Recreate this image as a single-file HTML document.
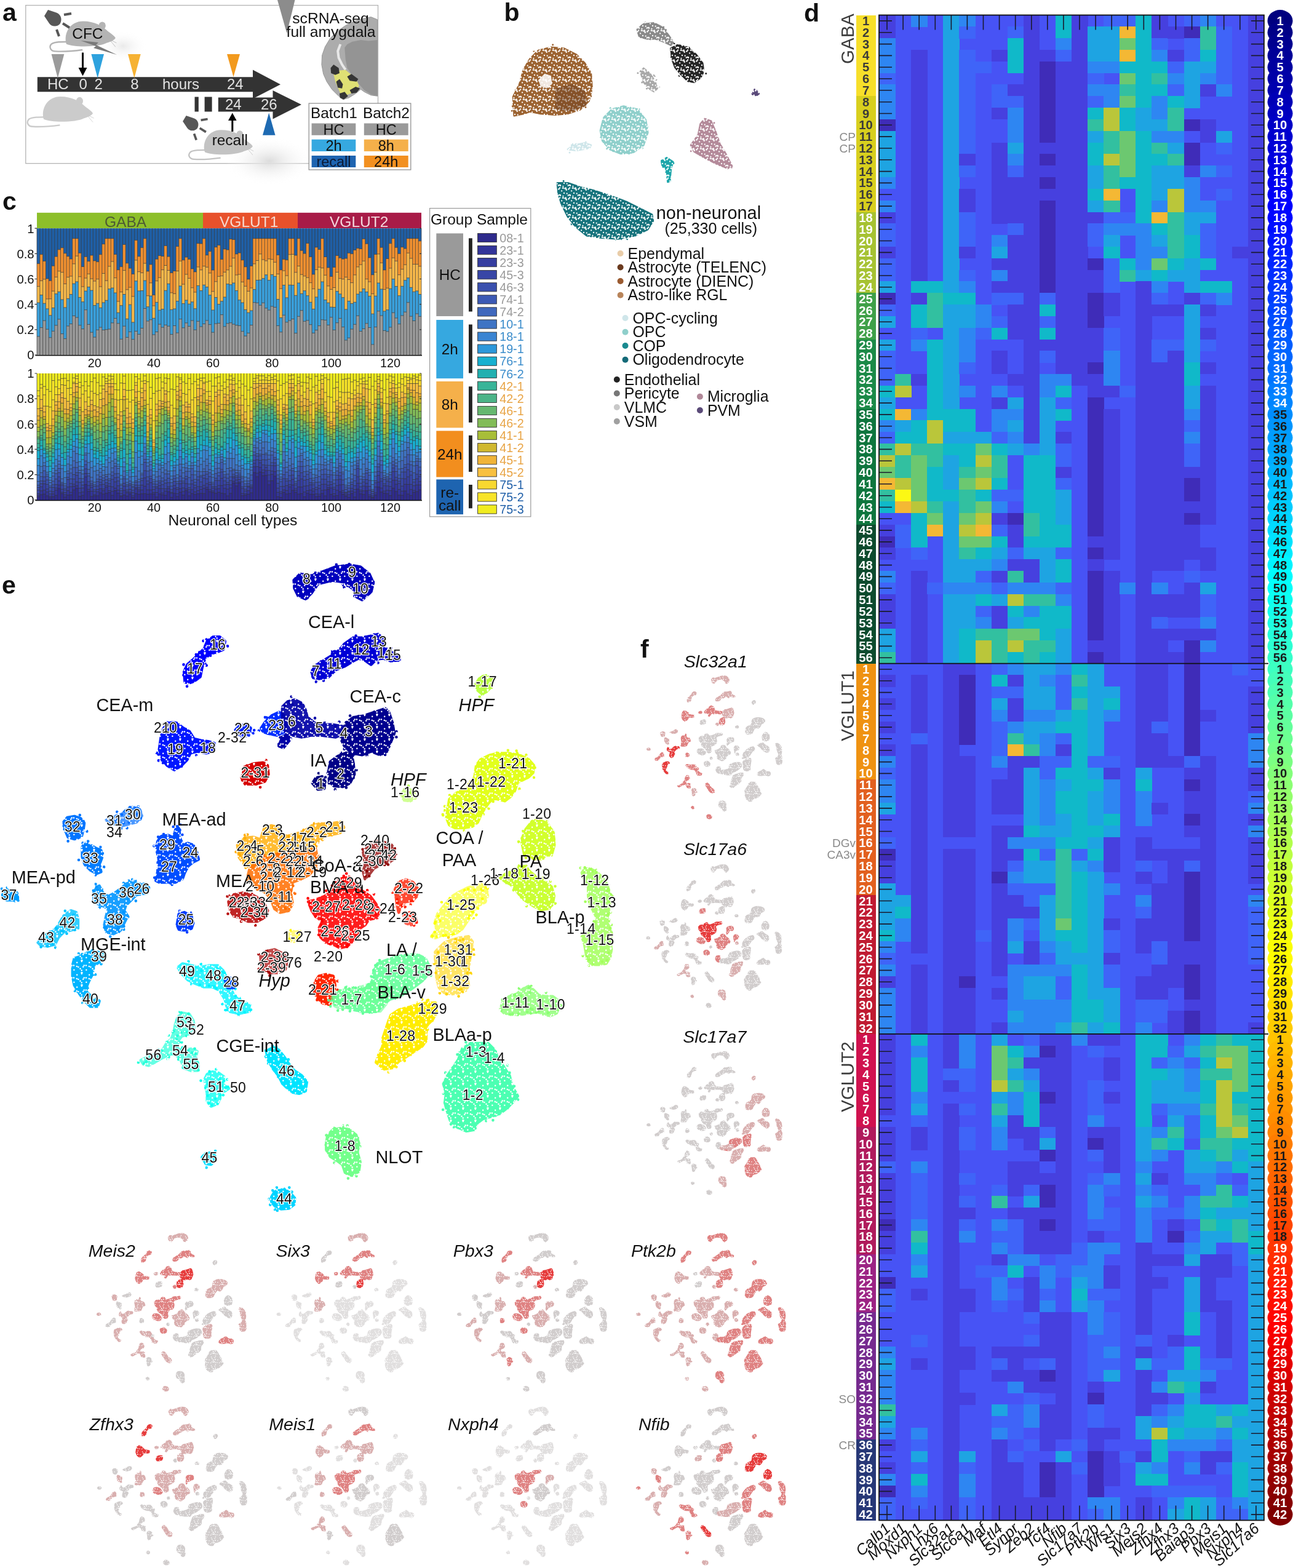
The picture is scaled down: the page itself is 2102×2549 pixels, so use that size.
<!DOCTYPE html>
<html><head><meta charset="utf-8"><title>Figure</title>
<style>html,body{margin:0;padding:0;background:#fff;width:2102px;height:2549px;overflow:hidden;}svg{display:block;}</style></head>
<body><svg width="2102" height="2549" viewBox="0 0 2102 2549">
<rect width="2102" height="2549" fill="#fff"/>
<g shape-rendering="crispEdges"><rect x="1429.0" y="24.5" width="625.9" height="2447.0" fill="#4753f5"/><rect x="1429.0" y="24.5" width="26.5" height="38.0" fill="#4640df"/><rect x="1429.0" y="62.1" width="26.5" height="56.9" fill="#2e86f2"/><rect x="1429.0" y="118.6" width="26.5" height="19.2" fill="#3f64f8"/><rect x="1429.0" y="137.4" width="26.5" height="56.9" fill="#2e86f2"/><rect x="1429.0" y="193.9" width="26.5" height="19.2" fill="#3f2cb8"/><rect x="1429.0" y="212.7" width="26.5" height="75.7" fill="#1ea4e2"/><rect x="1429.0" y="288.0" width="26.5" height="19.2" fill="#2e86f2"/><rect x="1429.0" y="325.7" width="26.5" height="19.2" fill="#2e86f2"/><rect x="1429.0" y="344.5" width="26.5" height="19.2" fill="#4640df"/><rect x="1429.0" y="363.3" width="26.5" height="38.0" fill="#3f64f8"/><rect x="1429.0" y="401.0" width="26.5" height="19.2" fill="#4640df"/><rect x="1429.0" y="419.8" width="26.5" height="38.0" fill="#3f64f8"/><rect x="1429.0" y="457.4" width="26.5" height="19.2" fill="#1ea4e2"/><rect x="1429.0" y="476.3" width="26.5" height="19.2" fill="#3f2cb8"/><rect x="1429.0" y="495.1" width="26.5" height="19.2" fill="#3f64f8"/><rect x="1429.0" y="513.9" width="26.5" height="19.2" fill="#1ea4e2"/><rect x="1429.0" y="551.5" width="26.5" height="19.2" fill="#1ea4e2"/><rect x="1429.0" y="570.4" width="26.5" height="56.9" fill="#3f64f8"/><rect x="1429.0" y="626.8" width="26.5" height="19.2" fill="#10b9c9"/><rect x="1429.0" y="645.7" width="26.5" height="19.2" fill="#1ea4e2"/><rect x="1429.0" y="664.5" width="26.5" height="19.2" fill="#10b9c9"/><rect x="1429.0" y="683.3" width="26.5" height="19.2" fill="#2e86f2"/><rect x="1429.0" y="702.1" width="26.5" height="19.2" fill="#3f64f8"/><rect x="1429.0" y="721.0" width="26.5" height="19.2" fill="#32c0a0"/><rect x="1429.0" y="739.8" width="26.5" height="19.2" fill="#bac63a"/><rect x="1429.0" y="758.6" width="26.5" height="19.2" fill="#6cc870"/><rect x="1429.0" y="777.4" width="26.5" height="19.2" fill="#f4b834"/><rect x="1429.0" y="796.2" width="26.5" height="19.2" fill="#32c0a0"/><rect x="1429.0" y="815.1" width="26.5" height="19.2" fill="#10b9c9"/><rect x="1429.0" y="852.7" width="26.5" height="19.2" fill="#4640df"/><rect x="1429.0" y="871.5" width="26.5" height="19.2" fill="#3f2cb8"/><rect x="1429.0" y="890.4" width="26.5" height="19.2" fill="#4640df"/><rect x="1429.0" y="928.0" width="26.5" height="19.2" fill="#2e86f2"/><rect x="1429.0" y="946.8" width="26.5" height="19.2" fill="#3f64f8"/><rect x="1429.0" y="965.6" width="26.5" height="56.9" fill="#4640df"/><rect x="1429.0" y="1022.1" width="26.5" height="38.0" fill="#1ea4e2"/><rect x="1429.0" y="1059.8" width="26.5" height="19.2" fill="#32c0a0"/><rect x="1429.0" y="1097.4" width="26.5" height="19.2" fill="#4640df"/><rect x="1429.0" y="1135.1" width="26.5" height="19.2" fill="#4640df"/><rect x="1429.0" y="1172.7" width="26.5" height="19.2" fill="#4640df"/><rect x="1429.0" y="1210.3" width="26.5" height="19.2" fill="#4640df"/><rect x="1429.0" y="1229.2" width="26.5" height="19.2" fill="#2e86f2"/><rect x="1429.0" y="1248.0" width="26.5" height="19.2" fill="#3f64f8"/><rect x="1429.0" y="1266.8" width="26.5" height="38.0" fill="#2e86f2"/><rect x="1429.0" y="1304.5" width="26.5" height="19.2" fill="#1ea4e2"/><rect x="1429.0" y="1360.9" width="26.5" height="19.2" fill="#3f64f8"/><rect x="1429.0" y="1379.8" width="26.5" height="19.2" fill="#3f2cb8"/><rect x="1429.0" y="1398.6" width="26.5" height="38.0" fill="#4640df"/><rect x="1429.0" y="1436.2" width="26.5" height="75.7" fill="#1ea4e2"/><rect x="1429.0" y="1511.5" width="26.5" height="19.2" fill="#10b9c9"/><rect x="1429.0" y="1530.3" width="26.5" height="19.2" fill="#2e86f2"/><rect x="1429.0" y="1549.2" width="26.5" height="19.2" fill="#3f64f8"/><rect x="1429.0" y="1568.0" width="26.5" height="19.2" fill="#2e86f2"/><rect x="1429.0" y="1586.8" width="26.5" height="19.2" fill="#4640df"/><rect x="1429.0" y="1605.6" width="26.5" height="75.7" fill="#2e86f2"/><rect x="1429.0" y="1680.9" width="26.5" height="132.2" fill="#4640df"/><rect x="1429.0" y="1831.5" width="26.5" height="56.9" fill="#4640df"/><rect x="1429.0" y="1888.0" width="26.5" height="19.2" fill="#3f64f8"/><rect x="1429.0" y="1906.8" width="26.5" height="75.7" fill="#4640df"/><rect x="1429.0" y="1982.1" width="26.5" height="19.2" fill="#3f2cb8"/><rect x="1429.0" y="2000.9" width="26.5" height="38.0" fill="#4640df"/><rect x="1429.0" y="2076.2" width="26.5" height="19.2" fill="#3f2cb8"/><rect x="1429.0" y="2095.0" width="26.5" height="38.0" fill="#3f64f8"/><rect x="1429.0" y="2189.1" width="26.5" height="19.2" fill="#2e86f2"/><rect x="1429.0" y="2208.0" width="26.5" height="19.2" fill="#1ea4e2"/><rect x="1429.0" y="2226.8" width="26.5" height="56.9" fill="#2e86f2"/><rect x="1429.0" y="2283.3" width="26.5" height="19.2" fill="#32c0a0"/><rect x="1429.0" y="2302.1" width="26.5" height="19.2" fill="#1ea4e2"/><rect x="1429.0" y="2320.9" width="26.5" height="19.2" fill="#2e86f2"/><rect x="1429.0" y="2339.7" width="26.5" height="19.2" fill="#4640df"/><rect x="1429.0" y="2377.4" width="26.5" height="19.2" fill="#4640df"/><rect x="1429.0" y="2396.2" width="26.5" height="19.2" fill="#2e86f2"/><rect x="1429.0" y="2415.0" width="26.5" height="19.2" fill="#3f2cb8"/><rect x="1429.0" y="2433.8" width="26.5" height="38.0" fill="#3f64f8"/><rect x="1455.1" y="608.0" width="26.5" height="19.2" fill="#32c0a0"/><rect x="1455.1" y="626.8" width="26.5" height="19.2" fill="#bac63a"/><rect x="1455.1" y="664.5" width="26.5" height="19.2" fill="#f4b834"/><rect x="1455.1" y="683.3" width="26.5" height="19.2" fill="#1ea4e2"/><rect x="1455.1" y="702.1" width="26.5" height="19.2" fill="#10b9c9"/><rect x="1455.1" y="721.0" width="26.5" height="19.2" fill="#bac63a"/><rect x="1455.1" y="739.8" width="26.5" height="38.0" fill="#32c0a0"/><rect x="1455.1" y="777.4" width="26.5" height="19.2" fill="#bac63a"/><rect x="1455.1" y="796.2" width="26.5" height="19.2" fill="#fcf814"/><rect x="1455.1" y="815.1" width="26.5" height="19.2" fill="#f4b834"/><rect x="1455.1" y="852.7" width="26.5" height="38.0" fill="#3f64f8"/><rect x="1455.1" y="1455.0" width="26.5" height="19.2" fill="#1ea4e2"/><rect x="1455.1" y="1473.9" width="26.5" height="19.2" fill="#10b9c9"/><rect x="1455.1" y="1492.7" width="26.5" height="38.0" fill="#2e86f2"/><rect x="1481.2" y="24.5" width="26.5" height="19.2" fill="#2e86f2"/><rect x="1481.2" y="81.0" width="26.5" height="376.9" fill="#4640df"/><rect x="1481.2" y="457.4" width="26.5" height="19.2" fill="#10b9c9"/><rect x="1481.2" y="476.3" width="26.5" height="19.2" fill="#4640df"/><rect x="1481.2" y="495.1" width="26.5" height="38.0" fill="#10b9c9"/><rect x="1481.2" y="532.7" width="26.5" height="19.2" fill="#3f64f8"/><rect x="1481.2" y="551.5" width="26.5" height="19.2" fill="#2e86f2"/><rect x="1481.2" y="608.0" width="26.5" height="19.2" fill="#4640df"/><rect x="1481.2" y="664.5" width="26.5" height="19.2" fill="#2e86f2"/><rect x="1481.2" y="683.3" width="26.5" height="38.0" fill="#10b9c9"/><rect x="1481.2" y="721.0" width="26.5" height="19.2" fill="#32c0a0"/><rect x="1481.2" y="739.8" width="26.5" height="75.7" fill="#6cc870"/><rect x="1481.2" y="815.1" width="26.5" height="19.2" fill="#bac63a"/><rect x="1481.2" y="833.9" width="26.5" height="56.9" fill="#10b9c9"/><rect x="1481.2" y="890.4" width="26.5" height="19.2" fill="#3f64f8"/><rect x="1481.2" y="928.0" width="26.5" height="151.0" fill="#4640df"/><rect x="1481.2" y="1097.4" width="26.5" height="94.5" fill="#4640df"/><rect x="1481.2" y="1191.5" width="26.5" height="19.2" fill="#3f64f8"/><rect x="1481.2" y="1210.3" width="26.5" height="339.2" fill="#4640df"/><rect x="1481.2" y="1568.0" width="26.5" height="113.3" fill="#4640df"/><rect x="1481.2" y="1680.9" width="26.5" height="19.2" fill="#10b9c9"/><rect x="1481.2" y="1699.7" width="26.5" height="19.2" fill="#2e86f2"/><rect x="1481.2" y="1718.6" width="26.5" height="56.9" fill="#10b9c9"/><rect x="1481.2" y="1775.0" width="26.5" height="19.2" fill="#2e86f2"/><rect x="1481.2" y="1793.9" width="26.5" height="19.2" fill="#1ea4e2"/><rect x="1481.2" y="1812.7" width="26.5" height="19.2" fill="#3f64f8"/><rect x="1481.2" y="1831.5" width="26.5" height="38.0" fill="#4640df"/><rect x="1481.2" y="1888.0" width="26.5" height="19.2" fill="#2e86f2"/><rect x="1481.2" y="1906.8" width="26.5" height="75.7" fill="#3f64f8"/><rect x="1481.2" y="1982.1" width="26.5" height="19.2" fill="#2e86f2"/><rect x="1481.2" y="2000.9" width="26.5" height="19.2" fill="#32c0a0"/><rect x="1481.2" y="2019.7" width="26.5" height="19.2" fill="#10b9c9"/><rect x="1481.2" y="2038.6" width="26.5" height="19.2" fill="#2e86f2"/><rect x="1481.2" y="2057.4" width="26.5" height="19.2" fill="#1ea4e2"/><rect x="1481.2" y="2095.0" width="26.5" height="19.2" fill="#4640df"/><rect x="1481.2" y="2170.3" width="26.5" height="19.2" fill="#3f64f8"/><rect x="1481.2" y="2208.0" width="26.5" height="19.2" fill="#4640df"/><rect x="1481.2" y="2320.9" width="26.5" height="19.2" fill="#2e86f2"/><rect x="1481.2" y="2339.7" width="26.5" height="19.2" fill="#3f64f8"/><rect x="1481.2" y="2358.6" width="26.5" height="19.2" fill="#1ea4e2"/><rect x="1481.2" y="2377.4" width="26.5" height="19.2" fill="#3f64f8"/><rect x="1481.2" y="2396.2" width="26.5" height="19.2" fill="#10b9c9"/><rect x="1481.2" y="2415.0" width="26.5" height="19.2" fill="#2e86f2"/><rect x="1481.2" y="2433.8" width="26.5" height="19.2" fill="#3f64f8"/><rect x="1507.2" y="457.4" width="26.5" height="19.2" fill="#10b9c9"/><rect x="1507.2" y="476.3" width="26.5" height="56.9" fill="#32c0a0"/><rect x="1507.2" y="551.5" width="26.5" height="132.2" fill="#10b9c9"/><rect x="1507.2" y="683.3" width="26.5" height="38.0" fill="#bac63a"/><rect x="1507.2" y="721.0" width="26.5" height="38.0" fill="#32c0a0"/><rect x="1507.2" y="758.6" width="26.5" height="56.9" fill="#10b9c9"/><rect x="1507.2" y="815.1" width="26.5" height="19.2" fill="#32c0a0"/><rect x="1507.2" y="833.9" width="26.5" height="19.2" fill="#6cc870"/><rect x="1507.2" y="852.7" width="26.5" height="19.2" fill="#f4b834"/><rect x="1507.2" y="946.8" width="26.5" height="19.2" fill="#3f64f8"/><rect x="1533.3" y="24.5" width="26.5" height="452.2" fill="#1ea4e2"/><rect x="1533.3" y="476.3" width="26.5" height="19.2" fill="#10b9c9"/><rect x="1533.3" y="495.1" width="26.5" height="169.8" fill="#1ea4e2"/><rect x="1533.3" y="664.5" width="26.5" height="38.0" fill="#10b9c9"/><rect x="1533.3" y="702.1" width="26.5" height="19.2" fill="#1ea4e2"/><rect x="1533.3" y="721.0" width="26.5" height="19.2" fill="#10b9c9"/><rect x="1533.3" y="739.8" width="26.5" height="56.9" fill="#1ea4e2"/><rect x="1533.3" y="796.2" width="26.5" height="19.2" fill="#10b9c9"/><rect x="1533.3" y="815.1" width="26.5" height="132.2" fill="#1ea4e2"/><rect x="1533.3" y="946.8" width="26.5" height="19.2" fill="#2e86f2"/><rect x="1533.3" y="965.6" width="26.5" height="113.3" fill="#1ea4e2"/><rect x="1533.3" y="1078.6" width="26.5" height="282.7" fill="#4640df"/><rect x="1533.3" y="1379.8" width="26.5" height="358.0" fill="#4640df"/><rect x="1533.3" y="1737.4" width="26.5" height="19.2" fill="#3f64f8"/><rect x="1533.3" y="1756.2" width="26.5" height="19.2" fill="#4640df"/><rect x="1533.3" y="1793.9" width="26.5" height="678.0" fill="#4640df"/><rect x="1559.4" y="24.5" width="26.5" height="19.2" fill="#2e86f2"/><rect x="1559.4" y="43.3" width="26.5" height="19.2" fill="#3f64f8"/><rect x="1559.4" y="81.0" width="26.5" height="169.8" fill="#3f64f8"/><rect x="1559.4" y="250.4" width="26.5" height="19.2" fill="#4640df"/><rect x="1559.4" y="269.2" width="26.5" height="19.2" fill="#3f64f8"/><rect x="1559.4" y="306.8" width="26.5" height="38.0" fill="#4640df"/><rect x="1559.4" y="344.5" width="26.5" height="56.9" fill="#3f64f8"/><rect x="1559.4" y="401.0" width="26.5" height="19.2" fill="#4640df"/><rect x="1559.4" y="438.6" width="26.5" height="19.2" fill="#3f64f8"/><rect x="1559.4" y="457.4" width="26.5" height="19.2" fill="#2e86f2"/><rect x="1559.4" y="476.3" width="26.5" height="19.2" fill="#10b9c9"/><rect x="1559.4" y="495.1" width="26.5" height="38.0" fill="#1ea4e2"/><rect x="1559.4" y="532.7" width="26.5" height="56.9" fill="#2e86f2"/><rect x="1559.4" y="589.2" width="26.5" height="19.2" fill="#3f64f8"/><rect x="1559.4" y="626.8" width="26.5" height="19.2" fill="#2e86f2"/><rect x="1559.4" y="664.5" width="26.5" height="38.0" fill="#10b9c9"/><rect x="1559.4" y="702.1" width="26.5" height="19.2" fill="#1ea4e2"/><rect x="1559.4" y="721.0" width="26.5" height="38.0" fill="#10b9c9"/><rect x="1559.4" y="758.6" width="26.5" height="19.2" fill="#32c0a0"/><rect x="1559.4" y="777.4" width="26.5" height="19.2" fill="#6cc870"/><rect x="1559.4" y="796.2" width="26.5" height="38.0" fill="#32c0a0"/><rect x="1559.4" y="833.9" width="26.5" height="19.2" fill="#6cc870"/><rect x="1559.4" y="852.7" width="26.5" height="19.2" fill="#bac63a"/><rect x="1559.4" y="871.5" width="26.5" height="19.2" fill="#6cc870"/><rect x="1559.4" y="890.4" width="26.5" height="19.2" fill="#32c0a0"/><rect x="1559.4" y="909.2" width="26.5" height="38.0" fill="#1ea4e2"/><rect x="1559.4" y="946.8" width="26.5" height="19.2" fill="#2e86f2"/><rect x="1559.4" y="965.6" width="26.5" height="56.9" fill="#1ea4e2"/><rect x="1559.4" y="1022.1" width="26.5" height="56.9" fill="#10b9c9"/><rect x="1559.4" y="1078.6" width="26.5" height="19.2" fill="#4640df"/><rect x="1559.4" y="1097.4" width="26.5" height="113.3" fill="#3f2cb8"/><rect x="1559.4" y="1229.2" width="26.5" height="132.2" fill="#4640df"/><rect x="1559.4" y="1379.8" width="26.5" height="207.5" fill="#4640df"/><rect x="1559.4" y="1586.8" width="26.5" height="19.2" fill="#3f2cb8"/><rect x="1559.4" y="1605.6" width="26.5" height="75.7" fill="#4640df"/><rect x="1559.4" y="1680.9" width="26.5" height="56.9" fill="#2e86f2"/><rect x="1559.4" y="1737.4" width="26.5" height="38.0" fill="#3f64f8"/><rect x="1559.4" y="1793.9" width="26.5" height="19.2" fill="#3f64f8"/><rect x="1559.4" y="1831.5" width="26.5" height="38.0" fill="#3f64f8"/><rect x="1559.4" y="1906.8" width="26.5" height="19.2" fill="#3f64f8"/><rect x="1559.4" y="1944.4" width="26.5" height="19.2" fill="#3f64f8"/><rect x="1559.4" y="1963.3" width="26.5" height="19.2" fill="#4640df"/><rect x="1559.4" y="1982.1" width="26.5" height="19.2" fill="#3f64f8"/><rect x="1559.4" y="2000.9" width="26.5" height="19.2" fill="#2e86f2"/><rect x="1559.4" y="2095.0" width="26.5" height="38.0" fill="#4640df"/><rect x="1559.4" y="2189.1" width="26.5" height="38.0" fill="#4640df"/><rect x="1559.4" y="2264.4" width="26.5" height="19.2" fill="#4640df"/><rect x="1559.4" y="2358.6" width="26.5" height="19.2" fill="#1ea4e2"/><rect x="1559.4" y="2377.4" width="26.5" height="19.2" fill="#3f64f8"/><rect x="1559.4" y="2396.2" width="26.5" height="38.0" fill="#2e86f2"/><rect x="1559.4" y="2433.8" width="26.5" height="38.0" fill="#3f64f8"/><rect x="1585.5" y="99.8" width="26.5" height="19.2" fill="#3f64f8"/><rect x="1585.5" y="495.1" width="26.5" height="38.0" fill="#2e86f2"/><rect x="1585.5" y="532.7" width="26.5" height="19.2" fill="#3f64f8"/><rect x="1585.5" y="702.1" width="26.5" height="19.2" fill="#1ea4e2"/><rect x="1585.5" y="721.0" width="26.5" height="19.2" fill="#6cc870"/><rect x="1585.5" y="739.8" width="26.5" height="19.2" fill="#bac63a"/><rect x="1585.5" y="758.6" width="26.5" height="19.2" fill="#6cc870"/><rect x="1585.5" y="777.4" width="26.5" height="19.2" fill="#bac63a"/><rect x="1585.5" y="796.2" width="26.5" height="19.2" fill="#10b9c9"/><rect x="1585.5" y="815.1" width="26.5" height="19.2" fill="#6cc870"/><rect x="1585.5" y="833.9" width="26.5" height="19.2" fill="#bac63a"/><rect x="1585.5" y="852.7" width="26.5" height="19.2" fill="#f4b834"/><rect x="1585.5" y="871.5" width="26.5" height="19.2" fill="#6cc870"/><rect x="1585.5" y="890.4" width="26.5" height="19.2" fill="#10b9c9"/><rect x="1585.5" y="909.2" width="26.5" height="19.2" fill="#1ea4e2"/><rect x="1585.5" y="928.0" width="26.5" height="19.2" fill="#3f64f8"/><rect x="1585.5" y="946.8" width="26.5" height="19.2" fill="#2e86f2"/><rect x="1585.5" y="965.6" width="26.5" height="19.2" fill="#10b9c9"/><rect x="1585.5" y="984.5" width="26.5" height="19.2" fill="#3f64f8"/><rect x="1585.5" y="1003.3" width="26.5" height="19.2" fill="#2e86f2"/><rect x="1585.5" y="1022.1" width="26.5" height="19.2" fill="#32c0a0"/><rect x="1585.5" y="1040.9" width="26.5" height="38.0" fill="#bac63a"/><rect x="1585.5" y="1511.5" width="26.5" height="19.2" fill="#3f64f8"/><rect x="1585.5" y="2057.4" width="26.5" height="19.2" fill="#3f64f8"/><rect x="1611.6" y="81.0" width="26.5" height="19.2" fill="#4640df"/><rect x="1611.6" y="137.4" width="26.5" height="38.0" fill="#3f64f8"/><rect x="1611.6" y="175.1" width="26.5" height="19.2" fill="#4640df"/><rect x="1611.6" y="231.6" width="26.5" height="132.2" fill="#4640df"/><rect x="1611.6" y="382.1" width="26.5" height="19.2" fill="#2e86f2"/><rect x="1611.6" y="401.0" width="26.5" height="19.2" fill="#1ea4e2"/><rect x="1611.6" y="419.8" width="26.5" height="19.2" fill="#4640df"/><rect x="1611.6" y="438.6" width="26.5" height="19.2" fill="#2e86f2"/><rect x="1611.6" y="457.4" width="26.5" height="19.2" fill="#4640df"/><rect x="1611.6" y="476.3" width="26.5" height="19.2" fill="#3f64f8"/><rect x="1611.6" y="513.9" width="26.5" height="19.2" fill="#3f64f8"/><rect x="1611.6" y="532.7" width="26.5" height="19.2" fill="#10b9c9"/><rect x="1611.6" y="570.4" width="26.5" height="38.0" fill="#4640df"/><rect x="1611.6" y="626.8" width="26.5" height="19.2" fill="#2e86f2"/><rect x="1611.6" y="645.7" width="26.5" height="19.2" fill="#4640df"/><rect x="1611.6" y="664.5" width="26.5" height="38.0" fill="#2e86f2"/><rect x="1611.6" y="702.1" width="26.5" height="19.2" fill="#3f64f8"/><rect x="1611.6" y="721.0" width="26.5" height="19.2" fill="#10b9c9"/><rect x="1611.6" y="739.8" width="26.5" height="38.0" fill="#32c0a0"/><rect x="1611.6" y="777.4" width="26.5" height="19.2" fill="#10b9c9"/><rect x="1611.6" y="796.2" width="26.5" height="19.2" fill="#3f64f8"/><rect x="1611.6" y="815.1" width="26.5" height="19.2" fill="#2e86f2"/><rect x="1611.6" y="833.9" width="26.5" height="19.2" fill="#4640df"/><rect x="1611.6" y="852.7" width="26.5" height="19.2" fill="#3f64f8"/><rect x="1611.6" y="871.5" width="26.5" height="19.2" fill="#10b9c9"/><rect x="1611.6" y="890.4" width="26.5" height="19.2" fill="#1ea4e2"/><rect x="1611.6" y="909.2" width="26.5" height="19.2" fill="#2e86f2"/><rect x="1611.6" y="928.0" width="26.5" height="19.2" fill="#4640df"/><rect x="1611.6" y="946.8" width="26.5" height="19.2" fill="#3f64f8"/><rect x="1611.6" y="965.6" width="26.5" height="19.2" fill="#1ea4e2"/><rect x="1611.6" y="984.5" width="26.5" height="38.0" fill="#4640df"/><rect x="1611.6" y="1022.1" width="26.5" height="56.9" fill="#32c0a0"/><rect x="1611.6" y="1078.6" width="26.5" height="19.2" fill="#3f64f8"/><rect x="1611.6" y="1097.4" width="26.5" height="19.2" fill="#10b9c9"/><rect x="1611.6" y="1116.2" width="26.5" height="19.2" fill="#3f64f8"/><rect x="1611.6" y="1135.1" width="26.5" height="19.2" fill="#1ea4e2"/><rect x="1611.6" y="1153.9" width="26.5" height="19.2" fill="#2e86f2"/><rect x="1611.6" y="1172.7" width="26.5" height="56.9" fill="#3f64f8"/><rect x="1611.6" y="1229.2" width="26.5" height="19.2" fill="#2e86f2"/><rect x="1611.6" y="1266.8" width="26.5" height="56.9" fill="#4640df"/><rect x="1611.6" y="1342.1" width="26.5" height="75.7" fill="#4640df"/><rect x="1611.6" y="1417.4" width="26.5" height="19.2" fill="#3f2cb8"/><rect x="1611.6" y="1436.2" width="26.5" height="151.0" fill="#4640df"/><rect x="1611.6" y="1605.6" width="26.5" height="19.2" fill="#4640df"/><rect x="1611.6" y="1662.1" width="26.5" height="19.2" fill="#4640df"/><rect x="1611.6" y="1680.9" width="26.5" height="19.2" fill="#1ea4e2"/><rect x="1611.6" y="1699.7" width="26.5" height="56.9" fill="#6cc870"/><rect x="1611.6" y="1756.2" width="26.5" height="19.2" fill="#bac63a"/><rect x="1611.6" y="1775.0" width="26.5" height="19.2" fill="#1ea4e2"/><rect x="1611.6" y="1793.9" width="26.5" height="19.2" fill="#32c0a0"/><rect x="1611.6" y="1812.7" width="26.5" height="19.2" fill="#1ea4e2"/><rect x="1611.6" y="1831.5" width="26.5" height="38.0" fill="#2e86f2"/><rect x="1611.6" y="1925.6" width="26.5" height="19.2" fill="#3f64f8"/><rect x="1611.6" y="1944.4" width="26.5" height="19.2" fill="#32c0a0"/><rect x="1611.6" y="1982.1" width="26.5" height="19.2" fill="#2e86f2"/><rect x="1611.6" y="2000.9" width="26.5" height="19.2" fill="#3f64f8"/><rect x="1611.6" y="2019.7" width="26.5" height="19.2" fill="#2e86f2"/><rect x="1611.6" y="2038.6" width="26.5" height="19.2" fill="#4640df"/><rect x="1611.6" y="2057.4" width="26.5" height="19.2" fill="#3f64f8"/><rect x="1611.6" y="2076.2" width="26.5" height="38.0" fill="#2e86f2"/><rect x="1611.6" y="2113.9" width="26.5" height="19.2" fill="#3f64f8"/><rect x="1611.6" y="2189.1" width="26.5" height="19.2" fill="#4640df"/><rect x="1611.6" y="2208.0" width="26.5" height="19.2" fill="#3f64f8"/><rect x="1611.6" y="2226.8" width="26.5" height="19.2" fill="#4640df"/><rect x="1611.6" y="2283.3" width="26.5" height="19.2" fill="#1ea4e2"/><rect x="1611.6" y="2302.1" width="26.5" height="19.2" fill="#3f64f8"/><rect x="1611.6" y="2320.9" width="26.5" height="19.2" fill="#2e86f2"/><rect x="1611.6" y="2339.7" width="26.5" height="132.2" fill="#4640df"/><rect x="1637.6" y="43.3" width="26.5" height="19.2" fill="#3f64f8"/><rect x="1637.6" y="62.1" width="26.5" height="56.9" fill="#10b9c9"/><rect x="1637.6" y="137.4" width="26.5" height="19.2" fill="#4640df"/><rect x="1637.6" y="156.3" width="26.5" height="19.2" fill="#3f64f8"/><rect x="1637.6" y="175.1" width="26.5" height="56.9" fill="#2e86f2"/><rect x="1637.6" y="231.6" width="26.5" height="19.2" fill="#1ea4e2"/><rect x="1637.6" y="250.4" width="26.5" height="19.2" fill="#2e86f2"/><rect x="1637.6" y="269.2" width="26.5" height="19.2" fill="#3f64f8"/><rect x="1637.6" y="288.0" width="26.5" height="75.7" fill="#4640df"/><rect x="1637.6" y="363.3" width="26.5" height="19.2" fill="#3f64f8"/><rect x="1637.6" y="382.1" width="26.5" height="94.5" fill="#4640df"/><rect x="1637.6" y="476.3" width="26.5" height="19.2" fill="#3f64f8"/><rect x="1637.6" y="495.1" width="26.5" height="56.9" fill="#4640df"/><rect x="1637.6" y="608.0" width="26.5" height="19.2" fill="#4640df"/><rect x="1637.6" y="645.7" width="26.5" height="19.2" fill="#1ea4e2"/><rect x="1637.6" y="664.5" width="26.5" height="19.2" fill="#2e86f2"/><rect x="1637.6" y="683.3" width="26.5" height="19.2" fill="#1ea4e2"/><rect x="1637.6" y="702.1" width="26.5" height="19.2" fill="#2e86f2"/><rect x="1637.6" y="721.0" width="26.5" height="19.2" fill="#1ea4e2"/><rect x="1637.6" y="796.2" width="26.5" height="19.2" fill="#3f64f8"/><rect x="1637.6" y="833.9" width="26.5" height="19.2" fill="#3f2cb8"/><rect x="1637.6" y="852.7" width="26.5" height="38.0" fill="#4640df"/><rect x="1637.6" y="890.4" width="26.5" height="19.2" fill="#3f64f8"/><rect x="1637.6" y="909.2" width="26.5" height="19.2" fill="#4640df"/><rect x="1637.6" y="928.0" width="26.5" height="19.2" fill="#32c0a0"/><rect x="1637.6" y="946.8" width="26.5" height="19.2" fill="#2e86f2"/><rect x="1637.6" y="965.6" width="26.5" height="19.2" fill="#bac63a"/><rect x="1637.6" y="984.5" width="26.5" height="19.2" fill="#10b9c9"/><rect x="1637.6" y="1003.3" width="26.5" height="19.2" fill="#1ea4e2"/><rect x="1637.6" y="1022.1" width="26.5" height="19.2" fill="#6cc870"/><rect x="1637.6" y="1040.9" width="26.5" height="19.2" fill="#bac63a"/><rect x="1637.6" y="1059.8" width="26.5" height="19.2" fill="#10b9c9"/><rect x="1637.6" y="1078.6" width="26.5" height="19.2" fill="#2e86f2"/><rect x="1637.6" y="1097.4" width="26.5" height="19.2" fill="#4640df"/><rect x="1637.6" y="1116.2" width="26.5" height="19.2" fill="#3f64f8"/><rect x="1637.6" y="1135.1" width="26.5" height="38.0" fill="#4640df"/><rect x="1637.6" y="1172.7" width="26.5" height="19.2" fill="#2e86f2"/><rect x="1637.6" y="1191.5" width="26.5" height="19.2" fill="#32c0a0"/><rect x="1637.6" y="1210.3" width="26.5" height="19.2" fill="#f4b834"/><rect x="1637.6" y="1229.2" width="26.5" height="94.5" fill="#4640df"/><rect x="1637.6" y="1342.1" width="26.5" height="19.2" fill="#4640df"/><rect x="1637.6" y="1360.9" width="26.5" height="19.2" fill="#2e86f2"/><rect x="1637.6" y="1379.8" width="26.5" height="19.2" fill="#4640df"/><rect x="1637.6" y="1398.6" width="26.5" height="19.2" fill="#3f64f8"/><rect x="1637.6" y="1417.4" width="26.5" height="19.2" fill="#2e86f2"/><rect x="1637.6" y="1436.2" width="26.5" height="19.2" fill="#3f64f8"/><rect x="1637.6" y="1455.0" width="26.5" height="38.0" fill="#4640df"/><rect x="1637.6" y="1492.7" width="26.5" height="38.0" fill="#2e86f2"/><rect x="1637.6" y="1530.3" width="26.5" height="19.2" fill="#1ea4e2"/><rect x="1637.6" y="1568.0" width="26.5" height="75.7" fill="#2e86f2"/><rect x="1637.6" y="1643.3" width="26.5" height="19.2" fill="#1ea4e2"/><rect x="1637.6" y="1662.1" width="26.5" height="19.2" fill="#2e86f2"/><rect x="1637.6" y="1699.7" width="26.5" height="19.2" fill="#10b9c9"/><rect x="1637.6" y="1718.6" width="26.5" height="19.2" fill="#32c0a0"/><rect x="1637.6" y="1737.4" width="26.5" height="19.2" fill="#1ea4e2"/><rect x="1637.6" y="1756.2" width="26.5" height="19.2" fill="#32c0a0"/><rect x="1637.6" y="1775.0" width="26.5" height="38.0" fill="#2e86f2"/><rect x="1637.6" y="1812.7" width="26.5" height="38.0" fill="#4640df"/><rect x="1637.6" y="1888.0" width="26.5" height="56.9" fill="#4640df"/><rect x="1637.6" y="1963.3" width="26.5" height="19.2" fill="#4640df"/><rect x="1637.6" y="1982.1" width="26.5" height="56.9" fill="#3f64f8"/><rect x="1637.6" y="2038.6" width="26.5" height="19.2" fill="#2e86f2"/><rect x="1637.6" y="2057.4" width="26.5" height="19.2" fill="#10b9c9"/><rect x="1637.6" y="2095.0" width="26.5" height="19.2" fill="#3f64f8"/><rect x="1637.6" y="2189.1" width="26.5" height="56.9" fill="#4640df"/><rect x="1637.6" y="2245.6" width="26.5" height="19.2" fill="#2e86f2"/><rect x="1637.6" y="2283.3" width="26.5" height="56.9" fill="#3f64f8"/><rect x="1637.6" y="2358.6" width="26.5" height="19.2" fill="#3f64f8"/><rect x="1637.6" y="2377.4" width="26.5" height="94.5" fill="#4640df"/><rect x="1663.7" y="24.5" width="26.5" height="696.9" fill="#4640df"/><rect x="1663.7" y="721.0" width="26.5" height="19.2" fill="#2e86f2"/><rect x="1663.7" y="739.8" width="26.5" height="94.5" fill="#10b9c9"/><rect x="1663.7" y="833.9" width="26.5" height="38.0" fill="#32c0a0"/><rect x="1663.7" y="871.5" width="26.5" height="19.2" fill="#10b9c9"/><rect x="1663.7" y="890.4" width="26.5" height="19.2" fill="#1ea4e2"/><rect x="1663.7" y="909.2" width="26.5" height="38.0" fill="#4640df"/><rect x="1663.7" y="946.8" width="26.5" height="19.2" fill="#2e86f2"/><rect x="1663.7" y="965.6" width="26.5" height="19.2" fill="#32c0a0"/><rect x="1663.7" y="984.5" width="26.5" height="19.2" fill="#2e86f2"/><rect x="1663.7" y="1003.3" width="26.5" height="19.2" fill="#10b9c9"/><rect x="1663.7" y="1022.1" width="26.5" height="19.2" fill="#6cc870"/><rect x="1663.7" y="1040.9" width="26.5" height="38.0" fill="#32c0a0"/><rect x="1663.7" y="1078.6" width="26.5" height="75.7" fill="#1ea4e2"/><rect x="1663.7" y="1153.9" width="26.5" height="19.2" fill="#2e86f2"/><rect x="1663.7" y="1172.7" width="26.5" height="38.0" fill="#1ea4e2"/><rect x="1663.7" y="1210.3" width="26.5" height="19.2" fill="#32c0a0"/><rect x="1663.7" y="1229.2" width="26.5" height="19.2" fill="#4640df"/><rect x="1663.7" y="1248.0" width="26.5" height="94.5" fill="#1ea4e2"/><rect x="1663.7" y="1342.1" width="26.5" height="19.2" fill="#10b9c9"/><rect x="1663.7" y="1360.9" width="26.5" height="19.2" fill="#2e86f2"/><rect x="1663.7" y="1379.8" width="26.5" height="19.2" fill="#10b9c9"/><rect x="1663.7" y="1398.6" width="26.5" height="38.0" fill="#1ea4e2"/><rect x="1663.7" y="1436.2" width="26.5" height="38.0" fill="#3f64f8"/><rect x="1663.7" y="1473.9" width="26.5" height="19.2" fill="#4640df"/><rect x="1663.7" y="1492.7" width="26.5" height="19.2" fill="#3f64f8"/><rect x="1663.7" y="1530.3" width="26.5" height="38.0" fill="#4640df"/><rect x="1663.7" y="1568.0" width="26.5" height="19.2" fill="#2e86f2"/><rect x="1663.7" y="1586.8" width="26.5" height="38.0" fill="#1ea4e2"/><rect x="1663.7" y="1624.5" width="26.5" height="56.9" fill="#2e86f2"/><rect x="1663.7" y="1680.9" width="26.5" height="19.2" fill="#3f64f8"/><rect x="1663.7" y="1699.7" width="26.5" height="19.2" fill="#2e86f2"/><rect x="1663.7" y="1718.6" width="26.5" height="19.2" fill="#4640df"/><rect x="1663.7" y="1737.4" width="26.5" height="19.2" fill="#2e86f2"/><rect x="1663.7" y="1756.2" width="26.5" height="19.2" fill="#1ea4e2"/><rect x="1663.7" y="1775.0" width="26.5" height="56.9" fill="#10b9c9"/><rect x="1663.7" y="1831.5" width="26.5" height="38.0" fill="#4640df"/><rect x="1663.7" y="1888.0" width="26.5" height="38.0" fill="#4640df"/><rect x="1663.7" y="1925.6" width="26.5" height="19.2" fill="#3f64f8"/><rect x="1663.7" y="1944.4" width="26.5" height="19.2" fill="#1ea4e2"/><rect x="1663.7" y="1963.3" width="26.5" height="75.7" fill="#4640df"/><rect x="1663.7" y="2038.6" width="26.5" height="19.2" fill="#2e86f2"/><rect x="1663.7" y="2076.2" width="26.5" height="56.9" fill="#4640df"/><rect x="1663.7" y="2132.7" width="26.5" height="19.2" fill="#3f64f8"/><rect x="1663.7" y="2170.3" width="26.5" height="19.2" fill="#3f64f8"/><rect x="1663.7" y="2189.1" width="26.5" height="19.2" fill="#4640df"/><rect x="1663.7" y="2226.8" width="26.5" height="38.0" fill="#4640df"/><rect x="1663.7" y="2264.4" width="26.5" height="19.2" fill="#3f64f8"/><rect x="1663.7" y="2283.3" width="26.5" height="38.0" fill="#2e86f2"/><rect x="1663.7" y="2339.7" width="26.5" height="19.2" fill="#3f64f8"/><rect x="1663.7" y="2433.8" width="26.5" height="38.0" fill="#4640df"/><rect x="1689.8" y="81.0" width="26.5" height="19.2" fill="#4640df"/><rect x="1689.8" y="99.8" width="26.5" height="132.2" fill="#3f2cb8"/><rect x="1689.8" y="231.6" width="26.5" height="19.2" fill="#4640df"/><rect x="1689.8" y="250.4" width="26.5" height="19.2" fill="#3f2cb8"/><rect x="1689.8" y="269.2" width="26.5" height="19.2" fill="#4640df"/><rect x="1689.8" y="288.0" width="26.5" height="19.2" fill="#3f2cb8"/><rect x="1689.8" y="306.8" width="26.5" height="19.2" fill="#4640df"/><rect x="1689.8" y="325.7" width="26.5" height="151.0" fill="#3f2cb8"/><rect x="1689.8" y="476.3" width="26.5" height="19.2" fill="#3f64f8"/><rect x="1689.8" y="495.1" width="26.5" height="19.2" fill="#10b9c9"/><rect x="1689.8" y="513.9" width="26.5" height="19.2" fill="#3f64f8"/><rect x="1689.8" y="532.7" width="26.5" height="19.2" fill="#10b9c9"/><rect x="1689.8" y="551.5" width="26.5" height="19.2" fill="#4640df"/><rect x="1689.8" y="570.4" width="26.5" height="19.2" fill="#3f64f8"/><rect x="1689.8" y="608.0" width="26.5" height="38.0" fill="#2e86f2"/><rect x="1689.8" y="645.7" width="26.5" height="94.5" fill="#1ea4e2"/><rect x="1689.8" y="739.8" width="26.5" height="151.0" fill="#10b9c9"/><rect x="1689.8" y="890.4" width="26.5" height="56.9" fill="#1ea4e2"/><rect x="1689.8" y="946.8" width="26.5" height="19.2" fill="#2e86f2"/><rect x="1689.8" y="965.6" width="26.5" height="19.2" fill="#32c0a0"/><rect x="1689.8" y="984.5" width="26.5" height="56.9" fill="#10b9c9"/><rect x="1689.8" y="1040.9" width="26.5" height="19.2" fill="#32c0a0"/><rect x="1689.8" y="1059.8" width="26.5" height="19.2" fill="#10b9c9"/><rect x="1689.8" y="1078.6" width="26.5" height="19.2" fill="#1ea4e2"/><rect x="1689.8" y="1097.4" width="26.5" height="19.2" fill="#2e86f2"/><rect x="1689.8" y="1116.2" width="26.5" height="38.0" fill="#1ea4e2"/><rect x="1689.8" y="1153.9" width="26.5" height="19.2" fill="#2e86f2"/><rect x="1689.8" y="1172.7" width="26.5" height="19.2" fill="#1ea4e2"/><rect x="1689.8" y="1191.5" width="26.5" height="38.0" fill="#2e86f2"/><rect x="1689.8" y="1229.2" width="26.5" height="38.0" fill="#3f64f8"/><rect x="1689.8" y="1266.8" width="26.5" height="75.7" fill="#2e86f2"/><rect x="1689.8" y="1342.1" width="26.5" height="19.2" fill="#1ea4e2"/><rect x="1689.8" y="1360.9" width="26.5" height="19.2" fill="#2e86f2"/><rect x="1689.8" y="1379.8" width="26.5" height="19.2" fill="#3f64f8"/><rect x="1689.8" y="1398.6" width="26.5" height="38.0" fill="#1ea4e2"/><rect x="1689.8" y="1436.2" width="26.5" height="19.2" fill="#3f64f8"/><rect x="1689.8" y="1455.0" width="26.5" height="75.7" fill="#1ea4e2"/><rect x="1689.8" y="1530.3" width="26.5" height="19.2" fill="#2e86f2"/><rect x="1689.8" y="1549.2" width="26.5" height="19.2" fill="#3f64f8"/><rect x="1689.8" y="1568.0" width="26.5" height="19.2" fill="#2e86f2"/><rect x="1689.8" y="1586.8" width="26.5" height="38.0" fill="#1ea4e2"/><rect x="1689.8" y="1624.5" width="26.5" height="56.9" fill="#2e86f2"/><rect x="1689.8" y="1680.9" width="26.5" height="19.2" fill="#4640df"/><rect x="1689.8" y="1699.7" width="26.5" height="19.2" fill="#3f2cb8"/><rect x="1689.8" y="1718.6" width="26.5" height="56.9" fill="#4640df"/><rect x="1689.8" y="1775.0" width="26.5" height="19.2" fill="#3f2cb8"/><rect x="1689.8" y="1793.9" width="26.5" height="38.0" fill="#4640df"/><rect x="1689.8" y="1831.5" width="26.5" height="19.2" fill="#3f64f8"/><rect x="1689.8" y="1850.3" width="26.5" height="19.2" fill="#1ea4e2"/><rect x="1689.8" y="1869.2" width="26.5" height="19.2" fill="#3f2cb8"/><rect x="1689.8" y="1906.8" width="26.5" height="19.2" fill="#4640df"/><rect x="1689.8" y="1925.6" width="26.5" height="38.0" fill="#3f2cb8"/><rect x="1689.8" y="1963.3" width="26.5" height="19.2" fill="#4640df"/><rect x="1689.8" y="1982.1" width="26.5" height="19.2" fill="#3f2cb8"/><rect x="1689.8" y="2000.9" width="26.5" height="38.0" fill="#4640df"/><rect x="1689.8" y="2057.4" width="26.5" height="38.0" fill="#2e86f2"/><rect x="1689.8" y="2095.0" width="26.5" height="19.2" fill="#3f64f8"/><rect x="1689.8" y="2113.9" width="26.5" height="19.2" fill="#2e86f2"/><rect x="1689.8" y="2132.7" width="26.5" height="75.7" fill="#4640df"/><rect x="1689.8" y="2208.0" width="26.5" height="19.2" fill="#3f64f8"/><rect x="1689.8" y="2226.8" width="26.5" height="19.2" fill="#3f2cb8"/><rect x="1689.8" y="2245.6" width="26.5" height="19.2" fill="#4640df"/><rect x="1689.8" y="2283.3" width="26.5" height="75.7" fill="#4640df"/><rect x="1689.8" y="2377.4" width="26.5" height="56.9" fill="#3f2cb8"/><rect x="1689.8" y="2433.8" width="26.5" height="38.0" fill="#4640df"/><rect x="1715.9" y="24.5" width="26.5" height="38.0" fill="#10b9c9"/><rect x="1715.9" y="62.1" width="26.5" height="19.2" fill="#2e86f2"/><rect x="1715.9" y="81.0" width="26.5" height="19.2" fill="#3f64f8"/><rect x="1715.9" y="99.8" width="26.5" height="508.6" fill="#4640df"/><rect x="1715.9" y="608.0" width="26.5" height="19.2" fill="#2e86f2"/><rect x="1715.9" y="626.8" width="26.5" height="19.2" fill="#10b9c9"/><rect x="1715.9" y="645.7" width="26.5" height="19.2" fill="#3f64f8"/><rect x="1715.9" y="664.5" width="26.5" height="19.2" fill="#10b9c9"/><rect x="1715.9" y="702.1" width="26.5" height="19.2" fill="#4640df"/><rect x="1715.9" y="721.0" width="26.5" height="38.0" fill="#3f64f8"/><rect x="1715.9" y="758.6" width="26.5" height="19.2" fill="#4640df"/><rect x="1715.9" y="777.4" width="26.5" height="19.2" fill="#3f64f8"/><rect x="1715.9" y="796.2" width="26.5" height="56.9" fill="#1ea4e2"/><rect x="1715.9" y="852.7" width="26.5" height="38.0" fill="#10b9c9"/><rect x="1715.9" y="890.4" width="26.5" height="19.2" fill="#3f64f8"/><rect x="1715.9" y="909.2" width="26.5" height="38.0" fill="#10b9c9"/><rect x="1715.9" y="946.8" width="26.5" height="19.2" fill="#3f64f8"/><rect x="1715.9" y="965.6" width="26.5" height="19.2" fill="#2e86f2"/><rect x="1715.9" y="984.5" width="26.5" height="38.0" fill="#10b9c9"/><rect x="1715.9" y="1022.1" width="26.5" height="56.9" fill="#1ea4e2"/><rect x="1715.9" y="1078.6" width="26.5" height="19.2" fill="#2e86f2"/><rect x="1715.9" y="1097.4" width="26.5" height="56.9" fill="#3f64f8"/><rect x="1715.9" y="1153.9" width="26.5" height="19.2" fill="#1ea4e2"/><rect x="1715.9" y="1172.7" width="26.5" height="19.2" fill="#10b9c9"/><rect x="1715.9" y="1191.5" width="26.5" height="19.2" fill="#3f64f8"/><rect x="1715.9" y="1210.3" width="26.5" height="19.2" fill="#4640df"/><rect x="1715.9" y="1229.2" width="26.5" height="19.2" fill="#3f64f8"/><rect x="1715.9" y="1248.0" width="26.5" height="19.2" fill="#10b9c9"/><rect x="1715.9" y="1266.8" width="26.5" height="19.2" fill="#1ea4e2"/><rect x="1715.9" y="1285.6" width="26.5" height="38.0" fill="#10b9c9"/><rect x="1715.9" y="1323.3" width="26.5" height="38.0" fill="#1ea4e2"/><rect x="1715.9" y="1360.9" width="26.5" height="19.2" fill="#10b9c9"/><rect x="1715.9" y="1379.8" width="26.5" height="113.3" fill="#32c0a0"/><rect x="1715.9" y="1492.7" width="26.5" height="19.2" fill="#6cc870"/><rect x="1715.9" y="1511.5" width="26.5" height="19.2" fill="#10b9c9"/><rect x="1715.9" y="1530.3" width="26.5" height="38.0" fill="#1ea4e2"/><rect x="1715.9" y="1568.0" width="26.5" height="19.2" fill="#2e86f2"/><rect x="1715.9" y="1586.8" width="26.5" height="38.0" fill="#3f64f8"/><rect x="1715.9" y="1624.5" width="26.5" height="38.0" fill="#2e86f2"/><rect x="1715.9" y="1662.1" width="26.5" height="19.2" fill="#1ea4e2"/><rect x="1715.9" y="1680.9" width="26.5" height="358.0" fill="#4640df"/><rect x="1715.9" y="2038.6" width="26.5" height="38.0" fill="#3f64f8"/><rect x="1715.9" y="2132.7" width="26.5" height="207.5" fill="#4640df"/><rect x="1715.9" y="2358.6" width="26.5" height="19.2" fill="#1ea4e2"/><rect x="1715.9" y="2377.4" width="26.5" height="94.5" fill="#4640df"/><rect x="1742.0" y="24.5" width="26.5" height="602.7" fill="#4640df"/><rect x="1742.0" y="1078.6" width="26.5" height="19.2" fill="#10b9c9"/><rect x="1742.0" y="1097.4" width="26.5" height="19.2" fill="#32c0a0"/><rect x="1742.0" y="1116.2" width="26.5" height="19.2" fill="#10b9c9"/><rect x="1742.0" y="1135.1" width="26.5" height="19.2" fill="#32c0a0"/><rect x="1742.0" y="1153.9" width="26.5" height="226.3" fill="#10b9c9"/><rect x="1742.0" y="1379.8" width="26.5" height="19.2" fill="#3f64f8"/><rect x="1742.0" y="1398.6" width="26.5" height="19.2" fill="#1ea4e2"/><rect x="1742.0" y="1417.4" width="26.5" height="132.2" fill="#10b9c9"/><rect x="1742.0" y="1549.2" width="26.5" height="19.2" fill="#1ea4e2"/><rect x="1742.0" y="1568.0" width="26.5" height="94.5" fill="#10b9c9"/><rect x="1742.0" y="1662.1" width="26.5" height="19.2" fill="#32c0a0"/><rect x="1742.0" y="1680.9" width="26.5" height="19.2" fill="#2e86f2"/><rect x="1742.0" y="2019.7" width="26.5" height="38.0" fill="#3f64f8"/><rect x="1742.0" y="2057.4" width="26.5" height="19.2" fill="#2e86f2"/><rect x="1742.0" y="2076.2" width="26.5" height="19.2" fill="#1ea4e2"/><rect x="1742.0" y="2095.0" width="26.5" height="19.2" fill="#10b9c9"/><rect x="1742.0" y="2113.9" width="26.5" height="19.2" fill="#1ea4e2"/><rect x="1742.0" y="2339.7" width="26.5" height="19.2" fill="#3f64f8"/><rect x="1742.0" y="2377.4" width="26.5" height="19.2" fill="#3f64f8"/><rect x="1768.0" y="43.3" width="26.5" height="56.9" fill="#1ea4e2"/><rect x="1768.0" y="99.8" width="26.5" height="19.2" fill="#2e86f2"/><rect x="1768.0" y="118.6" width="26.5" height="19.2" fill="#3f64f8"/><rect x="1768.0" y="137.4" width="26.5" height="19.2" fill="#2e86f2"/><rect x="1768.0" y="156.3" width="26.5" height="19.2" fill="#3f64f8"/><rect x="1768.0" y="175.1" width="26.5" height="19.2" fill="#10b9c9"/><rect x="1768.0" y="193.9" width="26.5" height="19.2" fill="#32c0a0"/><rect x="1768.0" y="212.7" width="26.5" height="19.2" fill="#1ea4e2"/><rect x="1768.0" y="231.6" width="26.5" height="38.0" fill="#10b9c9"/><rect x="1768.0" y="269.2" width="26.5" height="38.0" fill="#1ea4e2"/><rect x="1768.0" y="306.8" width="26.5" height="19.2" fill="#10b9c9"/><rect x="1768.0" y="325.7" width="26.5" height="19.2" fill="#1ea4e2"/><rect x="1768.0" y="344.5" width="26.5" height="19.2" fill="#4640df"/><rect x="1768.0" y="363.3" width="26.5" height="38.0" fill="#3f64f8"/><rect x="1768.0" y="419.8" width="26.5" height="19.2" fill="#3f2cb8"/><rect x="1768.0" y="438.6" width="26.5" height="38.0" fill="#4640df"/><rect x="1768.0" y="476.3" width="26.5" height="56.9" fill="#3f2cb8"/><rect x="1768.0" y="532.7" width="26.5" height="56.9" fill="#4640df"/><rect x="1768.0" y="589.2" width="26.5" height="19.2" fill="#3f2cb8"/><rect x="1768.0" y="608.0" width="26.5" height="38.0" fill="#4640df"/><rect x="1768.0" y="645.7" width="26.5" height="226.3" fill="#3f2cb8"/><rect x="1768.0" y="871.5" width="26.5" height="19.2" fill="#4640df"/><rect x="1768.0" y="890.4" width="26.5" height="19.2" fill="#3f2cb8"/><rect x="1768.0" y="909.2" width="26.5" height="19.2" fill="#4640df"/><rect x="1768.0" y="928.0" width="26.5" height="113.3" fill="#3f2cb8"/><rect x="1768.0" y="1040.9" width="26.5" height="19.2" fill="#4640df"/><rect x="1768.0" y="1059.8" width="26.5" height="19.2" fill="#3f2cb8"/><rect x="1768.0" y="1078.6" width="26.5" height="151.0" fill="#1ea4e2"/><rect x="1768.0" y="1229.2" width="26.5" height="19.2" fill="#3f64f8"/><rect x="1768.0" y="1248.0" width="26.5" height="19.2" fill="#1ea4e2"/><rect x="1768.0" y="1266.8" width="26.5" height="19.2" fill="#10b9c9"/><rect x="1768.0" y="1285.6" width="26.5" height="56.9" fill="#1ea4e2"/><rect x="1768.0" y="1342.1" width="26.5" height="19.2" fill="#10b9c9"/><rect x="1768.0" y="1360.9" width="26.5" height="19.2" fill="#1ea4e2"/><rect x="1768.0" y="1379.8" width="26.5" height="19.2" fill="#10b9c9"/><rect x="1768.0" y="1398.6" width="26.5" height="19.2" fill="#2e86f2"/><rect x="1768.0" y="1417.4" width="26.5" height="207.5" fill="#1ea4e2"/><rect x="1768.0" y="1624.5" width="26.5" height="38.0" fill="#10b9c9"/><rect x="1768.0" y="1662.1" width="26.5" height="19.2" fill="#1ea4e2"/><rect x="1768.0" y="1680.9" width="26.5" height="19.2" fill="#4640df"/><rect x="1768.0" y="1699.7" width="26.5" height="19.2" fill="#3f64f8"/><rect x="1768.0" y="1756.2" width="26.5" height="56.9" fill="#3f64f8"/><rect x="1768.0" y="1812.7" width="26.5" height="19.2" fill="#2e86f2"/><rect x="1768.0" y="1831.5" width="26.5" height="19.2" fill="#4640df"/><rect x="1768.0" y="1850.3" width="26.5" height="19.2" fill="#3f2cb8"/><rect x="1768.0" y="1869.2" width="26.5" height="19.2" fill="#3f64f8"/><rect x="1768.0" y="1906.8" width="26.5" height="19.2" fill="#3f64f8"/><rect x="1768.0" y="1925.6" width="26.5" height="56.9" fill="#2e86f2"/><rect x="1768.0" y="1982.1" width="26.5" height="19.2" fill="#3f64f8"/><rect x="1768.0" y="2000.9" width="26.5" height="19.2" fill="#4640df"/><rect x="1768.0" y="2019.7" width="26.5" height="75.7" fill="#2e86f2"/><rect x="1768.0" y="2095.0" width="26.5" height="19.2" fill="#3f64f8"/><rect x="1768.0" y="2113.9" width="26.5" height="56.9" fill="#2e86f2"/><rect x="1768.0" y="2170.3" width="26.5" height="75.7" fill="#3f64f8"/><rect x="1768.0" y="2245.6" width="26.5" height="19.2" fill="#4640df"/><rect x="1768.0" y="2264.4" width="26.5" height="19.2" fill="#3f2cb8"/><rect x="1768.0" y="2283.3" width="26.5" height="38.0" fill="#3f64f8"/><rect x="1768.0" y="2320.9" width="26.5" height="38.0" fill="#4640df"/><rect x="1768.0" y="2358.6" width="26.5" height="75.7" fill="#3f2cb8"/><rect x="1768.0" y="2433.8" width="26.5" height="19.2" fill="#2e86f2"/><rect x="1768.0" y="2452.7" width="26.5" height="19.2" fill="#3f64f8"/><rect x="1794.1" y="24.5" width="26.5" height="19.2" fill="#3f64f8"/><rect x="1794.1" y="43.3" width="26.5" height="56.9" fill="#1ea4e2"/><rect x="1794.1" y="99.8" width="26.5" height="19.2" fill="#2e86f2"/><rect x="1794.1" y="137.4" width="26.5" height="38.0" fill="#2e86f2"/><rect x="1794.1" y="175.1" width="26.5" height="38.0" fill="#bac63a"/><rect x="1794.1" y="212.7" width="26.5" height="38.0" fill="#32c0a0"/><rect x="1794.1" y="250.4" width="26.5" height="19.2" fill="#bac63a"/><rect x="1794.1" y="269.2" width="26.5" height="38.0" fill="#32c0a0"/><rect x="1794.1" y="306.8" width="26.5" height="19.2" fill="#f4b834"/><rect x="1794.1" y="325.7" width="26.5" height="19.2" fill="#32c0a0"/><rect x="1794.1" y="344.5" width="26.5" height="19.2" fill="#3f64f8"/><rect x="1794.1" y="363.3" width="26.5" height="19.2" fill="#2e86f2"/><rect x="1794.1" y="382.1" width="26.5" height="19.2" fill="#1ea4e2"/><rect x="1794.1" y="401.0" width="26.5" height="19.2" fill="#10b9c9"/><rect x="1794.1" y="419.8" width="26.5" height="56.9" fill="#3f64f8"/><rect x="1794.1" y="476.3" width="26.5" height="38.0" fill="#4640df"/><rect x="1794.1" y="532.7" width="26.5" height="38.0" fill="#3f64f8"/><rect x="1794.1" y="570.4" width="26.5" height="56.9" fill="#2e86f2"/><rect x="1794.1" y="626.8" width="26.5" height="19.2" fill="#4640df"/><rect x="1794.1" y="664.5" width="26.5" height="245.1" fill="#4640df"/><rect x="1794.1" y="928.0" width="26.5" height="151.0" fill="#4640df"/><rect x="1794.1" y="1116.2" width="26.5" height="19.2" fill="#1ea4e2"/><rect x="1794.1" y="1135.1" width="26.5" height="19.2" fill="#10b9c9"/><rect x="1794.1" y="1153.9" width="26.5" height="19.2" fill="#2e86f2"/><rect x="1794.1" y="1229.2" width="26.5" height="19.2" fill="#3f64f8"/><rect x="1794.1" y="1248.0" width="26.5" height="19.2" fill="#4640df"/><rect x="1794.1" y="1266.8" width="26.5" height="56.9" fill="#2e86f2"/><rect x="1794.1" y="1323.3" width="26.5" height="19.2" fill="#10b9c9"/><rect x="1794.1" y="1342.1" width="26.5" height="19.2" fill="#1ea4e2"/><rect x="1794.1" y="1360.9" width="26.5" height="56.9" fill="#4640df"/><rect x="1794.1" y="1436.2" width="26.5" height="19.2" fill="#2e86f2"/><rect x="1794.1" y="1492.7" width="26.5" height="19.2" fill="#4640df"/><rect x="1794.1" y="1511.5" width="26.5" height="38.0" fill="#3f64f8"/><rect x="1794.1" y="1549.2" width="26.5" height="19.2" fill="#4640df"/><rect x="1794.1" y="1568.0" width="26.5" height="38.0" fill="#3f64f8"/><rect x="1794.1" y="1605.6" width="26.5" height="56.9" fill="#1ea4e2"/><rect x="1794.1" y="1662.1" width="26.5" height="19.2" fill="#10b9c9"/><rect x="1794.1" y="1680.9" width="26.5" height="19.2" fill="#4640df"/><rect x="1794.1" y="1718.6" width="26.5" height="38.0" fill="#4640df"/><rect x="1794.1" y="1775.0" width="26.5" height="19.2" fill="#4640df"/><rect x="1794.1" y="1831.5" width="26.5" height="75.7" fill="#4640df"/><rect x="1794.1" y="1906.8" width="26.5" height="19.2" fill="#2e86f2"/><rect x="1794.1" y="1925.6" width="26.5" height="19.2" fill="#3f64f8"/><rect x="1794.1" y="1963.3" width="26.5" height="38.0" fill="#3f64f8"/><rect x="1794.1" y="2019.7" width="26.5" height="19.2" fill="#2e86f2"/><rect x="1794.1" y="2057.4" width="26.5" height="38.0" fill="#4640df"/><rect x="1794.1" y="2095.0" width="26.5" height="19.2" fill="#3f64f8"/><rect x="1794.1" y="2132.7" width="26.5" height="56.9" fill="#3f64f8"/><rect x="1794.1" y="2189.1" width="26.5" height="19.2" fill="#2e86f2"/><rect x="1794.1" y="2208.0" width="26.5" height="19.2" fill="#3f64f8"/><rect x="1794.1" y="2226.8" width="26.5" height="19.2" fill="#1ea4e2"/><rect x="1794.1" y="2320.9" width="26.5" height="19.2" fill="#4640df"/><rect x="1794.1" y="2358.6" width="26.5" height="56.9" fill="#4640df"/><rect x="1794.1" y="2433.8" width="26.5" height="38.0" fill="#2e86f2"/><rect x="1820.2" y="24.5" width="26.5" height="19.2" fill="#3f64f8"/><rect x="1820.2" y="43.3" width="26.5" height="19.2" fill="#f4b834"/><rect x="1820.2" y="62.1" width="26.5" height="19.2" fill="#6cc870"/><rect x="1820.2" y="81.0" width="26.5" height="19.2" fill="#f4b834"/><rect x="1820.2" y="99.8" width="26.5" height="19.2" fill="#10b9c9"/><rect x="1820.2" y="118.6" width="26.5" height="19.2" fill="#6cc870"/><rect x="1820.2" y="137.4" width="26.5" height="19.2" fill="#32c0a0"/><rect x="1820.2" y="156.3" width="26.5" height="19.2" fill="#6cc870"/><rect x="1820.2" y="175.1" width="26.5" height="38.0" fill="#10b9c9"/><rect x="1820.2" y="212.7" width="26.5" height="75.7" fill="#6cc870"/><rect x="1820.2" y="288.0" width="26.5" height="19.2" fill="#10b9c9"/><rect x="1820.2" y="344.5" width="26.5" height="19.2" fill="#3f64f8"/><rect x="1820.2" y="363.3" width="26.5" height="19.2" fill="#2e86f2"/><rect x="1820.2" y="419.8" width="26.5" height="19.2" fill="#10b9c9"/><rect x="1820.2" y="438.6" width="26.5" height="19.2" fill="#32c0a0"/><rect x="1820.2" y="626.8" width="26.5" height="19.2" fill="#3f64f8"/><rect x="1820.2" y="946.8" width="26.5" height="19.2" fill="#2e86f2"/><rect x="1820.2" y="2358.6" width="26.5" height="19.2" fill="#3f64f8"/><rect x="1846.3" y="24.5" width="26.5" height="151.0" fill="#10b9c9"/><rect x="1846.3" y="175.1" width="26.5" height="38.0" fill="#1ea4e2"/><rect x="1846.3" y="212.7" width="26.5" height="151.0" fill="#10b9c9"/><rect x="1846.3" y="363.3" width="26.5" height="75.7" fill="#2e86f2"/><rect x="1846.3" y="438.6" width="26.5" height="19.2" fill="#1ea4e2"/><rect x="1846.3" y="457.4" width="26.5" height="791.0" fill="#4640df"/><rect x="1846.3" y="1248.0" width="26.5" height="19.2" fill="#1ea4e2"/><rect x="1846.3" y="1266.8" width="26.5" height="19.2" fill="#10b9c9"/><rect x="1846.3" y="1285.6" width="26.5" height="56.9" fill="#2e86f2"/><rect x="1846.3" y="1360.9" width="26.5" height="38.0" fill="#4640df"/><rect x="1846.3" y="1398.6" width="26.5" height="19.2" fill="#3f64f8"/><rect x="1846.3" y="1417.4" width="26.5" height="19.2" fill="#4640df"/><rect x="1846.3" y="1455.0" width="26.5" height="19.2" fill="#2e86f2"/><rect x="1846.3" y="1473.9" width="26.5" height="19.2" fill="#3f64f8"/><rect x="1846.3" y="1492.7" width="26.5" height="56.9" fill="#4640df"/><rect x="1846.3" y="1586.8" width="26.5" height="38.0" fill="#4640df"/><rect x="1846.3" y="1624.5" width="26.5" height="38.0" fill="#3f64f8"/><rect x="1846.3" y="1662.1" width="26.5" height="19.2" fill="#2e86f2"/><rect x="1846.3" y="1680.9" width="26.5" height="151.0" fill="#10b9c9"/><rect x="1846.3" y="1831.5" width="26.5" height="56.9" fill="#1ea4e2"/><rect x="1846.3" y="1888.0" width="26.5" height="19.2" fill="#2e86f2"/><rect x="1846.3" y="1906.8" width="26.5" height="19.2" fill="#1ea4e2"/><rect x="1846.3" y="1925.6" width="26.5" height="19.2" fill="#2e86f2"/><rect x="1846.3" y="1944.4" width="26.5" height="19.2" fill="#1ea4e2"/><rect x="1846.3" y="1963.3" width="26.5" height="56.9" fill="#2e86f2"/><rect x="1846.3" y="2019.7" width="26.5" height="151.0" fill="#4640df"/><rect x="1846.3" y="2170.3" width="26.5" height="19.2" fill="#3f64f8"/><rect x="1846.3" y="2189.1" width="26.5" height="19.2" fill="#4640df"/><rect x="1846.3" y="2208.0" width="26.5" height="19.2" fill="#1ea4e2"/><rect x="1846.3" y="2226.8" width="26.5" height="75.7" fill="#4640df"/><rect x="1846.3" y="2302.1" width="26.5" height="38.0" fill="#1ea4e2"/><rect x="1846.3" y="2358.6" width="26.5" height="19.2" fill="#4640df"/><rect x="1846.3" y="2377.4" width="26.5" height="19.2" fill="#1ea4e2"/><rect x="1846.3" y="2396.2" width="26.5" height="19.2" fill="#10b9c9"/><rect x="1846.3" y="2433.8" width="26.5" height="38.0" fill="#4640df"/><rect x="1872.4" y="24.5" width="26.5" height="38.0" fill="#4640df"/><rect x="1872.4" y="62.1" width="26.5" height="19.2" fill="#3f64f8"/><rect x="1872.4" y="81.0" width="26.5" height="19.2" fill="#2e86f2"/><rect x="1872.4" y="99.8" width="26.5" height="19.2" fill="#10b9c9"/><rect x="1872.4" y="118.6" width="26.5" height="19.2" fill="#32c0a0"/><rect x="1872.4" y="137.4" width="26.5" height="19.2" fill="#10b9c9"/><rect x="1872.4" y="156.3" width="26.5" height="38.0" fill="#2e86f2"/><rect x="1872.4" y="193.9" width="26.5" height="19.2" fill="#1ea4e2"/><rect x="1872.4" y="212.7" width="26.5" height="19.2" fill="#2e86f2"/><rect x="1872.4" y="231.6" width="26.5" height="19.2" fill="#32c0a0"/><rect x="1872.4" y="250.4" width="26.5" height="19.2" fill="#10b9c9"/><rect x="1872.4" y="269.2" width="26.5" height="56.9" fill="#1ea4e2"/><rect x="1872.4" y="325.7" width="26.5" height="19.2" fill="#2e86f2"/><rect x="1872.4" y="344.5" width="26.5" height="19.2" fill="#f4b834"/><rect x="1872.4" y="363.3" width="26.5" height="19.2" fill="#10b9c9"/><rect x="1872.4" y="382.1" width="26.5" height="19.2" fill="#1ea4e2"/><rect x="1872.4" y="401.0" width="26.5" height="19.2" fill="#2e86f2"/><rect x="1872.4" y="419.8" width="26.5" height="19.2" fill="#6cc870"/><rect x="1872.4" y="438.6" width="26.5" height="19.2" fill="#10b9c9"/><rect x="1872.4" y="457.4" width="26.5" height="19.2" fill="#2e86f2"/><rect x="1872.4" y="476.3" width="26.5" height="19.2" fill="#3f64f8"/><rect x="1872.4" y="495.1" width="26.5" height="19.2" fill="#4640df"/><rect x="1872.4" y="551.5" width="26.5" height="38.0" fill="#3f64f8"/><rect x="1872.4" y="589.2" width="26.5" height="339.2" fill="#4640df"/><rect x="1872.4" y="946.8" width="26.5" height="19.2" fill="#2e86f2"/><rect x="1872.4" y="965.6" width="26.5" height="38.0" fill="#4640df"/><rect x="1872.4" y="1003.3" width="26.5" height="19.2" fill="#3f64f8"/><rect x="1872.4" y="1022.1" width="26.5" height="151.0" fill="#4640df"/><rect x="1872.4" y="1172.7" width="26.5" height="19.2" fill="#3f64f8"/><rect x="1872.4" y="1191.5" width="26.5" height="56.9" fill="#4640df"/><rect x="1872.4" y="1304.5" width="26.5" height="19.2" fill="#4640df"/><rect x="1872.4" y="1379.8" width="26.5" height="19.2" fill="#4640df"/><rect x="1872.4" y="1436.2" width="26.5" height="94.5" fill="#4640df"/><rect x="1872.4" y="1530.3" width="26.5" height="38.0" fill="#3f64f8"/><rect x="1872.4" y="1568.0" width="26.5" height="56.9" fill="#4640df"/><rect x="1872.4" y="1624.5" width="26.5" height="38.0" fill="#3f64f8"/><rect x="1872.4" y="1680.9" width="26.5" height="38.0" fill="#10b9c9"/><rect x="1872.4" y="1718.6" width="26.5" height="19.2" fill="#3f64f8"/><rect x="1872.4" y="1737.4" width="26.5" height="19.2" fill="#10b9c9"/><rect x="1872.4" y="1756.2" width="26.5" height="38.0" fill="#1ea4e2"/><rect x="1872.4" y="1793.9" width="26.5" height="19.2" fill="#3f64f8"/><rect x="1872.4" y="1831.5" width="26.5" height="19.2" fill="#2e86f2"/><rect x="1872.4" y="1850.3" width="26.5" height="19.2" fill="#32c0a0"/><rect x="1872.4" y="1869.2" width="26.5" height="19.2" fill="#2e86f2"/><rect x="1872.4" y="1906.8" width="26.5" height="19.2" fill="#4640df"/><rect x="1872.4" y="1925.6" width="26.5" height="19.2" fill="#3f64f8"/><rect x="1872.4" y="1944.4" width="26.5" height="19.2" fill="#2e86f2"/><rect x="1872.4" y="1963.3" width="26.5" height="19.2" fill="#3f64f8"/><rect x="1872.4" y="2038.6" width="26.5" height="19.2" fill="#4640df"/><rect x="1872.4" y="2076.2" width="26.5" height="19.2" fill="#4640df"/><rect x="1872.4" y="2208.0" width="26.5" height="19.2" fill="#3f64f8"/><rect x="1872.4" y="2245.6" width="26.5" height="19.2" fill="#2e86f2"/><rect x="1872.4" y="2264.4" width="26.5" height="19.2" fill="#4640df"/><rect x="1872.4" y="2283.3" width="26.5" height="19.2" fill="#3f64f8"/><rect x="1872.4" y="2302.1" width="26.5" height="19.2" fill="#2e86f2"/><rect x="1872.4" y="2320.9" width="26.5" height="19.2" fill="#bac63a"/><rect x="1872.4" y="2339.7" width="26.5" height="38.0" fill="#10b9c9"/><rect x="1872.4" y="2377.4" width="26.5" height="19.2" fill="#2e86f2"/><rect x="1872.4" y="2396.2" width="26.5" height="19.2" fill="#10b9c9"/><rect x="1872.4" y="2415.0" width="26.5" height="19.2" fill="#3f64f8"/><rect x="1898.4" y="43.3" width="26.5" height="19.2" fill="#4640df"/><rect x="1898.4" y="81.0" width="26.5" height="19.2" fill="#4640df"/><rect x="1898.4" y="99.8" width="26.5" height="19.2" fill="#3f64f8"/><rect x="1898.4" y="118.6" width="26.5" height="19.2" fill="#2e86f2"/><rect x="1898.4" y="137.4" width="26.5" height="19.2" fill="#3f64f8"/><rect x="1898.4" y="156.3" width="26.5" height="19.2" fill="#10b9c9"/><rect x="1898.4" y="175.1" width="26.5" height="38.0" fill="#32c0a0"/><rect x="1898.4" y="212.7" width="26.5" height="19.2" fill="#2e86f2"/><rect x="1898.4" y="231.6" width="26.5" height="19.2" fill="#1ea4e2"/><rect x="1898.4" y="250.4" width="26.5" height="19.2" fill="#32c0a0"/><rect x="1898.4" y="269.2" width="26.5" height="38.0" fill="#1ea4e2"/><rect x="1898.4" y="306.8" width="26.5" height="38.0" fill="#bac63a"/><rect x="1898.4" y="344.5" width="26.5" height="75.7" fill="#32c0a0"/><rect x="1898.4" y="419.8" width="26.5" height="19.2" fill="#10b9c9"/><rect x="1898.4" y="438.6" width="26.5" height="19.2" fill="#1ea4e2"/><rect x="1898.4" y="495.1" width="26.5" height="19.2" fill="#4640df"/><rect x="1898.4" y="551.5" width="26.5" height="19.2" fill="#3f64f8"/><rect x="1898.4" y="570.4" width="26.5" height="358.0" fill="#4640df"/><rect x="1898.4" y="965.6" width="26.5" height="38.0" fill="#4640df"/><rect x="1898.4" y="1022.1" width="26.5" height="19.2" fill="#4640df"/><rect x="1898.4" y="1059.8" width="26.5" height="19.2" fill="#4640df"/><rect x="1898.4" y="1229.2" width="26.5" height="19.2" fill="#4640df"/><rect x="1898.4" y="1379.8" width="26.5" height="226.3" fill="#4640df"/><rect x="1898.4" y="1643.3" width="26.5" height="38.0" fill="#4640df"/><rect x="1898.4" y="1699.7" width="26.5" height="19.2" fill="#3f64f8"/><rect x="1898.4" y="1718.6" width="26.5" height="19.2" fill="#2e86f2"/><rect x="1898.4" y="1737.4" width="26.5" height="56.9" fill="#1ea4e2"/><rect x="1898.4" y="1793.9" width="26.5" height="19.2" fill="#2e86f2"/><rect x="1898.4" y="1812.7" width="26.5" height="19.2" fill="#1ea4e2"/><rect x="1898.4" y="1831.5" width="26.5" height="19.2" fill="#32c0a0"/><rect x="1898.4" y="1850.3" width="26.5" height="19.2" fill="#10b9c9"/><rect x="1898.4" y="1963.3" width="26.5" height="19.2" fill="#3f64f8"/><rect x="1898.4" y="1982.1" width="26.5" height="19.2" fill="#4640df"/><rect x="1898.4" y="2000.9" width="26.5" height="19.2" fill="#3f2cb8"/><rect x="1898.4" y="2038.6" width="26.5" height="19.2" fill="#4640df"/><rect x="1898.4" y="2170.3" width="26.5" height="19.2" fill="#4640df"/><rect x="1898.4" y="2189.1" width="26.5" height="38.0" fill="#3f64f8"/><rect x="1898.4" y="2226.8" width="26.5" height="19.2" fill="#1ea4e2"/><rect x="1898.4" y="2245.6" width="26.5" height="19.2" fill="#32c0a0"/><rect x="1898.4" y="2283.3" width="26.5" height="19.2" fill="#2e86f2"/><rect x="1898.4" y="2302.1" width="26.5" height="19.2" fill="#1ea4e2"/><rect x="1898.4" y="2320.9" width="26.5" height="19.2" fill="#10b9c9"/><rect x="1898.4" y="2339.7" width="26.5" height="19.2" fill="#2e86f2"/><rect x="1898.4" y="2415.0" width="26.5" height="19.2" fill="#3f64f8"/><rect x="1898.4" y="2433.8" width="26.5" height="19.2" fill="#2e86f2"/><rect x="1898.4" y="2452.7" width="26.5" height="19.2" fill="#1ea4e2"/><rect x="1924.5" y="24.5" width="26.5" height="19.2" fill="#3f64f8"/><rect x="1924.5" y="43.3" width="26.5" height="19.2" fill="#3f2cb8"/><rect x="1924.5" y="62.1" width="26.5" height="38.0" fill="#3f64f8"/><rect x="1924.5" y="99.8" width="26.5" height="75.7" fill="#1ea4e2"/><rect x="1924.5" y="193.9" width="26.5" height="19.2" fill="#3f2cb8"/><rect x="1924.5" y="231.6" width="26.5" height="38.0" fill="#3f2cb8"/><rect x="1924.5" y="269.2" width="26.5" height="19.2" fill="#4640df"/><rect x="1924.5" y="288.0" width="26.5" height="56.9" fill="#2e86f2"/><rect x="1924.5" y="344.5" width="26.5" height="38.0" fill="#1ea4e2"/><rect x="1924.5" y="382.1" width="26.5" height="38.0" fill="#10b9c9"/><rect x="1924.5" y="419.8" width="26.5" height="56.9" fill="#1ea4e2"/><rect x="1924.5" y="476.3" width="26.5" height="19.2" fill="#4640df"/><rect x="1924.5" y="495.1" width="26.5" height="94.5" fill="#1ea4e2"/><rect x="1924.5" y="589.2" width="26.5" height="38.0" fill="#10b9c9"/><rect x="1924.5" y="626.8" width="26.5" height="38.0" fill="#1ea4e2"/><rect x="1924.5" y="664.5" width="26.5" height="19.2" fill="#2e86f2"/><rect x="1924.5" y="683.3" width="26.5" height="19.2" fill="#3f64f8"/><rect x="1924.5" y="702.1" width="26.5" height="19.2" fill="#2e86f2"/><rect x="1924.5" y="721.0" width="26.5" height="38.0" fill="#3f64f8"/><rect x="1924.5" y="758.6" width="26.5" height="19.2" fill="#4640df"/><rect x="1924.5" y="777.4" width="26.5" height="38.0" fill="#3f2cb8"/><rect x="1924.5" y="815.1" width="26.5" height="19.2" fill="#4640df"/><rect x="1924.5" y="833.9" width="26.5" height="19.2" fill="#3f2cb8"/><rect x="1924.5" y="852.7" width="26.5" height="56.9" fill="#4640df"/><rect x="1924.5" y="928.0" width="26.5" height="19.2" fill="#3f64f8"/><rect x="1924.5" y="946.8" width="26.5" height="56.9" fill="#4640df"/><rect x="1924.5" y="1022.1" width="26.5" height="19.2" fill="#4640df"/><rect x="1924.5" y="1040.9" width="26.5" height="188.6" fill="#3f2cb8"/><rect x="1924.5" y="1229.2" width="26.5" height="19.2" fill="#3f64f8"/><rect x="1924.5" y="1248.0" width="26.5" height="19.2" fill="#4640df"/><rect x="1924.5" y="1266.8" width="26.5" height="19.2" fill="#3f2cb8"/><rect x="1924.5" y="1285.6" width="26.5" height="38.0" fill="#4640df"/><rect x="1924.5" y="1323.3" width="26.5" height="19.2" fill="#3f2cb8"/><rect x="1924.5" y="1342.1" width="26.5" height="19.2" fill="#4640df"/><rect x="1924.5" y="1379.8" width="26.5" height="19.2" fill="#4640df"/><rect x="1924.5" y="1398.6" width="26.5" height="19.2" fill="#3f64f8"/><rect x="1924.5" y="1417.4" width="26.5" height="113.3" fill="#3f2cb8"/><rect x="1924.5" y="1530.3" width="26.5" height="38.0" fill="#4640df"/><rect x="1924.5" y="1568.0" width="26.5" height="56.9" fill="#3f2cb8"/><rect x="1924.5" y="1624.5" width="26.5" height="19.2" fill="#4640df"/><rect x="1924.5" y="1643.3" width="26.5" height="38.0" fill="#3f2cb8"/><rect x="1924.5" y="1680.9" width="26.5" height="19.2" fill="#2e86f2"/><rect x="1924.5" y="1699.7" width="26.5" height="19.2" fill="#1ea4e2"/><rect x="1924.5" y="1718.6" width="26.5" height="19.2" fill="#3f64f8"/><rect x="1924.5" y="1737.4" width="26.5" height="38.0" fill="#2e86f2"/><rect x="1924.5" y="1775.0" width="26.5" height="19.2" fill="#1ea4e2"/><rect x="1924.5" y="1793.9" width="26.5" height="19.2" fill="#2e86f2"/><rect x="1924.5" y="1812.7" width="26.5" height="38.0" fill="#3f64f8"/><rect x="1924.5" y="1869.2" width="26.5" height="38.0" fill="#1ea4e2"/><rect x="1924.5" y="1906.8" width="26.5" height="19.2" fill="#2e86f2"/><rect x="1924.5" y="1944.4" width="26.5" height="38.0" fill="#2e86f2"/><rect x="1924.5" y="2000.9" width="26.5" height="19.2" fill="#3f64f8"/><rect x="1924.5" y="2019.7" width="26.5" height="19.2" fill="#2e86f2"/><rect x="1924.5" y="2038.6" width="26.5" height="19.2" fill="#1ea4e2"/><rect x="1924.5" y="2076.2" width="26.5" height="56.9" fill="#1ea4e2"/><rect x="1924.5" y="2132.7" width="26.5" height="38.0" fill="#10b9c9"/><rect x="1924.5" y="2189.1" width="26.5" height="38.0" fill="#10b9c9"/><rect x="1924.5" y="2226.8" width="26.5" height="19.2" fill="#1ea4e2"/><rect x="1924.5" y="2245.6" width="26.5" height="19.2" fill="#10b9c9"/><rect x="1924.5" y="2264.4" width="26.5" height="19.2" fill="#1ea4e2"/><rect x="1924.5" y="2283.3" width="26.5" height="38.0" fill="#10b9c9"/><rect x="1924.5" y="2320.9" width="26.5" height="19.2" fill="#1ea4e2"/><rect x="1924.5" y="2339.7" width="26.5" height="19.2" fill="#2e86f2"/><rect x="1924.5" y="2358.6" width="26.5" height="19.2" fill="#3f64f8"/><rect x="1924.5" y="2377.4" width="26.5" height="19.2" fill="#2e86f2"/><rect x="1924.5" y="2415.0" width="26.5" height="19.2" fill="#3f64f8"/><rect x="1924.5" y="2433.8" width="26.5" height="38.0" fill="#10b9c9"/><rect x="1950.6" y="24.5" width="26.5" height="19.2" fill="#2e86f2"/><rect x="1950.6" y="43.3" width="26.5" height="38.0" fill="#32c0a0"/><rect x="1950.6" y="81.0" width="26.5" height="19.2" fill="#10b9c9"/><rect x="1950.6" y="99.8" width="26.5" height="19.2" fill="#1ea4e2"/><rect x="1950.6" y="118.6" width="26.5" height="19.2" fill="#2e86f2"/><rect x="1950.6" y="137.4" width="26.5" height="19.2" fill="#4640df"/><rect x="1950.6" y="193.9" width="26.5" height="38.0" fill="#4640df"/><rect x="1950.6" y="269.2" width="26.5" height="19.2" fill="#2e86f2"/><rect x="1950.6" y="325.7" width="26.5" height="19.2" fill="#2e86f2"/><rect x="1950.6" y="344.5" width="26.5" height="19.2" fill="#1ea4e2"/><rect x="1950.6" y="363.3" width="26.5" height="56.9" fill="#3f64f8"/><rect x="1950.6" y="419.8" width="26.5" height="19.2" fill="#10b9c9"/><rect x="1950.6" y="457.4" width="26.5" height="19.2" fill="#10b9c9"/><rect x="1950.6" y="476.3" width="26.5" height="19.2" fill="#3f64f8"/><rect x="1950.6" y="495.1" width="26.5" height="19.2" fill="#4640df"/><rect x="1950.6" y="532.7" width="26.5" height="19.2" fill="#4640df"/><rect x="1950.6" y="551.5" width="26.5" height="19.2" fill="#3f64f8"/><rect x="1950.6" y="589.2" width="26.5" height="19.2" fill="#4640df"/><rect x="1950.6" y="626.8" width="26.5" height="226.3" fill="#4640df"/><rect x="1950.6" y="890.4" width="26.5" height="38.0" fill="#4640df"/><rect x="1950.6" y="946.8" width="26.5" height="19.2" fill="#1ea4e2"/><rect x="1950.6" y="965.6" width="26.5" height="38.0" fill="#3f64f8"/><rect x="1950.6" y="1003.3" width="26.5" height="19.2" fill="#2e86f2"/><rect x="1950.6" y="1022.1" width="26.5" height="19.2" fill="#4640df"/><rect x="1950.6" y="1040.9" width="26.5" height="19.2" fill="#2e86f2"/><rect x="1950.6" y="1153.9" width="26.5" height="19.2" fill="#4640df"/><rect x="1950.6" y="1229.2" width="26.5" height="452.2" fill="#4640df"/><rect x="1950.6" y="1680.9" width="26.5" height="19.2" fill="#10b9c9"/><rect x="1950.6" y="1699.7" width="26.5" height="19.2" fill="#32c0a0"/><rect x="1950.6" y="1718.6" width="26.5" height="19.2" fill="#10b9c9"/><rect x="1950.6" y="1737.4" width="26.5" height="19.2" fill="#32c0a0"/><rect x="1950.6" y="1756.2" width="26.5" height="38.0" fill="#10b9c9"/><rect x="1950.6" y="1793.9" width="26.5" height="19.2" fill="#32c0a0"/><rect x="1950.6" y="1812.7" width="26.5" height="38.0" fill="#10b9c9"/><rect x="1950.6" y="1850.3" width="26.5" height="19.2" fill="#32c0a0"/><rect x="1950.6" y="1869.2" width="26.5" height="19.2" fill="#10b9c9"/><rect x="1950.6" y="1888.0" width="26.5" height="19.2" fill="#1ea4e2"/><rect x="1950.6" y="1906.8" width="26.5" height="38.0" fill="#2e86f2"/><rect x="1950.6" y="1944.4" width="26.5" height="19.2" fill="#32c0a0"/><rect x="1950.6" y="1963.3" width="26.5" height="19.2" fill="#10b9c9"/><rect x="1950.6" y="1982.1" width="26.5" height="19.2" fill="#32c0a0"/><rect x="1950.6" y="2000.9" width="26.5" height="38.0" fill="#1ea4e2"/><rect x="1950.6" y="2038.6" width="26.5" height="94.5" fill="#4640df"/><rect x="1950.6" y="2208.0" width="26.5" height="19.2" fill="#3f64f8"/><rect x="1950.6" y="2226.8" width="26.5" height="19.2" fill="#2e86f2"/><rect x="1950.6" y="2245.6" width="26.5" height="19.2" fill="#4640df"/><rect x="1950.6" y="2283.3" width="26.5" height="38.0" fill="#10b9c9"/><rect x="1950.6" y="2320.9" width="26.5" height="19.2" fill="#1ea4e2"/><rect x="1950.6" y="2339.7" width="26.5" height="19.2" fill="#2e86f2"/><rect x="1950.6" y="2358.6" width="26.5" height="38.0" fill="#4640df"/><rect x="1950.6" y="2415.0" width="26.5" height="19.2" fill="#3f64f8"/><rect x="1950.6" y="2433.8" width="26.5" height="38.0" fill="#1ea4e2"/><rect x="1976.7" y="43.3" width="26.5" height="94.5" fill="#3f64f8"/><rect x="1976.7" y="137.4" width="26.5" height="19.2" fill="#2e86f2"/><rect x="1976.7" y="212.7" width="26.5" height="19.2" fill="#1ea4e2"/><rect x="1976.7" y="231.6" width="26.5" height="19.2" fill="#3f64f8"/><rect x="1976.7" y="269.2" width="26.5" height="19.2" fill="#3f64f8"/><rect x="1976.7" y="306.8" width="26.5" height="19.2" fill="#3f64f8"/><rect x="1976.7" y="457.4" width="26.5" height="19.2" fill="#10b9c9"/><rect x="1976.7" y="476.3" width="26.5" height="19.2" fill="#2e86f2"/><rect x="1976.7" y="1680.9" width="26.5" height="19.2" fill="#32c0a0"/><rect x="1976.7" y="1699.7" width="26.5" height="19.2" fill="#6cc870"/><rect x="1976.7" y="1718.6" width="26.5" height="19.2" fill="#bac63a"/><rect x="1976.7" y="1737.4" width="26.5" height="19.2" fill="#32c0a0"/><rect x="1976.7" y="1756.2" width="26.5" height="75.7" fill="#bac63a"/><rect x="1976.7" y="1831.5" width="26.5" height="19.2" fill="#6cc870"/><rect x="1976.7" y="1850.3" width="26.5" height="38.0" fill="#32c0a0"/><rect x="1976.7" y="1888.0" width="26.5" height="19.2" fill="#2e86f2"/><rect x="1976.7" y="1906.8" width="26.5" height="19.2" fill="#3f64f8"/><rect x="1976.7" y="1925.6" width="26.5" height="38.0" fill="#32c0a0"/><rect x="1976.7" y="1963.3" width="26.5" height="19.2" fill="#1ea4e2"/><rect x="1976.7" y="1982.1" width="26.5" height="19.2" fill="#10b9c9"/><rect x="1976.7" y="2000.9" width="26.5" height="19.2" fill="#1ea4e2"/><rect x="1976.7" y="2038.6" width="26.5" height="38.0" fill="#4640df"/><rect x="1976.7" y="2113.9" width="26.5" height="94.5" fill="#4640df"/><rect x="1976.7" y="2208.0" width="26.5" height="19.2" fill="#3f64f8"/><rect x="1976.7" y="2283.3" width="26.5" height="19.2" fill="#1ea4e2"/><rect x="1976.7" y="2302.1" width="26.5" height="19.2" fill="#32c0a0"/><rect x="1976.7" y="2320.9" width="26.5" height="19.2" fill="#2e86f2"/><rect x="1976.7" y="2339.7" width="26.5" height="19.2" fill="#3f64f8"/><rect x="1976.7" y="2358.6" width="26.5" height="19.2" fill="#4640df"/><rect x="1976.7" y="2377.4" width="26.5" height="19.2" fill="#3f64f8"/><rect x="1976.7" y="2433.8" width="26.5" height="38.0" fill="#3f64f8"/><rect x="2002.8" y="401.0" width="26.5" height="19.2" fill="#4640df"/><rect x="2002.8" y="1078.6" width="26.5" height="19.2" fill="#3f64f8"/><rect x="2002.8" y="1680.9" width="26.5" height="19.2" fill="#10b9c9"/><rect x="2002.8" y="1699.7" width="26.5" height="75.7" fill="#6cc870"/><rect x="2002.8" y="1775.0" width="26.5" height="19.2" fill="#10b9c9"/><rect x="2002.8" y="1793.9" width="26.5" height="19.2" fill="#32c0a0"/><rect x="2002.8" y="1812.7" width="26.5" height="19.2" fill="#6cc870"/><rect x="2002.8" y="1831.5" width="26.5" height="19.2" fill="#bac63a"/><rect x="2002.8" y="1850.3" width="26.5" height="19.2" fill="#10b9c9"/><rect x="2002.8" y="1869.2" width="26.5" height="19.2" fill="#1ea4e2"/><rect x="2002.8" y="1888.0" width="26.5" height="19.2" fill="#10b9c9"/><rect x="2002.8" y="1925.6" width="26.5" height="19.2" fill="#3f64f8"/><rect x="2002.8" y="1944.4" width="26.5" height="19.2" fill="#10b9c9"/><rect x="2002.8" y="1963.3" width="26.5" height="19.2" fill="#1ea4e2"/><rect x="2002.8" y="1982.1" width="26.5" height="38.0" fill="#32c0a0"/><rect x="2002.8" y="2019.7" width="26.5" height="38.0" fill="#3f64f8"/><rect x="2002.8" y="2283.3" width="26.5" height="19.2" fill="#10b9c9"/><rect x="2002.8" y="2302.1" width="26.5" height="19.2" fill="#1ea4e2"/><rect x="2002.8" y="2320.9" width="26.5" height="19.2" fill="#10b9c9"/><rect x="2002.8" y="2339.7" width="26.5" height="38.0" fill="#1ea4e2"/><rect x="2002.8" y="2377.4" width="26.5" height="56.9" fill="#10b9c9"/><rect x="2002.8" y="2433.8" width="26.5" height="19.2" fill="#2e86f2"/><rect x="2002.8" y="2452.7" width="26.5" height="19.2" fill="#3f64f8"/><rect x="2028.8" y="24.5" width="26.5" height="1054.5" fill="#4640df"/><rect x="2028.8" y="1116.2" width="26.5" height="75.7" fill="#4640df"/><rect x="2028.8" y="1191.5" width="26.5" height="56.9" fill="#2e86f2"/><rect x="2028.8" y="1248.0" width="26.5" height="38.0" fill="#4640df"/><rect x="2028.8" y="1285.6" width="26.5" height="19.2" fill="#3f64f8"/><rect x="2028.8" y="1304.5" width="26.5" height="19.2" fill="#2e86f2"/><rect x="2028.8" y="1323.3" width="26.5" height="19.2" fill="#4640df"/><rect x="2028.8" y="1342.1" width="26.5" height="19.2" fill="#2e86f2"/><rect x="2028.8" y="1360.9" width="26.5" height="75.7" fill="#4640df"/><rect x="2028.8" y="1455.0" width="26.5" height="19.2" fill="#2e86f2"/><rect x="2028.8" y="1473.9" width="26.5" height="94.5" fill="#3f64f8"/><rect x="2028.8" y="1662.1" width="26.5" height="19.2" fill="#4640df"/><rect x="2028.8" y="1680.9" width="26.5" height="207.5" fill="#10b9c9"/><rect x="2028.8" y="1888.0" width="26.5" height="113.3" fill="#1ea4e2"/><rect x="2028.8" y="2000.9" width="26.5" height="38.0" fill="#10b9c9"/><rect x="2028.8" y="2038.6" width="26.5" height="433.3" fill="#1ea4e2"/></g><path d="M1429.0 33.9h21M2054.9 33.9h-21M1429.0 52.7h21M2054.9 52.7h-21M1429.0 71.6h21M2054.9 71.6h-21M1429.0 90.4h21M2054.9 90.4h-21M1429.0 109.2h21M2054.9 109.2h-21M1429.0 128.0h21M2054.9 128.0h-21M1429.0 146.8h21M2054.9 146.8h-21M1429.0 165.7h21M2054.9 165.7h-21M1429.0 184.5h21M2054.9 184.5h-21M1429.0 203.3h21M2054.9 203.3h-21M1429.0 222.1h21M2054.9 222.1h-21M1429.0 241.0h21M2054.9 241.0h-21M1429.0 259.8h21M2054.9 259.8h-21M1429.0 278.6h21M2054.9 278.6h-21M1429.0 297.4h21M2054.9 297.4h-21M1429.0 316.3h21M2054.9 316.3h-21M1429.0 335.1h21M2054.9 335.1h-21M1429.0 353.9h21M2054.9 353.9h-21M1429.0 372.7h21M2054.9 372.7h-21M1429.0 391.5h21M2054.9 391.5h-21M1429.0 410.4h21M2054.9 410.4h-21M1429.0 429.2h21M2054.9 429.2h-21M1429.0 448.0h21M2054.9 448.0h-21M1429.0 466.8h21M2054.9 466.8h-21M1429.0 485.7h21M2054.9 485.7h-21M1429.0 504.5h21M2054.9 504.5h-21M1429.0 523.3h21M2054.9 523.3h-21M1429.0 542.1h21M2054.9 542.1h-21M1429.0 561.0h21M2054.9 561.0h-21M1429.0 579.8h21M2054.9 579.8h-21M1429.0 598.6h21M2054.9 598.6h-21M1429.0 617.4h21M2054.9 617.4h-21M1429.0 636.2h21M2054.9 636.2h-21M1429.0 655.1h21M2054.9 655.1h-21M1429.0 673.9h21M2054.9 673.9h-21M1429.0 692.7h21M2054.9 692.7h-21M1429.0 711.5h21M2054.9 711.5h-21M1429.0 730.4h21M2054.9 730.4h-21M1429.0 749.2h21M2054.9 749.2h-21M1429.0 768.0h21M2054.9 768.0h-21M1429.0 786.8h21M2054.9 786.8h-21M1429.0 805.7h21M2054.9 805.7h-21M1429.0 824.5h21M2054.9 824.5h-21M1429.0 843.3h21M2054.9 843.3h-21M1429.0 862.1h21M2054.9 862.1h-21M1429.0 880.9h21M2054.9 880.9h-21M1429.0 899.8h21M2054.9 899.8h-21M1429.0 918.6h21M2054.9 918.6h-21M1429.0 937.4h21M2054.9 937.4h-21M1429.0 956.2h21M2054.9 956.2h-21M1429.0 975.1h21M2054.9 975.1h-21M1429.0 993.9h21M2054.9 993.9h-21M1429.0 1012.7h21M2054.9 1012.7h-21M1429.0 1031.5h21M2054.9 1031.5h-21M1429.0 1050.4h21M2054.9 1050.4h-21M1429.0 1069.2h21M2054.9 1069.2h-21M1429.0 1088.0h21M2054.9 1088.0h-21M1429.0 1106.8h21M2054.9 1106.8h-21M1429.0 1125.6h21M2054.9 1125.6h-21M1429.0 1144.5h21M2054.9 1144.5h-21M1429.0 1163.3h21M2054.9 1163.3h-21M1429.0 1182.1h21M2054.9 1182.1h-21M1429.0 1200.9h21M2054.9 1200.9h-21M1429.0 1219.8h21M2054.9 1219.8h-21M1429.0 1238.6h21M2054.9 1238.6h-21M1429.0 1257.4h21M2054.9 1257.4h-21M1429.0 1276.2h21M2054.9 1276.2h-21M1429.0 1295.1h21M2054.9 1295.1h-21M1429.0 1313.9h21M2054.9 1313.9h-21M1429.0 1332.7h21M2054.9 1332.7h-21M1429.0 1351.5h21M2054.9 1351.5h-21M1429.0 1370.3h21M2054.9 1370.3h-21M1429.0 1389.2h21M2054.9 1389.2h-21M1429.0 1408.0h21M2054.9 1408.0h-21M1429.0 1426.8h21M2054.9 1426.8h-21M1429.0 1445.6h21M2054.9 1445.6h-21M1429.0 1464.5h21M2054.9 1464.5h-21M1429.0 1483.3h21M2054.9 1483.3h-21M1429.0 1502.1h21M2054.9 1502.1h-21M1429.0 1520.9h21M2054.9 1520.9h-21M1429.0 1539.8h21M2054.9 1539.8h-21M1429.0 1558.6h21M2054.9 1558.6h-21M1429.0 1577.4h21M2054.9 1577.4h-21M1429.0 1596.2h21M2054.9 1596.2h-21M1429.0 1615.0h21M2054.9 1615.0h-21M1429.0 1633.9h21M2054.9 1633.9h-21M1429.0 1652.7h21M2054.9 1652.7h-21M1429.0 1671.5h21M2054.9 1671.5h-21M1429.0 1690.3h21M2054.9 1690.3h-21M1429.0 1709.2h21M2054.9 1709.2h-21M1429.0 1728.0h21M2054.9 1728.0h-21M1429.0 1746.8h21M2054.9 1746.8h-21M1429.0 1765.6h21M2054.9 1765.6h-21M1429.0 1784.5h21M2054.9 1784.5h-21M1429.0 1803.3h21M2054.9 1803.3h-21M1429.0 1822.1h21M2054.9 1822.1h-21M1429.0 1840.9h21M2054.9 1840.9h-21M1429.0 1859.7h21M2054.9 1859.7h-21M1429.0 1878.6h21M2054.9 1878.6h-21M1429.0 1897.4h21M2054.9 1897.4h-21M1429.0 1916.2h21M2054.9 1916.2h-21M1429.0 1935.0h21M2054.9 1935.0h-21M1429.0 1953.9h21M2054.9 1953.9h-21M1429.0 1972.7h21M2054.9 1972.7h-21M1429.0 1991.5h21M2054.9 1991.5h-21M1429.0 2010.3h21M2054.9 2010.3h-21M1429.0 2029.1h21M2054.9 2029.1h-21M1429.0 2048.0h21M2054.9 2048.0h-21M1429.0 2066.8h21M2054.9 2066.8h-21M1429.0 2085.6h21M2054.9 2085.6h-21M1429.0 2104.4h21M2054.9 2104.4h-21M1429.0 2123.3h21M2054.9 2123.3h-21M1429.0 2142.1h21M2054.9 2142.1h-21M1429.0 2160.9h21M2054.9 2160.9h-21M1429.0 2179.7h21M2054.9 2179.7h-21M1429.0 2198.6h21M2054.9 2198.6h-21M1429.0 2217.4h21M2054.9 2217.4h-21M1429.0 2236.2h21M2054.9 2236.2h-21M1429.0 2255.0h21M2054.9 2255.0h-21M1429.0 2273.8h21M2054.9 2273.8h-21M1429.0 2292.7h21M2054.9 2292.7h-21M1429.0 2311.5h21M2054.9 2311.5h-21M1429.0 2330.3h21M2054.9 2330.3h-21M1429.0 2349.1h21M2054.9 2349.1h-21M1429.0 2368.0h21M2054.9 2368.0h-21M1429.0 2386.8h21M2054.9 2386.8h-21M1429.0 2405.6h21M2054.9 2405.6h-21M1429.0 2424.4h21M2054.9 2424.4h-21M1429.0 2443.3h21M2054.9 2443.3h-21M1429.0 2462.1h21M2054.9 2462.1h-21M1442.0 24.5v24M1442.0 2471.5v-24M1468.1 24.5v24M1468.1 2471.5v-24M1494.2 24.5v24M1494.2 2471.5v-24M1520.3 24.5v24M1520.3 2471.5v-24M1546.4 24.5v24M1546.4 2471.5v-24M1572.4 24.5v24M1572.4 2471.5v-24M1598.5 24.5v24M1598.5 2471.5v-24M1624.6 24.5v24M1624.6 2471.5v-24M1650.7 24.5v24M1650.7 2471.5v-24M1676.8 24.5v24M1676.8 2471.5v-24M1702.8 24.5v24M1702.8 2471.5v-24M1728.9 24.5v24M1728.9 2471.5v-24M1755.0 24.5v24M1755.0 2471.5v-24M1781.1 24.5v24M1781.1 2471.5v-24M1807.2 24.5v24M1807.2 2471.5v-24M1833.2 24.5v24M1833.2 2471.5v-24M1859.3 24.5v24M1859.3 2471.5v-24M1885.4 24.5v24M1885.4 2471.5v-24M1911.5 24.5v24M1911.5 2471.5v-24M1937.6 24.5v24M1937.6 2471.5v-24M1963.6 24.5v24M1963.6 2471.5v-24M1989.7 24.5v24M1989.7 2471.5v-24M2015.8 24.5v24M2015.8 2471.5v-24M2041.9 24.5v24M2041.9 2471.5v-24" stroke="#1a1a2e" stroke-width="1.6" fill="none"/><path d="M1429.0 1078.6H2062.0" stroke="#111" stroke-width="1.6"/><path d="M1429.0 1680.9H2062.0" stroke="#111" stroke-width="1.6"/><rect x="1429.0" y="24.5" width="625.9" height="2447.0" fill="none" stroke="#111" stroke-width="1.8"/><rect x="1391.5" y="24.5" width="32" height="19.2" fill="#f7df2a" shape-rendering="crispEdges"/><rect x="1391.5" y="43.3" width="32" height="19.2" fill="#f7df2a" shape-rendering="crispEdges"/><rect x="1391.5" y="62.1" width="32" height="19.2" fill="#f7df2a" shape-rendering="crispEdges"/><rect x="1391.5" y="81.0" width="32" height="19.2" fill="#f7df2a" shape-rendering="crispEdges"/><rect x="1391.5" y="99.8" width="32" height="19.2" fill="#f7df2a" shape-rendering="crispEdges"/><rect x="1391.5" y="118.6" width="32" height="19.2" fill="#f7df2a" shape-rendering="crispEdges"/><rect x="1391.5" y="137.4" width="32" height="19.2" fill="#f7df2a" shape-rendering="crispEdges"/><rect x="1391.5" y="156.3" width="32" height="19.2" fill="#d8cf1e" shape-rendering="crispEdges"/><rect x="1391.5" y="175.1" width="32" height="19.2" fill="#d8cf1e" shape-rendering="crispEdges"/><rect x="1391.5" y="193.9" width="32" height="19.2" fill="#d8cf1e" shape-rendering="crispEdges"/><rect x="1391.5" y="212.7" width="32" height="19.2" fill="#d8cf1e" shape-rendering="crispEdges"/><rect x="1391.5" y="231.6" width="32" height="19.2" fill="#d8cf1e" shape-rendering="crispEdges"/><rect x="1391.5" y="250.4" width="32" height="19.2" fill="#d8cf1e" shape-rendering="crispEdges"/><rect x="1391.5" y="269.2" width="32" height="19.2" fill="#d8cf1e" shape-rendering="crispEdges"/><rect x="1391.5" y="288.0" width="32" height="19.2" fill="#d8cf1e" shape-rendering="crispEdges"/><rect x="1391.5" y="306.8" width="32" height="19.2" fill="#d8cf1e" shape-rendering="crispEdges"/><rect x="1391.5" y="325.7" width="32" height="19.2" fill="#d8cf1e" shape-rendering="crispEdges"/><rect x="1391.5" y="344.5" width="32" height="19.2" fill="#a6c232" shape-rendering="crispEdges"/><rect x="1391.5" y="363.3" width="32" height="19.2" fill="#a6c232" shape-rendering="crispEdges"/><rect x="1391.5" y="382.1" width="32" height="19.2" fill="#a6c232" shape-rendering="crispEdges"/><rect x="1391.5" y="401.0" width="32" height="19.2" fill="#a6c232" shape-rendering="crispEdges"/><rect x="1391.5" y="419.8" width="32" height="19.2" fill="#a6c232" shape-rendering="crispEdges"/><rect x="1391.5" y="438.6" width="32" height="19.2" fill="#a6c232" shape-rendering="crispEdges"/><rect x="1391.5" y="457.4" width="32" height="19.2" fill="#a6c232" shape-rendering="crispEdges"/><rect x="1391.5" y="476.3" width="32" height="19.2" fill="#3fa048" shape-rendering="crispEdges"/><rect x="1391.5" y="495.1" width="32" height="19.2" fill="#3fa048" shape-rendering="crispEdges"/><rect x="1391.5" y="513.9" width="32" height="19.2" fill="#3fa048" shape-rendering="crispEdges"/><rect x="1391.5" y="532.7" width="32" height="19.2" fill="#3fa048" shape-rendering="crispEdges"/><rect x="1391.5" y="551.5" width="32" height="19.2" fill="#1c8a48" shape-rendering="crispEdges"/><rect x="1391.5" y="570.4" width="32" height="19.2" fill="#1c8a48" shape-rendering="crispEdges"/><rect x="1391.5" y="589.2" width="32" height="19.2" fill="#1c8a48" shape-rendering="crispEdges"/><rect x="1391.5" y="608.0" width="32" height="19.2" fill="#1c8a48" shape-rendering="crispEdges"/><rect x="1391.5" y="626.8" width="32" height="19.2" fill="#1c8a48" shape-rendering="crispEdges"/><rect x="1391.5" y="645.7" width="32" height="19.2" fill="#1c8a48" shape-rendering="crispEdges"/><rect x="1391.5" y="664.5" width="32" height="19.2" fill="#0f763e" shape-rendering="crispEdges"/><rect x="1391.5" y="683.3" width="32" height="19.2" fill="#0f763e" shape-rendering="crispEdges"/><rect x="1391.5" y="702.1" width="32" height="19.2" fill="#0f763e" shape-rendering="crispEdges"/><rect x="1391.5" y="721.0" width="32" height="19.2" fill="#0f763e" shape-rendering="crispEdges"/><rect x="1391.5" y="739.8" width="32" height="19.2" fill="#0f763e" shape-rendering="crispEdges"/><rect x="1391.5" y="758.6" width="32" height="19.2" fill="#0f763e" shape-rendering="crispEdges"/><rect x="1391.5" y="777.4" width="32" height="19.2" fill="#0f763e" shape-rendering="crispEdges"/><rect x="1391.5" y="796.2" width="32" height="19.2" fill="#0f763e" shape-rendering="crispEdges"/><rect x="1391.5" y="815.1" width="32" height="19.2" fill="#0f763e" shape-rendering="crispEdges"/><rect x="1391.5" y="833.9" width="32" height="19.2" fill="#0f763e" shape-rendering="crispEdges"/><rect x="1391.5" y="852.7" width="32" height="19.2" fill="#0d4b2e" shape-rendering="crispEdges"/><rect x="1391.5" y="871.5" width="32" height="19.2" fill="#0d4b2e" shape-rendering="crispEdges"/><rect x="1391.5" y="890.4" width="32" height="19.2" fill="#0d4b2e" shape-rendering="crispEdges"/><rect x="1391.5" y="909.2" width="32" height="19.2" fill="#0d4b2e" shape-rendering="crispEdges"/><rect x="1391.5" y="928.0" width="32" height="19.2" fill="#0d4b2e" shape-rendering="crispEdges"/><rect x="1391.5" y="946.8" width="32" height="19.2" fill="#0d4b2e" shape-rendering="crispEdges"/><rect x="1391.5" y="965.6" width="32" height="19.2" fill="#0d4b2e" shape-rendering="crispEdges"/><rect x="1391.5" y="984.5" width="32" height="19.2" fill="#0d4b2e" shape-rendering="crispEdges"/><rect x="1391.5" y="1003.3" width="32" height="19.2" fill="#0d4b2e" shape-rendering="crispEdges"/><rect x="1391.5" y="1022.1" width="32" height="19.2" fill="#0d4b2e" shape-rendering="crispEdges"/><rect x="1391.5" y="1040.9" width="32" height="19.2" fill="#0d4b2e" shape-rendering="crispEdges"/><rect x="1391.5" y="1059.8" width="32" height="19.2" fill="#0d4b2e" shape-rendering="crispEdges"/><rect x="1391.5" y="1078.6" width="32" height="19.2" fill="#ef9212" shape-rendering="crispEdges"/><rect x="1391.5" y="1097.4" width="32" height="19.2" fill="#ef9212" shape-rendering="crispEdges"/><rect x="1391.5" y="1116.2" width="32" height="19.2" fill="#ef9212" shape-rendering="crispEdges"/><rect x="1391.5" y="1135.1" width="32" height="19.2" fill="#ef9212" shape-rendering="crispEdges"/><rect x="1391.5" y="1153.9" width="32" height="19.2" fill="#ef9212" shape-rendering="crispEdges"/><rect x="1391.5" y="1172.7" width="32" height="19.2" fill="#ef9212" shape-rendering="crispEdges"/><rect x="1391.5" y="1191.5" width="32" height="19.2" fill="#ef9212" shape-rendering="crispEdges"/><rect x="1391.5" y="1210.3" width="32" height="19.2" fill="#ef9212" shape-rendering="crispEdges"/><rect x="1391.5" y="1229.2" width="32" height="19.2" fill="#ef9212" shape-rendering="crispEdges"/><rect x="1391.5" y="1248.0" width="32" height="19.2" fill="#ef9212" shape-rendering="crispEdges"/><rect x="1391.5" y="1266.8" width="32" height="19.2" fill="#e2601f" shape-rendering="crispEdges"/><rect x="1391.5" y="1285.6" width="32" height="19.2" fill="#e2601f" shape-rendering="crispEdges"/><rect x="1391.5" y="1304.5" width="32" height="19.2" fill="#e2601f" shape-rendering="crispEdges"/><rect x="1391.5" y="1323.3" width="32" height="19.2" fill="#e2601f" shape-rendering="crispEdges"/><rect x="1391.5" y="1342.1" width="32" height="19.2" fill="#e2601f" shape-rendering="crispEdges"/><rect x="1391.5" y="1360.9" width="32" height="19.2" fill="#e2601f" shape-rendering="crispEdges"/><rect x="1391.5" y="1379.8" width="32" height="19.2" fill="#e2601f" shape-rendering="crispEdges"/><rect x="1391.5" y="1398.6" width="32" height="19.2" fill="#e2601f" shape-rendering="crispEdges"/><rect x="1391.5" y="1417.4" width="32" height="19.2" fill="#e2601f" shape-rendering="crispEdges"/><rect x="1391.5" y="1436.2" width="32" height="19.2" fill="#e2601f" shape-rendering="crispEdges"/><rect x="1391.5" y="1455.0" width="32" height="19.2" fill="#c01b32" shape-rendering="crispEdges"/><rect x="1391.5" y="1473.9" width="32" height="19.2" fill="#c01b32" shape-rendering="crispEdges"/><rect x="1391.5" y="1492.7" width="32" height="19.2" fill="#c01b32" shape-rendering="crispEdges"/><rect x="1391.5" y="1511.5" width="32" height="19.2" fill="#c01b32" shape-rendering="crispEdges"/><rect x="1391.5" y="1530.3" width="32" height="19.2" fill="#c01b32" shape-rendering="crispEdges"/><rect x="1391.5" y="1549.2" width="32" height="19.2" fill="#c01b32" shape-rendering="crispEdges"/><rect x="1391.5" y="1568.0" width="32" height="19.2" fill="#c01b32" shape-rendering="crispEdges"/><rect x="1391.5" y="1586.8" width="32" height="19.2" fill="#c01b32" shape-rendering="crispEdges"/><rect x="1391.5" y="1605.6" width="32" height="19.2" fill="#c01b32" shape-rendering="crispEdges"/><rect x="1391.5" y="1624.5" width="32" height="19.2" fill="#c01b32" shape-rendering="crispEdges"/><rect x="1391.5" y="1643.3" width="32" height="19.2" fill="#c01b32" shape-rendering="crispEdges"/><rect x="1391.5" y="1662.1" width="32" height="19.2" fill="#c01b32" shape-rendering="crispEdges"/><rect x="1391.5" y="1680.9" width="32" height="19.2" fill="#d0124f" shape-rendering="crispEdges"/><rect x="1391.5" y="1699.7" width="32" height="19.2" fill="#d0124f" shape-rendering="crispEdges"/><rect x="1391.5" y="1718.6" width="32" height="19.2" fill="#d0124f" shape-rendering="crispEdges"/><rect x="1391.5" y="1737.4" width="32" height="19.2" fill="#d0124f" shape-rendering="crispEdges"/><rect x="1391.5" y="1756.2" width="32" height="19.2" fill="#d0124f" shape-rendering="crispEdges"/><rect x="1391.5" y="1775.0" width="32" height="19.2" fill="#d0124f" shape-rendering="crispEdges"/><rect x="1391.5" y="1793.9" width="32" height="19.2" fill="#d0124f" shape-rendering="crispEdges"/><rect x="1391.5" y="1812.7" width="32" height="19.2" fill="#d0124f" shape-rendering="crispEdges"/><rect x="1391.5" y="1831.5" width="32" height="19.2" fill="#b01b5c" shape-rendering="crispEdges"/><rect x="1391.5" y="1850.3" width="32" height="19.2" fill="#b01b5c" shape-rendering="crispEdges"/><rect x="1391.5" y="1869.2" width="32" height="19.2" fill="#b01b5c" shape-rendering="crispEdges"/><rect x="1391.5" y="1888.0" width="32" height="19.2" fill="#b01b5c" shape-rendering="crispEdges"/><rect x="1391.5" y="1906.8" width="32" height="19.2" fill="#b01b5c" shape-rendering="crispEdges"/><rect x="1391.5" y="1925.6" width="32" height="19.2" fill="#b01b5c" shape-rendering="crispEdges"/><rect x="1391.5" y="1944.4" width="32" height="19.2" fill="#b01b5c" shape-rendering="crispEdges"/><rect x="1391.5" y="1963.3" width="32" height="19.2" fill="#b01b5c" shape-rendering="crispEdges"/><rect x="1391.5" y="1982.1" width="32" height="19.2" fill="#b01b5c" shape-rendering="crispEdges"/><rect x="1391.5" y="2000.9" width="32" height="19.2" fill="#b01b5c" shape-rendering="crispEdges"/><rect x="1391.5" y="2019.7" width="32" height="19.2" fill="#b01b5c" shape-rendering="crispEdges"/><rect x="1391.5" y="2038.6" width="32" height="19.2" fill="#9c2384" shape-rendering="crispEdges"/><rect x="1391.5" y="2057.4" width="32" height="19.2" fill="#9c2384" shape-rendering="crispEdges"/><rect x="1391.5" y="2076.2" width="32" height="19.2" fill="#9c2384" shape-rendering="crispEdges"/><rect x="1391.5" y="2095.0" width="32" height="19.2" fill="#9c2384" shape-rendering="crispEdges"/><rect x="1391.5" y="2113.9" width="32" height="19.2" fill="#9c2384" shape-rendering="crispEdges"/><rect x="1391.5" y="2132.7" width="32" height="19.2" fill="#762a8f" shape-rendering="crispEdges"/><rect x="1391.5" y="2151.5" width="32" height="19.2" fill="#762a8f" shape-rendering="crispEdges"/><rect x="1391.5" y="2170.3" width="32" height="19.2" fill="#762a8f" shape-rendering="crispEdges"/><rect x="1391.5" y="2189.1" width="32" height="19.2" fill="#762a8f" shape-rendering="crispEdges"/><rect x="1391.5" y="2208.0" width="32" height="19.2" fill="#762a8f" shape-rendering="crispEdges"/><rect x="1391.5" y="2226.8" width="32" height="19.2" fill="#762a8f" shape-rendering="crispEdges"/><rect x="1391.5" y="2245.6" width="32" height="19.2" fill="#762a8f" shape-rendering="crispEdges"/><rect x="1391.5" y="2264.4" width="32" height="19.2" fill="#762a8f" shape-rendering="crispEdges"/><rect x="1391.5" y="2283.3" width="32" height="19.2" fill="#762a8f" shape-rendering="crispEdges"/><rect x="1391.5" y="2302.1" width="32" height="19.2" fill="#762a8f" shape-rendering="crispEdges"/><rect x="1391.5" y="2320.9" width="32" height="19.2" fill="#762a8f" shape-rendering="crispEdges"/><rect x="1391.5" y="2339.7" width="32" height="19.2" fill="#273877" shape-rendering="crispEdges"/><rect x="1391.5" y="2358.6" width="32" height="19.2" fill="#273877" shape-rendering="crispEdges"/><rect x="1391.5" y="2377.4" width="32" height="19.2" fill="#273877" shape-rendering="crispEdges"/><rect x="1391.5" y="2396.2" width="32" height="19.2" fill="#273877" shape-rendering="crispEdges"/><rect x="1391.5" y="2415.0" width="32" height="19.2" fill="#273877" shape-rendering="crispEdges"/><rect x="1391.5" y="2433.8" width="32" height="19.2" fill="#273877" shape-rendering="crispEdges"/><rect x="1391.5" y="2452.7" width="32" height="19.2" fill="#273877" shape-rendering="crispEdges"/><ellipse cx="2081" cy="33.9" rx="20.5" ry="17.8" fill="#00007f"/><ellipse cx="2081" cy="52.7" rx="20.5" ry="17.8" fill="#000087"/><ellipse cx="2081" cy="71.6" rx="20.5" ry="17.8" fill="#00008f"/><ellipse cx="2081" cy="90.4" rx="20.5" ry="17.8" fill="#000097"/><ellipse cx="2081" cy="109.2" rx="20.5" ry="17.8" fill="#00009f"/><ellipse cx="2081" cy="128.0" rx="20.5" ry="17.8" fill="#0000a7"/><ellipse cx="2081" cy="146.8" rx="20.5" ry="17.8" fill="#0000ae"/><ellipse cx="2081" cy="165.7" rx="20.5" ry="17.8" fill="#0000b6"/><ellipse cx="2081" cy="184.5" rx="20.5" ry="17.8" fill="#0000be"/><ellipse cx="2081" cy="203.3" rx="20.5" ry="17.8" fill="#0000c6"/><ellipse cx="2081" cy="222.1" rx="20.5" ry="17.8" fill="#0000ce"/><ellipse cx="2081" cy="241.0" rx="20.5" ry="17.8" fill="#0000d6"/><ellipse cx="2081" cy="259.8" rx="20.5" ry="17.8" fill="#0000de"/><ellipse cx="2081" cy="278.6" rx="20.5" ry="17.8" fill="#0000e6"/><ellipse cx="2081" cy="297.4" rx="20.5" ry="17.8" fill="#0000ee"/><ellipse cx="2081" cy="316.3" rx="20.5" ry="17.8" fill="#0000f6"/><ellipse cx="2081" cy="335.1" rx="20.5" ry="17.8" fill="#0000fe"/><ellipse cx="2081" cy="353.9" rx="20.5" ry="17.8" fill="#0006ff"/><ellipse cx="2081" cy="372.7" rx="20.5" ry="17.8" fill="#000eff"/><ellipse cx="2081" cy="391.5" rx="20.5" ry="17.8" fill="#0016ff"/><ellipse cx="2081" cy="410.4" rx="20.5" ry="17.8" fill="#001eff"/><ellipse cx="2081" cy="429.2" rx="20.5" ry="17.8" fill="#0026ff"/><ellipse cx="2081" cy="448.0" rx="20.5" ry="17.8" fill="#002eff"/><ellipse cx="2081" cy="466.8" rx="20.5" ry="17.8" fill="#0036ff"/><ellipse cx="2081" cy="485.7" rx="20.5" ry="17.8" fill="#003eff"/><ellipse cx="2081" cy="504.5" rx="20.5" ry="17.8" fill="#0046ff"/><ellipse cx="2081" cy="523.3" rx="20.5" ry="17.8" fill="#004eff"/><ellipse cx="2081" cy="542.1" rx="20.5" ry="17.8" fill="#0055ff"/><ellipse cx="2081" cy="561.0" rx="20.5" ry="17.8" fill="#005dff"/><ellipse cx="2081" cy="579.8" rx="20.5" ry="17.8" fill="#0065ff"/><ellipse cx="2081" cy="598.6" rx="20.5" ry="17.8" fill="#006dff"/><ellipse cx="2081" cy="617.4" rx="20.5" ry="17.8" fill="#0075ff"/><ellipse cx="2081" cy="636.2" rx="20.5" ry="17.8" fill="#007dff"/><ellipse cx="2081" cy="655.1" rx="20.5" ry="17.8" fill="#0085ff"/><ellipse cx="2081" cy="673.9" rx="20.5" ry="17.8" fill="#008dff"/><ellipse cx="2081" cy="692.7" rx="20.5" ry="17.8" fill="#0095ff"/><ellipse cx="2081" cy="711.5" rx="20.5" ry="17.8" fill="#009dff"/><ellipse cx="2081" cy="730.4" rx="20.5" ry="17.8" fill="#00a5ff"/><ellipse cx="2081" cy="749.2" rx="20.5" ry="17.8" fill="#00acff"/><ellipse cx="2081" cy="768.0" rx="20.5" ry="17.8" fill="#00b4ff"/><ellipse cx="2081" cy="786.8" rx="20.5" ry="17.8" fill="#00bcff"/><ellipse cx="2081" cy="805.7" rx="20.5" ry="17.8" fill="#00c4ff"/><ellipse cx="2081" cy="824.5" rx="20.5" ry="17.8" fill="#00ccff"/><ellipse cx="2081" cy="843.3" rx="20.5" ry="17.8" fill="#00d4ff"/><ellipse cx="2081" cy="862.1" rx="20.5" ry="17.8" fill="#00dcff"/><ellipse cx="2081" cy="880.9" rx="20.5" ry="17.8" fill="#00e4ff"/><ellipse cx="2081" cy="899.8" rx="20.5" ry="17.8" fill="#00ecff"/><ellipse cx="2081" cy="918.6" rx="20.5" ry="17.8" fill="#00f4ff"/><ellipse cx="2081" cy="937.4" rx="20.5" ry="17.8" fill="#00fcff"/><ellipse cx="2081" cy="956.2" rx="20.5" ry="17.8" fill="#04fffa"/><ellipse cx="2081" cy="975.1" rx="20.5" ry="17.8" fill="#0cfff2"/><ellipse cx="2081" cy="993.9" rx="20.5" ry="17.8" fill="#14ffea"/><ellipse cx="2081" cy="1012.7" rx="20.5" ry="17.8" fill="#1cffe2"/><ellipse cx="2081" cy="1031.5" rx="20.5" ry="17.8" fill="#24ffda"/><ellipse cx="2081" cy="1050.4" rx="20.5" ry="17.8" fill="#2cffd2"/><ellipse cx="2081" cy="1069.2" rx="20.5" ry="17.8" fill="#34ffca"/><ellipse cx="2081" cy="1088.0" rx="20.5" ry="17.8" fill="#3cffc2"/><ellipse cx="2081" cy="1106.8" rx="20.5" ry="17.8" fill="#44ffba"/><ellipse cx="2081" cy="1125.6" rx="20.5" ry="17.8" fill="#4cffb2"/><ellipse cx="2081" cy="1144.5" rx="20.5" ry="17.8" fill="#54ffaa"/><ellipse cx="2081" cy="1163.3" rx="20.5" ry="17.8" fill="#5bffa3"/><ellipse cx="2081" cy="1182.1" rx="20.5" ry="17.8" fill="#63ff9b"/><ellipse cx="2081" cy="1200.9" rx="20.5" ry="17.8" fill="#6bff93"/><ellipse cx="2081" cy="1219.8" rx="20.5" ry="17.8" fill="#73ff8b"/><ellipse cx="2081" cy="1238.6" rx="20.5" ry="17.8" fill="#7bff83"/><ellipse cx="2081" cy="1257.4" rx="20.5" ry="17.8" fill="#83ff7b"/><ellipse cx="2081" cy="1276.2" rx="20.5" ry="17.8" fill="#8bff73"/><ellipse cx="2081" cy="1295.1" rx="20.5" ry="17.8" fill="#93ff6b"/><ellipse cx="2081" cy="1313.9" rx="20.5" ry="17.8" fill="#9bff63"/><ellipse cx="2081" cy="1332.7" rx="20.5" ry="17.8" fill="#a3ff5b"/><ellipse cx="2081" cy="1351.5" rx="20.5" ry="17.8" fill="#aaff54"/><ellipse cx="2081" cy="1370.3" rx="20.5" ry="17.8" fill="#b2ff4c"/><ellipse cx="2081" cy="1389.2" rx="20.5" ry="17.8" fill="#baff44"/><ellipse cx="2081" cy="1408.0" rx="20.5" ry="17.8" fill="#c2ff3c"/><ellipse cx="2081" cy="1426.8" rx="20.5" ry="17.8" fill="#caff34"/><ellipse cx="2081" cy="1445.6" rx="20.5" ry="17.8" fill="#d2ff2c"/><ellipse cx="2081" cy="1464.5" rx="20.5" ry="17.8" fill="#daff24"/><ellipse cx="2081" cy="1483.3" rx="20.5" ry="17.8" fill="#e2ff1c"/><ellipse cx="2081" cy="1502.1" rx="20.5" ry="17.8" fill="#eaff14"/><ellipse cx="2081" cy="1520.9" rx="20.5" ry="17.8" fill="#f2ff0c"/><ellipse cx="2081" cy="1539.8" rx="20.5" ry="17.8" fill="#faff04"/><ellipse cx="2081" cy="1558.6" rx="20.5" ry="17.8" fill="#fffc00"/><ellipse cx="2081" cy="1577.4" rx="20.5" ry="17.8" fill="#fff400"/><ellipse cx="2081" cy="1596.2" rx="20.5" ry="17.8" fill="#ffec00"/><ellipse cx="2081" cy="1615.0" rx="20.5" ry="17.8" fill="#ffe400"/><ellipse cx="2081" cy="1633.9" rx="20.5" ry="17.8" fill="#ffdc00"/><ellipse cx="2081" cy="1652.7" rx="20.5" ry="17.8" fill="#ffd400"/><ellipse cx="2081" cy="1671.5" rx="20.5" ry="17.8" fill="#ffcc00"/><ellipse cx="2081" cy="1690.3" rx="20.5" ry="17.8" fill="#ffc400"/><ellipse cx="2081" cy="1709.2" rx="20.5" ry="17.8" fill="#ffbc00"/><ellipse cx="2081" cy="1728.0" rx="20.5" ry="17.8" fill="#ffb400"/><ellipse cx="2081" cy="1746.8" rx="20.5" ry="17.8" fill="#ffac00"/><ellipse cx="2081" cy="1765.6" rx="20.5" ry="17.8" fill="#ffa500"/><ellipse cx="2081" cy="1784.5" rx="20.5" ry="17.8" fill="#ff9d00"/><ellipse cx="2081" cy="1803.3" rx="20.5" ry="17.8" fill="#ff9500"/><ellipse cx="2081" cy="1822.1" rx="20.5" ry="17.8" fill="#ff8d00"/><ellipse cx="2081" cy="1840.9" rx="20.5" ry="17.8" fill="#ff8500"/><ellipse cx="2081" cy="1859.7" rx="20.5" ry="17.8" fill="#ff7d00"/><ellipse cx="2081" cy="1878.6" rx="20.5" ry="17.8" fill="#ff7500"/><ellipse cx="2081" cy="1897.4" rx="20.5" ry="17.8" fill="#ff6d00"/><ellipse cx="2081" cy="1916.2" rx="20.5" ry="17.8" fill="#ff6500"/><ellipse cx="2081" cy="1935.0" rx="20.5" ry="17.8" fill="#ff5d00"/><ellipse cx="2081" cy="1953.9" rx="20.5" ry="17.8" fill="#ff5500"/><ellipse cx="2081" cy="1972.7" rx="20.5" ry="17.8" fill="#ff4e00"/><ellipse cx="2081" cy="1991.5" rx="20.5" ry="17.8" fill="#ff4600"/><ellipse cx="2081" cy="2010.3" rx="20.5" ry="17.8" fill="#ff3e00"/><ellipse cx="2081" cy="2029.1" rx="20.5" ry="17.8" fill="#ff3600"/><ellipse cx="2081" cy="2048.0" rx="20.5" ry="17.8" fill="#ff2e00"/><ellipse cx="2081" cy="2066.8" rx="20.5" ry="17.8" fill="#ff2600"/><ellipse cx="2081" cy="2085.6" rx="20.5" ry="17.8" fill="#ff1e00"/><ellipse cx="2081" cy="2104.4" rx="20.5" ry="17.8" fill="#ff1600"/><ellipse cx="2081" cy="2123.3" rx="20.5" ry="17.8" fill="#ff0e00"/><ellipse cx="2081" cy="2142.1" rx="20.5" ry="17.8" fill="#ff0600"/><ellipse cx="2081" cy="2160.9" rx="20.5" ry="17.8" fill="#fe0000"/><ellipse cx="2081" cy="2179.7" rx="20.5" ry="17.8" fill="#f60000"/><ellipse cx="2081" cy="2198.6" rx="20.5" ry="17.8" fill="#ee0000"/><ellipse cx="2081" cy="2217.4" rx="20.5" ry="17.8" fill="#e60000"/><ellipse cx="2081" cy="2236.2" rx="20.5" ry="17.8" fill="#de0000"/><ellipse cx="2081" cy="2255.0" rx="20.5" ry="17.8" fill="#d60000"/><ellipse cx="2081" cy="2273.8" rx="20.5" ry="17.8" fill="#ce0000"/><ellipse cx="2081" cy="2292.7" rx="20.5" ry="17.8" fill="#c60000"/><ellipse cx="2081" cy="2311.5" rx="20.5" ry="17.8" fill="#be0000"/><ellipse cx="2081" cy="2330.3" rx="20.5" ry="17.8" fill="#b60000"/><ellipse cx="2081" cy="2349.1" rx="20.5" ry="17.8" fill="#ae0000"/><ellipse cx="2081" cy="2368.0" rx="20.5" ry="17.8" fill="#a70000"/><ellipse cx="2081" cy="2386.8" rx="20.5" ry="17.8" fill="#9f0000"/><ellipse cx="2081" cy="2405.6" rx="20.5" ry="17.8" fill="#970000"/><ellipse cx="2081" cy="2424.4" rx="20.5" ry="17.8" fill="#8f0000"/><ellipse cx="2081" cy="2443.3" rx="20.5" ry="17.8" fill="#870000"/><ellipse cx="2081" cy="2462.1" rx="20.5" ry="17.8" fill="#7f0000"/><g font-family="Liberation Sans, Arial, sans-serif" font-weight="bold" font-size="20.2" text-anchor="middle"><text x="1407.5" y="40.9" fill="#3a3a3a">1</text><text x="1407.5" y="59.7" fill="#3a3a3a">2</text><text x="1407.5" y="78.6" fill="#3a3a3a">3</text><text x="1407.5" y="97.4" fill="#3a3a3a">4</text><text x="1407.5" y="116.2" fill="#3a3a3a">5</text><text x="1407.5" y="135.0" fill="#3a3a3a">6</text><text x="1407.5" y="153.8" fill="#3a3a3a">7</text><text x="1407.5" y="172.7" fill="#3a3a3a">8</text><text x="1407.5" y="191.5" fill="#3a3a3a">9</text><text x="1407.5" y="210.3" fill="#3a3a3a">10</text><text x="1407.5" y="229.1" fill="#3a3a3a">11</text><text x="1407.5" y="248.0" fill="#3a3a3a">12</text><text x="1407.5" y="266.8" fill="#3a3a3a">13</text><text x="1407.5" y="285.6" fill="#3a3a3a">14</text><text x="1407.5" y="304.4" fill="#3a3a3a">15</text><text x="1407.5" y="323.3" fill="#3a3a3a">16</text><text x="1407.5" y="342.1" fill="#3a3a3a">17</text><text x="1407.5" y="360.9" fill="#ffffff">18</text><text x="1407.5" y="379.7" fill="#ffffff">19</text><text x="1407.5" y="398.5" fill="#ffffff">20</text><text x="1407.5" y="417.4" fill="#ffffff">21</text><text x="1407.5" y="436.2" fill="#ffffff">22</text><text x="1407.5" y="455.0" fill="#ffffff">23</text><text x="1407.5" y="473.8" fill="#ffffff">24</text><text x="1407.5" y="492.7" fill="#ffffff">25</text><text x="1407.5" y="511.5" fill="#ffffff">26</text><text x="1407.5" y="530.3" fill="#ffffff">27</text><text x="1407.5" y="549.1" fill="#ffffff">28</text><text x="1407.5" y="568.0" fill="#ffffff">29</text><text x="1407.5" y="586.8" fill="#ffffff">30</text><text x="1407.5" y="605.6" fill="#ffffff">31</text><text x="1407.5" y="624.4" fill="#ffffff">32</text><text x="1407.5" y="643.2" fill="#ffffff">33</text><text x="1407.5" y="662.1" fill="#ffffff">34</text><text x="1407.5" y="680.9" fill="#ffffff">35</text><text x="1407.5" y="699.7" fill="#ffffff">36</text><text x="1407.5" y="718.5" fill="#ffffff">37</text><text x="1407.5" y="737.4" fill="#ffffff">38</text><text x="1407.5" y="756.2" fill="#ffffff">39</text><text x="1407.5" y="775.0" fill="#ffffff">40</text><text x="1407.5" y="793.8" fill="#ffffff">41</text><text x="1407.5" y="812.7" fill="#ffffff">42</text><text x="1407.5" y="831.5" fill="#ffffff">43</text><text x="1407.5" y="850.3" fill="#ffffff">44</text><text x="1407.5" y="869.1" fill="#ffffff">45</text><text x="1407.5" y="887.9" fill="#ffffff">46</text><text x="1407.5" y="906.8" fill="#ffffff">47</text><text x="1407.5" y="925.6" fill="#ffffff">48</text><text x="1407.5" y="944.4" fill="#ffffff">49</text><text x="1407.5" y="963.2" fill="#ffffff">50</text><text x="1407.5" y="982.1" fill="#ffffff">51</text><text x="1407.5" y="1000.9" fill="#ffffff">52</text><text x="1407.5" y="1019.7" fill="#ffffff">53</text><text x="1407.5" y="1038.5" fill="#ffffff">54</text><text x="1407.5" y="1057.4" fill="#ffffff">55</text><text x="1407.5" y="1076.2" fill="#ffffff">56</text><text x="1407.5" y="1095.0" fill="#ffffff">1</text><text x="1407.5" y="1113.8" fill="#ffffff">2</text><text x="1407.5" y="1132.6" fill="#ffffff">3</text><text x="1407.5" y="1151.5" fill="#ffffff">4</text><text x="1407.5" y="1170.3" fill="#ffffff">5</text><text x="1407.5" y="1189.1" fill="#ffffff">6</text><text x="1407.5" y="1207.9" fill="#ffffff">7</text><text x="1407.5" y="1226.8" fill="#ffffff">8</text><text x="1407.5" y="1245.6" fill="#ffffff">9</text><text x="1407.5" y="1264.4" fill="#ffffff">10</text><text x="1407.5" y="1283.2" fill="#ffffff">11</text><text x="1407.5" y="1302.1" fill="#ffffff">12</text><text x="1407.5" y="1320.9" fill="#ffffff">13</text><text x="1407.5" y="1339.7" fill="#ffffff">14</text><text x="1407.5" y="1358.5" fill="#ffffff">15</text><text x="1407.5" y="1377.3" fill="#ffffff">16</text><text x="1407.5" y="1396.2" fill="#ffffff">17</text><text x="1407.5" y="1415.0" fill="#ffffff">18</text><text x="1407.5" y="1433.8" fill="#ffffff">19</text><text x="1407.5" y="1452.6" fill="#ffffff">20</text><text x="1407.5" y="1471.5" fill="#ffffff">21</text><text x="1407.5" y="1490.3" fill="#ffffff">22</text><text x="1407.5" y="1509.1" fill="#ffffff">23</text><text x="1407.5" y="1527.9" fill="#ffffff">24</text><text x="1407.5" y="1546.8" fill="#ffffff">25</text><text x="1407.5" y="1565.6" fill="#ffffff">26</text><text x="1407.5" y="1584.4" fill="#ffffff">27</text><text x="1407.5" y="1603.2" fill="#ffffff">28</text><text x="1407.5" y="1622.0" fill="#ffffff">29</text><text x="1407.5" y="1640.9" fill="#ffffff">30</text><text x="1407.5" y="1659.7" fill="#ffffff">31</text><text x="1407.5" y="1678.5" fill="#ffffff">32</text><text x="1407.5" y="1697.3" fill="#ffffff">1</text><text x="1407.5" y="1716.2" fill="#ffffff">2</text><text x="1407.5" y="1735.0" fill="#ffffff">3</text><text x="1407.5" y="1753.8" fill="#ffffff">4</text><text x="1407.5" y="1772.6" fill="#ffffff">5</text><text x="1407.5" y="1791.5" fill="#ffffff">6</text><text x="1407.5" y="1810.3" fill="#ffffff">7</text><text x="1407.5" y="1829.1" fill="#ffffff">8</text><text x="1407.5" y="1847.9" fill="#ffffff">9</text><text x="1407.5" y="1866.7" fill="#ffffff">10</text><text x="1407.5" y="1885.6" fill="#ffffff">11</text><text x="1407.5" y="1904.4" fill="#ffffff">12</text><text x="1407.5" y="1923.2" fill="#ffffff">13</text><text x="1407.5" y="1942.0" fill="#ffffff">14</text><text x="1407.5" y="1960.9" fill="#ffffff">15</text><text x="1407.5" y="1979.7" fill="#ffffff">16</text><text x="1407.5" y="1998.5" fill="#ffffff">17</text><text x="1407.5" y="2017.3" fill="#ffffff">18</text><text x="1407.5" y="2036.1" fill="#ffffff">19</text><text x="1407.5" y="2055.0" fill="#ffffff">20</text><text x="1407.5" y="2073.8" fill="#ffffff">21</text><text x="1407.5" y="2092.6" fill="#ffffff">22</text><text x="1407.5" y="2111.4" fill="#ffffff">23</text><text x="1407.5" y="2130.3" fill="#ffffff">24</text><text x="1407.5" y="2149.1" fill="#ffffff">25</text><text x="1407.5" y="2167.9" fill="#ffffff">26</text><text x="1407.5" y="2186.7" fill="#ffffff">27</text><text x="1407.5" y="2205.6" fill="#ffffff">28</text><text x="1407.5" y="2224.4" fill="#ffffff">29</text><text x="1407.5" y="2243.2" fill="#ffffff">30</text><text x="1407.5" y="2262.0" fill="#ffffff">31</text><text x="1407.5" y="2280.8" fill="#ffffff">32</text><text x="1407.5" y="2299.7" fill="#ffffff">33</text><text x="1407.5" y="2318.5" fill="#ffffff">34</text><text x="1407.5" y="2337.3" fill="#ffffff">35</text><text x="1407.5" y="2356.1" fill="#ffffff">36</text><text x="1407.5" y="2375.0" fill="#ffffff">37</text><text x="1407.5" y="2393.8" fill="#ffffff">38</text><text x="1407.5" y="2412.6" fill="#ffffff">39</text><text x="1407.5" y="2431.4" fill="#ffffff">40</text><text x="1407.5" y="2450.3" fill="#ffffff">41</text><text x="1407.5" y="2469.1" fill="#ffffff">42</text><text x="2081" y="40.9" fill="#ffffff">1</text><text x="2081" y="59.7" fill="#ffffff">2</text><text x="2081" y="78.6" fill="#ffffff">3</text><text x="2081" y="97.4" fill="#ffffff">4</text><text x="2081" y="116.2" fill="#ffffff">5</text><text x="2081" y="135.0" fill="#ffffff">6</text><text x="2081" y="153.8" fill="#ffffff">7</text><text x="2081" y="172.7" fill="#ffffff">8</text><text x="2081" y="191.5" fill="#ffffff">9</text><text x="2081" y="210.3" fill="#ffffff">10</text><text x="2081" y="229.1" fill="#ffffff">11</text><text x="2081" y="248.0" fill="#ffffff">12</text><text x="2081" y="266.8" fill="#ffffff">13</text><text x="2081" y="285.6" fill="#ffffff">14</text><text x="2081" y="304.4" fill="#ffffff">15</text><text x="2081" y="323.3" fill="#ffffff">16</text><text x="2081" y="342.1" fill="#ffffff">17</text><text x="2081" y="360.9" fill="#ffffff">18</text><text x="2081" y="379.7" fill="#ffffff">19</text><text x="2081" y="398.5" fill="#ffffff">20</text><text x="2081" y="417.4" fill="#ffffff">21</text><text x="2081" y="436.2" fill="#ffffff">22</text><text x="2081" y="455.0" fill="#ffffff">23</text><text x="2081" y="473.8" fill="#ffffff">24</text><text x="2081" y="492.7" fill="#ffffff">25</text><text x="2081" y="511.5" fill="#ffffff">26</text><text x="2081" y="530.3" fill="#ffffff">27</text><text x="2081" y="549.1" fill="#ffffff">28</text><text x="2081" y="568.0" fill="#ffffff">29</text><text x="2081" y="586.8" fill="#ffffff">30</text><text x="2081" y="605.6" fill="#ffffff">31</text><text x="2081" y="624.4" fill="#ffffff">32</text><text x="2081" y="643.2" fill="#ffffff">33</text><text x="2081" y="662.1" fill="#ffffff">34</text><text x="2081" y="680.9" fill="#1a1a1a">35</text><text x="2081" y="699.7" fill="#1a1a1a">36</text><text x="2081" y="718.5" fill="#1a1a1a">37</text><text x="2081" y="737.4" fill="#1a1a1a">38</text><text x="2081" y="756.2" fill="#1a1a1a">39</text><text x="2081" y="775.0" fill="#1a1a1a">40</text><text x="2081" y="793.8" fill="#1a1a1a">41</text><text x="2081" y="812.7" fill="#1a1a1a">42</text><text x="2081" y="831.5" fill="#1a1a1a">43</text><text x="2081" y="850.3" fill="#1a1a1a">44</text><text x="2081" y="869.1" fill="#1a1a1a">45</text><text x="2081" y="887.9" fill="#1a1a1a">46</text><text x="2081" y="906.8" fill="#1a1a1a">47</text><text x="2081" y="925.6" fill="#1a1a1a">48</text><text x="2081" y="944.4" fill="#1a1a1a">49</text><text x="2081" y="963.2" fill="#1a1a1a">50</text><text x="2081" y="982.1" fill="#1a1a1a">51</text><text x="2081" y="1000.9" fill="#1a1a1a">52</text><text x="2081" y="1019.7" fill="#1a1a1a">53</text><text x="2081" y="1038.5" fill="#1a1a1a">54</text><text x="2081" y="1057.4" fill="#1a1a1a">55</text><text x="2081" y="1076.2" fill="#1a1a1a">56</text><text x="2081" y="1095.0" fill="#1a1a1a">1</text><text x="2081" y="1113.8" fill="#1a1a1a">2</text><text x="2081" y="1132.6" fill="#1a1a1a">3</text><text x="2081" y="1151.5" fill="#1a1a1a">4</text><text x="2081" y="1170.3" fill="#1a1a1a">5</text><text x="2081" y="1189.1" fill="#1a1a1a">6</text><text x="2081" y="1207.9" fill="#1a1a1a">7</text><text x="2081" y="1226.8" fill="#1a1a1a">8</text><text x="2081" y="1245.6" fill="#1a1a1a">9</text><text x="2081" y="1264.4" fill="#1a1a1a">10</text><text x="2081" y="1283.2" fill="#1a1a1a">11</text><text x="2081" y="1302.1" fill="#1a1a1a">12</text><text x="2081" y="1320.9" fill="#1a1a1a">13</text><text x="2081" y="1339.7" fill="#1a1a1a">14</text><text x="2081" y="1358.5" fill="#1a1a1a">15</text><text x="2081" y="1377.3" fill="#1a1a1a">16</text><text x="2081" y="1396.2" fill="#1a1a1a">17</text><text x="2081" y="1415.0" fill="#1a1a1a">18</text><text x="2081" y="1433.8" fill="#1a1a1a">19</text><text x="2081" y="1452.6" fill="#1a1a1a">20</text><text x="2081" y="1471.5" fill="#1a1a1a">21</text><text x="2081" y="1490.3" fill="#1a1a1a">22</text><text x="2081" y="1509.1" fill="#1a1a1a">23</text><text x="2081" y="1527.9" fill="#1a1a1a">24</text><text x="2081" y="1546.8" fill="#1a1a1a">25</text><text x="2081" y="1565.6" fill="#1a1a1a">26</text><text x="2081" y="1584.4" fill="#1a1a1a">27</text><text x="2081" y="1603.2" fill="#1a1a1a">28</text><text x="2081" y="1622.0" fill="#1a1a1a">29</text><text x="2081" y="1640.9" fill="#1a1a1a">30</text><text x="2081" y="1659.7" fill="#1a1a1a">31</text><text x="2081" y="1678.5" fill="#1a1a1a">32</text><text x="2081" y="1697.3" fill="#1a1a1a">1</text><text x="2081" y="1716.2" fill="#1a1a1a">2</text><text x="2081" y="1735.0" fill="#1a1a1a">3</text><text x="2081" y="1753.8" fill="#1a1a1a">4</text><text x="2081" y="1772.6" fill="#1a1a1a">5</text><text x="2081" y="1791.5" fill="#1a1a1a">6</text><text x="2081" y="1810.3" fill="#1a1a1a">7</text><text x="2081" y="1829.1" fill="#1a1a1a">8</text><text x="2081" y="1847.9" fill="#1a1a1a">9</text><text x="2081" y="1866.7" fill="#1a1a1a">10</text><text x="2081" y="1885.6" fill="#1a1a1a">11</text><text x="2081" y="1904.4" fill="#1a1a1a">12</text><text x="2081" y="1923.2" fill="#1a1a1a">13</text><text x="2081" y="1942.0" fill="#1a1a1a">14</text><text x="2081" y="1960.9" fill="#1a1a1a">15</text><text x="2081" y="1979.7" fill="#1a1a1a">16</text><text x="2081" y="1998.5" fill="#1a1a1a">17</text><text x="2081" y="2017.3" fill="#1a1a1a">18</text><text x="2081" y="2036.1" fill="#ffffff">19</text><text x="2081" y="2055.0" fill="#ffffff">20</text><text x="2081" y="2073.8" fill="#ffffff">21</text><text x="2081" y="2092.6" fill="#ffffff">22</text><text x="2081" y="2111.4" fill="#ffffff">23</text><text x="2081" y="2130.3" fill="#ffffff">24</text><text x="2081" y="2149.1" fill="#ffffff">25</text><text x="2081" y="2167.9" fill="#ffffff">26</text><text x="2081" y="2186.7" fill="#ffffff">27</text><text x="2081" y="2205.6" fill="#ffffff">28</text><text x="2081" y="2224.4" fill="#ffffff">29</text><text x="2081" y="2243.2" fill="#ffffff">30</text><text x="2081" y="2262.0" fill="#ffffff">31</text><text x="2081" y="2280.8" fill="#ffffff">32</text><text x="2081" y="2299.7" fill="#ffffff">33</text><text x="2081" y="2318.5" fill="#ffffff">34</text><text x="2081" y="2337.3" fill="#ffffff">35</text><text x="2081" y="2356.1" fill="#ffffff">36</text><text x="2081" y="2375.0" fill="#ffffff">37</text><text x="2081" y="2393.8" fill="#ffffff">38</text><text x="2081" y="2412.6" fill="#ffffff">39</text><text x="2081" y="2431.4" fill="#ffffff">40</text><text x="2081" y="2450.3" fill="#ffffff">41</text><text x="2081" y="2469.1" fill="#ffffff">42</text></g><g font-family="Liberation Sans, Arial, sans-serif" font-size="29.5" fill="#3c3c3c"><text transform="translate(1388 22) rotate(-90)" text-anchor="end">GABA</text><text transform="translate(1388 1090) rotate(-90)" text-anchor="end">VGLUT1</text><text transform="translate(1388 1693) rotate(-90)" text-anchor="end">VGLUT2</text></g><g font-family="Liberation Sans, Arial, sans-serif" font-size="19" fill="#8a8a8a" text-anchor="end"><text x="1391" y="229.1">CP</text><text x="1391" y="248.0">CP</text><text x="1391" y="1377.3">DGv</text><text x="1391" y="1396.2">CA3v</text><text x="1391" y="2280.8">SO</text><text x="1391" y="2356.1">CR</text></g><g font-family="Liberation Sans, Arial, sans-serif" font-size="25" font-style="italic" fill="#111" text-anchor="end"><text transform="translate(1449.0 2487) rotate(-42)">Calb1</text><text transform="translate(1475.1 2487) rotate(-42)">Moxd1</text><text transform="translate(1501.2 2487) rotate(-42)">Nxph1</text><text transform="translate(1527.3 2487) rotate(-42)">Lhx6</text><text transform="translate(1553.4 2487) rotate(-42)">Slc32a1</text><text transform="translate(1579.4 2487) rotate(-42)">Slc6a1</text><text transform="translate(1605.5 2487) rotate(-42)">Maf</text><text transform="translate(1631.6 2487) rotate(-42)">Etl4</text><text transform="translate(1657.7 2487) rotate(-42)">Synpr</text><text transform="translate(1683.8 2487) rotate(-42)">Zeb2</text><text transform="translate(1709.8 2487) rotate(-42)">Tcf4</text><text transform="translate(1735.9 2487) rotate(-42)">Nfib</text><text transform="translate(1762.0 2487) rotate(-42)">Slc17a7</text><text transform="translate(1788.1 2487) rotate(-42)">Ptk2b</text><text transform="translate(1814.2 2487) rotate(-42)">Wfs1</text><text transform="translate(1840.2 2487) rotate(-42)">Six3</text><text transform="translate(1866.3 2487) rotate(-42)">Meis2</text><text transform="translate(1892.4 2487) rotate(-42)">Zfhx4</text><text transform="translate(1918.5 2487) rotate(-42)">Zfhx3</text><text transform="translate(1944.6 2487) rotate(-42)">Baiap3</text><text transform="translate(1970.6 2487) rotate(-42)">Pbx3</text><text transform="translate(1996.7 2487) rotate(-42)">Meis1</text><text transform="translate(2022.8 2487) rotate(-42)">Nxph4</text><text transform="translate(2048.9 2487) rotate(-42)">Slc17a6</text></g><text x="1307" y="35" font-family="Liberation Sans, Arial, sans-serif" font-weight="bold" font-size="41" fill="#111">d</text>
<defs><path id="kc8_10" d="M477.9 943.3L488.0 933.2L505.3 936.1L522.6 930.3L545.6 921.7L568.7 918.8L585.9 921.7L600.3 933.2L606.7 947.6L603.2 962.0L588.8 975.0L580.2 970.6L574.4 957.7L560.0 946.2L539.9 943.3L516.8 949.0L506.7 963.4L496.7 973.5L485.1 969.2L478.8 956.2Z"/><path id="kc16_17" d="M300.8 1108.9L299.4 1091.6L305.1 1080.1L315.2 1071.5L323.8 1062.8L332.5 1054.2L336.8 1042.6L346.9 1035.4L357.0 1035.4L365.6 1042.6L362.7 1055.6L352.6 1059.9L341.1 1062.8L332.5 1071.5L328.2 1085.9L325.3 1100.3L315.2 1107.5L306.6 1110.3Z"/><path id="kc18_21" d="M259.0 1218.3L261.9 1198.2L266.2 1183.8L274.9 1175.1L286.4 1175.1L297.9 1183.8L308.0 1189.5L315.2 1201.1L326.7 1203.9L338.2 1205.4L348.3 1208.3L346.9 1221.2L335.4 1224.1L321.0 1221.2L309.4 1224.1L303.7 1235.6L295.0 1244.3L283.5 1251.5L272.0 1244.3L264.8 1235.6Z"/><path id="kc22" d="M382.9 1186.7L390.1 1179.5L401.6 1178.0L407.4 1183.8L404.5 1192.4L395.9 1195.3L387.2 1193.9Z"/><path id="kc23" d="M424.7 1183.8L430.4 1175.1L441.9 1163.6L453.5 1157.9L462.1 1163.6L465.0 1178.0L462.1 1189.5L450.6 1195.3L436.2 1192.4L427.5 1189.5Z"/><path id="kc6" d="M459.2 1149.2L467.9 1140.6L479.4 1137.7L490.9 1143.5L496.7 1155.0L499.5 1166.5L511.1 1175.1L525.5 1178.0L539.9 1178.0L557.1 1180.9L560.0 1192.4L545.6 1198.2L522.6 1195.3L505.3 1195.3L490.9 1198.2L476.5 1195.3L465.0 1189.5L459.2 1178.0Z"/><path id="kc6t" d="M453.5 1212.6L459.2 1198.2L467.9 1195.3L472.2 1201.1L460.7 1215.5Z"/><path id="kc3_5" d="M557.1 1189.5L562.9 1175.1L574.4 1166.5L591.7 1163.6L609.0 1157.9L626.3 1152.1L632.0 1157.9L637.8 1175.1L640.7 1192.4L634.9 1206.8L629.1 1221.2L617.6 1227.0L603.2 1221.2L588.8 1227.0L571.5 1224.1L560.0 1212.6L554.3 1201.1Z"/><path id="kc7_15" d="M506.7 1091.6L513.9 1081.5L525.5 1074.3L539.9 1065.7L551.4 1057.1L560.0 1047.0L574.4 1036.9L588.8 1036.9L603.2 1034.0L614.7 1031.1L623.4 1039.8L623.4 1051.3L634.9 1059.9L647.9 1065.7L649.3 1072.9L634.9 1074.3L623.4 1070.0L611.9 1071.5L603.2 1080.1L594.6 1074.3L585.9 1068.6L574.4 1074.3L560.0 1083.0L545.6 1088.7L534.1 1100.3L519.7 1103.1L509.6 1101.7Z"/><path id="kc2" d="M534.1 1255.8L537.0 1238.5L548.5 1229.9L562.9 1224.1L571.5 1227.0L574.4 1241.4L575.9 1258.7L568.7 1273.1L557.1 1278.8L542.7 1277.4L535.5 1270.2Z"/><path id="kc1" d="M508.2 1273.1L513.9 1264.4L522.6 1263.0L528.3 1270.2L526.9 1281.7L516.8 1283.1Z"/><path id="kv2_31" d="M393.0 1264.4L398.7 1247.1L413.1 1241.4L427.5 1239.9L434.7 1244.3L436.2 1258.7L430.4 1270.2L416.0 1274.5L398.7 1274.5Z"/><path id="kc32" d="M103.7 1336.4L109.4 1329.2L121.0 1327.2L131.0 1330.6L136.8 1337.8L135.4 1347.9L132.5 1359.4L121.0 1363.8L110.9 1360.9L106.6 1350.8Z"/><path id="kc30_34" d="M172.8 1333.5L184.3 1327.8L198.7 1323.4L204.5 1317.7L216.0 1311.9L227.5 1316.2L230.4 1326.3L221.8 1336.4L210.3 1339.3L198.7 1342.2L190.1 1340.7L178.6 1337.8Z"/><path id="kc24_29" d="M253.5 1431.5L256.3 1417.1L259.2 1405.5L257.8 1394.0L254.9 1382.5L256.3 1368.1L262.1 1359.4L273.6 1358.0L282.3 1362.3L285.1 1350.8L288.0 1343.6L292.3 1349.4L290.9 1358.0L296.7 1373.8L305.3 1371.0L313.9 1373.8L319.7 1385.4L322.6 1396.9L313.9 1401.2L305.3 1408.4L299.5 1419.9L296.7 1428.6L285.1 1434.3L270.7 1434.3L259.2 1434.3Z"/><path id="kc33" d="M133.9 1376.7L138.2 1371.0L146.9 1373.8L157.0 1379.6L164.2 1382.5L165.6 1394.0L161.3 1405.5L164.2 1417.1L157.0 1419.9L146.9 1414.2L138.2 1405.5L133.9 1394.0Z"/><path id="kc37" d="M4.3 1454.5L8.6 1448.7L20.2 1447.3L27.4 1451.6L28.8 1460.3L23.0 1463.1L11.5 1463.1L5.8 1460.3Z"/><path id="kc35_38" d="M157.0 1443.0L161.3 1440.1L167.1 1451.6L175.7 1457.4L187.2 1451.6L198.7 1443.0L204.5 1437.2L213.1 1434.3L224.7 1437.2L236.2 1437.2L241.9 1443.0L239.1 1451.6L221.8 1454.5L213.1 1463.1L204.5 1471.8L201.6 1480.4L207.4 1489.1L201.6 1500.6L195.9 1512.1L184.3 1517.9L172.8 1515.0L169.9 1503.5L172.8 1489.1L175.7 1477.5L167.1 1471.8L158.4 1468.9L152.6 1463.1L152.6 1451.6Z"/><path id="kc42_43" d="M61.9 1532.3L66.2 1523.6L77.8 1517.9L89.3 1512.1L95.0 1503.5L103.7 1489.1L115.2 1480.4L123.8 1483.3L126.7 1494.8L126.7 1509.2L115.2 1512.1L103.7 1515.0L95.0 1523.6L89.3 1535.1L77.8 1538.0L66.2 1536.6Z"/><path id="kc39_40" d="M118.1 1569.7L121.0 1558.2L129.6 1555.3L141.1 1549.5L152.6 1546.7L164.2 1549.5L169.9 1558.2L161.3 1563.9L152.6 1569.7L149.8 1584.1L144.0 1595.6L138.2 1610.0L149.8 1621.5L161.3 1627.3L158.4 1635.9L146.9 1635.9L138.2 1627.3L129.6 1615.8L121.0 1601.4L118.1 1587.0Z"/><path id="kc25" d="M288.0 1503.5L290.9 1486.2L299.5 1483.3L311.1 1489.1L313.9 1500.6L311.1 1509.2L299.5 1512.1L290.9 1510.7Z"/><path id="kc47_49" d="M289.5 1572.6L296.7 1566.8L311.1 1569.7L325.5 1572.6L339.9 1569.7L354.3 1569.7L362.9 1578.3L368.7 1589.9L374.4 1604.3L380.2 1618.7L394.6 1630.2L406.1 1633.1L403.2 1644.6L388.8 1647.5L374.4 1644.6L368.7 1635.9L365.8 1624.4L357.1 1610.0L345.6 1604.3L331.2 1604.3L316.8 1598.5L305.3 1592.7L296.7 1584.1Z"/><path id="kc28" d="M365.8 1592.7L374.4 1589.9L383.1 1595.6L380.2 1605.7L370.1 1605.7Z"/><path id="kv2_1_6" d="M386.1 1373.8L397.6 1362.3L412.0 1360.9L423.5 1365.2L429.3 1347.9L440.8 1342.2L452.3 1345.0L458.1 1356.6L466.7 1359.4L478.2 1356.6L495.5 1350.8L507.1 1342.2L518.6 1339.3L535.9 1339.3L553.1 1336.4L558.9 1345.0L553.1 1353.7L538.7 1356.6L527.2 1359.4L515.7 1365.2L509.9 1373.8L501.3 1382.5L484.0 1385.4L463.8 1385.4L452.3 1388.2L437.9 1391.1L423.5 1399.8L409.1 1411.3L397.6 1405.5L389.0 1394.0Z"/><path id="kv2_7_19" d="M406.2 1411.3L420.6 1399.8L440.8 1391.1L461.0 1385.4L484.0 1382.5L501.3 1382.5L512.8 1379.6L515.7 1394.0L512.8 1411.3L501.3 1422.8L489.8 1428.6L475.4 1434.3L472.5 1451.6L475.4 1468.9L469.6 1480.4L455.2 1483.3L446.6 1477.5L440.8 1463.1L432.2 1451.6L420.6 1445.9L409.1 1434.3L403.4 1422.8Z"/><path id="kv2_33_35" d="M371.7 1466.0L380.3 1454.5L394.7 1451.6L409.1 1454.5L420.6 1460.3L429.3 1468.9L435.0 1480.4L429.3 1491.9L417.8 1497.7L403.4 1497.7L391.8 1491.9L380.3 1489.1L374.6 1480.4Z"/><path id="kv2_20_29" d="M501.3 1466.0L512.8 1463.1L527.2 1457.4L541.6 1448.7L547.4 1434.3L556.0 1428.6L567.5 1425.7L579.1 1434.3L584.8 1445.9L593.5 1451.6L602.1 1457.4L610.7 1468.9L616.5 1480.4L613.6 1491.9L599.2 1494.8L593.5 1503.5L584.8 1509.2L581.9 1523.6L570.4 1532.3L564.7 1538.0L553.1 1540.9L541.6 1535.1L530.1 1532.3L521.5 1523.6L518.6 1509.2L524.3 1497.7L512.8 1489.1L507.1 1480.4Z"/><path id="kv2_40_42" d="M590.6 1385.4L599.2 1373.8L610.7 1371.0L625.1 1369.5L636.7 1373.8L642.4 1385.4L639.5 1396.9L630.9 1402.6L619.4 1405.5L607.9 1411.3L599.2 1422.8L593.5 1428.6L590.6 1417.1L593.5 1405.5Z"/><path id="kv2_22" d="M642.4 1445.9L648.2 1434.3L659.7 1430.0L671.2 1434.3L679.9 1445.9L677.0 1457.4L671.2 1463.1L659.7 1466.0L651.1 1474.7L648.2 1483.3L645.3 1468.9Z"/><path id="kv2_23" d="M656.8 1489.1L665.5 1483.3L674.1 1486.2L677.0 1497.7L668.3 1503.5L659.7 1500.6Z"/><path id="kv2_36_39" d="M423.5 1555.3L432.2 1546.7L446.6 1543.8L458.1 1549.5L466.7 1561.1L463.8 1575.5L452.3 1581.2L437.9 1581.2L426.4 1575.5Z"/><path id="kv2_21" d="M512.8 1595.6L518.6 1587.0L530.1 1584.1L541.6 1587.0L544.5 1601.4L541.6 1621.5L535.9 1633.1L524.3 1630.2L515.7 1621.5L509.9 1610.0Z"/><path id="kv1_1_27" d="M466.7 1520.7L472.5 1513.5L481.1 1515.0L484.0 1523.6L478.2 1530.8L469.6 1529.4Z"/><path id="kv1_5_7" d="M541.6 1615.8L558.9 1610.0L576.2 1612.9L593.5 1607.1L605.0 1595.6L607.9 1578.3L613.6 1566.8L628.0 1561.1L645.3 1555.3L662.6 1552.4L679.9 1552.4L691.4 1558.2L697.1 1569.7L697.1 1581.2L688.5 1592.7L677.0 1601.4L665.5 1610.0L651.1 1618.7L633.8 1624.4L622.3 1633.1L610.7 1644.6L593.5 1644.6L576.2 1641.7L558.9 1635.9L544.5 1630.2Z"/><path id="kv1_16" d="M652.3 1292.7L656.9 1284.7L666.1 1283.5L674.1 1288.1L675.3 1297.3L667.2 1301.9L656.9 1300.8Z"/><path id="kv1_17" d="M773.2 1113.0L779.0 1103.8L785.9 1099.2L795.1 1100.3L799.7 1108.4L797.4 1117.6L790.5 1124.5L783.6 1128.0L776.7 1122.2Z"/><path id="kv1_21_24" d="M726.0 1329.6L728.3 1313.5L730.6 1299.6L739.8 1290.4L749.0 1285.8L760.6 1281.2L769.8 1274.3L772.1 1260.5L774.4 1244.3L781.3 1235.1L795.1 1228.2L808.9 1224.7L827.4 1224.7L845.8 1228.2L859.6 1235.1L867.7 1244.3L866.5 1255.9L859.6 1262.8L850.4 1267.4L841.2 1272.0L836.6 1285.8L829.7 1295.0L820.5 1301.9L811.2 1299.6L802.0 1297.3L795.1 1304.2L788.2 1313.5L781.3 1325.0L776.7 1336.5L767.5 1343.4L753.6 1345.7L739.8 1345.7L730.6 1341.1Z"/><path id="kv1_20a" d="M850.4 1359.5L855.0 1348.0L864.2 1336.5L873.5 1331.9L885.0 1336.5L894.2 1345.7L898.8 1359.5L901.1 1373.4L896.5 1390.0L852.7 1390.0L849.3 1373.4Z"/><path id="kv1_20b" d="M848.7 1362.8L854.9 1352.4L859.1 1344.1L869.4 1340.0L888.1 1342.1L898.5 1350.4L900.6 1364.9L896.4 1379.4L888.1 1389.8L879.8 1396.0L867.4 1396.0L857.0 1385.6L850.8 1373.2Z"/><path id="kv1_18_19" d="M813.5 1427.1L821.8 1420.9L832.1 1416.7L842.5 1410.5L852.9 1408.4L863.2 1418.8L873.6 1427.1L886.0 1433.3L896.4 1441.6L900.6 1456.1L898.5 1468.6L892.3 1476.9L879.8 1478.9L867.4 1472.7L854.9 1464.4L844.6 1454.1L836.3 1443.7L830.0 1437.5L821.8 1433.3Z"/><path id="kv1_12_15" d="M946.2 1418.8L950.3 1412.6L960.7 1412.6L971.1 1418.8L979.4 1427.1L987.6 1439.5L989.7 1452.0L991.8 1464.4L989.7 1481.0L985.6 1497.6L989.7 1505.9L993.9 1516.3L991.8 1530.8L993.9 1543.2L991.8 1555.7L985.6 1566.0L975.2 1568.1L962.8 1568.1L954.5 1559.8L952.4 1547.4L950.3 1534.9L946.2 1522.5L958.6 1514.2L966.9 1505.9L971.1 1493.5L964.8 1481.0L958.6 1468.6L956.5 1456.1L956.5 1441.6L950.3 1431.2Z"/><path id="kv1_10_11" d="M813.5 1640.7L817.6 1628.2L828.0 1620.0L840.4 1615.8L850.8 1607.5L859.1 1603.4L867.4 1609.6L875.7 1617.9L886.0 1620.0L898.5 1620.0L906.8 1626.2L908.8 1636.5L904.7 1646.9L894.3 1651.1L884.0 1649.0L873.6 1644.8L861.2 1646.9L846.6 1649.0L830.0 1649.0L819.7 1646.9Z"/><path id="kv1_25_26" d="M701.5 1522.5L709.8 1512.1L707.7 1497.6L711.8 1485.2L720.1 1474.8L728.4 1464.4L736.7 1456.1L747.1 1449.9L759.5 1443.7L772.0 1439.5L782.4 1437.5L790.6 1443.7L792.7 1456.1L788.6 1466.5L776.1 1472.7L767.8 1485.2L759.5 1497.6L751.2 1510.0L742.9 1516.3L730.5 1520.4L718.1 1520.4L707.7 1524.6Z"/><path id="kv1_30_32" d="M707.7 1547.4L716.0 1539.1L722.2 1532.9L732.6 1528.7L747.1 1524.6L761.6 1522.5L767.8 1530.8L765.8 1547.4L763.7 1559.8L761.6 1572.3L759.5 1588.8L761.6 1601.3L757.5 1609.6L747.1 1613.7L734.7 1615.8L722.2 1613.7L713.9 1605.4L709.8 1588.8L709.8 1572.3L707.7 1559.8Z"/><path id="kc52_56" d="M229.0 1723.7L241.5 1717.5L253.9 1713.3L264.3 1707.1L270.5 1696.7L278.8 1688.4L282.9 1678.1L285.0 1665.6L289.2 1653.2L297.5 1647.0L307.8 1649.0L314.1 1659.4L316.1 1669.8L312.0 1678.1L303.7 1682.2L295.4 1684.3L289.2 1692.6L289.2 1700.9L299.5 1707.1L312.0 1705.0L320.3 1709.2L318.2 1719.5L322.4 1732.0L320.3 1740.3L309.9 1740.3L299.5 1736.1L293.3 1721.6L287.1 1715.4L278.8 1713.3L268.4 1717.5L260.1 1721.6L249.8 1727.8L241.5 1732.0L233.2 1729.9Z"/><path id="kc50_51" d="M332.7 1754.8L336.9 1746.5L345.2 1742.4L355.5 1744.4L363.8 1750.6L361.8 1763.1L372.1 1769.3L365.9 1773.5L357.6 1775.5L357.6 1785.9L353.5 1794.2L343.1 1798.3L336.9 1790.0L336.9 1777.6L334.8 1765.2Z"/><path id="kc46" d="M432.3 1717.5L436.4 1707.1L444.7 1702.9L453.0 1707.1L461.3 1717.5L469.6 1729.9L477.9 1740.3L490.3 1748.6L498.6 1758.9L496.5 1773.5L486.2 1777.6L475.8 1775.5L467.5 1769.3L459.2 1761.0L453.0 1748.6L444.7 1738.2L438.5 1727.8Z"/><path id="kc45" d="M328.6 1881.3L334.8 1875.1L343.1 1874.0L349.3 1879.2L349.3 1887.5L343.1 1892.7L334.8 1891.7Z"/><path id="kc44" d="M441.6 1945.6L446.8 1937.3L457.1 1934.2L469.6 1937.3L478.9 1947.6L477.9 1958.0L469.6 1964.2L457.1 1965.3L446.8 1960.1L441.6 1953.9Z"/><path id="kv1_28_29" d="M611.6 1727.0L616.0 1713.8L622.6 1700.7L622.6 1687.6L627.0 1674.4L631.3 1661.3L635.7 1650.3L648.8 1641.6L666.4 1637.2L679.5 1632.8L692.6 1630.6L707.9 1630.6L710.1 1643.8L703.6 1656.9L694.8 1665.7L692.6 1678.8L692.6 1691.9L686.1 1700.7L672.9 1709.4L659.8 1718.2L648.8 1724.8L637.9 1735.7L624.8 1737.9Z"/><path id="kv1_2_4" d="M721.1 1762.0L727.6 1748.8L736.4 1735.7L745.2 1722.6L751.7 1705.1L764.9 1696.3L780.2 1696.3L793.3 1696.3L802.1 1705.1L810.8 1720.4L819.6 1735.7L828.3 1748.8L832.7 1766.4L841.5 1781.7L832.7 1792.6L824.0 1801.4L813.0 1810.1L799.9 1814.5L784.6 1818.9L775.8 1825.5L771.4 1836.4L758.3 1838.6L743.0 1832.0L732.0 1821.1L727.6 1807.9L723.3 1792.6L725.5 1777.3Z"/><path id="kv1_8" d="M530.6 1858.3L532.8 1845.2L541.6 1836.4L554.7 1834.2L567.9 1836.4L578.8 1845.2L583.2 1858.3L581.0 1873.6L585.4 1888.9L583.2 1904.3L572.2 1910.8L561.3 1906.5L556.9 1893.3L548.2 1886.8L537.2 1880.2L530.6 1869.2Z"/><path id="kv1_7" d="M539.4 1621.9L548.2 1613.1L561.3 1608.8L574.4 1608.8L587.6 1604.4L600.7 1600.0L635.7 1600.0L635.7 1613.1L627.0 1632.8L618.2 1643.8L609.4 1643.8L596.3 1635.0L583.2 1632.8L565.7 1637.2L552.5 1639.4L543.8 1635.0Z"/><pattern id="spkE" width="20.0" height="20.0" patternUnits="userSpaceOnUse"><g fill="#fff" fill-opacity="1.00"><circle cx="4.8" cy="10.9" r="1.25"/><circle cx="7.4" cy="12.1" r="1.25"/><circle cx="12.5" cy="1.3" r="1.25"/><circle cx="0.3" cy="16.7" r="1.25"/><circle cx="20.3" cy="16.7" r="1.25"/><circle cx="5.2" cy="4.7" r="1.25"/><circle cx="-0.1" cy="9.4" r="1.25"/><circle cx="19.9" cy="9.4" r="1.25"/><circle cx="16.7" cy="9.5" r="1.25"/><circle cx="12.8" cy="3.0" r="1.25"/><circle cx="12.7" cy="17.4" r="1.25"/><circle cx="10.5" cy="14.8" r="1.25"/><circle cx="13.4" cy="1.3" r="1.25"/><circle cx="15.2" cy="11.8" r="1.25"/></g></pattern><pattern id="spkB" width="16.0" height="16.0" patternUnits="userSpaceOnUse"><g fill="#fff" fill-opacity="1.00"><circle cx="3.8" cy="1.7" r="1.15"/><circle cx="6.3" cy="2.5" r="1.15"/><circle cx="1.1" cy="6.4" r="1.15"/><circle cx="17.1" cy="6.4" r="1.15"/><circle cx="14.7" cy="12.8" r="1.15"/><circle cx="12.2" cy="3.6" r="1.15"/><circle cx="8.6" cy="4.4" r="1.15"/><circle cx="2.8" cy="1.7" r="1.15"/><circle cx="3.4" cy="14.8" r="1.15"/><circle cx="13.3" cy="12.9" r="1.15"/><circle cx="12.8" cy="3.1" r="1.15"/><circle cx="5.0" cy="10.0" r="1.15"/><circle cx="11.7" cy="13.7" r="1.15"/><circle cx="14.1" cy="1.4" r="1.15"/><circle cx="9.7" cy="10.7" r="1.15"/><circle cx="8.1" cy="2.8" r="1.15"/><circle cx="7.6" cy="1.4" r="1.15"/><circle cx="-1.0" cy="13.8" r="1.15"/><circle cx="15.0" cy="13.8" r="1.15"/><circle cx="8.8" cy="4.8" r="1.15"/></g></pattern><pattern id="spkS" width="14.0" height="14.0" patternUnits="userSpaceOnUse"><g fill="#fff" fill-opacity="1.00"><circle cx="8.7" cy="10.4" r="0.80"/><circle cx="11.1" cy="13.2" r="0.80"/><circle cx="10.4" cy="12.9" r="0.80"/><circle cx="0.4" cy="6.5" r="0.80"/><circle cx="14.4" cy="6.5" r="0.80"/><circle cx="-0.8" cy="9.1" r="0.80"/><circle cx="13.2" cy="9.1" r="0.80"/><circle cx="12.6" cy="1.6" r="0.80"/><circle cx="6.6" cy="3.5" r="0.80"/><circle cx="7.6" cy="8.0" r="0.80"/><circle cx="0.2" cy="3.0" r="0.80"/><circle cx="14.2" cy="3.0" r="0.80"/><circle cx="3.9" cy="12.8" r="0.80"/><circle cx="10.7" cy="2.2" r="0.80"/><circle cx="11.2" cy="1.9" r="0.80"/><circle cx="8.6" cy="1.8" r="0.80"/><circle cx="0.0" cy="12.2" r="0.80"/><circle cx="14.0" cy="12.2" r="0.80"/><circle cx="2.9" cy="3.0" r="0.80"/><circle cx="-0.2" cy="12.2" r="0.80"/><circle cx="13.8" cy="12.2" r="0.80"/></g></pattern></defs><g id="tsne"><use href="#kc8_10" fill="#0000be" stroke="#0000be" stroke-width="5" stroke-linejoin="round"/><path d="M581.2 921.1h0M497.8 937.9h0M493.0 936.9h0M607.0 946.0h0M599.8 945.7h0M546.8 917.7h0M577.0 968.0h0M488.7 939.2h0M521.7 930.1h0M511.8 956.2h0M565.0 952.3h0M495.2 933.4h0M553.9 943.2h0M579.6 963.6h0M512.4 947.5h0M576.3 969.2h0M537.3 944.9h0M512.7 931.4h0M525.3 932.1h0M557.0 950.8h0M499.5 972.3h0M579.4 960.4h0M501.8 959.1h0M559.2 945.1h0M559.5 954.7h0M567.8 917.1h0M485.1 939.6h0M513.4 934.4h0M517.2 932.7h0M500.2 971.1h0" stroke="#0000be" stroke-width="4.6" stroke-linecap="round" fill="none"/><use href="#kc16_17" fill="#0000fe" stroke="#0000fe" stroke-width="5" stroke-linejoin="round"/><path d="M370.0 1050.4h0M324.9 1097.7h0M330.6 1041.9h0M307.3 1078.2h0M318.8 1064.1h0M324.2 1060.4h0M335.5 1039.5h0M342.2 1065.8h0M342.5 1061.4h0M335.7 1081.7h0M342.7 1040.7h0M351.9 1061.1h0M316.8 1069.7h0M298.4 1097.5h0M303.0 1087.9h0M321.7 1099.4h0M324.6 1064.0h0M298.5 1080.4h0M356.5 1038.0h0M302.9 1087.7h0M327.4 1090.4h0M310.2 1106.0h0M363.2 1047.4h0M304.0 1115.7h0M326.1 1062.8h0M333.4 1079.1h0M333.7 1049.9h0" stroke="#0000fe" stroke-width="4.6" stroke-linecap="round" fill="none"/><use href="#kc18_21" fill="#0016ff" stroke="#0016ff" stroke-width="5" stroke-linejoin="round"/><path d="M254.8 1223.9h0M285.4 1244.7h0M346.3 1213.1h0M260.9 1211.1h0M303.5 1221.2h0M257.8 1236.4h0M313.9 1199.8h0M279.6 1174.9h0M274.4 1238.4h0M318.3 1216.4h0M319.1 1228.1h0M300.1 1235.6h0M295.2 1245.7h0M263.2 1224.9h0M267.9 1230.2h0M266.0 1185.3h0M290.5 1246.8h0M264.5 1222.0h0M346.8 1221.6h0M257.6 1226.9h0M262.5 1235.7h0M286.0 1249.6h0M302.0 1185.5h0M293.0 1182.7h0M269.6 1239.0h0M336.2 1217.5h0M265.0 1240.2h0M348.9 1214.9h0M276.0 1176.6h0M271.9 1174.6h0" stroke="#0016ff" stroke-width="4.6" stroke-linecap="round" fill="none"/><use href="#kc22" fill="#0026ff" stroke="#0026ff" stroke-width="5" stroke-linejoin="round"/><path d="M406.6 1190.2h0M400.5 1188.1h0M404.7 1189.9h0M393.2 1197.7h0M395.4 1188.9h0M404.5 1195.4h0M399.4 1196.6h0M413.2 1187.1h0M392.6 1190.3h0M411.5 1192.1h0" stroke="#0026ff" stroke-width="4.6" stroke-linecap="round" fill="none"/><use href="#kc23" fill="#002eff" stroke="#002eff" stroke-width="5" stroke-linejoin="round"/><path d="M434.3 1170.5h0M429.9 1176.8h0M461.2 1195.7h0M432.9 1166.2h0M430.9 1166.1h0M446.3 1168.6h0M470.5 1170.4h0M435.2 1167.3h0M454.2 1158.6h0M452.7 1192.8h0M464.0 1166.0h0M459.8 1187.0h0M420.8 1187.7h0M432.4 1174.1h0M447.0 1193.8h0" stroke="#002eff" stroke-width="4.6" stroke-linecap="round" fill="none"/><use href="#kc6" fill="#0000a7" stroke="#0000a7" stroke-width="5" stroke-linejoin="round" opacity="0.92"/><path d="M551.5 1173.6h0M506.8 1172.2h0M539.6 1193.0h0M472.4 1143.9h0M473.7 1132.5h0M476.8 1194.5h0M475.2 1144.8h0M527.8 1174.8h0M508.8 1173.9h0M502.9 1168.3h0M469.5 1140.4h0M517.6 1181.5h0M557.5 1193.4h0M463.2 1146.1h0M494.2 1194.3h0M552.7 1189.9h0M473.1 1191.2h0M467.5 1192.8h0M507.1 1188.4h0M466.9 1195.5h0M545.4 1180.4h0M489.3 1143.7h0M506.4 1171.4h0M464.0 1195.6h0M512.2 1175.9h0M558.1 1184.2h0M512.0 1167.4h0" stroke="#0000a7" stroke-width="4.6" stroke-linecap="round" fill="none"/><use href="#kc6t" fill="#0000a7" stroke="#0000a7" stroke-width="5" stroke-linejoin="round"/><path d="M472.6 1200.7h0M462.0 1198.9h0M464.7 1193.7h0M460.4 1202.8h0M458.5 1198.1h0M453.2 1209.9h0M455.2 1198.8h0" stroke="#0000a7" stroke-width="4.6" stroke-linecap="round" fill="none"/><use href="#kc3_5" fill="#00008f" stroke="#00008f" stroke-width="5" stroke-linejoin="round"/><path d="M596.5 1228.3h0M566.1 1216.1h0M556.4 1193.4h0M620.3 1224.4h0M559.7 1217.8h0M579.5 1225.1h0M644.4 1198.3h0M575.2 1228.2h0M613.0 1220.4h0M559.8 1181.8h0M569.1 1163.5h0M626.1 1227.0h0M639.3 1192.0h0M596.5 1226.9h0M617.4 1225.9h0M609.0 1157.0h0M600.2 1222.7h0M558.2 1196.3h0M644.5 1189.2h0M625.1 1218.8h0M582.8 1164.4h0M623.2 1156.6h0M562.7 1174.3h0M610.7 1219.6h0M635.7 1198.2h0" stroke="#00008f" stroke-width="4.6" stroke-linecap="round" fill="none"/><use href="#kc7_15" fill="#0000d6" stroke="#0000d6" stroke-width="5" stroke-linejoin="round"/><path d="M542.6 1071.2h0M515.1 1097.3h0M635.5 1053.5h0M629.0 1056.5h0M518.4 1103.2h0M544.3 1058.7h0M540.2 1058.6h0M534.4 1093.6h0M533.0 1097.6h0M509.6 1092.1h0M594.0 1035.5h0M600.1 1040.4h0M576.3 1067.1h0M526.0 1106.5h0M590.1 1038.3h0M510.2 1091.0h0M622.6 1051.3h0M537.2 1073.8h0M521.8 1102.1h0M648.0 1066.7h0M513.9 1108.4h0M614.6 1077.5h0M641.6 1069.0h0M585.8 1071.3h0M609.1 1072.9h0M525.1 1102.5h0M608.3 1031.6h0M508.4 1099.9h0M594.3 1039.1h0M552.9 1055.1h0M531.8 1098.0h0M530.9 1093.8h0M545.6 1061.6h0M607.8 1032.1h0M578.6 1033.6h0M578.3 1070.1h0M647.3 1071.6h0M521.7 1075.6h0M539.9 1062.2h0M543.4 1090.4h0" stroke="#0000d6" stroke-width="4.6" stroke-linecap="round" fill="none"/><use href="#kc2" fill="#000087" stroke="#000087" stroke-width="5" stroke-linejoin="round"/><path d="M555.7 1229.0h0M529.1 1263.5h0M535.9 1252.6h0M535.0 1273.3h0M532.3 1255.5h0M544.8 1283.4h0M554.8 1226.7h0M579.6 1251.7h0M562.9 1280.4h0M571.3 1242.1h0M552.1 1278.8h0M569.3 1269.5h0M554.0 1223.5h0M537.6 1239.2h0M573.0 1260.4h0M574.6 1264.4h0" stroke="#000087" stroke-width="4.6" stroke-linecap="round" fill="none"/><use href="#kc1" fill="#00007f" stroke="#00007f" stroke-width="5" stroke-linejoin="round"/><path d="M534.8 1271.8h0M514.9 1277.0h0M518.0 1257.0h0M523.8 1262.4h0M523.9 1280.0h0M523.7 1275.7h0M510.5 1272.0h0M523.7 1282.3h0M519.7 1279.9h0" stroke="#00007f" stroke-width="4.6" stroke-linecap="round" fill="none"/><use href="#kv2_31" fill="#d60000" stroke="#d60000" stroke-width="5" stroke-linejoin="round"/><path d="M393.9 1268.3h0M409.1 1242.6h0M417.8 1247.5h0M404.2 1245.4h0M427.5 1264.2h0M429.5 1240.8h0M397.7 1246.8h0M432.5 1235.8h0M423.1 1279.7h0M421.5 1240.5h0M419.1 1272.3h0M426.8 1241.5h0M401.3 1244.5h0" stroke="#d60000" stroke-width="4.6" stroke-linecap="round" fill="none"/><use href="#kc32" fill="#0075ff" stroke="#0075ff" stroke-width="5" stroke-linejoin="round"/><path d="M130.6 1340.7h0M104.7 1340.2h0M113.7 1353.4h0M109.1 1333.7h0M105.6 1345.2h0M104.7 1347.9h0M113.7 1354.6h0M106.9 1334.0h0M129.8 1325.1h0M135.5 1334.9h0M127.3 1362.2h0M132.7 1334.0h0M110.6 1367.4h0M103.7 1342.8h0M141.4 1351.4h0" stroke="#0075ff" stroke-width="4.6" stroke-linecap="round" fill="none"/><use href="#kc30_34" fill="#006dff" stroke="#006dff" stroke-width="5" stroke-linejoin="round" opacity="0.70"/><path d="M219.4 1313.9h0M223.1 1323.9h0M197.0 1346.8h0M200.9 1337.9h0M210.6 1312.9h0M182.4 1328.5h0M202.2 1318.6h0M228.9 1330.0h0M188.7 1333.2h0M182.8 1327.8h0M209.6 1337.1h0M224.8 1311.2h0M206.5 1346.1h0M189.5 1332.1h0M228.0 1331.8h0M198.2 1324.2h0M190.3 1319.7h0M211.3 1312.2h0" stroke="#006dff" stroke-width="4.6" stroke-linecap="round" fill="none"/><use href="#kc24_29" fill="#004eff" stroke="#004eff" stroke-width="5" stroke-linejoin="round"/><path d="M294.8 1367.3h0M313.7 1390.0h0M296.4 1357.0h0M276.8 1435.5h0M258.3 1398.8h0M308.5 1378.8h0M288.7 1429.9h0M297.2 1410.0h0M312.7 1377.4h0M283.6 1355.6h0M257.1 1360.5h0M254.2 1375.6h0M322.1 1395.1h0M250.3 1375.2h0M256.4 1414.0h0M302.9 1375.9h0M260.2 1385.6h0M266.2 1357.8h0M272.8 1361.3h0M293.0 1340.6h0M283.4 1357.0h0M257.0 1375.8h0M285.2 1349.0h0M284.5 1431.9h0M251.2 1426.8h0M278.1 1433.6h0M286.8 1355.7h0M266.0 1356.0h0M256.1 1402.0h0M262.1 1434.1h0M268.8 1427.5h0M262.5 1418.4h0M279.6 1438.1h0M261.2 1386.3h0M281.7 1344.0h0M255.4 1381.4h0M293.7 1370.8h0" stroke="#004eff" stroke-width="4.6" stroke-linecap="round" fill="none"/><use href="#kc33" fill="#007dff" stroke="#007dff" stroke-width="5" stroke-linejoin="round"/><path d="M163.3 1377.1h0M134.6 1370.4h0M141.4 1376.0h0M155.2 1422.5h0M166.9 1387.2h0M158.5 1401.2h0M160.6 1403.8h0M163.1 1410.6h0M140.3 1404.3h0M162.7 1408.5h0M162.8 1403.5h0M162.2 1413.7h0M143.2 1367.6h0M162.3 1413.8h0M158.4 1394.4h0M128.0 1398.0h0M136.3 1400.8h0M169.1 1409.4h0" stroke="#007dff" stroke-width="4.6" stroke-linecap="round" fill="none"/><use href="#kc37" fill="#009dff" stroke="#009dff" stroke-width="5" stroke-linejoin="round"/><path d="M11.7 1443.1h0M5.7 1450.1h0M12.6 1454.4h0M11.5 1462.8h0M5.9 1459.6h0M27.2 1458.0h0M13.4 1448.2h0M20.4 1457.0h0M13.4 1462.6h0M23.9 1464.4h0M29.6 1463.7h0M2.9 1444.8h0" stroke="#009dff" stroke-width="4.6" stroke-linecap="round" fill="none"/><use href="#kc35_38" fill="#0095ff" stroke="#0095ff" stroke-width="5" stroke-linejoin="round" opacity="0.90"/><path d="M228.5 1448.0h0M158.7 1447.2h0M172.5 1502.2h0M172.1 1507.9h0M220.3 1432.0h0M200.0 1494.6h0M156.8 1441.7h0M201.4 1505.9h0M161.4 1470.3h0M193.3 1514.9h0M240.4 1449.4h0M209.4 1431.9h0M205.7 1440.8h0M191.8 1456.3h0M192.0 1448.9h0M171.4 1468.5h0M222.2 1438.0h0M208.3 1490.6h0M220.8 1464.6h0M216.3 1441.5h0M200.9 1482.9h0M164.4 1456.0h0M200.5 1490.5h0M200.9 1435.6h0M191.1 1509.7h0M235.8 1438.2h0M161.8 1475.5h0M155.5 1437.2h0M208.1 1461.3h0M210.8 1434.4h0M165.6 1445.7h0M179.2 1522.5h0M222.3 1439.9h0M174.6 1495.0h0M192.8 1506.2h0M165.7 1472.8h0M215.2 1429.9h0M169.6 1507.7h0M241.1 1441.4h0M201.4 1511.0h0M151.8 1447.7h0M181.3 1511.2h0" stroke="#0095ff" stroke-width="4.6" stroke-linecap="round" fill="none"/><use href="#kc42_43" fill="#00c4ff" stroke="#00c4ff" stroke-width="5" stroke-linejoin="round" opacity="0.80"/><path d="M99.8 1514.1h0M95.2 1510.1h0M77.0 1538.2h0M78.6 1524.6h0M81.2 1514.8h0M108.5 1517.8h0M99.9 1517.5h0M105.8 1480.7h0M80.5 1536.4h0M77.2 1531.3h0M90.9 1508.7h0M90.1 1540.5h0M87.5 1530.0h0M74.9 1520.1h0M92.3 1509.8h0M64.3 1529.0h0M102.2 1514.2h0M66.6 1539.5h0M121.6 1511.8h0M119.5 1487.2h0M104.6 1511.6h0M85.9 1535.2h0M86.0 1512.1h0M92.3 1516.7h0" stroke="#00c4ff" stroke-width="4.6" stroke-linecap="round" fill="none"/><use href="#kc39_40" fill="#00b4ff" stroke="#00b4ff" stroke-width="5" stroke-linejoin="round"/><path d="M142.8 1605.7h0M153.7 1549.7h0M126.1 1611.4h0M166.0 1561.2h0M139.1 1606.3h0M127.8 1550.4h0M136.3 1618.3h0M151.7 1584.1h0M133.4 1560.2h0M159.9 1547.7h0M140.9 1607.8h0M167.6 1550.2h0M134.3 1630.2h0M151.2 1570.2h0M121.7 1610.7h0M150.1 1545.0h0M150.6 1621.4h0M121.0 1598.9h0M164.5 1567.2h0M146.8 1547.9h0M155.0 1564.6h0M156.4 1567.3h0M143.3 1631.5h0M133.4 1551.4h0M135.8 1616.1h0M156.3 1551.6h0M159.4 1550.2h0M155.1 1584.2h0M135.8 1605.6h0M144.5 1552.4h0" stroke="#00b4ff" stroke-width="4.6" stroke-linecap="round" fill="none"/><use href="#kc25" fill="#003eff" stroke="#003eff" stroke-width="5" stroke-linejoin="round"/><path d="M304.4 1504.5h0M309.1 1501.4h0M292.0 1480.9h0M304.1 1515.5h0M307.4 1507.9h0M298.9 1487.3h0M311.4 1483.5h0M311.9 1504.7h0M307.6 1490.8h0M305.1 1506.8h0M306.9 1505.4h0M305.4 1494.6h0" stroke="#003eff" stroke-width="4.6" stroke-linecap="round" fill="none"/><use href="#kc47_49" fill="#00f4ff" stroke="#00f4ff" stroke-width="5" stroke-linejoin="round" opacity="0.80"/><path d="M397.7 1645.6h0M302.4 1585.7h0M387.4 1650.4h0M408.0 1641.5h0M405.4 1643.9h0M352.9 1574.0h0M351.6 1606.7h0M376.8 1607.6h0M382.9 1619.1h0M384.4 1627.8h0M365.0 1581.6h0M302.6 1585.8h0M339.8 1602.5h0M326.7 1567.2h0M369.6 1641.8h0M352.2 1577.0h0M366.3 1642.3h0M400.2 1630.6h0M327.5 1577.9h0M325.0 1601.0h0M361.1 1579.4h0M293.1 1575.7h0M360.4 1577.3h0M391.6 1622.8h0M382.6 1607.6h0M306.4 1563.1h0M345.3 1604.0h0M370.7 1641.5h0M300.8 1582.4h0M319.1 1571.0h0M348.1 1603.9h0M311.7 1590.1h0M311.4 1599.9h0M361.5 1632.2h0" stroke="#00f4ff" stroke-width="4.6" stroke-linecap="round" fill="none"/><use href="#kc28" fill="#0055ff" stroke="#0055ff" stroke-width="5" stroke-linejoin="round"/><path d="M368.4 1601.0h0M376.0 1603.0h0M370.8 1597.7h0M377.5 1591.6h0M369.6 1594.1h0M383.8 1603.0h0M369.5 1599.2h0" stroke="#0055ff" stroke-width="4.6" stroke-linecap="round" fill="none"/><use href="#kv2_1_6" fill="#ffac00" stroke="#ffac00" stroke-width="5" stroke-linejoin="round" opacity="0.80"/><path d="M556.8 1336.0h0M424.6 1397.1h0M389.4 1390.4h0M506.7 1375.2h0M489.4 1378.0h0M390.0 1381.2h0M406.3 1408.6h0M511.8 1373.4h0M511.0 1338.6h0M453.1 1387.7h0M535.5 1336.1h0M485.5 1360.0h0M555.9 1351.0h0M383.6 1385.0h0M499.4 1349.4h0M524.3 1365.2h0M398.1 1357.6h0M539.5 1357.5h0M387.9 1371.8h0M518.0 1369.0h0M399.4 1410.6h0M514.0 1375.7h0M491.2 1384.5h0M551.4 1341.7h0M444.1 1344.2h0M401.3 1402.8h0M434.8 1399.0h0M469.6 1359.8h0M493.5 1349.2h0M394.6 1399.8h0M398.3 1362.7h0M524.0 1354.0h0M389.1 1368.2h0M398.3 1395.0h0M531.2 1339.9h0M454.8 1349.5h0M390.6 1375.4h0M388.9 1388.0h0M428.7 1353.9h0M461.4 1362.7h0M402.3 1356.7h0M417.4 1398.7h0M506.6 1370.7h0M393.6 1401.3h0M475.7 1386.8h0" stroke="#ffac00" stroke-width="4.6" stroke-linecap="round" fill="none"/><use href="#kv2_7_19" fill="#ff6d00" stroke="#ff6d00" stroke-width="5" stroke-linejoin="round" opacity="0.85"/><path d="M470.4 1466.8h0M508.4 1385.5h0M428.3 1446.8h0M512.2 1394.0h0M470.9 1477.2h0M519.2 1391.0h0M514.7 1410.8h0M402.0 1431.6h0M501.0 1383.5h0M462.8 1476.1h0M479.6 1452.8h0M471.5 1452.5h0M417.9 1445.6h0M478.7 1451.5h0M497.8 1381.0h0M514.7 1414.3h0M420.1 1443.8h0M434.4 1464.3h0M494.6 1376.8h0M464.3 1477.0h0M429.6 1392.5h0M468.6 1379.5h0M480.3 1379.3h0M501.5 1422.2h0M451.7 1474.6h0M429.5 1390.1h0M479.9 1379.6h0M421.9 1443.1h0M473.0 1448.2h0M462.9 1389.7h0M476.4 1440.0h0M452.0 1389.1h0M514.9 1395.4h0" stroke="#ff6d00" stroke-width="4.6" stroke-linecap="round" fill="none"/><use href="#kv2_33_35" fill="#b60000" stroke="#b60000" stroke-width="5" stroke-linejoin="round" opacity="0.85"/><path d="M391.4 1491.6h0M420.4 1464.2h0M369.6 1457.2h0M431.2 1480.5h0M391.7 1494.2h0M392.1 1498.1h0M409.2 1453.3h0M396.8 1451.2h0M425.6 1487.2h0M379.6 1473.7h0M421.2 1493.9h0M372.4 1473.0h0M415.2 1504.3h0M426.7 1469.6h0M379.7 1470.4h0M376.2 1461.1h0M370.5 1485.5h0M372.4 1456.4h0M414.2 1490.8h0" stroke="#b60000" stroke-width="4.6" stroke-linecap="round" fill="none"/><use href="#kv2_20_29" fill="#fe0000" stroke="#fe0000" stroke-width="5" stroke-linejoin="round" opacity="0.88"/><path d="M539.9 1439.7h0M564.1 1539.2h0M536.5 1534.5h0M576.0 1431.5h0M548.3 1434.3h0M563.2 1536.9h0M556.6 1429.6h0M563.2 1420.1h0M523.8 1497.7h0M530.2 1448.1h0M575.7 1525.3h0M518.1 1519.8h0M544.6 1442.3h0M552.6 1537.1h0M522.3 1503.5h0M545.2 1437.6h0M593.8 1451.7h0M585.4 1453.7h0M505.1 1472.7h0M566.0 1536.2h0M581.3 1440.3h0M608.0 1453.7h0M513.1 1490.2h0M522.4 1495.0h0M576.9 1445.3h0M523.5 1523.6h0M500.6 1460.4h0M552.0 1428.6h0M564.8 1429.8h0M548.7 1427.4h0M556.3 1427.7h0M579.5 1522.0h0M558.8 1424.1h0M524.8 1522.7h0M525.4 1463.2h0M549.1 1537.7h0M597.1 1447.2h0M605.9 1492.1h0M610.7 1486.4h0M556.3 1435.1h0M545.5 1434.7h0M503.6 1468.4h0" stroke="#fe0000" stroke-width="4.6" stroke-linecap="round" fill="none"/><use href="#kv2_40_42" fill="#8f0000" stroke="#8f0000" stroke-width="5" stroke-linejoin="round" opacity="0.75"/><path d="M626.5 1403.2h0M596.4 1416.3h0M600.2 1424.3h0M592.4 1373.0h0M631.0 1405.5h0M622.5 1403.3h0M624.5 1369.6h0M627.2 1376.1h0M603.1 1377.4h0M589.6 1380.7h0M624.3 1399.7h0M597.2 1409.7h0M606.0 1369.4h0M634.1 1372.4h0M608.2 1368.0h0M610.5 1367.6h0M613.4 1365.2h0M643.5 1389.6h0M625.3 1405.9h0M593.8 1424.3h0M641.8 1379.2h0" stroke="#8f0000" stroke-width="4.6" stroke-linecap="round" fill="none"/><use href="#kv2_22" fill="#ff1e00" stroke="#ff1e00" stroke-width="5" stroke-linejoin="round" opacity="0.80"/><path d="M640.1 1474.8h0M646.2 1467.4h0M649.5 1451.1h0M674.1 1453.1h0M667.6 1464.9h0M671.3 1464.4h0M637.9 1450.8h0M658.8 1474.6h0M645.7 1462.1h0M668.1 1437.3h0M667.4 1470.6h0M668.6 1436.5h0M644.2 1452.8h0M653.2 1471.9h0M646.0 1451.8h0M672.8 1457.2h0" stroke="#ff1e00" stroke-width="4.6" stroke-linecap="round" fill="none"/><use href="#kv2_23" fill="#ff1600" stroke="#ff1600" stroke-width="5" stroke-linejoin="round" opacity="0.70"/><path d="M663.1 1484.5h0M674.6 1492.2h0M659.6 1483.4h0M673.1 1504.3h0M666.1 1488.3h0M672.4 1496.3h0M673.9 1486.7h0M677.3 1499.6h0M656.6 1487.4h0" stroke="#ff1600" stroke-width="4.6" stroke-linecap="round" fill="none"/><use href="#kv2_36_39" fill="#a70000" stroke="#a70000" stroke-width="5" stroke-linejoin="round" opacity="0.70"/><path d="M448.7 1548.4h0M452.4 1554.4h0M434.5 1579.7h0M428.1 1571.5h0M466.1 1556.5h0M434.0 1545.9h0M438.5 1581.4h0M465.0 1551.7h0M420.8 1575.3h0M438.5 1586.0h0M470.3 1569.3h0M425.5 1566.2h0M420.4 1551.3h0" stroke="#a70000" stroke-width="4.6" stroke-linecap="round" fill="none"/><use href="#kv2_21" fill="#ff2600" stroke="#ff2600" stroke-width="5" stroke-linejoin="round"/><path d="M548.6 1620.0h0M548.6 1609.2h0M534.7 1631.6h0M538.1 1613.1h0M540.8 1604.4h0M548.5 1594.8h0M539.7 1618.9h0M542.6 1593.5h0M537.1 1629.0h0M549.0 1594.9h0M511.9 1601.1h0M509.1 1607.0h0M541.2 1628.5h0M515.4 1625.6h0M544.1 1622.9h0" stroke="#ff2600" stroke-width="4.6" stroke-linecap="round" fill="none"/><use href="#kv1_1_27" fill="#fff400" stroke="#fff400" stroke-width="5" stroke-linejoin="round" opacity="0.50"/><path d="M483.6 1517.5h0M487.6 1513.9h0M483.6 1525.1h0M485.4 1517.5h0M475.1 1524.8h0M486.6 1519.3h0M484.1 1514.6h0M472.7 1512.3h0M470.3 1526.6h0" stroke="#fff400" stroke-width="4.6" stroke-linecap="round" fill="none"/><use href="#kv1_5_7" fill="#63ff9b" stroke="#63ff9b" stroke-width="5" stroke-linejoin="round" opacity="0.90"/><path d="M568.8 1643.8h0M548.3 1618.4h0M598.7 1600.5h0M697.0 1576.0h0M662.3 1607.7h0M545.9 1617.5h0M674.6 1557.6h0M643.1 1622.9h0M589.9 1647.5h0M603.6 1587.2h0M617.1 1561.1h0M545.1 1616.3h0M588.2 1609.0h0M582.4 1610.1h0M700.4 1585.9h0M604.6 1645.6h0M617.5 1639.7h0M651.8 1554.1h0M577.9 1605.8h0M650.3 1556.8h0M563.4 1604.6h0M545.0 1632.8h0M614.0 1568.5h0M585.4 1644.4h0M600.9 1645.7h0M544.7 1633.2h0M610.3 1569.4h0M607.1 1577.4h0M691.6 1570.3h0M605.3 1597.5h0M542.9 1627.1h0M586.6 1612.6h0M671.3 1551.5h0M597.0 1643.1h0M606.9 1589.9h0M556.1 1615.3h0M602.4 1604.6h0" stroke="#63ff9b" stroke-width="4.6" stroke-linecap="round" fill="none"/><use href="#kv1_16" fill="#b2ff4c" stroke="#b2ff4c" stroke-width="5" stroke-linejoin="round" opacity="0.60"/><path d="M666.1 1289.1h0M679.9 1288.9h0M658.0 1283.0h0M668.3 1292.4h0M656.3 1294.1h0M674.0 1290.3h0M664.0 1277.6h0M671.4 1285.9h0M662.4 1289.9h0M671.8 1294.6h0" stroke="#b2ff4c" stroke-width="4.6" stroke-linecap="round" fill="none"/><use href="#kv1_17" fill="#baff44" stroke="#baff44" stroke-width="5" stroke-linejoin="round"/><path d="M784.6 1129.5h0M796.4 1116.9h0M777.0 1106.9h0M793.0 1104.2h0M799.0 1117.7h0M791.6 1098.9h0M785.9 1099.7h0M790.5 1097.8h0M779.7 1132.6h0M779.6 1104.4h0M787.7 1121.4h0M801.7 1103.5h0M786.8 1105.0h0" stroke="#baff44" stroke-width="4.6" stroke-linecap="round" fill="none"/><use href="#kv1_21_24" fill="#e2ff1c" stroke="#e2ff1c" stroke-width="5" stroke-linejoin="round"/><path d="M838.2 1280.7h0M754.7 1350.3h0M727.3 1312.5h0M771.8 1268.6h0M727.2 1313.0h0M765.0 1270.9h0M812.2 1299.2h0M823.5 1297.8h0M774.9 1327.3h0M722.9 1310.7h0M729.5 1309.9h0M788.5 1313.6h0M799.0 1299.3h0M825.8 1219.8h0M781.4 1236.2h0M839.6 1220.5h0M801.7 1302.9h0M849.5 1231.2h0M840.8 1224.3h0M751.0 1290.4h0M819.0 1296.0h0M867.9 1264.0h0M863.4 1258.1h0M810.7 1226.7h0M791.8 1230.2h0M828.8 1295.0h0M869.6 1247.9h0M807.8 1223.9h0M756.0 1286.6h0M785.8 1323.7h0M762.3 1274.7h0M855.4 1227.4h0M744.6 1289.1h0M770.4 1264.8h0M775.1 1269.6h0M744.2 1289.6h0M812.9 1224.6h0M719.8 1324.1h0M730.9 1292.8h0M857.8 1264.3h0M842.7 1227.5h0M720.2 1325.2h0M844.5 1282.4h0M774.7 1246.3h0M722.6 1317.3h0M786.2 1232.6h0M771.9 1331.3h0M794.5 1314.4h0M797.9 1227.4h0" stroke="#e2ff1c" stroke-width="4.6" stroke-linecap="round" fill="none"/><use href="#kv1_20a" fill="#d2ff2c" stroke="#d2ff2c" stroke-width="5" stroke-linejoin="round"/><path d="M892.4 1341.6h0M890.5 1352.1h0M850.1 1351.2h0M854.9 1394.5h0M852.3 1369.8h0M865.3 1334.8h0M859.9 1348.9h0M892.8 1364.4h0M855.2 1353.5h0M872.6 1388.5h0M856.9 1384.7h0M889.4 1335.1h0M897.4 1359.8h0M883.1 1395.5h0M867.4 1336.1h0M896.5 1384.4h0" stroke="#d2ff2c" stroke-width="4.6" stroke-linecap="round" fill="none"/><use href="#kv1_20b" fill="#d2ff2c" stroke="#d2ff2c" stroke-width="5" stroke-linejoin="round"/><path d="M857.1 1350.9h0M843.6 1368.8h0M843.0 1368.4h0M863.0 1390.2h0M891.6 1387.0h0M847.7 1371.2h0M887.7 1340.6h0M851.0 1358.7h0M899.3 1361.7h0M895.2 1352.1h0M894.5 1374.2h0M858.2 1345.9h0M896.3 1377.9h0M879.8 1341.9h0M879.8 1338.5h0M874.9 1344.0h0M895.1 1371.4h0M900.0 1354.8h0M853.6 1385.8h0" stroke="#d2ff2c" stroke-width="4.6" stroke-linecap="round" fill="none"/><use href="#kv1_18_19" fill="#caff34" stroke="#caff34" stroke-width="5" stroke-linejoin="round"/><path d="M855.9 1464.5h0M862.9 1469.0h0M890.8 1437.2h0M891.2 1469.9h0M851.6 1462.6h0M886.4 1435.4h0M857.8 1411.9h0M902.5 1440.8h0M834.8 1447.1h0M837.6 1445.2h0M883.1 1426.3h0M843.8 1453.8h0M855.9 1472.9h0M823.9 1423.9h0M893.0 1467.0h0M830.1 1432.8h0M855.4 1407.7h0M893.1 1476.7h0M838.7 1419.0h0M897.3 1471.8h0M888.6 1435.7h0M902.9 1468.9h0M822.7 1435.3h0M843.8 1407.4h0M847.4 1458.6h0M848.4 1451.8h0M899.8 1453.8h0M894.8 1432.8h0" stroke="#caff34" stroke-width="4.6" stroke-linecap="round" fill="none"/><use href="#kv1_12_15" fill="#a3ff5b" stroke="#a3ff5b" stroke-width="5" stroke-linejoin="round" opacity="0.85"/><path d="M969.6 1419.4h0M960.1 1456.2h0M987.4 1447.8h0M957.8 1560.6h0M950.3 1418.8h0M950.7 1410.2h0M960.2 1412.9h0M989.2 1486.4h0M992.6 1483.1h0M958.0 1430.5h0M957.4 1569.8h0M965.6 1497.7h0M994.5 1518.6h0M951.6 1465.8h0M990.2 1495.6h0M979.1 1563.3h0M964.0 1566.1h0M992.2 1508.8h0M986.6 1561.3h0M989.4 1471.8h0M952.6 1419.8h0M989.5 1549.0h0M989.8 1447.1h0M990.6 1497.3h0M954.6 1441.2h0M954.3 1560.7h0M960.5 1556.0h0M967.2 1498.3h0M968.9 1414.4h0M987.5 1487.2h0M989.4 1445.4h0M989.7 1465.5h0M947.6 1553.9h0M995.3 1456.9h0M954.3 1553.5h0M959.2 1463.5h0M993.1 1453.9h0M957.3 1538.0h0M993.9 1503.4h0M988.2 1535.2h0M963.1 1416.4h0M953.2 1543.9h0M954.3 1554.7h0M943.7 1411.0h0M948.7 1423.0h0" stroke="#a3ff5b" stroke-width="4.6" stroke-linecap="round" fill="none"/><use href="#kv1_10_11" fill="#8bff73" stroke="#8bff73" stroke-width="5" stroke-linejoin="round" opacity="0.80"/><path d="M875.7 1644.2h0M837.9 1616.9h0M827.2 1627.5h0M912.0 1634.6h0M890.8 1646.7h0M871.5 1645.9h0M865.4 1641.0h0M862.9 1639.7h0M863.6 1603.1h0M831.9 1617.2h0M891.6 1645.4h0M814.9 1642.8h0M823.1 1622.3h0M816.7 1625.4h0M847.0 1618.8h0M836.3 1617.2h0M829.2 1649.0h0M862.9 1647.2h0M904.4 1629.3h0M857.2 1645.0h0M833.4 1648.4h0M821.8 1629.9h0M842.7 1648.0h0M887.8 1613.7h0M896.8 1649.7h0M859.8 1605.5h0M843.8 1606.7h0M861.5 1613.9h0M906.4 1642.0h0M841.5 1649.8h0" stroke="#8bff73" stroke-width="4.6" stroke-linecap="round" fill="none"/><use href="#kv1_25_26" fill="#faff04" stroke="#faff04" stroke-width="5" stroke-linejoin="round" opacity="0.60"/><path d="M746.8 1512.2h0M782.5 1445.2h0M767.0 1479.9h0M784.3 1461.0h0M732.8 1521.3h0M737.6 1518.1h0M703.2 1522.0h0M715.0 1497.1h0M724.7 1520.2h0M707.9 1498.7h0M706.8 1500.9h0M769.8 1493.0h0M706.8 1515.1h0M768.0 1482.8h0M727.7 1468.7h0M710.3 1522.5h0M733.8 1519.8h0M712.7 1489.3h0M769.4 1482.4h0M789.8 1442.4h0M784.7 1447.1h0M717.9 1466.7h0M761.9 1492.6h0M731.5 1460.0h0M792.7 1444.2h0M755.3 1447.4h0M777.1 1476.8h0M774.5 1487.4h0M763.1 1488.9h0M771.3 1446.9h0M761.0 1445.3h0M702.4 1521.3h0M720.7 1521.1h0" stroke="#faff04" stroke-width="4.6" stroke-linecap="round" fill="none"/><use href="#kv1_30_32" fill="#ffd400" stroke="#ffd400" stroke-width="5" stroke-linejoin="round" opacity="0.60"/><path d="M763.7 1556.4h0M729.0 1524.1h0M710.6 1570.8h0M770.3 1543.5h0M759.9 1539.9h0M714.9 1614.5h0M753.9 1603.6h0M745.7 1609.1h0M726.0 1616.2h0M749.9 1608.0h0M746.4 1610.6h0M751.8 1612.7h0M765.1 1581.7h0M760.0 1581.9h0M705.8 1566.6h0M755.2 1595.9h0M746.6 1530.5h0M745.6 1619.6h0M708.7 1581.5h0M715.6 1589.4h0M740.6 1527.1h0M770.4 1552.1h0M761.9 1576.0h0M712.1 1548.2h0M765.6 1583.1h0M740.6 1530.9h0M759.7 1593.4h0M764.1 1546.8h0M752.8 1527.2h0M747.8 1529.2h0" stroke="#ffd400" stroke-width="4.6" stroke-linecap="round" fill="none"/><use href="#kc52_56" fill="#24ffda" stroke="#24ffda" stroke-width="5" stroke-linejoin="round" opacity="0.70"/><path d="M306.5 1648.2h0M257.5 1706.6h0M280.9 1677.6h0M317.8 1713.0h0M303.2 1684.0h0M295.1 1646.4h0M290.4 1716.6h0M312.1 1711.4h0M237.3 1726.2h0M320.6 1730.6h0M297.5 1735.7h0M295.4 1694.5h0M239.0 1722.7h0M294.4 1678.7h0M288.3 1683.7h0M291.5 1694.2h0M317.8 1733.4h0M241.1 1713.1h0M301.8 1728.6h0M284.9 1671.2h0M263.2 1708.6h0M306.1 1707.0h0M314.1 1737.7h0M322.6 1739.7h0M224.9 1727.3h0M271.2 1694.1h0M234.1 1728.9h0M289.2 1656.7h0M274.5 1718.5h0M310.7 1679.9h0M272.6 1721.5h0M287.7 1658.2h0M295.5 1706.7h0M287.0 1689.8h0M291.7 1720.3h0M302.7 1705.5h0M296.2 1702.8h0M306.4 1647.9h0M292.4 1645.1h0M316.6 1704.7h0M300.5 1676.8h0M304.1 1677.6h0M271.7 1715.2h0M274.1 1683.0h0M290.1 1722.2h0M321.1 1733.2h0M280.5 1713.5h0M282.6 1676.0h0M301.0 1722.9h0M321.6 1727.6h0M321.2 1737.4h0" stroke="#24ffda" stroke-width="4.6" stroke-linecap="round" fill="none"/><use href="#kc50_51" fill="#0cfff2" stroke="#0cfff2" stroke-width="5" stroke-linejoin="round" opacity="0.80"/><path d="M344.4 1796.6h0M363.2 1757.3h0M358.9 1760.5h0M334.1 1768.6h0M351.4 1738.2h0M370.4 1766.9h0M352.9 1794.9h0M340.6 1741.9h0M366.9 1767.6h0M337.4 1781.3h0M326.5 1756.7h0M364.3 1757.0h0M358.2 1768.8h0M362.9 1780.2h0M358.3 1780.2h0M369.3 1754.7h0M357.0 1753.4h0M350.1 1786.0h0M338.4 1762.5h0M360.8 1765.2h0M339.8 1793.9h0M361.7 1757.7h0" stroke="#0cfff2" stroke-width="4.6" stroke-linecap="round" fill="none"/><use href="#kc46" fill="#00e4ff" stroke="#00e4ff" stroke-width="5" stroke-linejoin="round"/><path d="M442.9 1700.3h0M485.9 1775.1h0M496.8 1766.7h0M449.5 1709.2h0M481.5 1747.7h0M451.5 1715.6h0M454.9 1741.4h0M453.3 1708.6h0M449.5 1702.3h0M447.3 1707.0h0M494.0 1771.0h0M458.7 1717.4h0M450.4 1705.2h0M491.8 1763.5h0M436.1 1729.0h0M490.1 1771.4h0M459.8 1761.9h0M433.0 1710.8h0M466.8 1736.1h0M490.3 1776.5h0M460.5 1753.5h0M468.9 1722.4h0M432.0 1708.1h0M452.3 1750.4h0M491.9 1760.7h0" stroke="#00e4ff" stroke-width="4.6" stroke-linecap="round" fill="none"/><use href="#kc45" fill="#00dcff" stroke="#00dcff" stroke-width="5" stroke-linejoin="round"/><path d="M332.2 1883.5h0M332.1 1877.0h0M342.6 1892.9h0M334.9 1875.3h0M350.1 1871.0h0M335.9 1889.2h0M335.6 1898.1h0M344.8 1891.5h0M338.0 1886.9h0M340.4 1890.9h0" stroke="#00dcff" stroke-width="4.6" stroke-linecap="round" fill="none"/><use href="#kc44" fill="#00d4ff" stroke="#00d4ff" stroke-width="5" stroke-linejoin="round"/><path d="M437.4 1949.3h0M449.9 1930.6h0M439.2 1958.6h0M452.9 1959.3h0M446.8 1965.9h0M470.3 1930.6h0M442.1 1951.5h0M452.5 1963.7h0M461.6 1935.5h0M462.7 1932.8h0M462.9 1960.2h0M450.8 1968.0h0M447.1 1951.9h0M443.2 1935.4h0M474.6 1937.5h0" stroke="#00d4ff" stroke-width="4.6" stroke-linecap="round" fill="none"/><use href="#kv1_28_29" fill="#ffec00" stroke="#ffec00" stroke-width="5" stroke-linejoin="round"/><path d="M667.9 1714.5h0M613.8 1722.1h0M687.4 1635.2h0M660.7 1638.9h0M651.0 1719.1h0M621.8 1700.6h0M694.3 1626.5h0M626.9 1690.0h0M658.9 1718.7h0M623.2 1734.5h0M644.4 1734.5h0M678.1 1630.4h0M702.3 1639.1h0M656.7 1719.9h0M611.6 1726.9h0M698.4 1636.0h0M666.1 1637.9h0M646.1 1723.5h0M631.8 1742.9h0M624.3 1705.9h0M621.2 1737.0h0M695.2 1673.6h0M686.4 1687.8h0M671.7 1642.6h0M657.8 1724.4h0M696.1 1625.7h0M681.8 1697.7h0M657.5 1639.8h0M641.2 1732.0h0M702.8 1659.3h0M677.2 1701.8h0M675.9 1708.6h0M686.3 1624.8h0M661.5 1712.0h0" stroke="#ffec00" stroke-width="4.6" stroke-linecap="round" fill="none"/><use href="#kv1_2_4" fill="#4cffb2" stroke="#4cffb2" stroke-width="5" stroke-linejoin="round"/><path d="M720.9 1777.7h0M796.0 1699.2h0M742.7 1824.3h0M746.3 1711.5h0M755.4 1708.4h0M805.8 1709.5h0M825.1 1731.8h0M760.6 1697.8h0M765.3 1697.5h0M744.7 1724.7h0M814.2 1739.7h0M767.3 1702.5h0M733.0 1827.6h0M805.3 1711.1h0M836.0 1765.7h0M765.6 1836.5h0M726.8 1794.0h0M805.4 1813.4h0M724.2 1743.9h0M807.7 1728.0h0M783.4 1697.2h0M764.6 1833.2h0M744.4 1833.2h0M801.4 1821.1h0M778.6 1817.1h0M729.1 1786.3h0M816.9 1741.4h0M757.4 1694.2h0M842.1 1787.6h0M749.4 1715.4h0M828.4 1743.9h0M789.6 1813.9h0M825.1 1801.4h0M754.1 1830.6h0M790.4 1822.3h0M720.1 1804.0h0M737.6 1832.3h0M743.5 1714.2h0M811.8 1809.6h0M811.7 1804.1h0" stroke="#4cffb2" stroke-width="4.6" stroke-linecap="round" fill="none"/><use href="#kv1_8" fill="#73ff8b" stroke="#73ff8b" stroke-width="5" stroke-linejoin="round"/><path d="M560.9 1835.6h0M565.9 1915.6h0M577.8 1856.3h0M547.0 1884.6h0M577.5 1908.1h0M530.4 1845.5h0M552.5 1888.5h0M539.8 1837.7h0M582.0 1850.5h0M561.1 1840.6h0M543.4 1890.2h0M536.7 1852.7h0M582.2 1885.5h0M579.5 1911.9h0M585.3 1863.7h0M564.7 1829.9h0M556.3 1884.5h0M529.7 1861.2h0M543.9 1833.6h0M562.9 1904.6h0M555.8 1836.3h0M557.8 1829.9h0M581.5 1871.4h0M557.7 1833.9h0" stroke="#73ff8b" stroke-width="4.6" stroke-linecap="round" fill="none"/><use href="#kv1_7" fill="#6bff93" stroke="#6bff93" stroke-width="5" stroke-linejoin="round" opacity="0.60"/><path d="M596.3 1643.1h0M537.4 1635.9h0M595.8 1635.8h0M537.5 1615.5h0M615.4 1643.1h0M573.7 1605.0h0M608.1 1598.9h0M620.2 1593.9h0M636.3 1608.8h0M572.6 1613.9h0M534.2 1626.1h0M630.3 1611.7h0M561.6 1605.5h0M585.7 1605.7h0M549.2 1642.8h0M538.8 1627.1h0M627.2 1594.6h0M567.7 1607.4h0M622.0 1636.3h0M568.7 1631.1h0M542.6 1610.2h0M552.4 1610.4h0M557.2 1641.3h0M584.5 1604.8h0" stroke="#6bff93" stroke-width="4.6" stroke-linecap="round" fill="none"/></g><rect x="0" y="900" width="1010" height="1075" fill="url(#spkE)"/><g font-family="Liberation Sans, Arial, sans-serif" fill="#111"><text x="492.0" y="949.0" font-size="23" letter-spacing="0.3" stroke="#fff" stroke-width="2.6" paint-order="stroke" stroke-linejoin="round">8</text><text x="566.0" y="937.5" font-size="23" letter-spacing="0.3" stroke="#fff" stroke-width="2.6" paint-order="stroke" stroke-linejoin="round">9</text><text x="573.0" y="965.0" font-size="23" letter-spacing="0.3" stroke="#fff" stroke-width="2.6" paint-order="stroke" stroke-linejoin="round">10</text><text x="501.0" y="1021.0" font-size="28.8">CEA-l</text><text x="568.6" y="1142.0" font-size="28.8">CEA-c</text><text x="156.5" y="1156.0" font-size="28.8">CEA-m</text><text x="503.8" y="1245.7" font-size="28.8">IA</text><text x="635.0" y="1277.0" font-size="28.8" font-style="italic">HPF</text><text x="635.0" y="1296.0" font-size="23" letter-spacing="0.3" stroke="#fff" stroke-width="2.6" paint-order="stroke" stroke-linejoin="round">1-16</text><text x="341.0" y="1055.6" font-size="23" letter-spacing="0.3" stroke="#fff" stroke-width="2.6" paint-order="stroke" stroke-linejoin="round">16</text><text x="303.7" y="1094.5" font-size="23" letter-spacing="0.3" stroke="#fff" stroke-width="2.6" paint-order="stroke" stroke-linejoin="round">17</text><text x="262.0" y="1191.0" font-size="23" letter-spacing="0.3" stroke="#fff" stroke-width="2.6" paint-order="stroke" stroke-linejoin="round">20</text><text x="250.0" y="1191.0" font-size="23" letter-spacing="0.3" stroke="#fff" stroke-width="2.6" paint-order="stroke" stroke-linejoin="round">21</text><text x="272.0" y="1225.5" font-size="23" letter-spacing="0.3" stroke="#fff" stroke-width="2.6" paint-order="stroke" stroke-linejoin="round">19</text><text x="325.0" y="1224.0" font-size="23" letter-spacing="0.3" stroke="#fff" stroke-width="2.6" paint-order="stroke" stroke-linejoin="round">18</text><text x="381.0" y="1192.0" font-size="23" letter-spacing="0.3" stroke="#fff" stroke-width="2.6" paint-order="stroke" stroke-linejoin="round">22</text><text x="354.0" y="1206.8" font-size="23" letter-spacing="0.3" stroke="#fff" stroke-width="2.6" paint-order="stroke" stroke-linejoin="round">2-32</text><text x="436.0" y="1186.6" font-size="23" letter-spacing="0.3" stroke="#fff" stroke-width="2.6" paint-order="stroke" stroke-linejoin="round">23</text><text x="468.0" y="1181.0" font-size="23" letter-spacing="0.3" stroke="#fff" stroke-width="2.6" paint-order="stroke" stroke-linejoin="round">6</text><text x="512.5" y="1191.0" font-size="23" letter-spacing="0.3" stroke="#fff" stroke-width="2.6" paint-order="stroke" stroke-linejoin="round">5</text><text x="552.8" y="1199.6" font-size="23" letter-spacing="0.3" stroke="#fff" stroke-width="2.6" paint-order="stroke" stroke-linejoin="round">4</text><text x="593.0" y="1196.7" font-size="23" letter-spacing="0.3" stroke="#fff" stroke-width="2.6" paint-order="stroke" stroke-linejoin="round">3</text><text x="506.7" y="1098.8" font-size="23" letter-spacing="0.3" stroke="#fff" stroke-width="2.6" paint-order="stroke" stroke-linejoin="round">7</text><text x="531.0" y="1087.0" font-size="23" letter-spacing="0.3" stroke="#fff" stroke-width="2.6" paint-order="stroke" stroke-linejoin="round">11</text><text x="574.4" y="1064.0" font-size="23" letter-spacing="0.3" stroke="#fff" stroke-width="2.6" paint-order="stroke" stroke-linejoin="round">12</text><text x="603.0" y="1051.0" font-size="23" letter-spacing="0.3" stroke="#fff" stroke-width="2.6" paint-order="stroke" stroke-linejoin="round">13</text><text x="613.0" y="1068.6" font-size="23" letter-spacing="0.3" stroke="#fff" stroke-width="2.6" paint-order="stroke" stroke-linejoin="round">14</text><text x="626.0" y="1073.0" font-size="23" letter-spacing="0.3" stroke="#fff" stroke-width="2.6" paint-order="stroke" stroke-linejoin="round">15</text><text x="547.0" y="1265.8" font-size="23" letter-spacing="0.3" stroke="#fff" stroke-width="2.6" paint-order="stroke" stroke-linejoin="round">2</text><text x="515.0" y="1281.7" font-size="23" letter-spacing="0.3" stroke="#fff" stroke-width="2.6" paint-order="stroke" stroke-linejoin="round">1</text><text x="391.5" y="1264.4" font-size="23" letter-spacing="0.3" stroke="#fff" stroke-width="2.6" paint-order="stroke" stroke-linejoin="round">2-31</text><text x="263.5" y="1341.6" font-size="28.8">MEA-ad</text><text x="18.7" y="1435.8" font-size="28.8">MEA-pd</text><text x="131.0" y="1545.0" font-size="28.8">MGE-int</text><text x="351.0" y="1441.5" font-size="28.8">MEA</text><text x="420.5" y="1604.0" font-size="28.8" font-style="italic">Hyp</text><text x="105.0" y="1352.0" font-size="23" letter-spacing="0.3" stroke="#fff" stroke-width="2.6" paint-order="stroke" stroke-linejoin="round">32</text><text x="173.0" y="1342.0" font-size="23" letter-spacing="0.3" stroke="#fff" stroke-width="2.6" paint-order="stroke" stroke-linejoin="round">31</text><text x="203.0" y="1332.0" font-size="23" letter-spacing="0.3" stroke="#fff" stroke-width="2.6" paint-order="stroke" stroke-linejoin="round">30</text><text x="173.0" y="1361.0" font-size="23" letter-spacing="0.3" stroke="#fff" stroke-width="2.6" paint-order="stroke" stroke-linejoin="round">34</text><text x="259.0" y="1381.0" font-size="23" letter-spacing="0.3" stroke="#fff" stroke-width="2.6" paint-order="stroke" stroke-linejoin="round">29</text><text x="296.6" y="1394.0" font-size="23" letter-spacing="0.3" stroke="#fff" stroke-width="2.6" paint-order="stroke" stroke-linejoin="round">24</text><text x="262.0" y="1417.0" font-size="23" letter-spacing="0.3" stroke="#fff" stroke-width="2.6" paint-order="stroke" stroke-linejoin="round">27</text><text x="134.0" y="1402.6" font-size="23" letter-spacing="0.3" stroke="#fff" stroke-width="2.6" paint-order="stroke" stroke-linejoin="round">33</text><text x="1.4" y="1463.0" font-size="23" letter-spacing="0.3" stroke="#fff" stroke-width="2.6" paint-order="stroke" stroke-linejoin="round">37</text><text x="148.0" y="1469.0" font-size="23" letter-spacing="0.3" stroke="#fff" stroke-width="2.6" paint-order="stroke" stroke-linejoin="round">35</text><text x="193.0" y="1459.0" font-size="23" letter-spacing="0.3" stroke="#fff" stroke-width="2.6" paint-order="stroke" stroke-linejoin="round">36</text><text x="217.4" y="1453.0" font-size="23" letter-spacing="0.3" stroke="#fff" stroke-width="2.6" paint-order="stroke" stroke-linejoin="round">26</text><text x="174.0" y="1503.0" font-size="23" letter-spacing="0.3" stroke="#fff" stroke-width="2.6" paint-order="stroke" stroke-linejoin="round">38</text><text x="96.5" y="1507.8" font-size="23" letter-spacing="0.3" stroke="#fff" stroke-width="2.6" paint-order="stroke" stroke-linejoin="round">42</text><text x="62.0" y="1532.0" font-size="23" letter-spacing="0.3" stroke="#fff" stroke-width="2.6" paint-order="stroke" stroke-linejoin="round">43</text><text x="148.0" y="1562.5" font-size="23" letter-spacing="0.3" stroke="#fff" stroke-width="2.6" paint-order="stroke" stroke-linejoin="round">39</text><text x="134.0" y="1631.6" font-size="23" letter-spacing="0.3" stroke="#fff" stroke-width="2.6" paint-order="stroke" stroke-linejoin="round">40</text><text x="289.4" y="1503.4" font-size="23" letter-spacing="0.3" stroke="#fff" stroke-width="2.6" paint-order="stroke" stroke-linejoin="round">25</text><text x="291.0" y="1587.0" font-size="23" letter-spacing="0.3" stroke="#fff" stroke-width="2.6" paint-order="stroke" stroke-linejoin="round">49</text><text x="334.0" y="1594.0" font-size="23" letter-spacing="0.3" stroke="#fff" stroke-width="2.6" paint-order="stroke" stroke-linejoin="round">48</text><text x="363.0" y="1604.0" font-size="23" letter-spacing="0.3" stroke="#fff" stroke-width="2.6" paint-order="stroke" stroke-linejoin="round">28</text><text x="373.0" y="1643.0" font-size="23" letter-spacing="0.3" stroke="#fff" stroke-width="2.6" paint-order="stroke" stroke-linejoin="round">47</text><text x="726.0" y="1283.0" font-size="23" letter-spacing="0.3" stroke="#fff" stroke-width="2.6" paint-order="stroke" stroke-linejoin="round">1-24</text><text x="775.0" y="1278.8" font-size="23" letter-spacing="0.3" stroke="#fff" stroke-width="2.6" paint-order="stroke" stroke-linejoin="round">1-22</text><text x="730.0" y="1320.6" font-size="23" letter-spacing="0.3" stroke="#fff" stroke-width="2.6" paint-order="stroke" stroke-linejoin="round">1-23</text><text x="708.6" y="1372.4" font-size="28.8">COA /</text><text x="718.7" y="1408.4" font-size="28.8">PAA</text><text x="765.0" y="1438.6" font-size="23" letter-spacing="0.3" stroke="#fff" stroke-width="2.6" paint-order="stroke" stroke-linejoin="round">1-26</text><text x="796.0" y="1428.0" font-size="23" letter-spacing="0.3" stroke="#fff" stroke-width="2.6" paint-order="stroke" stroke-linejoin="round">1-18</text><text x="726.0" y="1479.0" font-size="23" letter-spacing="0.3" stroke="#fff" stroke-width="2.6" paint-order="stroke" stroke-linejoin="round">1-25</text><text x="426.0" y="1356.6" font-size="23" letter-spacing="0.3" stroke="#fff" stroke-width="2.6" paint-order="stroke" stroke-linejoin="round">2-3</text><text x="498.0" y="1361.0" font-size="23" letter-spacing="0.3" stroke="#fff" stroke-width="2.6" paint-order="stroke" stroke-linejoin="round">2-2</text><text x="528.6" y="1352.0" font-size="23" letter-spacing="0.3" stroke="#fff" stroke-width="2.6" paint-order="stroke" stroke-linejoin="round">2-1</text><text x="452.0" y="1371.0" font-size="23" letter-spacing="0.3" stroke="#fff" stroke-width="2.6" paint-order="stroke" stroke-linejoin="round">2-17</text><text x="452.0" y="1385.0" font-size="23" letter-spacing="0.3" stroke="#fff" stroke-width="2.6" paint-order="stroke" stroke-linejoin="round">2-16</text><text x="466.0" y="1385.0" font-size="23" letter-spacing="0.3" stroke="#fff" stroke-width="2.6" paint-order="stroke" stroke-linejoin="round">2-15</text><text x="384.6" y="1382.5" font-size="23" letter-spacing="0.3" stroke="#fff" stroke-width="2.6" paint-order="stroke" stroke-linejoin="round">2-4</text><text x="396.0" y="1391.0" font-size="23" letter-spacing="0.3" stroke="#fff" stroke-width="2.6" paint-order="stroke" stroke-linejoin="round">2-5</text><text x="394.7" y="1408.4" font-size="23" letter-spacing="0.3" stroke="#fff" stroke-width="2.6" paint-order="stroke" stroke-linejoin="round">2-6</text><text x="435.0" y="1402.6" font-size="23" letter-spacing="0.3" stroke="#fff" stroke-width="2.6" paint-order="stroke" stroke-linejoin="round">2-22</text><text x="464.0" y="1408.0" font-size="23" letter-spacing="0.3" stroke="#fff" stroke-width="2.6" paint-order="stroke" stroke-linejoin="round">2-13</text><text x="478.0" y="1408.0" font-size="23" letter-spacing="0.3" stroke="#fff" stroke-width="2.6" paint-order="stroke" stroke-linejoin="round">2-14</text><text x="422.0" y="1420.0" font-size="23" letter-spacing="0.3" stroke="#fff" stroke-width="2.6" paint-order="stroke" stroke-linejoin="round">2-8</text><text x="422.0" y="1434.0" font-size="23" letter-spacing="0.3" stroke="#fff" stroke-width="2.6" paint-order="stroke" stroke-linejoin="round">2-9</text><text x="445.0" y="1425.7" font-size="23" letter-spacing="0.3" stroke="#fff" stroke-width="2.6" paint-order="stroke" stroke-linejoin="round">2-12</text><text x="484.0" y="1425.7" font-size="23" letter-spacing="0.3" stroke="#fff" stroke-width="2.6" paint-order="stroke" stroke-linejoin="round">2-19</text><text x="399.0" y="1448.7" font-size="23" letter-spacing="0.3" stroke="#fff" stroke-width="2.6" paint-order="stroke" stroke-linejoin="round">2-10</text><text x="430.7" y="1466.0" font-size="23" letter-spacing="0.3" stroke="#fff" stroke-width="2.6" paint-order="stroke" stroke-linejoin="round">2-11</text><text x="371.7" y="1474.6" font-size="23" letter-spacing="0.3" stroke="#fff" stroke-width="2.6" paint-order="stroke" stroke-linejoin="round">2-35</text><text x="385.0" y="1474.6" font-size="23" letter-spacing="0.3" stroke="#fff" stroke-width="2.6" paint-order="stroke" stroke-linejoin="round">2-33</text><text x="390.4" y="1490.5" font-size="23" letter-spacing="0.3" stroke="#fff" stroke-width="2.6" paint-order="stroke" stroke-linejoin="round">2-34</text><text x="507.0" y="1417.0" font-size="28.8">CoA-a</text><text x="504.0" y="1451.6" font-size="28.8">BMA-a</text><text x="541.6" y="1443.0" font-size="23" letter-spacing="0.3" stroke="#fff" stroke-width="2.6" paint-order="stroke" stroke-linejoin="round">2-29</text><text x="507.0" y="1481.8" font-size="23" letter-spacing="0.3" stroke="#fff" stroke-width="2.6" paint-order="stroke" stroke-linejoin="round">2-27</text><text x="556.0" y="1479.0" font-size="23" letter-spacing="0.3" stroke="#fff" stroke-width="2.6" paint-order="stroke" stroke-linejoin="round">2-28</text><text x="596.0" y="1484.7" font-size="23" letter-spacing="0.3" stroke="#fff" stroke-width="2.6" paint-order="stroke" stroke-linejoin="round">2-24</text><text x="631.0" y="1499.0" font-size="23" letter-spacing="0.3" stroke="#fff" stroke-width="2.6" paint-order="stroke" stroke-linejoin="round">2-23</text><text x="586.0" y="1373.8" font-size="23" letter-spacing="0.3" stroke="#fff" stroke-width="2.6" paint-order="stroke" stroke-linejoin="round">2-40</text><text x="592.0" y="1388.0" font-size="23" letter-spacing="0.3" stroke="#fff" stroke-width="2.6" paint-order="stroke" stroke-linejoin="round">2-41</text><text x="598.0" y="1398.0" font-size="23" letter-spacing="0.3" stroke="#fff" stroke-width="2.6" paint-order="stroke" stroke-linejoin="round">2-42</text><text x="577.6" y="1408.4" font-size="23" letter-spacing="0.3" stroke="#fff" stroke-width="2.6" paint-order="stroke" stroke-linejoin="round">2-30</text><text x="641.0" y="1451.6" font-size="23" letter-spacing="0.3" stroke="#fff" stroke-width="2.6" paint-order="stroke" stroke-linejoin="round">2-22</text><text x="521.4" y="1522.0" font-size="23" letter-spacing="0.3" stroke="#fff" stroke-width="2.6" paint-order="stroke" stroke-linejoin="round">2-26</text><text x="554.6" y="1529.0" font-size="23" letter-spacing="0.3" stroke="#fff" stroke-width="2.6" paint-order="stroke" stroke-linejoin="round">2-25</text><text x="510.0" y="1562.5" font-size="23" letter-spacing="0.3" stroke="#fff" stroke-width="2.6" paint-order="stroke" stroke-linejoin="round">2-20</text><text x="459.5" y="1530.8" font-size="23" letter-spacing="0.3" stroke="#fff" stroke-width="2.6" paint-order="stroke" stroke-linejoin="round">1-27</text><text x="628.0" y="1553.8" font-size="28.8">LA /</text><text x="625.0" y="1584.0" font-size="23" letter-spacing="0.3" stroke="#fff" stroke-width="2.6" paint-order="stroke" stroke-linejoin="round">1-6</text><text x="669.8" y="1585.5" font-size="23" letter-spacing="0.3" stroke="#fff" stroke-width="2.6" paint-order="stroke" stroke-linejoin="round">1-5</text><text x="721.6" y="1552.4" font-size="23" letter-spacing="0.3" stroke="#fff" stroke-width="2.6" paint-order="stroke" stroke-linejoin="round">1-31</text><text x="707.0" y="1571.0" font-size="23" letter-spacing="0.3" stroke="#fff" stroke-width="2.6" paint-order="stroke" stroke-linejoin="round">1-30</text><text x="748.0" y="1571.0" font-size="23" letter-spacing="0.3" stroke="#fff" stroke-width="2.6" paint-order="stroke" stroke-linejoin="round">1</text><text x="716.0" y="1602.8" font-size="23" letter-spacing="0.3" stroke="#fff" stroke-width="2.6" paint-order="stroke" stroke-linejoin="round">1-32</text><text x="613.6" y="1623.0" font-size="28.8">BLA-v</text><text x="554.6" y="1633.0" font-size="23" letter-spacing="0.3" stroke="#fff" stroke-width="2.6" paint-order="stroke" stroke-linejoin="round">1-7</text><text x="501.0" y="1617.0" font-size="23" letter-spacing="0.3" stroke="#fff" stroke-width="2.6" paint-order="stroke" stroke-linejoin="round">2-21</text><text x="679.5" y="1648.0" font-size="23" letter-spacing="0.3" stroke="#fff" stroke-width="2.6" paint-order="stroke" stroke-linejoin="round">1-29</text><text x="423.5" y="1564.0" font-size="23" letter-spacing="0.3" stroke="#fff" stroke-width="2.6" paint-order="stroke" stroke-linejoin="round">2-38</text><text x="465.0" y="1572.6" font-size="23" letter-spacing="0.3" stroke="#fff" stroke-width="2.6" paint-order="stroke" stroke-linejoin="round">76</text><text x="417.8" y="1581.0" font-size="23" letter-spacing="0.3" stroke="#fff" stroke-width="2.6" paint-order="stroke" stroke-linejoin="round">2-39</text><text x="760.5" y="1116.4" font-size="23" letter-spacing="0.3" stroke="#fff" stroke-width="2.6" paint-order="stroke" stroke-linejoin="round">1-17</text><text x="745.6" y="1155.6" font-size="28.8" font-style="italic">HPF</text><text x="810.0" y="1249.0" font-size="23" letter-spacing="0.3" stroke="#fff" stroke-width="2.6" paint-order="stroke" stroke-linejoin="round">1-21</text><text x="849.0" y="1330.7" font-size="23" letter-spacing="0.3" stroke="#fff" stroke-width="2.6" paint-order="stroke" stroke-linejoin="round">1-20</text><text x="844.6" y="1409.5" font-size="28.8">PA</text><text x="847.7" y="1429.2" font-size="23" letter-spacing="0.3" stroke="#fff" stroke-width="2.6" paint-order="stroke" stroke-linejoin="round">1-19</text><text x="943.0" y="1438.5" font-size="23" letter-spacing="0.3" stroke="#fff" stroke-width="2.6" paint-order="stroke" stroke-linejoin="round">1-12</text><text x="954.5" y="1474.8" font-size="23" letter-spacing="0.3" stroke="#fff" stroke-width="2.6" paint-order="stroke" stroke-linejoin="round">1-13</text><text x="870.5" y="1500.7" font-size="28.8">BLA-p</text><text x="921.0" y="1518.4" font-size="23" letter-spacing="0.3" stroke="#fff" stroke-width="2.6" paint-order="stroke" stroke-linejoin="round">1-14</text><text x="951.4" y="1536.0" font-size="23" letter-spacing="0.3" stroke="#fff" stroke-width="2.6" paint-order="stroke" stroke-linejoin="round">1-15</text><text x="815.5" y="1637.6" font-size="23" letter-spacing="0.3" stroke="#fff" stroke-width="2.6" paint-order="stroke" stroke-linejoin="round">1-11</text><text x="871.5" y="1640.7" font-size="23" letter-spacing="0.3" stroke="#fff" stroke-width="2.6" paint-order="stroke" stroke-linejoin="round">1-10</text><text x="287.0" y="1669.8" font-size="23" letter-spacing="0.3" stroke="#fff" stroke-width="2.6" paint-order="stroke" stroke-linejoin="round">53</text><text x="305.8" y="1682.0" font-size="23" letter-spacing="0.3" stroke="#fff" stroke-width="2.6" paint-order="stroke" stroke-linejoin="round">52</text><text x="280.0" y="1716.4" font-size="23" letter-spacing="0.3" stroke="#fff" stroke-width="2.6" paint-order="stroke" stroke-linejoin="round">54</text><text x="236.3" y="1722.7" font-size="23" letter-spacing="0.3" stroke="#fff" stroke-width="2.6" paint-order="stroke" stroke-linejoin="round">56</text><text x="297.5" y="1738.2" font-size="23" letter-spacing="0.3" stroke="#fff" stroke-width="2.6" paint-order="stroke" stroke-linejoin="round">55</text><text x="351.4" y="1710.2" font-size="28.8">CGE-int</text><text x="338.0" y="1774.5" font-size="23" letter-spacing="0.3" stroke="#fff" stroke-width="2.6" paint-order="stroke" stroke-linejoin="round">51</text><text x="374.0" y="1775.5" font-size="23" letter-spacing="0.3" stroke="#fff" stroke-width="2.6" paint-order="stroke" stroke-linejoin="round">50</text><text x="453.0" y="1748.6" font-size="23" letter-spacing="0.3" stroke="#fff" stroke-width="2.6" paint-order="stroke" stroke-linejoin="round">46</text><text x="327.5" y="1889.6" font-size="23" letter-spacing="0.3" stroke="#fff" stroke-width="2.6" paint-order="stroke" stroke-linejoin="round">45</text><text x="449.0" y="1957.0" font-size="23" letter-spacing="0.3" stroke="#fff" stroke-width="2.6" paint-order="stroke" stroke-linejoin="round">44</text><text x="628.0" y="1692.0" font-size="23" letter-spacing="0.3" stroke="#fff" stroke-width="2.6" paint-order="stroke" stroke-linejoin="round">1-28</text><text x="703.6" y="1692.0" font-size="28.8">BLAa-p</text><text x="757.0" y="1718.0" font-size="23" letter-spacing="0.3" stroke="#fff" stroke-width="2.6" paint-order="stroke" stroke-linejoin="round">1-3</text><text x="786.8" y="1728.0" font-size="23" letter-spacing="0.3" stroke="#fff" stroke-width="2.6" paint-order="stroke" stroke-linejoin="round">1-4</text><text x="751.7" y="1788.0" font-size="23" letter-spacing="0.3" stroke="#fff" stroke-width="2.6" paint-order="stroke" stroke-linejoin="round">1-2</text><text x="543.8" y="1871.4" font-size="23" letter-spacing="0.3" stroke="#fff" stroke-width="2.6" paint-order="stroke" stroke-linejoin="round">1-8</text><text x="610.5" y="1891.0" font-size="28.8">NLOT</text></g><text x="3" y="964.5" font-family="Liberation Sans, Arial, sans-serif" font-weight="bold" font-size="41" fill="#111">e</text>
<rect x="60" y="345.8" width="270" height="25.4" fill="#8dbf2a"/><rect x="330" y="345.8" width="154" height="25.4" fill="#e8512b"/><rect x="484" y="345.8" width="201" height="25.4" fill="#a81b47"/><g font-family="Liberation Sans, Arial, sans-serif" font-size="24.5"><text x="170" y="369" fill="#4d5a33">GABA</text><text x="357" y="369" fill="#f6d9cf">VGLUT1</text><text x="536" y="369" fill="#f3d6dc">VGLUT2</text></g><path d="M60.0 577.0V371.2H64.8V371.2H69.6V371.2H74.4V371.2H79.2V371.2H84.0V371.2H88.8V371.2H93.7V371.2H98.5V371.2H103.3V371.2H108.1V371.2H112.9V371.2H117.7V371.2H122.5V371.2H127.3V371.2H132.1V371.2H136.9V371.2H141.7V371.2H146.5V371.2H151.3V371.2H156.2V371.2H161.0V371.2H165.8V371.2H170.6V371.2H175.4V371.2H180.2V371.2H185.0V371.2H189.8V371.2H194.6V371.2H199.4V371.2H204.2V371.2H209.0V371.2H213.8V371.2H218.7V371.2H223.5V371.2H228.3V371.2H233.1V371.2H237.9V371.2H242.7V371.2H247.5V371.2H252.3V371.2H257.1V371.2H261.9V371.2H266.7V371.2H271.5V371.2H276.3V371.2H281.2V371.2H286.0V371.2H290.8V371.2H295.6V371.2H300.4V371.2H305.2V371.2H310.0V371.2H314.8V371.2H319.6V371.2H324.4V371.2H329.2V371.2H334.0V371.2H338.8V371.2H343.7V371.2H348.5V371.2H353.3V371.2H358.1V371.2H362.9V371.2H367.7V371.2H372.5V371.2H377.3V371.2H382.1V371.2H386.9V371.2H391.7V371.2H396.5V371.2H401.3V371.2H406.2V371.2H411.0V371.2H415.8V371.2H420.6V371.2H425.4V371.2H430.2V371.2H435.0V371.2H439.8V371.2H444.6V371.2H449.4V371.2H454.2V371.2H459.0V371.2H463.8V371.2H468.7V371.2H473.5V371.2H478.3V371.2H483.1V371.2H487.9V371.2H492.7V371.2H497.5V371.2H502.3V371.2H507.1V371.2H511.9V371.2H516.7V371.2H521.5V371.2H526.3V371.2H531.2V371.2H536.0V371.2H540.8V371.2H545.6V371.2H550.4V371.2H555.2V371.2H560.0V371.2H564.8V371.2H569.6V371.2H574.4V371.2H579.2V371.2H584.0V371.2H588.8V371.2H593.7V371.2H598.5V371.2H603.3V371.2H608.1V371.2H612.9V371.2H617.7V371.2H622.5V371.2H627.3V371.2H632.1V371.2H636.9V371.2H641.7V371.2H646.5V371.2H651.3V371.2H656.2V371.2H661.0V371.2H665.8V371.2H670.6V371.2H675.4V371.2H680.2V371.2H685.0V577.0Z" fill="#1f5fa6"/><path d="M60.0 577.0V428.6H64.8V413.6H69.6V424.4H74.4V453.0H79.2V456.3H84.0V432.2H88.8V417.1H93.7V405.8H98.5V402.8H103.3V411.8H108.1V416.7H112.9V421.0H117.7V387.7H122.5V387.7H127.3V411.3H132.1V433.5H136.9V417.3H141.7V424.7H146.5V415.0H151.3V423.9H156.2V425.6H161.0V413.7H165.8V396.7H170.6V387.7H175.4V387.7H180.2V387.7H185.0V413.4H189.8V438.7H194.6V433.6H199.4V397.5H204.2V427.8H209.0V436.1H213.8V445.5H218.7V390.6H223.5V416.8H228.3V402.6H233.1V387.7H237.9V441.0H242.7V429.9H247.5V479.5H252.3V421.2H257.1V415.5H261.9V416.5H266.7V399.4H271.5V417.1H276.3V443.5H281.2V440.5H286.0V400.5H290.8V387.7H295.6V422.8H300.4V418.1H305.2V421.4H310.0V437.0H314.8V441.9H319.6V395.7H324.4V396.1H329.2V387.7H334.0V414.7H338.8V408.6H343.7V439.1H348.5V401.7H353.3V398.5H358.1V421.6H362.9V404.9H367.7V406.1H372.5V388.6H377.3V389.4H382.1V412.9H386.9V411.1H391.7V422.8H396.5V433.8H401.3V453.9H406.2V432.4H411.0V387.7H415.8V387.7H420.6V387.7H425.4V387.7H430.2V387.7H435.0V387.7H439.8V387.7H444.6V387.7H449.4V414.4H454.2V438.8H459.0V421.6H463.8V422.6H468.7V387.7H473.5V387.7H478.3V415.1H483.1V387.7H487.9V407.2H492.7V412.1H497.5V395.4H502.3V417.4H507.1V446.0H511.9V401.9H516.7V405.5H521.5V387.7H526.3V417.5H531.2V435.0H536.0V449.4H540.8V434.4H545.6V415.4H550.4V419.2H555.2V421.1H560.0V420.1H564.8V411.3H569.6V412.6H574.4V406.4H579.2V403.6H584.0V404.5H588.8V388.3H593.7V396.2H598.5V418.9H603.3V446.7H608.1V413.5H612.9V387.7H617.7V402.2H622.5V438.9H627.3V420.5H632.1V395.8H636.9V387.7H641.7V402.3H646.5V412.3H651.3V401.7H656.2V404.1H661.0V387.7H665.8V387.7H670.6V387.7H675.4V387.7H680.2V391.8H685.0V577.0Z" fill="#f09030"/><path d="M60.0 577.0V465.6H64.8V456.4H69.6V454.0H74.4V486.0H79.2V485.8H84.0V473.2H88.8V450.4H93.7V440.8H98.5V442.7H103.3V461.4H108.1V450.6H112.9V449.0H117.7V428.9H122.5V416.2H127.3V449.8H132.1V466.0H136.9V452.1H141.7V445.3H146.5V453.2H151.3V457.0H156.2V453.7H161.0V466.0H165.8V444.5H170.6V456.2H175.4V433.0H180.2V425.1H185.0V451.7H189.8V490.0H194.6V474.7H199.4V439.6H204.2V470.9H209.0V467.1H213.8V481.9H218.7V423.0H223.5V441.7H228.3V443.5H233.1V428.1H237.9V480.8H242.7V459.9H247.5V497.1H252.3V456.7H257.1V451.3H261.9V438.6H266.7V431.5H271.5V439.5H276.3V475.9H281.2V477.4H286.0V440.6H290.8V424.3H295.6V462.1H300.4V446.0H305.2V452.4H310.0V467.8H314.8V475.0H319.6V434.0H324.4V438.8H329.2V432.7H334.0V434.3H338.8V443.9H343.7V473.8H348.5V457.8H353.3V449.3H358.1V448.5H362.9V442.4H367.7V438.8H372.5V432.9H377.3V419.5H382.1V447.0H386.9V446.1H391.7V458.4H396.5V465.3H401.3V473.4H406.2V468.1H411.0V428.9H415.8V423.5H420.6V412.9H425.4V422.1H430.2V424.0H435.0V420.9H439.8V421.7H444.6V426.3H449.4V445.4H454.2V469.2H459.0V440.1H463.8V448.1H468.7V413.8H473.5V413.4H478.3V442.8H483.1V432.5H487.9V446.3H492.7V448.8H497.5V451.3H502.3V459.6H507.1V469.6H511.9V438.4H516.7V434.3H521.5V435.7H526.3V447.3H531.2V464.9H536.0V470.4H540.8V467.5H545.6V442.5H550.4V452.7H555.2V453.8H560.0V450.5H564.8V454.5H569.6V459.6H574.4V446.9H579.2V433.9H584.0V430.2H588.8V424.3H593.7V453.6H598.5V458.1H603.3V477.6H608.1V442.6H612.9V412.9H617.7V427.3H622.5V470.6H627.3V468.3H632.1V436.0H636.9V419.2H641.7V424.3H646.5V446.7H651.3V437.7H656.2V430.3H661.0V411.3H665.8V420.0H670.6V429.6H675.4V429.6H680.2V432.9H685.0V577.0Z" fill="#f8b84a"/><path d="M60.0 577.0V492.0H64.8V479.6H69.6V493.2H74.4V501.9H79.2V512.7H84.0V500.5H88.8V477.7H93.7V474.3H98.5V487.0H103.3V499.9H108.1V485.4H112.9V478.6H117.7V461.1H122.5V457.9H127.3V483.5H132.1V490.7H136.9V473.1H141.7V466.6H146.5V472.1H151.3V496.6H156.2V493.2H161.0V500.3H165.8V491.9H170.6V488.3H175.4V469.7H180.2V468.1H185.0V476.0H189.8V508.3H194.6V496.7H199.4V478.5H204.2V518.3H209.0V495.2H213.8V523.9H218.7V456.8H223.5V472.9H228.3V472.6H233.1V456.1H237.9V498.7H242.7V481.1H247.5V517.3H252.3V491.4H257.1V504.2H261.9V502.6H266.7V472.3H271.5V461.3H276.3V503.4H281.2V502.0H286.0V489.6H290.8V464.9H295.6V493.6H300.4V488.0H305.2V494.2H310.0V490.8H314.8V501.8H319.6V464.4H324.4V472.6H329.2V463.2H334.0V466.6H338.8V479.7H343.7V504.0H348.5V483.6H353.3V494.6H358.1V489.7H362.9V483.0H367.7V461.7H372.5V462.8H377.3V460.0H382.1V472.5H386.9V487.7H391.7V492.0H396.5V503.4H401.3V508.2H406.2V504.9H411.0V470.6H415.8V455.5H420.6V455.2H425.4V452.7H430.2V446.8H435.0V455.6H439.8V446.4H444.6V449.3H449.4V486.6H454.2V516.5H459.0V463.5H463.8V483.9H468.7V463.3H473.5V463.6H478.3V480.3H483.1V460.0H487.9V477.4H492.7V472.7H497.5V480.7H502.3V491.3H507.1V502.4H511.9V482.9H516.7V470.2H521.5V458.0H526.3V487.6H531.2V492.2H536.0V499.2H540.8V499.5H545.6V473.6H550.4V477.9H555.2V483.7H560.0V502.9H564.8V489.5H569.6V493.4H574.4V491.3H579.2V478.1H584.0V474.6H588.8V469.6H593.7V474.6H598.5V481.4H603.3V510.2H608.1V481.2H612.9V460.0H617.7V470.0H622.5V505.9H627.3V503.7H632.1V469.3H636.9V453.6H641.7V465.6H646.5V480.7H651.3V465.3H656.2V455.7H661.0V451.8H665.8V467.3H670.6V474.2H675.4V472.9H680.2V478.5H685.0V577.0Z" fill="#3aa0dc"/><path d="M60.0 577.0V546.9H64.8V532.6H69.6V521.2H74.4V535.2H79.2V548.8H84.0V538.3H88.8V528.9H93.7V518.9H98.5V542.6H103.3V550.6H108.1V530.0H112.9V526.5H117.7V513.4H122.5V516.1H127.3V528.8H132.1V534.7H136.9V503.7H141.7V527.4H146.5V540.2H151.3V548.1H156.2V536.3H161.0V532.1H165.8V536.5H170.6V535.8H175.4V535.0H180.2V524.9H185.0V517.5H189.8V525.8H194.6V551.3H199.4V530.2H204.2V548.4H209.0V539.4H213.8V551.7H218.7V538.4H223.5V543.4H228.3V533.5H233.1V501.5H237.9V522.0H242.7V519.8H247.5V544.1H252.3V539.5H257.1V527.1H261.9V532.1H266.7V528.3H271.5V530.2H276.3V543.6H281.2V529.5H286.0V541.1H290.8V518.7H295.6V532.9H300.4V524.9H305.2V530.4H310.0V521.1H314.8V536.2H319.6V522.3H324.4V531.0H329.2V526.5H334.0V521.0H338.8V527.6H343.7V540.2H348.5V526.1H353.3V525.4H358.1V511.6H362.9V530.8H367.7V525.8H372.5V524.8H377.3V527.1H382.1V528.7H386.9V529.4H391.7V538.7H396.5V546.2H401.3V541.4H406.2V528.5H411.0V491.7H415.8V492.3H420.6V496.2H425.4V492.3H430.2V500.9H435.0V504.1H439.8V498.0H444.6V499.5H449.4V529.4H454.2V539.8H459.0V512.3H463.8V523.8H468.7V521.1H473.5V518.6H478.3V541.6H483.1V514.3H487.9V504.7H492.7V522.3H497.5V520.9H502.3V527.7H507.1V541.4H511.9V536.7H516.7V529.6H521.5V519.8H526.3V520.4H531.2V528.4H536.0V515.8H540.8V536.4H545.6V524.7H550.4V517.5H555.2V531.6H560.0V553.0H564.8V549.3H569.6V535.0H574.4V527.3H579.2V513.3H584.0V538.5H588.8V534.4H593.7V525.8H598.5V532.5H603.3V560.0H608.1V531.6H612.9V505.8H617.7V513.1H622.5V537.4H627.3V538.9H632.1V532.0H636.9V508.3H641.7V517.0H646.5V526.7H651.3V513.0H656.2V507.2H661.0V491.7H665.8V514.2H670.6V521.5H675.4V510.0H680.2V514.4H685.0V577.0Z" fill="#9a9a9a"/><path d="M60.0 371.2V577.0M64.8 371.2V577.0M69.6 371.2V577.0M74.4 371.2V577.0M79.2 371.2V577.0M84.0 371.2V577.0M88.8 371.2V577.0M93.7 371.2V577.0M98.5 371.2V577.0M103.3 371.2V577.0M108.1 371.2V577.0M112.9 371.2V577.0M117.7 371.2V577.0M122.5 371.2V577.0M127.3 371.2V577.0M132.1 371.2V577.0M136.9 371.2V577.0M141.7 371.2V577.0M146.5 371.2V577.0M151.3 371.2V577.0M156.2 371.2V577.0M161.0 371.2V577.0M165.8 371.2V577.0M170.6 371.2V577.0M175.4 371.2V577.0M180.2 371.2V577.0M185.0 371.2V577.0M189.8 371.2V577.0M194.6 371.2V577.0M199.4 371.2V577.0M204.2 371.2V577.0M209.0 371.2V577.0M213.8 371.2V577.0M218.7 371.2V577.0M223.5 371.2V577.0M228.3 371.2V577.0M233.1 371.2V577.0M237.9 371.2V577.0M242.7 371.2V577.0M247.5 371.2V577.0M252.3 371.2V577.0M257.1 371.2V577.0M261.9 371.2V577.0M266.7 371.2V577.0M271.5 371.2V577.0M276.3 371.2V577.0M281.2 371.2V577.0M286.0 371.2V577.0M290.8 371.2V577.0M295.6 371.2V577.0M300.4 371.2V577.0M305.2 371.2V577.0M310.0 371.2V577.0M314.8 371.2V577.0M319.6 371.2V577.0M324.4 371.2V577.0M329.2 371.2V577.0M334.0 371.2V577.0M338.8 371.2V577.0M343.7 371.2V577.0M348.5 371.2V577.0M353.3 371.2V577.0M358.1 371.2V577.0M362.9 371.2V577.0M367.7 371.2V577.0M372.5 371.2V577.0M377.3 371.2V577.0M382.1 371.2V577.0M386.9 371.2V577.0M391.7 371.2V577.0M396.5 371.2V577.0M401.3 371.2V577.0M406.2 371.2V577.0M411.0 371.2V577.0M415.8 371.2V577.0M420.6 371.2V577.0M425.4 371.2V577.0M430.2 371.2V577.0M435.0 371.2V577.0M439.8 371.2V577.0M444.6 371.2V577.0M449.4 371.2V577.0M454.2 371.2V577.0M459.0 371.2V577.0M463.8 371.2V577.0M468.7 371.2V577.0M473.5 371.2V577.0M478.3 371.2V577.0M483.1 371.2V577.0M487.9 371.2V577.0M492.7 371.2V577.0M497.5 371.2V577.0M502.3 371.2V577.0M507.1 371.2V577.0M511.9 371.2V577.0M516.7 371.2V577.0M521.5 371.2V577.0M526.3 371.2V577.0M531.2 371.2V577.0M536.0 371.2V577.0M540.8 371.2V577.0M545.6 371.2V577.0M550.4 371.2V577.0M555.2 371.2V577.0M560.0 371.2V577.0M564.8 371.2V577.0M569.6 371.2V577.0M574.4 371.2V577.0M579.2 371.2V577.0M584.0 371.2V577.0M588.8 371.2V577.0M593.7 371.2V577.0M598.5 371.2V577.0M603.3 371.2V577.0M608.1 371.2V577.0M612.9 371.2V577.0M617.7 371.2V577.0M622.5 371.2V577.0M627.3 371.2V577.0M632.1 371.2V577.0M636.9 371.2V577.0M641.7 371.2V577.0M646.5 371.2V577.0M651.3 371.2V577.0M656.2 371.2V577.0M661.0 371.2V577.0M665.8 371.2V577.0M670.6 371.2V577.0M675.4 371.2V577.0M680.2 371.2V577.0M685.0 371.2V577.0M60.0 546.9h4.8M60.0 492.0h4.8M60.0 465.6h4.8M60.0 428.6h4.8M64.8 532.6h4.8M64.8 479.6h4.8M64.8 456.4h4.8M64.8 413.6h4.8M69.6 521.2h4.8M69.6 493.2h4.8M69.6 454.0h4.8M69.6 424.4h4.8M74.4 535.2h4.8M74.4 501.9h4.8M74.4 486.0h4.8M74.4 453.0h4.8M79.2 548.8h4.8M79.2 512.7h4.8M79.2 485.8h4.8M79.2 456.3h4.8M84.0 538.3h4.8M84.0 500.5h4.8M84.0 473.2h4.8M84.0 432.2h4.8M88.8 528.9h4.8M88.8 477.7h4.8M88.8 450.4h4.8M88.8 417.1h4.8M93.7 518.9h4.8M93.7 474.3h4.8M93.7 440.8h4.8M93.7 405.8h4.8M98.5 542.6h4.8M98.5 487.0h4.8M98.5 442.7h4.8M98.5 402.8h4.8M103.3 550.6h4.8M103.3 499.9h4.8M103.3 461.4h4.8M103.3 411.8h4.8M108.1 530.0h4.8M108.1 485.4h4.8M108.1 450.6h4.8M108.1 416.7h4.8M112.9 526.5h4.8M112.9 478.6h4.8M112.9 449.0h4.8M112.9 421.0h4.8M117.7 513.4h4.8M117.7 461.1h4.8M117.7 428.9h4.8M117.7 387.7h4.8M122.5 516.1h4.8M122.5 457.9h4.8M122.5 416.2h4.8M122.5 387.7h4.8M127.3 528.8h4.8M127.3 483.5h4.8M127.3 449.8h4.8M127.3 411.3h4.8M132.1 534.7h4.8M132.1 490.7h4.8M132.1 466.0h4.8M132.1 433.5h4.8M136.9 503.7h4.8M136.9 473.1h4.8M136.9 452.1h4.8M136.9 417.3h4.8M141.7 527.4h4.8M141.7 466.6h4.8M141.7 445.3h4.8M141.7 424.7h4.8M146.5 540.2h4.8M146.5 472.1h4.8M146.5 453.2h4.8M146.5 415.0h4.8M151.3 548.1h4.8M151.3 496.6h4.8M151.3 457.0h4.8M151.3 423.9h4.8M156.2 536.3h4.8M156.2 493.2h4.8M156.2 453.7h4.8M156.2 425.6h4.8M161.0 532.1h4.8M161.0 500.3h4.8M161.0 466.0h4.8M161.0 413.7h4.8M165.8 536.5h4.8M165.8 491.9h4.8M165.8 444.5h4.8M165.8 396.7h4.8M170.6 535.8h4.8M170.6 488.3h4.8M170.6 456.2h4.8M170.6 387.7h4.8M175.4 535.0h4.8M175.4 469.7h4.8M175.4 433.0h4.8M175.4 387.7h4.8M180.2 524.9h4.8M180.2 468.1h4.8M180.2 425.1h4.8M180.2 387.7h4.8M185.0 517.5h4.8M185.0 476.0h4.8M185.0 451.7h4.8M185.0 413.4h4.8M189.8 525.8h4.8M189.8 508.3h4.8M189.8 490.0h4.8M189.8 438.7h4.8M194.6 551.3h4.8M194.6 496.7h4.8M194.6 474.7h4.8M194.6 433.6h4.8M199.4 530.2h4.8M199.4 478.5h4.8M199.4 439.6h4.8M199.4 397.5h4.8M204.2 548.4h4.8M204.2 518.3h4.8M204.2 470.9h4.8M204.2 427.8h4.8M209.0 539.4h4.8M209.0 495.2h4.8M209.0 467.1h4.8M209.0 436.1h4.8M213.8 551.7h4.8M213.8 523.9h4.8M213.8 481.9h4.8M213.8 445.5h4.8M218.7 538.4h4.8M218.7 456.8h4.8M218.7 423.0h4.8M218.7 390.6h4.8M223.5 543.4h4.8M223.5 472.9h4.8M223.5 441.7h4.8M223.5 416.8h4.8M228.3 533.5h4.8M228.3 472.6h4.8M228.3 443.5h4.8M228.3 402.6h4.8M233.1 501.5h4.8M233.1 456.1h4.8M233.1 428.1h4.8M233.1 387.7h4.8M237.9 522.0h4.8M237.9 498.7h4.8M237.9 480.8h4.8M237.9 441.0h4.8M242.7 519.8h4.8M242.7 481.1h4.8M242.7 459.9h4.8M242.7 429.9h4.8M247.5 544.1h4.8M247.5 517.3h4.8M247.5 497.1h4.8M247.5 479.5h4.8M252.3 539.5h4.8M252.3 491.4h4.8M252.3 456.7h4.8M252.3 421.2h4.8M257.1 527.1h4.8M257.1 504.2h4.8M257.1 451.3h4.8M257.1 415.5h4.8M261.9 532.1h4.8M261.9 502.6h4.8M261.9 438.6h4.8M261.9 416.5h4.8M266.7 528.3h4.8M266.7 472.3h4.8M266.7 431.5h4.8M266.7 399.4h4.8M271.5 530.2h4.8M271.5 461.3h4.8M271.5 439.5h4.8M271.5 417.1h4.8M276.3 543.6h4.8M276.3 503.4h4.8M276.3 475.9h4.8M276.3 443.5h4.8M281.2 529.5h4.8M281.2 502.0h4.8M281.2 477.4h4.8M281.2 440.5h4.8M286.0 541.1h4.8M286.0 489.6h4.8M286.0 440.6h4.8M286.0 400.5h4.8M290.8 518.7h4.8M290.8 464.9h4.8M290.8 424.3h4.8M290.8 387.7h4.8M295.6 532.9h4.8M295.6 493.6h4.8M295.6 462.1h4.8M295.6 422.8h4.8M300.4 524.9h4.8M300.4 488.0h4.8M300.4 446.0h4.8M300.4 418.1h4.8M305.2 530.4h4.8M305.2 494.2h4.8M305.2 452.4h4.8M305.2 421.4h4.8M310.0 521.1h4.8M310.0 490.8h4.8M310.0 467.8h4.8M310.0 437.0h4.8M314.8 536.2h4.8M314.8 501.8h4.8M314.8 475.0h4.8M314.8 441.9h4.8M319.6 522.3h4.8M319.6 464.4h4.8M319.6 434.0h4.8M319.6 395.7h4.8M324.4 531.0h4.8M324.4 472.6h4.8M324.4 438.8h4.8M324.4 396.1h4.8M329.2 526.5h4.8M329.2 463.2h4.8M329.2 432.7h4.8M329.2 387.7h4.8M334.0 521.0h4.8M334.0 466.6h4.8M334.0 434.3h4.8M334.0 414.7h4.8M338.8 527.6h4.8M338.8 479.7h4.8M338.8 443.9h4.8M338.8 408.6h4.8M343.7 540.2h4.8M343.7 504.0h4.8M343.7 473.8h4.8M343.7 439.1h4.8M348.5 526.1h4.8M348.5 483.6h4.8M348.5 457.8h4.8M348.5 401.7h4.8M353.3 525.4h4.8M353.3 494.6h4.8M353.3 449.3h4.8M353.3 398.5h4.8M358.1 511.6h4.8M358.1 489.7h4.8M358.1 448.5h4.8M358.1 421.6h4.8M362.9 530.8h4.8M362.9 483.0h4.8M362.9 442.4h4.8M362.9 404.9h4.8M367.7 525.8h4.8M367.7 461.7h4.8M367.7 438.8h4.8M367.7 406.1h4.8M372.5 524.8h4.8M372.5 462.8h4.8M372.5 432.9h4.8M372.5 388.6h4.8M377.3 527.1h4.8M377.3 460.0h4.8M377.3 419.5h4.8M377.3 389.4h4.8M382.1 528.7h4.8M382.1 472.5h4.8M382.1 447.0h4.8M382.1 412.9h4.8M386.9 529.4h4.8M386.9 487.7h4.8M386.9 446.1h4.8M386.9 411.1h4.8M391.7 538.7h4.8M391.7 492.0h4.8M391.7 458.4h4.8M391.7 422.8h4.8M396.5 546.2h4.8M396.5 503.4h4.8M396.5 465.3h4.8M396.5 433.8h4.8M401.3 541.4h4.8M401.3 508.2h4.8M401.3 473.4h4.8M401.3 453.9h4.8M406.2 528.5h4.8M406.2 504.9h4.8M406.2 468.1h4.8M406.2 432.4h4.8M411.0 491.7h4.8M411.0 470.6h4.8M411.0 428.9h4.8M411.0 387.7h4.8M415.8 492.3h4.8M415.8 455.5h4.8M415.8 423.5h4.8M415.8 387.7h4.8M420.6 496.2h4.8M420.6 455.2h4.8M420.6 412.9h4.8M420.6 387.7h4.8M425.4 492.3h4.8M425.4 452.7h4.8M425.4 422.1h4.8M425.4 387.7h4.8M430.2 500.9h4.8M430.2 446.8h4.8M430.2 424.0h4.8M430.2 387.7h4.8M435.0 504.1h4.8M435.0 455.6h4.8M435.0 420.9h4.8M435.0 387.7h4.8M439.8 498.0h4.8M439.8 446.4h4.8M439.8 421.7h4.8M439.8 387.7h4.8M444.6 499.5h4.8M444.6 449.3h4.8M444.6 426.3h4.8M444.6 387.7h4.8M449.4 529.4h4.8M449.4 486.6h4.8M449.4 445.4h4.8M449.4 414.4h4.8M454.2 539.8h4.8M454.2 516.5h4.8M454.2 469.2h4.8M454.2 438.8h4.8M459.0 512.3h4.8M459.0 463.5h4.8M459.0 440.1h4.8M459.0 421.6h4.8M463.8 523.8h4.8M463.8 483.9h4.8M463.8 448.1h4.8M463.8 422.6h4.8M468.7 521.1h4.8M468.7 463.3h4.8M468.7 413.8h4.8M468.7 387.7h4.8M473.5 518.6h4.8M473.5 463.6h4.8M473.5 413.4h4.8M473.5 387.7h4.8M478.3 541.6h4.8M478.3 480.3h4.8M478.3 442.8h4.8M478.3 415.1h4.8M483.1 514.3h4.8M483.1 460.0h4.8M483.1 432.5h4.8M483.1 387.7h4.8M487.9 504.7h4.8M487.9 477.4h4.8M487.9 446.3h4.8M487.9 407.2h4.8M492.7 522.3h4.8M492.7 472.7h4.8M492.7 448.8h4.8M492.7 412.1h4.8M497.5 520.9h4.8M497.5 480.7h4.8M497.5 451.3h4.8M497.5 395.4h4.8M502.3 527.7h4.8M502.3 491.3h4.8M502.3 459.6h4.8M502.3 417.4h4.8M507.1 541.4h4.8M507.1 502.4h4.8M507.1 469.6h4.8M507.1 446.0h4.8M511.9 536.7h4.8M511.9 482.9h4.8M511.9 438.4h4.8M511.9 401.9h4.8M516.7 529.6h4.8M516.7 470.2h4.8M516.7 434.3h4.8M516.7 405.5h4.8M521.5 519.8h4.8M521.5 458.0h4.8M521.5 435.7h4.8M521.5 387.7h4.8M526.3 520.4h4.8M526.3 487.6h4.8M526.3 447.3h4.8M526.3 417.5h4.8M531.2 528.4h4.8M531.2 492.2h4.8M531.2 464.9h4.8M531.2 435.0h4.8M536.0 515.8h4.8M536.0 499.2h4.8M536.0 470.4h4.8M536.0 449.4h4.8M540.8 536.4h4.8M540.8 499.5h4.8M540.8 467.5h4.8M540.8 434.4h4.8M545.6 524.7h4.8M545.6 473.6h4.8M545.6 442.5h4.8M545.6 415.4h4.8M550.4 517.5h4.8M550.4 477.9h4.8M550.4 452.7h4.8M550.4 419.2h4.8M555.2 531.6h4.8M555.2 483.7h4.8M555.2 453.8h4.8M555.2 421.1h4.8M560.0 553.0h4.8M560.0 502.9h4.8M560.0 450.5h4.8M560.0 420.1h4.8M564.8 549.3h4.8M564.8 489.5h4.8M564.8 454.5h4.8M564.8 411.3h4.8M569.6 535.0h4.8M569.6 493.4h4.8M569.6 459.6h4.8M569.6 412.6h4.8M574.4 527.3h4.8M574.4 491.3h4.8M574.4 446.9h4.8M574.4 406.4h4.8M579.2 513.3h4.8M579.2 478.1h4.8M579.2 433.9h4.8M579.2 403.6h4.8M584.0 538.5h4.8M584.0 474.6h4.8M584.0 430.2h4.8M584.0 404.5h4.8M588.8 534.4h4.8M588.8 469.6h4.8M588.8 424.3h4.8M588.8 388.3h4.8M593.7 525.8h4.8M593.7 474.6h4.8M593.7 453.6h4.8M593.7 396.2h4.8M598.5 532.5h4.8M598.5 481.4h4.8M598.5 458.1h4.8M598.5 418.9h4.8M603.3 560.0h4.8M603.3 510.2h4.8M603.3 477.6h4.8M603.3 446.7h4.8M608.1 531.6h4.8M608.1 481.2h4.8M608.1 442.6h4.8M608.1 413.5h4.8M612.9 505.8h4.8M612.9 460.0h4.8M612.9 412.9h4.8M612.9 387.7h4.8M617.7 513.1h4.8M617.7 470.0h4.8M617.7 427.3h4.8M617.7 402.2h4.8M622.5 537.4h4.8M622.5 505.9h4.8M622.5 470.6h4.8M622.5 438.9h4.8M627.3 538.9h4.8M627.3 503.7h4.8M627.3 468.3h4.8M627.3 420.5h4.8M632.1 532.0h4.8M632.1 469.3h4.8M632.1 436.0h4.8M632.1 395.8h4.8M636.9 508.3h4.8M636.9 453.6h4.8M636.9 419.2h4.8M636.9 387.7h4.8M641.7 517.0h4.8M641.7 465.6h4.8M641.7 424.3h4.8M641.7 402.3h4.8M646.5 526.7h4.8M646.5 480.7h4.8M646.5 446.7h4.8M646.5 412.3h4.8M651.3 513.0h4.8M651.3 465.3h4.8M651.3 437.7h4.8M651.3 401.7h4.8M656.2 507.2h4.8M656.2 455.7h4.8M656.2 430.3h4.8M656.2 404.1h4.8M661.0 491.7h4.8M661.0 451.8h4.8M661.0 411.3h4.8M661.0 387.7h4.8M665.8 514.2h4.8M665.8 467.3h4.8M665.8 420.0h4.8M665.8 387.7h4.8M670.6 521.5h4.8M670.6 474.2h4.8M670.6 429.6h4.8M670.6 387.7h4.8M675.4 510.0h4.8M675.4 472.9h4.8M675.4 429.6h4.8M675.4 387.7h4.8M680.2 514.4h4.8M680.2 478.5h4.8M680.2 432.9h4.8M680.2 391.8h4.8" stroke="#3a3a3a" stroke-width="0.7" fill="none"/><path d="M60.0 812.7V607.0H64.8V607.0H69.6V607.0H74.4V607.0H79.2V607.0H84.0V607.0H88.8V607.0H93.7V607.0H98.5V607.0H103.3V607.0H108.1V607.0H112.9V607.0H117.7V607.0H122.5V607.0H127.3V607.0H132.1V607.0H136.9V607.0H141.7V607.0H146.5V607.0H151.3V607.0H156.2V607.0H161.0V607.0H165.8V607.0H170.6V607.0H175.4V607.0H180.2V607.0H185.0V607.0H189.8V607.0H194.6V607.0H199.4V607.0H204.2V607.0H209.0V607.0H213.8V607.0H218.7V607.0H223.5V607.0H228.3V607.0H233.1V607.0H237.9V607.0H242.7V607.0H247.5V607.0H252.3V607.0H257.1V607.0H261.9V607.0H266.7V607.0H271.5V607.0H276.3V607.0H281.2V607.0H286.0V607.0H290.8V607.0H295.6V607.0H300.4V607.0H305.2V607.0H310.0V607.0H314.8V607.0H319.6V607.0H324.4V607.0H329.2V607.0H334.0V607.0H338.8V607.0H343.7V607.0H348.5V607.0H353.3V607.0H358.1V607.0H362.9V607.0H367.7V607.0H372.5V607.0H377.3V607.0H382.1V607.0H386.9V607.0H391.7V607.0H396.5V607.0H401.3V607.0H406.2V607.0H411.0V607.0H415.8V607.0H420.6V607.0H425.4V607.0H430.2V607.0H435.0V607.0H439.8V607.0H444.6V607.0H449.4V607.0H454.2V607.0H459.0V607.0H463.8V607.0H468.7V607.0H473.5V607.0H478.3V607.0H483.1V607.0H487.9V607.0H492.7V607.0H497.5V607.0H502.3V607.0H507.1V607.0H511.9V607.0H516.7V607.0H521.5V607.0H526.3V607.0H531.2V607.0H536.0V607.0H540.8V607.0H545.6V607.0H550.4V607.0H555.2V607.0H560.0V607.0H564.8V607.0H569.6V607.0H574.4V607.0H579.2V607.0H584.0V607.0H588.8V607.0H593.7V607.0H598.5V607.0H603.3V607.0H608.1V607.0H612.9V607.0H617.7V607.0H622.5V607.0H627.3V607.0H632.1V607.0H636.9V607.0H641.7V607.0H646.5V607.0H651.3V607.0H656.2V607.0H661.0V607.0H665.8V607.0H670.6V607.0H675.4V607.0H680.2V607.0H685.0V812.7Z" fill="#f0ec20"/><path d="M60.0 812.7V635.1H64.8V625.0H69.6V628.2H74.4V633.2H79.2V636.3H84.0V618.6H88.8V628.9H93.7V617.7H98.5V615.3H103.3V615.0H108.1V618.8H112.9V630.7H117.7V614.3H122.5V611.3H127.3V621.5H132.1V627.0H136.9V620.4H141.7V627.4H146.5V620.5H151.3V614.6H156.2V621.9H161.0V627.2H165.8V612.8H170.6V615.5H175.4V611.2H180.2V611.8H185.0V623.8H189.8V633.9H194.6V622.6H199.4V611.3H204.2V634.7H209.0V634.6H213.8V633.7H218.7V612.5H223.5V615.9H228.3V619.8H233.1V611.0H237.9V620.6H242.7V629.8H247.5V639.6H252.3V615.3H257.1V614.1H261.9V620.9H266.7V614.6H271.5V615.6H276.3V632.6H281.2V633.6H286.0V612.7H290.8V614.3H295.6V620.9H300.4V623.3H305.2V615.3H310.0V623.9H314.8V620.3H319.6V616.5H324.4V614.8H329.2V614.5H334.0V621.0H338.8V619.5H343.7V627.7H348.5V614.3H353.3V612.7H358.1V627.3H362.9V621.2H367.7V617.1H372.5V611.1H377.3V615.0H382.1V624.0H386.9V618.9H391.7V624.3H396.5V627.8H401.3V634.1H406.2V629.7H411.0V615.3H415.8V610.9H420.6V611.0H425.4V611.0H430.2V614.0H435.0V610.7H439.8V613.7H444.6V611.3H449.4V619.1H454.2V626.3H459.0V623.6H463.8V621.2H468.7V610.9H473.5V609.7H478.3V626.9H483.1V613.3H487.9V621.4H492.7V621.9H497.5V613.0H502.3V615.7H507.1V629.1H511.9V611.8H516.7V618.3H521.5V610.8H526.3V614.3H531.2V617.1H536.0V645.9H540.8V631.2H545.6V621.2H550.4V636.9H555.2V616.8H560.0V616.0H564.8V615.0H569.6V620.8H574.4V618.1H579.2V620.4H584.0V616.1H588.8V614.4H593.7V619.3H598.5V613.5H603.3V628.0H608.1V619.8H612.9V612.2H617.7V618.8H622.5V633.8H627.3V616.7H632.1V611.2H636.9V613.0H641.7V625.1H646.5V622.6H651.3V615.7H656.2V612.9H661.0V613.5H665.8V614.7H670.6V611.1H675.4V613.1H680.2V609.9H685.0V812.7Z" fill="#f8e428"/><path d="M60.0 812.7V643.7H64.8V630.8H69.6V641.9H74.4V660.3H79.2V661.7H84.0V650.0H88.8V641.6H93.7V631.8H98.5V625.5H103.3V626.4H108.1V631.4H112.9V641.5H117.7V621.4H122.5V615.6H127.3V629.8H132.1V640.9H136.9V635.4H141.7V645.7H146.5V636.1H151.3V639.4H156.2V641.6H161.0V639.1H165.8V627.1H170.6V619.8H175.4V618.0H180.2V616.1H185.0V633.5H189.8V650.3H194.6V649.4H199.4V623.3H204.2V648.9H209.0V653.4H213.8V650.5H218.7V622.0H223.5V636.3H228.3V631.2H233.1V618.8H237.9V657.3H242.7V647.6H247.5V683.9H252.3V635.9H257.1V634.7H261.9V630.8H266.7V623.0H271.5V636.8H276.3V658.8H281.2V663.8H286.0V628.2H290.8V617.0H295.6V639.5H300.4V641.1H305.2V633.4H310.0V650.1H314.8V646.4H319.6V625.9H324.4V618.8H329.2V621.4H334.0V636.7H338.8V636.2H343.7V652.0H348.5V627.8H353.3V622.8H358.1V634.7H362.9V631.7H367.7V629.0H372.5V617.6H377.3V618.3H382.1V636.2H386.9V630.0H391.7V642.8H396.5V649.0H401.3V659.4H406.2V648.4H411.0V620.0H415.8V614.4H420.6V618.1H425.4V617.7H430.2V617.8H435.0V618.5H439.8V617.1H444.6V616.7H449.4V634.8H454.2V648.4H459.0V643.0H463.8V639.7H468.7V617.2H473.5V616.3H478.3V638.8H483.1V619.2H487.9V627.6H492.7V637.4H497.5V622.6H502.3V634.8H507.1V656.4H511.9V626.4H516.7V635.0H521.5V616.6H526.3V638.0H531.2V644.7H536.0V670.2H540.8V653.3H545.6V629.9H550.4V645.8H555.2V638.0H560.0V637.9H564.8V637.7H569.6V639.7H574.4V634.2H579.2V627.0H584.0V623.8H588.8V620.3H593.7V624.6H598.5V633.1H603.3V657.5H608.1V634.2H612.9V616.7H617.7V631.2H622.5V655.6H627.3V646.0H632.1V622.0H636.9V618.9H641.7V630.9H646.5V629.9H651.3V624.7H656.2V627.1H661.0V618.5H665.8V617.0H670.6V615.1H675.4V617.6H680.2V618.7H685.0V812.7Z" fill="#f8d830"/><path d="M60.0 812.7V664.4H64.8V649.4H69.6V660.2H74.4V688.7H79.2V692.0H84.0V667.9H88.8V652.9H93.7V641.6H98.5V638.6H103.3V647.6H108.1V652.4H112.9V656.7H117.7V623.5H122.5V623.5H127.3V647.1H132.1V669.2H136.9V653.1H141.7V660.5H146.5V650.7H151.3V659.6H156.2V661.4H161.0V649.5H165.8V632.5H170.6V623.5H175.4V623.5H180.2V623.5H185.0V649.2H189.8V674.5H194.6V669.4H199.4V633.2H204.2V663.6H209.0V671.9H213.8V681.3H218.7V626.3H223.5V652.6H228.3V638.4H233.1V623.5H237.9V676.8H242.7V665.7H247.5V715.3H252.3V657.0H257.1V651.3H261.9V652.3H266.7V635.2H271.5V652.9H276.3V679.2H281.2V676.2H286.0V636.3H290.8V623.5H295.6V658.6H300.4V653.8H305.2V657.2H310.0V672.8H314.8V677.6H319.6V631.5H324.4V631.8H329.2V623.5H334.0V650.5H338.8V644.4H343.7V674.8H348.5V637.5H353.3V634.2H358.1V657.4H362.9V640.7H367.7V641.9H372.5V624.4H377.3V625.2H382.1V648.7H386.9V646.9H391.7V658.6H396.5V669.6H401.3V689.7H406.2V668.1H411.0V623.5H415.8V623.5H420.6V623.5H425.4V623.5H430.2V623.5H435.0V623.5H439.8V623.5H444.6V623.5H449.4V650.2H454.2V674.5H459.0V657.3H463.8V658.4H468.7V623.5H473.5V623.5H478.3V650.9H483.1V623.5H487.9V642.9H492.7V647.9H497.5V631.2H502.3V653.2H507.1V681.8H511.9V637.7H516.7V641.3H521.5V623.5H526.3V653.3H531.2V670.8H536.0V685.2H540.8V670.2H545.6V651.2H550.4V655.0H555.2V656.9H560.0V655.9H564.8V647.1H569.6V648.4H574.4V642.2H579.2V639.4H584.0V640.3H588.8V624.1H593.7V632.0H598.5V654.6H603.3V682.5H608.1V649.2H612.9V623.5H617.7V638.0H622.5V674.7H627.3V656.2H632.1V631.6H636.9V623.5H641.7V638.1H646.5V648.1H651.3V637.4H656.2V639.9H661.0V623.5H665.8V623.5H670.6V623.5H675.4V623.5H680.2V627.6H685.0V812.7Z" fill="#f8c040"/><path d="M60.0 812.7V676.1H64.8V663.4H69.6V669.7H74.4V694.8H79.2V696.3H84.0V681.2H88.8V658.5H93.7V653.0H98.5V646.6H103.3V665.0H108.1V665.7H112.9V662.8H117.7V638.4H122.5V628.5H127.3V662.3H132.1V683.3H136.9V665.7H141.7V667.9H146.5V657.7H151.3V666.5H156.2V669.6H161.0V663.0H165.8V648.2H170.6V636.6H175.4V628.8H180.2V628.7H185.0V661.7H189.8V681.9H194.6V676.1H199.4V644.6H204.2V679.1H209.0V677.8H213.8V687.6H218.7V637.1H223.5V656.5H228.3V646.5H233.1V635.0H237.9V687.8H242.7V674.5H247.5V718.7H252.3V666.3H257.1V660.2H261.9V656.1H266.7V640.6H271.5V662.1H276.3V688.8H281.2V688.2H286.0V642.3H290.8V634.1H295.6V671.1H300.4V661.5H305.2V661.6H310.0V678.0H314.8V686.9H319.6V645.1H324.4V643.2H329.2V634.0H334.0V655.2H338.8V651.6H343.7V683.0H348.5V644.5H353.3V641.9H358.1V665.9H362.9V645.8H367.7V651.2H372.5V635.2H377.3V633.7H382.1V657.0H386.9V658.8H391.7V674.3H396.5V681.2H401.3V696.8H406.2V680.3H411.0V631.5H415.8V629.7H420.6V627.2H425.4V631.5H430.2V631.2H435.0V627.4H439.8V633.4H444.6V636.6H449.4V658.3H454.2V683.1H459.0V662.7H463.8V664.9H468.7V630.1H473.5V630.3H478.3V658.1H483.1V634.9H487.9V653.1H492.7V659.4H497.5V649.3H502.3V658.6H507.1V686.9H511.9V654.8H516.7V648.2H521.5V632.6H526.3V663.3H531.2V677.7H536.0V688.2H540.8V679.9H545.6V660.2H550.4V661.6H555.2V666.2H560.0V665.7H564.8V658.5H569.6V667.0H574.4V648.3H579.2V646.0H584.0V647.1H588.8V630.7H593.7V653.5H598.5V665.1H603.3V696.5H608.1V655.8H612.9V628.3H617.7V648.5H622.5V682.6H627.3V668.2H632.1V636.9H636.9V630.7H641.7V641.5H646.5V652.4H651.3V646.4H656.2V645.8H661.0V630.2H665.8V634.1H670.6V634.5H675.4V638.5H680.2V640.0H685.0V812.7Z" fill="#f0b438"/><path d="M60.0 812.7V683.1H64.8V667.5H69.6V677.2H74.4V700.3H79.2V700.2H84.0V691.9H88.8V668.4H93.7V664.0H98.5V655.3H103.3V672.7H108.1V672.9H112.9V667.8H117.7V644.9H122.5V637.4H127.3V666.2H132.1V689.2H136.9V674.6H141.7V673.8H146.5V668.2H151.3V676.9H156.2V677.2H161.0V672.4H165.8V659.6H170.6V657.9H175.4V640.8H180.2V640.8H185.0V668.9H189.8V696.7H194.6V689.4H199.4V649.8H204.2V688.8H209.0V688.4H213.8V696.5H218.7V646.4H223.5V664.7H228.3V660.7H233.1V650.6H237.9V702.1H242.7V679.8H247.5V726.5H252.3V676.4H257.1V665.6H261.9V660.5H266.7V653.9H271.5V668.0H276.3V692.5H281.2V698.8H286.0V649.9H290.8V645.1H295.6V680.7H300.4V669.8H305.2V670.3H310.0V686.0H314.8V693.1H319.6V649.9H324.4V653.9H329.2V639.9H334.0V658.6H338.8V657.5H343.7V689.8H348.5V671.3H353.3V660.3H358.1V672.5H362.9V657.6H367.7V658.0H372.5V646.7H377.3V638.9H382.1V668.3H386.9V666.7H391.7V685.0H396.5V688.7H401.3V699.1H406.2V686.0H411.0V646.8H415.8V640.8H420.6V638.9H425.4V643.1H430.2V640.7H435.0V637.1H439.8V642.7H444.6V643.6H449.4V668.1H454.2V689.2H459.0V665.4H463.8V673.5H468.7V639.9H473.5V635.4H478.3V668.4H483.1V648.4H487.9V660.8H492.7V668.8H497.5V660.5H502.3V674.0H507.1V692.1H511.9V663.7H516.7V658.7H521.5V648.6H526.3V668.6H531.2V686.8H536.0V692.7H540.8V691.9H545.6V664.9H550.4V668.0H555.2V676.3H560.0V675.3H564.8V667.8H569.6V676.5H574.4V660.0H579.2V654.2H584.0V654.6H588.8V644.5H593.7V660.1H598.5V671.6H603.3V702.7H608.1V662.3H612.9V636.9H617.7V654.1H622.5V687.1H627.3V672.7H632.1V644.7H636.9V638.9H641.7V646.2H646.5V663.4H651.3V660.4H656.2V656.1H661.0V632.6H665.8V638.3H670.6V645.7H675.4V653.5H680.2V644.7H685.0V812.7Z" fill="#d0b830"/><path d="M60.0 812.7V694.5H64.8V679.0H69.6V681.6H74.4V711.7H79.2V711.3H84.0V703.5H88.8V675.2H93.7V668.6H98.5V668.3H103.3V684.9H108.1V679.9H112.9V675.7H117.7V656.6H122.5V646.4H127.3V675.3H132.1V695.8H136.9V678.8H141.7V676.4H146.5V678.7H151.3V686.5H156.2V683.1H161.0V688.2H165.8V673.3H170.6V678.5H175.4V654.6H180.2V648.4H185.0V679.6H189.8V711.3H194.6V699.8H199.4V667.8H204.2V695.8H209.0V694.7H213.8V704.2H218.7V654.3H223.5V671.8H228.3V667.8H233.1V659.3H237.9V710.2H242.7V690.0H247.5V729.8H252.3V683.7H257.1V672.0H261.9V664.6H266.7V662.1H271.5V671.4H276.3V705.5H281.2V706.3H286.0V664.7H290.8V651.7H295.6V692.3H300.4V677.7H305.2V680.3H310.0V693.6H314.8V704.0H319.6V659.5H324.4V666.6H329.2V654.5H334.0V665.1H338.8V671.6H343.7V702.3H348.5V686.5H353.3V671.6H358.1V677.4H362.9V666.0H367.7V667.3H372.5V655.9H377.3V644.3H382.1V674.7H386.9V675.5H391.7V689.4H396.5V695.8H401.3V701.3H406.2V693.8H411.0V652.5H415.8V653.8H420.6V644.5H425.4V651.6H430.2V648.8H435.0V646.6H439.8V648.9H444.6V652.8H449.4V673.9H454.2V697.4H459.0V670.6H463.8V679.2H468.7V645.2H473.5V642.9H478.3V673.1H483.1V661.0H487.9V673.9H492.7V674.7H497.5V667.8H502.3V686.4H507.1V696.7H511.9V668.6H516.7V666.1H521.5V657.5H526.3V675.7H531.2V694.9H536.0V696.7H540.8V697.8H545.6V671.4H550.4V683.4H555.2V681.7H560.0V680.8H564.8V673.9H569.6V685.9H574.4V666.6H579.2V660.3H584.0V659.5H588.8V650.1H593.7V676.1H598.5V681.1H603.3V707.9H608.1V671.7H612.9V640.9H617.7V660.1H622.5V696.2H627.3V688.1H632.1V657.4H636.9V647.1H641.7V654.0H646.5V674.5H651.3V668.1H656.2V659.1H661.0V640.0H665.8V644.5H670.6V657.1H675.4V658.5H680.2V655.2H685.0V812.7Z" fill="#a8be38"/><path d="M60.0 812.7V701.4H64.8V692.1H69.6V689.8H74.4V721.8H79.2V721.5H84.0V709.0H88.8V686.1H93.7V676.5H98.5V678.5H103.3V697.2H108.1V686.4H112.9V684.7H117.7V664.7H122.5V652.0H127.3V685.6H132.1V701.8H136.9V687.9H141.7V681.1H146.5V689.0H151.3V692.7H156.2V689.5H161.0V701.8H165.8V680.3H170.6V692.0H175.4V668.8H180.2V660.9H185.0V687.5H189.8V725.8H194.6V710.5H199.4V675.4H204.2V706.6H209.0V702.8H213.8V717.6H218.7V658.8H223.5V677.5H228.3V679.3H233.1V663.9H237.9V716.5H242.7V695.7H247.5V732.9H252.3V692.4H257.1V687.0H261.9V674.4H266.7V667.2H271.5V675.3H276.3V711.6H281.2V713.1H286.0V676.4H290.8V660.1H295.6V697.9H300.4V681.7H305.2V688.2H310.0V703.6H314.8V710.8H319.6V669.7H324.4V674.6H329.2V668.5H334.0V670.1H338.8V679.6H343.7V709.6H348.5V693.5H353.3V685.0H358.1V684.3H362.9V678.2H367.7V674.6H372.5V668.7H377.3V655.2H382.1V682.8H386.9V681.9H391.7V694.2H396.5V701.1H401.3V709.2H406.2V703.9H411.0V664.6H415.8V659.3H420.6V648.7H425.4V657.9H430.2V659.8H435.0V656.7H439.8V657.4H444.6V662.0H449.4V681.2H454.2V704.9H459.0V675.9H463.8V683.8H468.7V649.6H473.5V649.2H478.3V678.6H483.1V668.2H487.9V682.1H492.7V684.6H497.5V687.1H502.3V695.3H507.1V705.4H511.9V674.2H516.7V670.1H521.5V671.5H526.3V683.0H531.2V700.6H536.0V706.1H540.8V703.3H545.6V678.2H550.4V688.5H555.2V689.6H560.0V686.3H564.8V690.3H569.6V695.3H574.4V682.7H579.2V669.7H584.0V666.0H588.8V660.1H593.7V689.3H598.5V693.8H603.3V713.4H608.1V678.4H612.9V648.6H617.7V663.1H622.5V706.4H627.3V704.1H632.1V671.8H636.9V655.0H641.7V660.1H646.5V682.5H651.3V673.4H656.2V666.1H661.0V647.1H665.8V655.8H670.6V665.3H675.4V665.4H680.2V668.7H685.0V812.7Z" fill="#82bc58"/><path d="M60.0 812.7V710.5H64.8V698.4H69.6V695.5H74.4V726.0H79.2V728.2H84.0V713.1H88.8V693.9H93.7V687.5H98.5V693.6H103.3V708.0H108.1V691.6H112.9V688.5H117.7V674.5H122.5V665.5H127.3V692.8H132.1V709.3H136.9V691.7H141.7V684.8H146.5V695.7H151.3V702.3H156.2V699.4H161.0V711.5H165.8V693.5H170.6V699.9H175.4V678.2H180.2V676.9H185.0V690.1H189.8V730.9H194.6V718.5H199.4V684.6H204.2V715.0H209.0V707.2H213.8V734.7H218.7V672.1H223.5V690.9H228.3V687.3H233.1V669.4H237.9V721.7H242.7V699.2H247.5V736.5H252.3V702.3H257.1V692.5H261.9V688.6H266.7V673.5H271.5V679.8H276.3V719.8H281.2V716.7H286.0V686.6H290.8V668.7H295.6V704.7H300.4V692.4H305.2V694.6H310.0V707.1H314.8V717.5H319.6V679.3H324.4V683.8H329.2V677.7H334.0V682.0H338.8V689.6H343.7V715.5H348.5V700.0H353.3V699.7H358.1V688.2H362.9V688.9H367.7V681.8H372.5V676.1H377.3V659.7H382.1V689.3H386.9V695.3H391.7V704.5H396.5V709.8H401.3V721.8H406.2V712.0H411.0V676.8H415.8V668.6H420.6V656.4H425.4V664.6H430.2V664.8H435.0V662.7H439.8V660.1H444.6V669.9H449.4V686.4H454.2V718.8H459.0V679.8H463.8V690.7H468.7V663.8H473.5V661.8H478.3V683.7H483.1V674.3H487.9V692.6H492.7V687.7H497.5V691.9H502.3V706.4H507.1V711.6H511.9V686.3H516.7V678.6H521.5V678.2H526.3V698.2H531.2V708.4H536.0V709.8H540.8V714.5H545.6V692.2H550.4V694.8H555.2V698.7H560.0V692.1H564.8V697.6H569.6V702.3H574.4V697.2H579.2V676.1H584.0V670.8H588.8V665.4H593.7V693.1H598.5V703.0H603.3V720.5H608.1V687.4H612.9V657.3H617.7V673.3H622.5V713.2H627.3V711.2H632.1V676.0H636.9V665.3H641.7V668.0H646.5V692.8H651.3V681.2H656.2V670.5H661.0V657.2H665.8V673.8H670.6V676.8H675.4V680.6H680.2V679.7H685.0V812.7Z" fill="#66b870"/><path d="M60.0 812.7V713.2H64.8V707.8H69.6V703.3H74.4V730.2H79.2V733.5H84.0V725.0H88.8V701.5H93.7V697.4H98.5V701.3H103.3V718.0H108.1V695.9H112.9V693.8H117.7V681.7H122.5V670.4H127.3V705.9H132.1V713.7H136.9V695.9H141.7V689.6H146.5V698.3H151.3V714.6H156.2V713.2H161.0V722.8H165.8V702.2H170.6V714.9H175.4V693.5H180.2V684.9H185.0V699.4H189.8V734.6H194.6V721.2H199.4V694.3H204.2V723.1H209.0V716.0H213.8V744.5H218.7V679.0H223.5V695.8H228.3V692.6H233.1V675.6H237.9V724.6H242.7V706.1H247.5V740.7H252.3V712.2H257.1V711.4H261.9V705.3H266.7V683.3H271.5V683.0H276.3V725.6H281.2V723.9H286.0V695.3H290.8V680.1H295.6V715.6H300.4V706.9H305.2V710.4H310.0V711.7H314.8V725.4H319.6V688.6H324.4V692.8H329.2V682.5H334.0V688.7H338.8V699.8H343.7V725.6H348.5V708.5H353.3V709.0H358.1V698.6H362.9V696.5H367.7V685.7H372.5V688.2H377.3V671.3H382.1V695.4H386.9V703.6H391.7V708.6H396.5V722.5H401.3V726.5H406.2V722.4H411.0V687.7H415.8V675.1H420.6V665.1H425.4V674.6H430.2V668.0H435.0V675.9H439.8V665.6H444.6V675.3H449.4V704.6H454.2V733.9H459.0V687.4H463.8V697.8H468.7V670.6H473.5V669.5H478.3V698.4H483.1V683.5H487.9V699.8H492.7V696.6H497.5V700.9H502.3V718.0H507.1V723.8H511.9V697.9H516.7V687.6H521.5V684.3H526.3V705.0H531.2V717.9H536.0V713.7H540.8V721.7H545.6V696.1H550.4V701.4H555.2V704.0H560.0V711.4H564.8V706.3H569.6V711.4H574.4V703.5H579.2V693.4H584.0V681.8H588.8V684.2H593.7V700.1H598.5V706.0H603.3V730.0H608.1V696.0H612.9V663.4H617.7V688.0H622.5V721.5H627.3V723.2H632.1V687.5H636.9V675.0H641.7V678.8H646.5V702.2H651.3V687.4H656.2V676.0H661.0V668.0H665.8V689.7H670.6V688.9H675.4V694.5H680.2V690.6H685.0V812.7Z" fill="#4cb488"/><path d="M60.0 812.7V721.0H64.8V712.1H69.6V714.9H74.4V734.8H79.2V741.5H84.0V729.3H88.8V707.1H93.7V702.0H98.5V709.2H103.3V726.3H108.1V710.5H112.9V701.8H117.7V688.0H122.5V684.9H127.3V714.9H132.1V720.6H136.9V702.5H141.7V696.3H146.5V705.3H151.3V727.4H156.2V718.2H161.0V732.5H165.8V716.1H170.6V719.4H175.4V699.9H180.2V692.1H185.0V708.0H189.8V740.8H194.6V728.5H199.4V699.5H204.2V738.3H209.0V721.6H213.8V752.6H218.7V684.4H223.5V701.0H228.3V699.3H233.1V683.2H237.9V729.6H242.7V712.2H247.5V748.4H252.3V721.5H257.1V729.5H261.9V717.0H266.7V701.9H271.5V687.6H276.3V735.7H281.2V730.1H286.0V712.8H290.8V689.0H295.6V719.4H300.4V718.4H305.2V715.2H310.0V718.0H314.8V729.5H319.6V694.1H324.4V701.8H329.2V691.2H334.0V697.8H338.8V710.8H343.7V732.4H348.5V712.9H353.3V722.9H358.1V711.0H362.9V704.0H367.7V694.0H372.5V692.4H377.3V682.6H382.1V704.5H386.9V718.8H391.7V721.1H396.5V731.2H401.3V730.3H406.2V733.5H411.0V699.2H415.8V683.8H420.6V679.3H425.4V683.4H430.2V672.9H435.0V683.0H439.8V672.3H444.6V679.9H449.4V713.0H454.2V738.8H459.0V693.4H463.8V709.5H468.7V681.8H473.5V682.3H478.3V705.7H483.1V689.7H487.9V703.2H492.7V702.5H497.5V707.2H502.3V722.3H507.1V731.0H511.9V713.4H516.7V696.0H521.5V689.1H526.3V709.8H531.2V724.0H536.0V724.5H540.8V726.2H545.6V700.1H550.4V707.9H555.2V709.2H560.0V727.6H564.8V716.2H569.6V716.9H574.4V716.7H579.2V701.3H584.0V695.1H588.8V693.9H593.7V702.9H598.5V713.2H603.3V739.2H608.1V708.0H612.9V681.5H617.7V700.3H622.5V730.7H627.3V729.8H632.1V698.4H636.9V684.1H641.7V690.5H646.5V707.1H651.3V696.0H656.2V683.7H661.0V678.2H665.8V698.0H670.6V700.0H675.4V701.6H680.2V702.3H685.0V812.7Z" fill="#38b498"/><path d="M60.0 812.7V727.7H64.8V715.3H69.6V728.9H74.4V737.6H79.2V748.4H84.0V736.2H88.8V713.4H93.7V710.1H98.5V722.8H103.3V735.6H108.1V721.2H112.9V714.4H117.7V696.9H122.5V693.6H127.3V719.3H132.1V726.4H136.9V708.8H141.7V702.3H146.5V707.8H151.3V732.3H156.2V728.9H161.0V736.1H165.8V727.6H170.6V724.1H175.4V705.4H180.2V703.8H185.0V711.7H189.8V744.1H194.6V732.4H199.4V714.3H204.2V754.0H209.0V730.9H213.8V759.6H218.7V692.6H223.5V708.7H228.3V708.4H233.1V691.8H237.9V734.4H242.7V716.9H247.5V753.0H252.3V727.2H257.1V740.0H261.9V738.3H266.7V708.0H271.5V697.1H276.3V739.1H281.2V737.7H286.0V725.4H290.8V700.7H295.6V729.3H300.4V723.7H305.2V729.9H310.0V726.5H314.8V737.5H319.6V700.2H324.4V708.3H329.2V698.9H334.0V702.3H338.8V715.4H343.7V739.8H348.5V719.3H353.3V730.3H358.1V725.5H362.9V718.8H367.7V697.5H372.5V698.6H377.3V695.8H382.1V708.2H386.9V723.5H391.7V727.8H396.5V739.1H401.3V743.9H406.2V740.7H411.0V706.4H415.8V691.3H420.6V691.0H425.4V688.5H430.2V682.5H435.0V691.4H439.8V682.1H444.6V685.0H449.4V722.3H454.2V752.2H459.0V699.2H463.8V719.7H468.7V699.1H473.5V699.4H478.3V716.1H483.1V695.7H487.9V713.2H492.7V708.4H497.5V716.4H502.3V727.0H507.1V738.1H511.9V718.7H516.7V705.9H521.5V693.8H526.3V723.4H531.2V727.9H536.0V735.0H540.8V735.2H545.6V709.3H550.4V713.6H555.2V719.4H560.0V738.6H564.8V725.2H569.6V729.1H574.4V727.0H579.2V713.9H584.0V710.4H588.8V705.3H593.7V710.4H598.5V717.1H603.3V745.9H608.1V717.0H612.9V695.8H617.7V705.8H622.5V741.6H627.3V739.4H632.1V705.1H636.9V689.4H641.7V701.4H646.5V716.4H651.3V701.1H656.2V691.4H661.0V687.5H665.8V703.0H670.6V710.0H675.4V708.6H680.2V714.2H685.0V812.7Z" fill="#22b0b0"/><path d="M60.0 812.7V732.5H64.8V724.8H69.6V731.6H74.4V742.8H79.2V757.9H84.0V742.5H88.8V720.3H93.7V721.4H98.5V737.1H103.3V746.5H108.1V730.5H112.9V723.5H117.7V706.6H122.5V706.3H127.3V728.2H132.1V740.1H136.9V715.9H141.7V708.9H146.5V720.0H151.3V738.0H156.2V733.5H161.0V740.8H165.8V741.3H170.6V733.3H175.4V722.8H180.2V717.5H185.0V721.4H189.8V748.1H194.6V745.6H199.4V730.2H204.2V765.4H209.0V737.5H213.8V762.8H218.7V708.5H223.5V721.3H228.3V720.7H233.1V704.2H237.9V738.0H242.7V725.7H247.5V757.7H252.3V735.0H257.1V744.9H261.9V745.4H266.7V715.1H271.5V711.1H276.3V748.9H281.2V742.2H286.0V731.9H290.8V715.3H295.6V735.3H300.4V732.3H305.2V738.9H310.0V730.8H314.8V743.1H319.6V709.6H324.4V723.2H329.2V715.7H334.0V710.0H338.8V719.1H343.7V749.1H348.5V728.3H353.3V735.7H358.1V727.2H362.9V730.4H367.7V711.9H372.5V712.1H377.3V704.0H382.1V716.3H386.9V728.6H391.7V741.9H396.5V744.1H401.3V750.3H406.2V748.0H411.0V710.2H415.8V696.7H420.6V702.1H425.4V693.1H430.2V691.0H435.0V700.9H439.8V693.3H444.6V698.3H449.4V732.2H454.2V754.4H459.0V706.2H463.8V729.0H468.7V709.3H473.5V707.8H478.3V727.1H483.1V710.4H487.9V717.2H492.7V719.4H497.5V725.5H502.3V731.4H507.1V748.2H511.9V733.5H516.7V717.1H521.5V706.3H526.3V731.0H531.2V734.6H536.0V739.7H540.8V741.0H545.6V719.0H550.4V725.1H555.2V729.4H560.0V750.5H564.8V736.0H569.6V734.3H574.4V737.1H579.2V722.2H584.0V718.2H588.8V715.5H593.7V725.3H598.5V733.1H603.3V754.3H608.1V728.9H612.9V702.0H617.7V717.5H622.5V749.9H627.3V746.5H632.1V714.0H636.9V697.9H641.7V706.1H646.5V725.7H651.3V709.2H656.2V697.6H661.0V694.7H665.8V714.8H670.6V716.3H675.4V712.5H680.2V725.3H685.0V812.7Z" fill="#18b0d0"/><path d="M60.0 812.7V745.6H64.8V730.6H69.6V737.3H74.4V750.0H79.2V766.5H84.0V752.7H88.8V730.9H93.7V729.9H98.5V743.5H103.3V756.8H108.1V735.1H112.9V730.5H117.7V717.4H122.5V713.5H127.3V738.8H132.1V747.1H136.9V722.0H141.7V721.5H146.5V730.7H151.3V744.3H156.2V745.4H161.0V749.8H165.8V754.4H170.6V740.3H175.4V730.3H180.2V728.8H185.0V728.1H189.8V750.0H194.6V758.7H199.4V744.2H204.2V768.6H209.0V744.7H213.8V768.3H218.7V717.0H223.5V733.0H228.3V734.1H233.1V710.0H237.9V742.3H242.7V733.7H247.5V761.9H252.3V747.3H257.1V748.7H261.9V751.6H266.7V725.9H271.5V720.4H276.3V757.0H281.2V750.9H286.0V747.1H290.8V720.8H295.6V746.0H300.4V737.7H305.2V750.1H310.0V735.1H314.8V751.3H319.6V729.3H324.4V732.8H329.2V724.3H334.0V724.9H338.8V727.0H343.7V757.9H348.5V738.0H353.3V739.7H358.1V732.0H362.9V744.1H367.7V721.2H372.5V727.9H377.3V715.2H382.1V724.6H386.9V738.2H391.7V746.8H396.5V754.0H401.3V753.4H406.2V750.3H411.0V713.6H415.8V702.8H420.6V711.3H425.4V699.4H430.2V699.4H435.0V709.1H439.8V705.2H444.6V704.6H449.4V736.6H454.2V759.0H459.0V714.3H463.8V734.4H468.7V716.1H473.5V713.5H478.3V743.1H483.1V718.9H487.9V725.1H492.7V725.5H497.5V733.8H502.3V736.5H507.1V755.5H511.9V739.0H516.7V731.6H521.5V719.4H526.3V739.0H531.2V741.3H536.0V742.1H540.8V752.5H545.6V730.0H550.4V732.9H555.2V737.7H560.0V758.8H564.8V750.5H569.6V744.6H574.4V743.1H579.2V728.3H584.0V734.7H588.8V726.8H593.7V731.0H598.5V741.2H603.3V767.9H608.1V740.0H612.9V707.8H617.7V731.5H622.5V756.0H627.3V753.3H632.1V722.4H636.9V703.5H641.7V721.2H646.5V733.7H651.3V717.2H656.2V707.4H661.0V702.3H665.8V721.0H670.6V730.7H675.4V724.7H680.2V730.1H685.0V812.7Z" fill="#2d98da"/><path d="M60.0 812.7V756.8H64.8V740.9H69.6V744.2H74.4V758.4H79.2V776.4H84.0V761.5H88.8V746.9H93.7V740.8H98.5V756.4H103.3V766.7H108.1V741.2H112.9V743.4H117.7V725.5H122.5V726.9H127.3V750.6H132.1V758.5H136.9V727.5H141.7V736.9H146.5V750.0H151.3V757.9H156.2V753.6H161.0V755.4H165.8V758.6H170.6V747.6H175.4V744.1H180.2V736.7H185.0V734.5H189.8V754.7H194.6V772.8H199.4V751.0H204.2V772.1H209.0V755.8H213.8V774.5H218.7V735.6H223.5V743.4H228.3V741.4H233.1V721.0H237.9V746.6H242.7V742.7H247.5V765.9H252.3V754.3H257.1V753.9H261.9V756.3H266.7V738.8H271.5V736.3H276.3V765.5H281.2V756.4H286.0V756.1H290.8V732.1H295.6V754.7H300.4V742.4H305.2V756.9H310.0V742.7H314.8V756.4H319.6V736.8H324.4V744.6H329.2V731.4H334.0V732.4H338.8V740.7H343.7V765.1H348.5V744.0H353.3V743.2H358.1V738.3H362.9V749.3H367.7V734.4H372.5V736.8H377.3V730.2H382.1V739.3H386.9V749.0H391.7V756.4H396.5V763.0H401.3V762.9H406.2V754.9H411.0V716.7H415.8V712.6H420.6V715.6H425.4V704.0H430.2V705.8H435.0V719.0H439.8V714.3H444.6V716.7H449.4V746.3H454.2V765.3H459.0V722.9H463.8V740.3H468.7V730.6H473.5V719.0H478.3V760.5H483.1V728.7H487.9V730.4H492.7V735.1H497.5V743.7H502.3V747.4H507.1V762.4H511.9V754.2H516.7V741.7H521.5V730.8H526.3V746.4H531.2V749.3H536.0V746.1H540.8V759.6H545.6V735.3H550.4V738.0H555.2V747.4H560.0V764.1H564.8V765.7H569.6V751.6H574.4V749.9H579.2V735.4H584.0V747.5H588.8V744.3H593.7V736.7H598.5V751.4H603.3V781.3H608.1V748.6H612.9V717.1H617.7V736.6H622.5V764.9H627.3V758.9H632.1V741.5H636.9V713.5H641.7V737.6H646.5V742.7H651.3V722.2H656.2V718.8H661.0V711.1H665.8V731.4H670.6V739.5H675.4V735.7H680.2V734.8H685.0V812.7Z" fill="#3a84d2"/><path d="M60.0 812.7V772.2H64.8V758.2H69.6V752.1H74.4V767.6H79.2V780.5H84.0V768.7H88.8V757.4H93.7V749.5H98.5V761.9H103.3V776.3H108.1V754.2H112.9V756.0H117.7V733.6H122.5V737.3H127.3V757.9H132.1V764.2H136.9V736.5H141.7V751.9H146.5V760.1H151.3V765.9H156.2V764.7H161.0V761.6H165.8V764.6H170.6V759.2H175.4V751.8H180.2V749.4H185.0V746.4H189.8V757.8H194.6V778.7H199.4V759.0H204.2V778.6H209.0V764.2H213.8V783.8H218.7V759.7H223.5V765.7H228.3V755.0H233.1V726.9H237.9V752.1H242.7V750.3H247.5V772.1H252.3V766.6H257.1V756.2H261.9V760.3H266.7V753.7H271.5V750.7H276.3V773.9H281.2V759.9H286.0V771.7H290.8V742.5H295.6V759.9H300.4V752.9H305.2V761.8H310.0V752.4H314.8V765.8H319.6V748.7H324.4V754.9H329.2V749.8H334.0V746.3H338.8V753.3H343.7V771.1H348.5V751.7H353.3V753.3H358.1V742.6H362.9V754.0H367.7V745.2H372.5V745.2H377.3V745.4H382.1V755.7H386.9V757.6H391.7V761.1H396.5V775.5H401.3V770.0H406.2V759.3H411.0V723.9H415.8V718.4H420.6V720.3H425.4V718.4H430.2V718.2H435.0V732.3H439.8V728.0H444.6V729.2H449.4V756.2H454.2V770.5H459.0V734.3H463.8V751.3H468.7V745.5H473.5V736.2H478.3V766.5H483.1V741.4H487.9V737.0H492.7V746.5H497.5V748.7H502.3V757.9H507.1V771.2H511.9V762.3H516.7V754.7H521.5V742.4H526.3V751.7H531.2V754.9H536.0V747.9H540.8V768.4H545.6V746.4H550.4V741.6H555.2V759.0H560.0V778.7H564.8V776.8H569.6V757.5H574.4V756.0H579.2V743.5H584.0V762.6H588.8V754.4H593.7V746.6H598.5V763.4H603.3V787.6H608.1V758.7H612.9V725.3H617.7V742.3H622.5V768.2H627.3V770.3H632.1V752.7H636.9V728.8H641.7V747.4H646.5V750.1H651.3V733.2H656.2V732.1H661.0V719.4H665.8V739.4H670.6V750.6H675.4V741.4H680.2V746.0H685.0V812.7Z" fill="#3f74c4"/><path d="M60.0 812.7V782.6H64.8V768.4H69.6V757.0H74.4V770.9H79.2V784.5H84.0V774.0H88.8V764.6H93.7V754.7H98.5V778.3H103.3V786.3H108.1V765.7H112.9V762.2H117.7V749.1H122.5V751.8H127.3V764.5H132.1V770.4H136.9V739.5H141.7V763.1H146.5V775.9H151.3V783.8H156.2V772.0H161.0V767.9H165.8V772.3H170.6V771.5H175.4V770.8H180.2V760.6H185.0V753.2H189.8V761.5H194.6V787.0H199.4V765.9H204.2V784.1H209.0V775.1H213.8V787.4H218.7V774.1H223.5V779.1H228.3V769.2H233.1V737.3H237.9V757.7H242.7V755.5H247.5V779.8H252.3V775.2H257.1V762.9H261.9V767.9H266.7V764.0H271.5V765.9H276.3V779.3H281.2V765.2H286.0V776.9H290.8V754.5H295.6V768.6H300.4V760.6H305.2V766.1H310.0V756.8H314.8V771.9H319.6V758.0H324.4V766.8H329.2V762.2H334.0V756.8H338.8V763.3H343.7V775.9H348.5V761.9H353.3V761.1H358.1V747.3H362.9V766.5H367.7V761.5H372.5V760.5H377.3V762.8H382.1V764.4H386.9V765.1H391.7V774.4H396.5V781.9H401.3V777.1H406.2V764.2H411.0V727.4H415.8V728.1H420.6V732.0H425.4V728.1H430.2V736.6H435.0V739.8H439.8V733.7H444.6V735.2H449.4V765.2H454.2V775.5H459.0V748.0H463.8V759.5H468.7V756.9H473.5V754.3H478.3V777.3H483.1V750.0H487.9V740.4H492.7V758.0H497.5V756.7H502.3V763.5H507.1V777.2H511.9V772.4H516.7V765.3H521.5V755.5H526.3V756.2H531.2V764.1H536.0V751.6H540.8V772.2H545.6V760.4H550.4V753.3H555.2V767.3H560.0V788.7H564.8V785.0H569.6V770.7H574.4V763.1H579.2V749.0H584.0V774.2H588.8V770.2H593.7V761.5H598.5V768.2H603.3V795.7H608.1V767.3H612.9V741.6H617.7V748.8H622.5V773.1H627.3V774.6H632.1V767.8H636.9V744.0H641.7V752.7H646.5V762.4H651.3V748.7H656.2V742.9H661.0V727.5H665.8V750.0H670.6V757.2H675.4V745.7H680.2V750.1H685.0V812.7Z" fill="#4068bd"/><path d="M60.0 812.7V788.7H64.8V774.8H69.6V765.3H74.4V774.1H79.2V789.9H84.0V782.1H88.8V769.9H93.7V761.5H98.5V784.3H103.3V789.8H108.1V769.9H112.9V768.9H117.7V759.9H122.5V760.0H127.3V768.5H132.1V778.0H136.9V749.4H141.7V769.7H146.5V782.0H151.3V787.9H156.2V778.8H161.0V774.7H165.8V776.9H170.6V774.6H175.4V778.2H180.2V767.2H185.0V757.8H189.8V769.8H194.6V789.1H199.4V775.0H204.2V787.7H209.0V781.9H213.8V790.2H218.7V781.6H223.5V783.2H228.3V771.8H233.1V746.8H237.9V765.8H242.7V764.0H247.5V783.0H252.3V782.1H257.1V773.9H261.9V776.9H266.7V770.3H271.5V770.4H276.3V784.6H281.2V773.7H286.0V782.7H290.8V764.2H295.6V777.0H300.4V766.2H305.2V776.3H310.0V761.8H314.8V779.2H319.6V766.4H324.4V772.9H329.2V766.4H334.0V766.7H338.8V768.6H343.7V784.0H348.5V769.7H353.3V768.0H358.1V751.4H362.9V771.8H367.7V770.7H372.5V765.4H377.3V764.8H382.1V768.5H386.9V768.9H391.7V776.9H396.5V786.6H401.3V781.9H406.2V772.1H411.0V734.7H415.8V737.5H420.6V738.1H425.4V738.6H430.2V739.0H435.0V746.5H439.8V739.7H444.6V743.6H449.4V772.0H454.2V778.8H459.0V760.5H463.8V767.5H468.7V764.2H473.5V761.5H478.3V782.6H483.1V758.0H487.9V750.5H492.7V766.7H497.5V766.1H502.3V768.1H507.1V780.7H511.9V776.1H516.7V774.7H521.5V763.6H526.3V762.4H531.2V771.4H536.0V765.0H540.8V780.1H545.6V765.6H550.4V757.4H555.2V770.2H560.0V791.7H564.8V789.4H569.6V778.7H574.4V772.6H579.2V752.9H584.0V779.0H588.8V775.1H593.7V764.5H598.5V772.4H603.3V798.0H608.1V774.0H612.9V754.2H617.7V755.8H622.5V776.4H627.3V777.0H632.1V771.7H636.9V750.2H641.7V757.5H646.5V772.0H651.3V761.6H656.2V755.3H661.0V739.1H665.8V755.6H670.6V768.6H675.4V749.6H680.2V759.2H685.0V812.7Z" fill="#3c5ab5"/><path d="M60.0 812.7V792.6H64.8V781.8H69.6V775.2H74.4V780.1H79.2V792.5H84.0V788.0H88.8V778.7H93.7V768.5H98.5V786.7H103.3V793.8H108.1V775.9H112.9V778.5H117.7V771.5H122.5V768.3H127.3V777.8H132.1V783.4H136.9V755.5H141.7V773.8H146.5V785.8H151.3V790.5H156.2V782.8H161.0V779.6H165.8V781.1H170.6V779.8H175.4V781.2H180.2V773.1H185.0V770.2H189.8V775.8H194.6V794.0H199.4V778.3H204.2V790.1H209.0V786.4H213.8V792.2H218.7V784.1H223.5V788.9H228.3V777.7H233.1V751.5H237.9V775.1H242.7V774.2H247.5V786.7H252.3V787.2H257.1V781.8H261.9V782.1H266.7V780.3H271.5V777.4H276.3V790.2H281.2V777.9H286.0V786.2H290.8V774.1H295.6V782.0H300.4V774.4H305.2V786.8H310.0V771.7H314.8V784.1H319.6V775.0H324.4V775.2H329.2V772.5H334.0V770.7H338.8V774.8H343.7V786.8H348.5V777.4H353.3V773.5H358.1V763.0H362.9V775.5H367.7V777.2H372.5V775.2H377.3V770.9H382.1V773.5H386.9V772.0H391.7V783.2H396.5V790.4H401.3V786.2H406.2V780.9H411.0V739.8H415.8V741.4H420.6V740.9H425.4V747.3H430.2V747.7H435.0V756.4H439.8V752.1H444.6V746.7H449.4V778.1H454.2V783.0H459.0V771.6H463.8V778.5H468.7V773.1H473.5V765.4H478.3V785.6H483.1V765.9H487.9V758.3H492.7V774.4H497.5V771.2H502.3V777.8H507.1V785.0H511.9V784.1H516.7V783.7H521.5V771.4H526.3V771.0H531.2V775.0H536.0V771.9H540.8V786.0H545.6V772.6H550.4V768.1H555.2V780.2H560.0V795.4H564.8V793.4H569.6V784.0H574.4V781.6H579.2V757.4H584.0V785.5H588.8V779.8H593.7V769.1H598.5V781.0H603.3V799.4H608.1V781.5H612.9V759.0H617.7V767.9H622.5V779.6H627.3V780.0H632.1V778.0H636.9V755.7H641.7V766.5H646.5V777.7H651.3V767.3H656.2V759.6H661.0V754.2H665.8V766.3H670.6V779.6H675.4V756.5H680.2V765.3H685.0V812.7Z" fill="#3a50ae"/><path d="M60.0 812.7V796.8H64.8V786.3H69.6V782.0H74.4V787.4H79.2V798.3H84.0V792.3H88.8V787.7H93.7V775.1H98.5V789.0H103.3V796.3H108.1V779.6H112.9V785.9H117.7V778.7H122.5V772.7H127.3V784.1H132.1V788.5H136.9V762.1H141.7V782.9H146.5V788.6H151.3V796.0H156.2V790.0H161.0V783.9H165.8V787.3H170.6V784.7H175.4V786.1H180.2V779.2H185.0V776.6H189.8V781.8H194.6V797.7H199.4V785.6H204.2V796.2H209.0V788.9H213.8V796.8H218.7V788.5H223.5V792.3H228.3V781.2H233.1V765.1H237.9V781.8H242.7V778.0H247.5V791.3H252.3V790.8H257.1V784.8H261.9V787.8H266.7V785.3H271.5V784.7H276.3V795.9H281.2V782.6H286.0V792.7H290.8V781.9H295.6V785.1H300.4V778.6H305.2V792.7H310.0V780.8H314.8V788.6H319.6V780.2H324.4V783.4H329.2V777.3H334.0V778.3H338.8V784.1H343.7V790.7H348.5V780.9H353.3V781.2H358.1V767.2H362.9V781.7H367.7V784.2H372.5V781.2H377.3V774.3H382.1V776.2H386.9V775.3H391.7V791.3H396.5V795.2H401.3V790.1H406.2V788.4H411.0V748.2H415.8V747.5H420.6V748.3H425.4V755.7H430.2V756.2H435.0V764.7H439.8V756.8H444.6V752.5H449.4V785.6H454.2V790.8H459.0V778.0H463.8V781.9H468.7V781.5H473.5V772.2H478.3V788.2H483.1V773.0H487.9V768.5H492.7V780.5H497.5V779.5H502.3V784.6H507.1V788.0H511.9V792.2H516.7V789.2H521.5V778.9H526.3V779.1H531.2V782.9H536.0V783.3H540.8V792.0H545.6V779.9H550.4V773.3H555.2V787.7H560.0V800.3H564.8V798.3H569.6V787.5H574.4V789.6H579.2V761.4H584.0V791.2H588.8V783.4H593.7V779.6H598.5V790.6H603.3V802.5H608.1V784.8H612.9V766.3H617.7V778.2H622.5V786.4H627.3V782.6H632.1V783.4H636.9V760.7H641.7V775.9H646.5V782.2H651.3V777.9H656.2V767.2H661.0V763.6H665.8V772.2H670.6V783.6H675.4V770.9H680.2V774.7H685.0V812.7Z" fill="#3846a6"/><path d="M60.0 812.7V802.6H64.8V791.3H69.6V786.5H74.4V794.8H79.2V803.0H84.0V799.2H88.8V793.2H93.7V781.8H98.5V795.3H103.3V800.7H108.1V791.7H112.9V791.2H117.7V787.0H122.5V783.4H127.3V793.6H132.1V793.3H136.9V769.6H141.7V789.2H146.5V792.1H151.3V798.8H156.2V795.7H161.0V788.0H165.8V794.8H170.6V789.2H175.4V790.3H180.2V791.3H185.0V783.3H189.8V789.7H194.6V802.0H199.4V790.3H204.2V799.1H209.0V795.4H213.8V800.7H218.7V792.6H223.5V795.3H228.3V788.6H233.1V776.8H237.9V786.9H242.7V784.6H247.5V795.6H252.3V793.2H257.1V789.3H261.9V794.3H266.7V794.6H271.5V791.1H276.3V800.2H281.2V789.2H286.0V795.6H290.8V786.3H295.6V793.1H300.4V786.1H305.2V796.0H310.0V786.7H314.8V792.9H319.6V791.0H324.4V791.2H329.2V788.9H334.0V786.0H338.8V787.6H343.7V793.3H348.5V791.4H353.3V789.1H358.1V777.5H362.9V788.1H367.7V787.6H372.5V788.0H377.3V776.6H382.1V780.2H386.9V779.5H391.7V794.1H396.5V798.0H401.3V791.7H406.2V791.1H411.0V753.1H415.8V758.6H420.6V752.3H425.4V763.9H430.2V759.7H435.0V772.0H439.8V765.7H444.6V757.1H449.4V793.5H454.2V799.3H459.0V790.7H463.8V789.4H468.7V787.8H473.5V779.2H478.3V794.1H483.1V781.0H487.9V778.6H492.7V790.2H497.5V789.7H502.3V788.1H507.1V794.5H511.9V795.8H516.7V793.8H521.5V787.4H526.3V787.2H531.2V788.7H536.0V787.5H540.8V795.2H545.6V789.4H550.4V779.1H555.2V797.2H560.0V801.7H564.8V799.9H569.6V793.8H574.4V795.7H579.2V775.0H584.0V796.6H588.8V790.1H593.7V785.6H598.5V796.8H603.3V805.8H608.1V791.6H612.9V772.8H617.7V782.1H622.5V789.6H627.3V789.9H632.1V790.8H636.9V766.7H641.7V780.9H646.5V785.9H651.3V790.2H656.2V778.3H661.0V775.1H665.8V787.4H670.6V789.6H675.4V778.3H680.2V782.7H685.0V812.7Z" fill="#363ea0"/><path d="M60.0 812.7V805.3H64.8V797.9H69.6V796.8H74.4V799.7H79.2V806.7H84.0V802.8H88.8V796.7H93.7V788.4H98.5V800.3H103.3V804.3H108.1V797.6H112.9V800.3H117.7V790.5H122.5V789.6H127.3V800.9H132.1V799.8H136.9V775.2H141.7V795.4H146.5V798.5H151.3V804.0H156.2V799.5H161.0V794.5H165.8V797.6H170.6V791.8H175.4V797.5H180.2V798.7H185.0V793.5H189.8V796.7H194.6V805.8H199.4V797.0H204.2V801.0H209.0V800.3H213.8V805.8H218.7V794.7H223.5V797.9H228.3V796.5H233.1V790.4H237.9V796.3H242.7V796.4H247.5V800.6H252.3V800.5H257.1V794.2H261.9V801.3H266.7V798.3H271.5V794.0H276.3V801.9H281.2V794.0H286.0V802.4H290.8V794.3H295.6V799.0H300.4V794.7H305.2V799.8H310.0V796.0H314.8V799.5H319.6V797.5H324.4V795.5H329.2V793.7H334.0V792.1H338.8V796.0H343.7V798.1H348.5V794.8H353.3V794.4H358.1V789.4H362.9V793.8H367.7V795.0H372.5V793.2H377.3V782.3H382.1V785.1H386.9V783.7H391.7V802.2H396.5V802.8H401.3V797.7H406.2V793.3H411.0V758.8H415.8V769.1H420.6V759.7H425.4V768.3H430.2V765.0H435.0V781.8H439.8V771.2H444.6V766.7H449.4V800.4H454.2V802.1H459.0V796.3H463.8V797.3H468.7V791.5H473.5V788.4H478.3V797.0H483.1V791.6H487.9V791.7H492.7V799.8H497.5V797.6H502.3V796.6H507.1V798.2H511.9V802.8H516.7V803.2H521.5V797.0H526.3V796.5H531.2V792.7H536.0V793.2H540.8V802.5H545.6V796.9H550.4V788.2H555.2V800.2H560.0V804.4H564.8V804.0H569.6V798.2H574.4V800.0H579.2V785.5H584.0V799.1H588.8V797.9H593.7V791.0H598.5V804.4H603.3V808.1H608.1V801.0H612.9V783.7H617.7V793.3H622.5V798.2H627.3V796.9H632.1V797.6H636.9V780.7H641.7V787.1H646.5V795.6H651.3V798.4H656.2V787.3H661.0V787.5H665.8V795.8H670.6V797.0H675.4V788.4H680.2V788.3H685.0V812.7Z" fill="#33359a"/><path d="M60.0 812.7V807.4H64.8V804.1H69.6V803.1H74.4V805.9H79.2V809.1H84.0V807.4H88.8V805.2H93.7V794.0H98.5V802.5H103.3V807.9H108.1V804.7H112.9V804.5H117.7V796.4H122.5V793.8H127.3V806.7H132.1V805.2H136.9V787.6H141.7V798.7H146.5V807.0H151.3V806.0H156.2V805.9H161.0V801.0H165.8V803.0H170.6V801.8H175.4V800.7H180.2V805.1H185.0V797.6H189.8V801.6H194.6V807.3H199.4V804.6H204.2V806.4H209.0V802.7H213.8V808.8H218.7V802.3H223.5V803.4H228.3V802.7H233.1V802.5H237.9V803.3H242.7V802.9H247.5V803.1H252.3V807.9H257.1V802.9H261.9V804.2H266.7V805.1H271.5V799.3H276.3V808.4H281.2V801.9H286.0V807.1H290.8V800.1H295.6V804.8H300.4V797.5H305.2V805.9H310.0V802.3H314.8V803.8H319.6V802.6H324.4V801.9H329.2V802.4H334.0V795.3H338.8V799.2H343.7V800.6H348.5V801.8H353.3V800.2H358.1V801.7H362.9V802.6H367.7V806.0H372.5V801.9H377.3V785.2H382.1V789.9H386.9V785.5H391.7V805.8H396.5V805.1H401.3V803.3H406.2V801.0H411.0V768.3H415.8V774.9H420.6V767.3H425.4V773.3H430.2V772.8H435.0V787.9H439.8V781.5H444.6V774.0H449.4V807.4H454.2V808.6H459.0V800.3H463.8V802.9H468.7V802.1H473.5V797.1H478.3V800.4H483.1V803.1H487.9V802.4H492.7V807.5H497.5V801.7H502.3V803.3H507.1V803.7H511.9V807.3H516.7V806.4H521.5V802.1H526.3V806.0H531.2V795.5H536.0V803.5H540.8V806.2H545.6V805.5H550.4V799.3H555.2V803.6H560.0V806.6H564.8V808.4H569.6V802.3H574.4V807.9H579.2V795.0H584.0V802.7H588.8V803.8H593.7V797.7H598.5V807.2H603.3V809.3H608.1V804.6H612.9V791.7H617.7V799.8H622.5V801.7H627.3V802.5H632.1V805.6H636.9V793.5H641.7V798.9H646.5V804.8H651.3V805.1H656.2V798.1H661.0V803.0H665.8V805.4H670.6V800.3H675.4V799.0H680.2V796.2H685.0V812.7Z" fill="#2f2b8c"/><path d="M60.0 607.0V812.7M64.8 607.0V812.7M69.6 607.0V812.7M74.4 607.0V812.7M79.2 607.0V812.7M84.0 607.0V812.7M88.8 607.0V812.7M93.7 607.0V812.7M98.5 607.0V812.7M103.3 607.0V812.7M108.1 607.0V812.7M112.9 607.0V812.7M117.7 607.0V812.7M122.5 607.0V812.7M127.3 607.0V812.7M132.1 607.0V812.7M136.9 607.0V812.7M141.7 607.0V812.7M146.5 607.0V812.7M151.3 607.0V812.7M156.2 607.0V812.7M161.0 607.0V812.7M165.8 607.0V812.7M170.6 607.0V812.7M175.4 607.0V812.7M180.2 607.0V812.7M185.0 607.0V812.7M189.8 607.0V812.7M194.6 607.0V812.7M199.4 607.0V812.7M204.2 607.0V812.7M209.0 607.0V812.7M213.8 607.0V812.7M218.7 607.0V812.7M223.5 607.0V812.7M228.3 607.0V812.7M233.1 607.0V812.7M237.9 607.0V812.7M242.7 607.0V812.7M247.5 607.0V812.7M252.3 607.0V812.7M257.1 607.0V812.7M261.9 607.0V812.7M266.7 607.0V812.7M271.5 607.0V812.7M276.3 607.0V812.7M281.2 607.0V812.7M286.0 607.0V812.7M290.8 607.0V812.7M295.6 607.0V812.7M300.4 607.0V812.7M305.2 607.0V812.7M310.0 607.0V812.7M314.8 607.0V812.7M319.6 607.0V812.7M324.4 607.0V812.7M329.2 607.0V812.7M334.0 607.0V812.7M338.8 607.0V812.7M343.7 607.0V812.7M348.5 607.0V812.7M353.3 607.0V812.7M358.1 607.0V812.7M362.9 607.0V812.7M367.7 607.0V812.7M372.5 607.0V812.7M377.3 607.0V812.7M382.1 607.0V812.7M386.9 607.0V812.7M391.7 607.0V812.7M396.5 607.0V812.7M401.3 607.0V812.7M406.2 607.0V812.7M411.0 607.0V812.7M415.8 607.0V812.7M420.6 607.0V812.7M425.4 607.0V812.7M430.2 607.0V812.7M435.0 607.0V812.7M439.8 607.0V812.7M444.6 607.0V812.7M449.4 607.0V812.7M454.2 607.0V812.7M459.0 607.0V812.7M463.8 607.0V812.7M468.7 607.0V812.7M473.5 607.0V812.7M478.3 607.0V812.7M483.1 607.0V812.7M487.9 607.0V812.7M492.7 607.0V812.7M497.5 607.0V812.7M502.3 607.0V812.7M507.1 607.0V812.7M511.9 607.0V812.7M516.7 607.0V812.7M521.5 607.0V812.7M526.3 607.0V812.7M531.2 607.0V812.7M536.0 607.0V812.7M540.8 607.0V812.7M545.6 607.0V812.7M550.4 607.0V812.7M555.2 607.0V812.7M560.0 607.0V812.7M564.8 607.0V812.7M569.6 607.0V812.7M574.4 607.0V812.7M579.2 607.0V812.7M584.0 607.0V812.7M588.8 607.0V812.7M593.7 607.0V812.7M598.5 607.0V812.7M603.3 607.0V812.7M608.1 607.0V812.7M612.9 607.0V812.7M617.7 607.0V812.7M622.5 607.0V812.7M627.3 607.0V812.7M632.1 607.0V812.7M636.9 607.0V812.7M641.7 607.0V812.7M646.5 607.0V812.7M651.3 607.0V812.7M656.2 607.0V812.7M661.0 607.0V812.7M665.8 607.0V812.7M670.6 607.0V812.7M675.4 607.0V812.7M680.2 607.0V812.7M685.0 607.0V812.7M60.0 807.4h4.8M60.0 805.3h4.8M60.0 802.6h4.8M60.0 796.8h4.8M60.0 792.6h4.8M60.0 788.7h4.8M60.0 782.6h4.8M60.0 772.2h4.8M60.0 756.8h4.8M60.0 745.6h4.8M60.0 732.5h4.8M60.0 727.7h4.8M60.0 721.0h4.8M60.0 713.2h4.8M60.0 710.5h4.8M60.0 701.4h4.8M60.0 694.5h4.8M60.0 683.1h4.8M60.0 676.1h4.8M60.0 664.4h4.8M60.0 643.7h4.8M60.0 635.1h4.8M64.8 804.1h4.8M64.8 797.9h4.8M64.8 791.3h4.8M64.8 786.3h4.8M64.8 781.8h4.8M64.8 774.8h4.8M64.8 768.4h4.8M64.8 758.2h4.8M64.8 740.9h4.8M64.8 730.6h4.8M64.8 724.8h4.8M64.8 715.3h4.8M64.8 712.1h4.8M64.8 707.8h4.8M64.8 698.4h4.8M64.8 692.1h4.8M64.8 679.0h4.8M64.8 667.5h4.8M64.8 663.4h4.8M64.8 649.4h4.8M64.8 630.8h4.8M64.8 625.0h4.8M69.6 803.1h4.8M69.6 796.8h4.8M69.6 786.5h4.8M69.6 782.0h4.8M69.6 775.2h4.8M69.6 765.3h4.8M69.6 757.0h4.8M69.6 752.1h4.8M69.6 744.2h4.8M69.6 737.3h4.8M69.6 731.6h4.8M69.6 728.9h4.8M69.6 714.9h4.8M69.6 703.3h4.8M69.6 695.5h4.8M69.6 689.8h4.8M69.6 681.6h4.8M69.6 677.2h4.8M69.6 669.7h4.8M69.6 660.2h4.8M69.6 641.9h4.8M69.6 628.2h4.8M74.4 805.9h4.8M74.4 799.7h4.8M74.4 794.8h4.8M74.4 787.4h4.8M74.4 780.1h4.8M74.4 774.1h4.8M74.4 770.9h4.8M74.4 767.6h4.8M74.4 758.4h4.8M74.4 750.0h4.8M74.4 742.8h4.8M74.4 737.6h4.8M74.4 734.8h4.8M74.4 730.2h4.8M74.4 726.0h4.8M74.4 721.8h4.8M74.4 711.7h4.8M74.4 700.3h4.8M74.4 694.8h4.8M74.4 688.7h4.8M74.4 660.3h4.8M74.4 633.2h4.8M79.2 809.1h4.8M79.2 806.7h4.8M79.2 803.0h4.8M79.2 798.3h4.8M79.2 792.5h4.8M79.2 789.9h4.8M79.2 784.5h4.8M79.2 780.5h4.8M79.2 776.4h4.8M79.2 766.5h4.8M79.2 757.9h4.8M79.2 748.4h4.8M79.2 741.5h4.8M79.2 733.5h4.8M79.2 728.2h4.8M79.2 721.5h4.8M79.2 711.3h4.8M79.2 700.2h4.8M79.2 696.3h4.8M79.2 692.0h4.8M79.2 661.7h4.8M79.2 636.3h4.8M84.0 807.4h4.8M84.0 802.8h4.8M84.0 799.2h4.8M84.0 792.3h4.8M84.0 788.0h4.8M84.0 782.1h4.8M84.0 774.0h4.8M84.0 768.7h4.8M84.0 761.5h4.8M84.0 752.7h4.8M84.0 742.5h4.8M84.0 736.2h4.8M84.0 729.3h4.8M84.0 725.0h4.8M84.0 713.1h4.8M84.0 709.0h4.8M84.0 703.5h4.8M84.0 691.9h4.8M84.0 681.2h4.8M84.0 667.9h4.8M84.0 650.0h4.8M84.0 618.6h4.8M88.8 805.2h4.8M88.8 796.7h4.8M88.8 793.2h4.8M88.8 787.7h4.8M88.8 778.7h4.8M88.8 769.9h4.8M88.8 764.6h4.8M88.8 757.4h4.8M88.8 746.9h4.8M88.8 730.9h4.8M88.8 720.3h4.8M88.8 713.4h4.8M88.8 707.1h4.8M88.8 701.5h4.8M88.8 693.9h4.8M88.8 686.1h4.8M88.8 675.2h4.8M88.8 668.4h4.8M88.8 658.5h4.8M88.8 652.9h4.8M88.8 641.6h4.8M88.8 628.9h4.8M93.7 794.0h4.8M93.7 788.4h4.8M93.7 781.8h4.8M93.7 775.1h4.8M93.7 768.5h4.8M93.7 761.5h4.8M93.7 754.7h4.8M93.7 749.5h4.8M93.7 740.8h4.8M93.7 729.9h4.8M93.7 721.4h4.8M93.7 710.1h4.8M93.7 702.0h4.8M93.7 697.4h4.8M93.7 687.5h4.8M93.7 676.5h4.8M93.7 668.6h4.8M93.7 664.0h4.8M93.7 653.0h4.8M93.7 641.6h4.8M93.7 631.8h4.8M93.7 617.7h4.8M98.5 802.5h4.8M98.5 800.3h4.8M98.5 795.3h4.8M98.5 789.0h4.8M98.5 786.7h4.8M98.5 784.3h4.8M98.5 778.3h4.8M98.5 761.9h4.8M98.5 756.4h4.8M98.5 743.5h4.8M98.5 737.1h4.8M98.5 722.8h4.8M98.5 709.2h4.8M98.5 701.3h4.8M98.5 693.6h4.8M98.5 678.5h4.8M98.5 668.3h4.8M98.5 655.3h4.8M98.5 646.6h4.8M98.5 638.6h4.8M98.5 625.5h4.8M98.5 615.3h4.8M103.3 807.9h4.8M103.3 804.3h4.8M103.3 800.7h4.8M103.3 796.3h4.8M103.3 793.8h4.8M103.3 789.8h4.8M103.3 786.3h4.8M103.3 776.3h4.8M103.3 766.7h4.8M103.3 756.8h4.8M103.3 746.5h4.8M103.3 735.6h4.8M103.3 726.3h4.8M103.3 718.0h4.8M103.3 708.0h4.8M103.3 697.2h4.8M103.3 684.9h4.8M103.3 672.7h4.8M103.3 665.0h4.8M103.3 647.6h4.8M103.3 626.4h4.8M103.3 615.0h4.8M108.1 804.7h4.8M108.1 797.6h4.8M108.1 791.7h4.8M108.1 779.6h4.8M108.1 775.9h4.8M108.1 769.9h4.8M108.1 765.7h4.8M108.1 754.2h4.8M108.1 741.2h4.8M108.1 735.1h4.8M108.1 730.5h4.8M108.1 721.2h4.8M108.1 710.5h4.8M108.1 695.9h4.8M108.1 691.6h4.8M108.1 686.4h4.8M108.1 679.9h4.8M108.1 672.9h4.8M108.1 665.7h4.8M108.1 652.4h4.8M108.1 631.4h4.8M108.1 618.8h4.8M112.9 804.5h4.8M112.9 800.3h4.8M112.9 791.2h4.8M112.9 785.9h4.8M112.9 778.5h4.8M112.9 768.9h4.8M112.9 762.2h4.8M112.9 756.0h4.8M112.9 743.4h4.8M112.9 730.5h4.8M112.9 723.5h4.8M112.9 714.4h4.8M112.9 701.8h4.8M112.9 693.8h4.8M112.9 688.5h4.8M112.9 684.7h4.8M112.9 675.7h4.8M112.9 667.8h4.8M112.9 662.8h4.8M112.9 656.7h4.8M112.9 641.5h4.8M112.9 630.7h4.8M117.7 796.4h4.8M117.7 790.5h4.8M117.7 787.0h4.8M117.7 778.7h4.8M117.7 771.5h4.8M117.7 759.9h4.8M117.7 749.1h4.8M117.7 733.6h4.8M117.7 725.5h4.8M117.7 717.4h4.8M117.7 706.6h4.8M117.7 696.9h4.8M117.7 688.0h4.8M117.7 681.7h4.8M117.7 674.5h4.8M117.7 664.7h4.8M117.7 656.6h4.8M117.7 644.9h4.8M117.7 638.4h4.8M117.7 623.5h4.8M117.7 621.4h4.8M117.7 614.3h4.8M122.5 793.8h4.8M122.5 789.6h4.8M122.5 783.4h4.8M122.5 772.7h4.8M122.5 768.3h4.8M122.5 760.0h4.8M122.5 751.8h4.8M122.5 737.3h4.8M122.5 726.9h4.8M122.5 713.5h4.8M122.5 706.3h4.8M122.5 693.6h4.8M122.5 684.9h4.8M122.5 670.4h4.8M122.5 665.5h4.8M122.5 652.0h4.8M122.5 646.4h4.8M122.5 637.4h4.8M122.5 628.5h4.8M122.5 623.5h4.8M122.5 615.6h4.8M122.5 611.3h4.8M127.3 806.7h4.8M127.3 800.9h4.8M127.3 793.6h4.8M127.3 784.1h4.8M127.3 777.8h4.8M127.3 768.5h4.8M127.3 764.5h4.8M127.3 757.9h4.8M127.3 750.6h4.8M127.3 738.8h4.8M127.3 728.2h4.8M127.3 719.3h4.8M127.3 714.9h4.8M127.3 705.9h4.8M127.3 692.8h4.8M127.3 685.6h4.8M127.3 675.3h4.8M127.3 666.2h4.8M127.3 662.3h4.8M127.3 647.1h4.8M127.3 629.8h4.8M127.3 621.5h4.8M132.1 805.2h4.8M132.1 799.8h4.8M132.1 793.3h4.8M132.1 788.5h4.8M132.1 783.4h4.8M132.1 778.0h4.8M132.1 770.4h4.8M132.1 764.2h4.8M132.1 758.5h4.8M132.1 747.1h4.8M132.1 740.1h4.8M132.1 726.4h4.8M132.1 720.6h4.8M132.1 713.7h4.8M132.1 709.3h4.8M132.1 701.8h4.8M132.1 695.8h4.8M132.1 689.2h4.8M132.1 683.3h4.8M132.1 669.2h4.8M132.1 640.9h4.8M132.1 627.0h4.8M136.9 787.6h4.8M136.9 775.2h4.8M136.9 769.6h4.8M136.9 762.1h4.8M136.9 755.5h4.8M136.9 749.4h4.8M136.9 739.5h4.8M136.9 736.5h4.8M136.9 727.5h4.8M136.9 722.0h4.8M136.9 715.9h4.8M136.9 708.8h4.8M136.9 702.5h4.8M136.9 695.9h4.8M136.9 691.7h4.8M136.9 687.9h4.8M136.9 678.8h4.8M136.9 674.6h4.8M136.9 665.7h4.8M136.9 653.1h4.8M136.9 635.4h4.8M136.9 620.4h4.8M141.7 798.7h4.8M141.7 795.4h4.8M141.7 789.2h4.8M141.7 782.9h4.8M141.7 773.8h4.8M141.7 769.7h4.8M141.7 763.1h4.8M141.7 751.9h4.8M141.7 736.9h4.8M141.7 721.5h4.8M141.7 708.9h4.8M141.7 702.3h4.8M141.7 696.3h4.8M141.7 689.6h4.8M141.7 684.8h4.8M141.7 681.1h4.8M141.7 676.4h4.8M141.7 673.8h4.8M141.7 667.9h4.8M141.7 660.5h4.8M141.7 645.7h4.8M141.7 627.4h4.8M146.5 807.0h4.8M146.5 798.5h4.8M146.5 792.1h4.8M146.5 788.6h4.8M146.5 785.8h4.8M146.5 782.0h4.8M146.5 775.9h4.8M146.5 760.1h4.8M146.5 750.0h4.8M146.5 730.7h4.8M146.5 720.0h4.8M146.5 707.8h4.8M146.5 705.3h4.8M146.5 698.3h4.8M146.5 695.7h4.8M146.5 689.0h4.8M146.5 678.7h4.8M146.5 668.2h4.8M146.5 657.7h4.8M146.5 650.7h4.8M146.5 636.1h4.8M146.5 620.5h4.8M151.3 806.0h4.8M151.3 804.0h4.8M151.3 798.8h4.8M151.3 796.0h4.8M151.3 790.5h4.8M151.3 787.9h4.8M151.3 783.8h4.8M151.3 765.9h4.8M151.3 757.9h4.8M151.3 744.3h4.8M151.3 738.0h4.8M151.3 732.3h4.8M151.3 727.4h4.8M151.3 714.6h4.8M151.3 702.3h4.8M151.3 692.7h4.8M151.3 686.5h4.8M151.3 676.9h4.8M151.3 666.5h4.8M151.3 659.6h4.8M151.3 639.4h4.8M151.3 614.6h4.8M156.2 805.9h4.8M156.2 799.5h4.8M156.2 795.7h4.8M156.2 790.0h4.8M156.2 782.8h4.8M156.2 778.8h4.8M156.2 772.0h4.8M156.2 764.7h4.8M156.2 753.6h4.8M156.2 745.4h4.8M156.2 733.5h4.8M156.2 728.9h4.8M156.2 718.2h4.8M156.2 713.2h4.8M156.2 699.4h4.8M156.2 689.5h4.8M156.2 683.1h4.8M156.2 677.2h4.8M156.2 669.6h4.8M156.2 661.4h4.8M156.2 641.6h4.8M156.2 621.9h4.8M161.0 801.0h4.8M161.0 794.5h4.8M161.0 788.0h4.8M161.0 783.9h4.8M161.0 779.6h4.8M161.0 774.7h4.8M161.0 767.9h4.8M161.0 761.6h4.8M161.0 755.4h4.8M161.0 749.8h4.8M161.0 740.8h4.8M161.0 736.1h4.8M161.0 732.5h4.8M161.0 722.8h4.8M161.0 711.5h4.8M161.0 701.8h4.8M161.0 688.2h4.8M161.0 672.4h4.8M161.0 663.0h4.8M161.0 649.5h4.8M161.0 639.1h4.8M161.0 627.2h4.8M165.8 803.0h4.8M165.8 797.6h4.8M165.8 794.8h4.8M165.8 787.3h4.8M165.8 781.1h4.8M165.8 776.9h4.8M165.8 772.3h4.8M165.8 764.6h4.8M165.8 758.6h4.8M165.8 754.4h4.8M165.8 741.3h4.8M165.8 727.6h4.8M165.8 716.1h4.8M165.8 702.2h4.8M165.8 693.5h4.8M165.8 680.3h4.8M165.8 673.3h4.8M165.8 659.6h4.8M165.8 648.2h4.8M165.8 632.5h4.8M165.8 627.1h4.8M165.8 612.8h4.8M170.6 801.8h4.8M170.6 791.8h4.8M170.6 789.2h4.8M170.6 784.7h4.8M170.6 779.8h4.8M170.6 774.6h4.8M170.6 771.5h4.8M170.6 759.2h4.8M170.6 747.6h4.8M170.6 740.3h4.8M170.6 733.3h4.8M170.6 724.1h4.8M170.6 719.4h4.8M170.6 714.9h4.8M170.6 699.9h4.8M170.6 692.0h4.8M170.6 678.5h4.8M170.6 657.9h4.8M170.6 636.6h4.8M170.6 623.5h4.8M170.6 619.8h4.8M170.6 615.5h4.8M175.4 800.7h4.8M175.4 797.5h4.8M175.4 790.3h4.8M175.4 786.1h4.8M175.4 781.2h4.8M175.4 778.2h4.8M175.4 770.8h4.8M175.4 751.8h4.8M175.4 744.1h4.8M175.4 730.3h4.8M175.4 722.8h4.8M175.4 705.4h4.8M175.4 699.9h4.8M175.4 693.5h4.8M175.4 678.2h4.8M175.4 668.8h4.8M175.4 654.6h4.8M175.4 640.8h4.8M175.4 628.8h4.8M175.4 623.5h4.8M175.4 618.0h4.8M175.4 611.2h4.8M180.2 805.1h4.8M180.2 798.7h4.8M180.2 791.3h4.8M180.2 779.2h4.8M180.2 773.1h4.8M180.2 767.2h4.8M180.2 760.6h4.8M180.2 749.4h4.8M180.2 736.7h4.8M180.2 728.8h4.8M180.2 717.5h4.8M180.2 703.8h4.8M180.2 692.1h4.8M180.2 684.9h4.8M180.2 676.9h4.8M180.2 660.9h4.8M180.2 648.4h4.8M180.2 640.8h4.8M180.2 628.7h4.8M180.2 623.5h4.8M180.2 616.1h4.8M180.2 611.8h4.8M185.0 797.6h4.8M185.0 793.5h4.8M185.0 783.3h4.8M185.0 776.6h4.8M185.0 770.2h4.8M185.0 757.8h4.8M185.0 753.2h4.8M185.0 746.4h4.8M185.0 734.5h4.8M185.0 728.1h4.8M185.0 721.4h4.8M185.0 711.7h4.8M185.0 708.0h4.8M185.0 699.4h4.8M185.0 690.1h4.8M185.0 687.5h4.8M185.0 679.6h4.8M185.0 668.9h4.8M185.0 661.7h4.8M185.0 649.2h4.8M185.0 633.5h4.8M185.0 623.8h4.8M189.8 801.6h4.8M189.8 796.7h4.8M189.8 789.7h4.8M189.8 781.8h4.8M189.8 775.8h4.8M189.8 769.8h4.8M189.8 761.5h4.8M189.8 757.8h4.8M189.8 754.7h4.8M189.8 750.0h4.8M189.8 748.1h4.8M189.8 744.1h4.8M189.8 740.8h4.8M189.8 734.6h4.8M189.8 730.9h4.8M189.8 725.8h4.8M189.8 711.3h4.8M189.8 696.7h4.8M189.8 681.9h4.8M189.8 674.5h4.8M189.8 650.3h4.8M189.8 633.9h4.8M194.6 807.3h4.8M194.6 805.8h4.8M194.6 802.0h4.8M194.6 797.7h4.8M194.6 794.0h4.8M194.6 789.1h4.8M194.6 787.0h4.8M194.6 778.7h4.8M194.6 772.8h4.8M194.6 758.7h4.8M194.6 745.6h4.8M194.6 732.4h4.8M194.6 728.5h4.8M194.6 721.2h4.8M194.6 718.5h4.8M194.6 710.5h4.8M194.6 699.8h4.8M194.6 689.4h4.8M194.6 676.1h4.8M194.6 669.4h4.8M194.6 649.4h4.8M194.6 622.6h4.8M199.4 804.6h4.8M199.4 797.0h4.8M199.4 790.3h4.8M199.4 785.6h4.8M199.4 778.3h4.8M199.4 775.0h4.8M199.4 765.9h4.8M199.4 759.0h4.8M199.4 751.0h4.8M199.4 744.2h4.8M199.4 730.2h4.8M199.4 714.3h4.8M199.4 699.5h4.8M199.4 694.3h4.8M199.4 684.6h4.8M199.4 675.4h4.8M199.4 667.8h4.8M199.4 649.8h4.8M199.4 644.6h4.8M199.4 633.2h4.8M199.4 623.3h4.8M199.4 611.3h4.8M204.2 806.4h4.8M204.2 801.0h4.8M204.2 799.1h4.8M204.2 796.2h4.8M204.2 790.1h4.8M204.2 787.7h4.8M204.2 784.1h4.8M204.2 778.6h4.8M204.2 772.1h4.8M204.2 768.6h4.8M204.2 765.4h4.8M204.2 754.0h4.8M204.2 738.3h4.8M204.2 723.1h4.8M204.2 715.0h4.8M204.2 706.6h4.8M204.2 695.8h4.8M204.2 688.8h4.8M204.2 679.1h4.8M204.2 663.6h4.8M204.2 648.9h4.8M204.2 634.7h4.8M209.0 802.7h4.8M209.0 800.3h4.8M209.0 795.4h4.8M209.0 788.9h4.8M209.0 786.4h4.8M209.0 781.9h4.8M209.0 775.1h4.8M209.0 764.2h4.8M209.0 755.8h4.8M209.0 744.7h4.8M209.0 737.5h4.8M209.0 730.9h4.8M209.0 721.6h4.8M209.0 716.0h4.8M209.0 707.2h4.8M209.0 702.8h4.8M209.0 694.7h4.8M209.0 688.4h4.8M209.0 677.8h4.8M209.0 671.9h4.8M209.0 653.4h4.8M209.0 634.6h4.8M213.8 808.8h4.8M213.8 805.8h4.8M213.8 800.7h4.8M213.8 796.8h4.8M213.8 792.2h4.8M213.8 790.2h4.8M213.8 787.4h4.8M213.8 783.8h4.8M213.8 774.5h4.8M213.8 768.3h4.8M213.8 762.8h4.8M213.8 759.6h4.8M213.8 752.6h4.8M213.8 744.5h4.8M213.8 734.7h4.8M213.8 717.6h4.8M213.8 704.2h4.8M213.8 696.5h4.8M213.8 687.6h4.8M213.8 681.3h4.8M213.8 650.5h4.8M213.8 633.7h4.8M218.7 802.3h4.8M218.7 794.7h4.8M218.7 792.6h4.8M218.7 788.5h4.8M218.7 784.1h4.8M218.7 781.6h4.8M218.7 774.1h4.8M218.7 759.7h4.8M218.7 735.6h4.8M218.7 717.0h4.8M218.7 708.5h4.8M218.7 692.6h4.8M218.7 684.4h4.8M218.7 679.0h4.8M218.7 672.1h4.8M218.7 658.8h4.8M218.7 654.3h4.8M218.7 646.4h4.8M218.7 637.1h4.8M218.7 626.3h4.8M218.7 622.0h4.8M218.7 612.5h4.8M223.5 803.4h4.8M223.5 797.9h4.8M223.5 795.3h4.8M223.5 792.3h4.8M223.5 788.9h4.8M223.5 783.2h4.8M223.5 779.1h4.8M223.5 765.7h4.8M223.5 743.4h4.8M223.5 733.0h4.8M223.5 721.3h4.8M223.5 708.7h4.8M223.5 701.0h4.8M223.5 695.8h4.8M223.5 690.9h4.8M223.5 677.5h4.8M223.5 671.8h4.8M223.5 664.7h4.8M223.5 656.5h4.8M223.5 652.6h4.8M223.5 636.3h4.8M223.5 615.9h4.8M228.3 802.7h4.8M228.3 796.5h4.8M228.3 788.6h4.8M228.3 781.2h4.8M228.3 777.7h4.8M228.3 771.8h4.8M228.3 769.2h4.8M228.3 755.0h4.8M228.3 741.4h4.8M228.3 734.1h4.8M228.3 720.7h4.8M228.3 708.4h4.8M228.3 699.3h4.8M228.3 692.6h4.8M228.3 687.3h4.8M228.3 679.3h4.8M228.3 667.8h4.8M228.3 660.7h4.8M228.3 646.5h4.8M228.3 638.4h4.8M228.3 631.2h4.8M228.3 619.8h4.8M233.1 802.5h4.8M233.1 790.4h4.8M233.1 776.8h4.8M233.1 765.1h4.8M233.1 751.5h4.8M233.1 746.8h4.8M233.1 737.3h4.8M233.1 726.9h4.8M233.1 721.0h4.8M233.1 710.0h4.8M233.1 704.2h4.8M233.1 691.8h4.8M233.1 683.2h4.8M233.1 675.6h4.8M233.1 669.4h4.8M233.1 663.9h4.8M233.1 659.3h4.8M233.1 650.6h4.8M233.1 635.0h4.8M233.1 623.5h4.8M233.1 618.8h4.8M233.1 611.0h4.8M237.9 803.3h4.8M237.9 796.3h4.8M237.9 786.9h4.8M237.9 781.8h4.8M237.9 775.1h4.8M237.9 765.8h4.8M237.9 757.7h4.8M237.9 752.1h4.8M237.9 746.6h4.8M237.9 742.3h4.8M237.9 738.0h4.8M237.9 734.4h4.8M237.9 729.6h4.8M237.9 724.6h4.8M237.9 721.7h4.8M237.9 716.5h4.8M237.9 710.2h4.8M237.9 702.1h4.8M237.9 687.8h4.8M237.9 676.8h4.8M237.9 657.3h4.8M237.9 620.6h4.8M242.7 802.9h4.8M242.7 796.4h4.8M242.7 784.6h4.8M242.7 778.0h4.8M242.7 774.2h4.8M242.7 764.0h4.8M242.7 755.5h4.8M242.7 750.3h4.8M242.7 742.7h4.8M242.7 733.7h4.8M242.7 725.7h4.8M242.7 716.9h4.8M242.7 712.2h4.8M242.7 706.1h4.8M242.7 699.2h4.8M242.7 695.7h4.8M242.7 690.0h4.8M242.7 679.8h4.8M242.7 674.5h4.8M242.7 665.7h4.8M242.7 647.6h4.8M242.7 629.8h4.8M247.5 803.1h4.8M247.5 800.6h4.8M247.5 795.6h4.8M247.5 791.3h4.8M247.5 786.7h4.8M247.5 783.0h4.8M247.5 779.8h4.8M247.5 772.1h4.8M247.5 765.9h4.8M247.5 761.9h4.8M247.5 757.7h4.8M247.5 753.0h4.8M247.5 748.4h4.8M247.5 740.7h4.8M247.5 736.5h4.8M247.5 732.9h4.8M247.5 729.8h4.8M247.5 726.5h4.8M247.5 718.7h4.8M247.5 715.3h4.8M247.5 683.9h4.8M247.5 639.6h4.8M252.3 807.9h4.8M252.3 800.5h4.8M252.3 793.2h4.8M252.3 790.8h4.8M252.3 787.2h4.8M252.3 782.1h4.8M252.3 775.2h4.8M252.3 766.6h4.8M252.3 754.3h4.8M252.3 747.3h4.8M252.3 735.0h4.8M252.3 727.2h4.8M252.3 721.5h4.8M252.3 712.2h4.8M252.3 702.3h4.8M252.3 692.4h4.8M252.3 683.7h4.8M252.3 676.4h4.8M252.3 666.3h4.8M252.3 657.0h4.8M252.3 635.9h4.8M252.3 615.3h4.8M257.1 802.9h4.8M257.1 794.2h4.8M257.1 789.3h4.8M257.1 784.8h4.8M257.1 781.8h4.8M257.1 773.9h4.8M257.1 762.9h4.8M257.1 756.2h4.8M257.1 753.9h4.8M257.1 748.7h4.8M257.1 744.9h4.8M257.1 740.0h4.8M257.1 729.5h4.8M257.1 711.4h4.8M257.1 692.5h4.8M257.1 687.0h4.8M257.1 672.0h4.8M257.1 665.6h4.8M257.1 660.2h4.8M257.1 651.3h4.8M257.1 634.7h4.8M257.1 614.1h4.8M261.9 804.2h4.8M261.9 801.3h4.8M261.9 794.3h4.8M261.9 787.8h4.8M261.9 782.1h4.8M261.9 776.9h4.8M261.9 767.9h4.8M261.9 760.3h4.8M261.9 756.3h4.8M261.9 751.6h4.8M261.9 745.4h4.8M261.9 738.3h4.8M261.9 717.0h4.8M261.9 705.3h4.8M261.9 688.6h4.8M261.9 674.4h4.8M261.9 664.6h4.8M261.9 660.5h4.8M261.9 656.1h4.8M261.9 652.3h4.8M261.9 630.8h4.8M261.9 620.9h4.8M266.7 805.1h4.8M266.7 798.3h4.8M266.7 794.6h4.8M266.7 785.3h4.8M266.7 780.3h4.8M266.7 770.3h4.8M266.7 764.0h4.8M266.7 753.7h4.8M266.7 738.8h4.8M266.7 725.9h4.8M266.7 715.1h4.8M266.7 708.0h4.8M266.7 701.9h4.8M266.7 683.3h4.8M266.7 673.5h4.8M266.7 667.2h4.8M266.7 662.1h4.8M266.7 653.9h4.8M266.7 640.6h4.8M266.7 635.2h4.8M266.7 623.0h4.8M266.7 614.6h4.8M271.5 799.3h4.8M271.5 794.0h4.8M271.5 791.1h4.8M271.5 784.7h4.8M271.5 777.4h4.8M271.5 770.4h4.8M271.5 765.9h4.8M271.5 750.7h4.8M271.5 736.3h4.8M271.5 720.4h4.8M271.5 711.1h4.8M271.5 697.1h4.8M271.5 687.6h4.8M271.5 683.0h4.8M271.5 679.8h4.8M271.5 675.3h4.8M271.5 671.4h4.8M271.5 668.0h4.8M271.5 662.1h4.8M271.5 652.9h4.8M271.5 636.8h4.8M271.5 615.6h4.8M276.3 808.4h4.8M276.3 801.9h4.8M276.3 800.2h4.8M276.3 795.9h4.8M276.3 790.2h4.8M276.3 784.6h4.8M276.3 779.3h4.8M276.3 773.9h4.8M276.3 765.5h4.8M276.3 757.0h4.8M276.3 748.9h4.8M276.3 739.1h4.8M276.3 735.7h4.8M276.3 725.6h4.8M276.3 719.8h4.8M276.3 711.6h4.8M276.3 705.5h4.8M276.3 692.5h4.8M276.3 688.8h4.8M276.3 679.2h4.8M276.3 658.8h4.8M276.3 632.6h4.8M281.2 801.9h4.8M281.2 794.0h4.8M281.2 789.2h4.8M281.2 782.6h4.8M281.2 777.9h4.8M281.2 773.7h4.8M281.2 765.2h4.8M281.2 759.9h4.8M281.2 756.4h4.8M281.2 750.9h4.8M281.2 742.2h4.8M281.2 737.7h4.8M281.2 730.1h4.8M281.2 723.9h4.8M281.2 716.7h4.8M281.2 713.1h4.8M281.2 706.3h4.8M281.2 698.8h4.8M281.2 688.2h4.8M281.2 676.2h4.8M281.2 663.8h4.8M281.2 633.6h4.8M286.0 807.1h4.8M286.0 802.4h4.8M286.0 795.6h4.8M286.0 792.7h4.8M286.0 786.2h4.8M286.0 782.7h4.8M286.0 776.9h4.8M286.0 771.7h4.8M286.0 756.1h4.8M286.0 747.1h4.8M286.0 731.9h4.8M286.0 725.4h4.8M286.0 712.8h4.8M286.0 695.3h4.8M286.0 686.6h4.8M286.0 676.4h4.8M286.0 664.7h4.8M286.0 649.9h4.8M286.0 642.3h4.8M286.0 636.3h4.8M286.0 628.2h4.8M286.0 612.7h4.8M290.8 800.1h4.8M290.8 794.3h4.8M290.8 786.3h4.8M290.8 781.9h4.8M290.8 774.1h4.8M290.8 764.2h4.8M290.8 754.5h4.8M290.8 742.5h4.8M290.8 732.1h4.8M290.8 720.8h4.8M290.8 715.3h4.8M290.8 700.7h4.8M290.8 689.0h4.8M290.8 680.1h4.8M290.8 668.7h4.8M290.8 660.1h4.8M290.8 651.7h4.8M290.8 645.1h4.8M290.8 634.1h4.8M290.8 623.5h4.8M290.8 617.0h4.8M290.8 614.3h4.8M295.6 804.8h4.8M295.6 799.0h4.8M295.6 793.1h4.8M295.6 785.1h4.8M295.6 782.0h4.8M295.6 777.0h4.8M295.6 768.6h4.8M295.6 759.9h4.8M295.6 754.7h4.8M295.6 746.0h4.8M295.6 735.3h4.8M295.6 729.3h4.8M295.6 719.4h4.8M295.6 715.6h4.8M295.6 704.7h4.8M295.6 697.9h4.8M295.6 692.3h4.8M295.6 680.7h4.8M295.6 671.1h4.8M295.6 658.6h4.8M295.6 639.5h4.8M295.6 620.9h4.8M300.4 797.5h4.8M300.4 794.7h4.8M300.4 786.1h4.8M300.4 778.6h4.8M300.4 774.4h4.8M300.4 766.2h4.8M300.4 760.6h4.8M300.4 752.9h4.8M300.4 742.4h4.8M300.4 737.7h4.8M300.4 732.3h4.8M300.4 723.7h4.8M300.4 718.4h4.8M300.4 706.9h4.8M300.4 692.4h4.8M300.4 681.7h4.8M300.4 677.7h4.8M300.4 669.8h4.8M300.4 661.5h4.8M300.4 653.8h4.8M300.4 641.1h4.8M300.4 623.3h4.8M305.2 805.9h4.8M305.2 799.8h4.8M305.2 796.0h4.8M305.2 792.7h4.8M305.2 786.8h4.8M305.2 776.3h4.8M305.2 766.1h4.8M305.2 761.8h4.8M305.2 756.9h4.8M305.2 750.1h4.8M305.2 738.9h4.8M305.2 729.9h4.8M305.2 715.2h4.8M305.2 710.4h4.8M305.2 694.6h4.8M305.2 688.2h4.8M305.2 680.3h4.8M305.2 670.3h4.8M305.2 661.6h4.8M305.2 657.2h4.8M305.2 633.4h4.8M305.2 615.3h4.8M310.0 802.3h4.8M310.0 796.0h4.8M310.0 786.7h4.8M310.0 780.8h4.8M310.0 771.7h4.8M310.0 761.8h4.8M310.0 756.8h4.8M310.0 752.4h4.8M310.0 742.7h4.8M310.0 735.1h4.8M310.0 730.8h4.8M310.0 726.5h4.8M310.0 718.0h4.8M310.0 711.7h4.8M310.0 707.1h4.8M310.0 703.6h4.8M310.0 693.6h4.8M310.0 686.0h4.8M310.0 678.0h4.8M310.0 672.8h4.8M310.0 650.1h4.8M310.0 623.9h4.8M314.8 803.8h4.8M314.8 799.5h4.8M314.8 792.9h4.8M314.8 788.6h4.8M314.8 784.1h4.8M314.8 779.2h4.8M314.8 771.9h4.8M314.8 765.8h4.8M314.8 756.4h4.8M314.8 751.3h4.8M314.8 743.1h4.8M314.8 737.5h4.8M314.8 729.5h4.8M314.8 725.4h4.8M314.8 717.5h4.8M314.8 710.8h4.8M314.8 704.0h4.8M314.8 693.1h4.8M314.8 686.9h4.8M314.8 677.6h4.8M314.8 646.4h4.8M314.8 620.3h4.8M319.6 802.6h4.8M319.6 797.5h4.8M319.6 791.0h4.8M319.6 780.2h4.8M319.6 775.0h4.8M319.6 766.4h4.8M319.6 758.0h4.8M319.6 748.7h4.8M319.6 736.8h4.8M319.6 729.3h4.8M319.6 709.6h4.8M319.6 700.2h4.8M319.6 694.1h4.8M319.6 688.6h4.8M319.6 679.3h4.8M319.6 669.7h4.8M319.6 659.5h4.8M319.6 649.9h4.8M319.6 645.1h4.8M319.6 631.5h4.8M319.6 625.9h4.8M319.6 616.5h4.8M324.4 801.9h4.8M324.4 795.5h4.8M324.4 791.2h4.8M324.4 783.4h4.8M324.4 775.2h4.8M324.4 772.9h4.8M324.4 766.8h4.8M324.4 754.9h4.8M324.4 744.6h4.8M324.4 732.8h4.8M324.4 723.2h4.8M324.4 708.3h4.8M324.4 701.8h4.8M324.4 692.8h4.8M324.4 683.8h4.8M324.4 674.6h4.8M324.4 666.6h4.8M324.4 653.9h4.8M324.4 643.2h4.8M324.4 631.8h4.8M324.4 618.8h4.8M324.4 614.8h4.8M329.2 802.4h4.8M329.2 793.7h4.8M329.2 788.9h4.8M329.2 777.3h4.8M329.2 772.5h4.8M329.2 766.4h4.8M329.2 762.2h4.8M329.2 749.8h4.8M329.2 731.4h4.8M329.2 724.3h4.8M329.2 715.7h4.8M329.2 698.9h4.8M329.2 691.2h4.8M329.2 682.5h4.8M329.2 677.7h4.8M329.2 668.5h4.8M329.2 654.5h4.8M329.2 639.9h4.8M329.2 634.0h4.8M329.2 623.5h4.8M329.2 621.4h4.8M329.2 614.5h4.8M334.0 795.3h4.8M334.0 792.1h4.8M334.0 786.0h4.8M334.0 778.3h4.8M334.0 770.7h4.8M334.0 766.7h4.8M334.0 756.8h4.8M334.0 746.3h4.8M334.0 732.4h4.8M334.0 724.9h4.8M334.0 710.0h4.8M334.0 702.3h4.8M334.0 697.8h4.8M334.0 688.7h4.8M334.0 682.0h4.8M334.0 670.1h4.8M334.0 665.1h4.8M334.0 658.6h4.8M334.0 655.2h4.8M334.0 650.5h4.8M334.0 636.7h4.8M334.0 621.0h4.8M338.8 799.2h4.8M338.8 796.0h4.8M338.8 787.6h4.8M338.8 784.1h4.8M338.8 774.8h4.8M338.8 768.6h4.8M338.8 763.3h4.8M338.8 753.3h4.8M338.8 740.7h4.8M338.8 727.0h4.8M338.8 719.1h4.8M338.8 715.4h4.8M338.8 710.8h4.8M338.8 699.8h4.8M338.8 689.6h4.8M338.8 679.6h4.8M338.8 671.6h4.8M338.8 657.5h4.8M338.8 651.6h4.8M338.8 644.4h4.8M338.8 636.2h4.8M338.8 619.5h4.8M343.7 800.6h4.8M343.7 798.1h4.8M343.7 793.3h4.8M343.7 790.7h4.8M343.7 786.8h4.8M343.7 784.0h4.8M343.7 775.9h4.8M343.7 771.1h4.8M343.7 765.1h4.8M343.7 757.9h4.8M343.7 749.1h4.8M343.7 739.8h4.8M343.7 732.4h4.8M343.7 725.6h4.8M343.7 715.5h4.8M343.7 709.6h4.8M343.7 702.3h4.8M343.7 689.8h4.8M343.7 683.0h4.8M343.7 674.8h4.8M343.7 652.0h4.8M343.7 627.7h4.8M348.5 801.8h4.8M348.5 794.8h4.8M348.5 791.4h4.8M348.5 780.9h4.8M348.5 777.4h4.8M348.5 769.7h4.8M348.5 761.9h4.8M348.5 751.7h4.8M348.5 744.0h4.8M348.5 738.0h4.8M348.5 728.3h4.8M348.5 719.3h4.8M348.5 712.9h4.8M348.5 708.5h4.8M348.5 700.0h4.8M348.5 693.5h4.8M348.5 686.5h4.8M348.5 671.3h4.8M348.5 644.5h4.8M348.5 637.5h4.8M348.5 627.8h4.8M348.5 614.3h4.8M353.3 800.2h4.8M353.3 794.4h4.8M353.3 789.1h4.8M353.3 781.2h4.8M353.3 773.5h4.8M353.3 768.0h4.8M353.3 761.1h4.8M353.3 753.3h4.8M353.3 743.2h4.8M353.3 739.7h4.8M353.3 735.7h4.8M353.3 730.3h4.8M353.3 722.9h4.8M353.3 709.0h4.8M353.3 699.7h4.8M353.3 685.0h4.8M353.3 671.6h4.8M353.3 660.3h4.8M353.3 641.9h4.8M353.3 634.2h4.8M353.3 622.8h4.8M353.3 612.7h4.8M358.1 801.7h4.8M358.1 789.4h4.8M358.1 777.5h4.8M358.1 767.2h4.8M358.1 763.0h4.8M358.1 751.4h4.8M358.1 747.3h4.8M358.1 742.6h4.8M358.1 738.3h4.8M358.1 732.0h4.8M358.1 727.2h4.8M358.1 725.5h4.8M358.1 711.0h4.8M358.1 698.6h4.8M358.1 688.2h4.8M358.1 684.3h4.8M358.1 677.4h4.8M358.1 672.5h4.8M358.1 665.9h4.8M358.1 657.4h4.8M358.1 634.7h4.8M358.1 627.3h4.8M362.9 802.6h4.8M362.9 793.8h4.8M362.9 788.1h4.8M362.9 781.7h4.8M362.9 775.5h4.8M362.9 771.8h4.8M362.9 766.5h4.8M362.9 754.0h4.8M362.9 749.3h4.8M362.9 744.1h4.8M362.9 730.4h4.8M362.9 718.8h4.8M362.9 704.0h4.8M362.9 696.5h4.8M362.9 688.9h4.8M362.9 678.2h4.8M362.9 666.0h4.8M362.9 657.6h4.8M362.9 645.8h4.8M362.9 640.7h4.8M362.9 631.7h4.8M362.9 621.2h4.8M367.7 806.0h4.8M367.7 795.0h4.8M367.7 787.6h4.8M367.7 784.2h4.8M367.7 777.2h4.8M367.7 770.7h4.8M367.7 761.5h4.8M367.7 745.2h4.8M367.7 734.4h4.8M367.7 721.2h4.8M367.7 711.9h4.8M367.7 697.5h4.8M367.7 694.0h4.8M367.7 685.7h4.8M367.7 681.8h4.8M367.7 674.6h4.8M367.7 667.3h4.8M367.7 658.0h4.8M367.7 651.2h4.8M367.7 641.9h4.8M367.7 629.0h4.8M367.7 617.1h4.8M372.5 801.9h4.8M372.5 793.2h4.8M372.5 788.0h4.8M372.5 781.2h4.8M372.5 775.2h4.8M372.5 765.4h4.8M372.5 760.5h4.8M372.5 745.2h4.8M372.5 736.8h4.8M372.5 727.9h4.8M372.5 712.1h4.8M372.5 698.6h4.8M372.5 692.4h4.8M372.5 688.2h4.8M372.5 676.1h4.8M372.5 668.7h4.8M372.5 655.9h4.8M372.5 646.7h4.8M372.5 635.2h4.8M372.5 624.4h4.8M372.5 617.6h4.8M372.5 611.1h4.8M377.3 785.2h4.8M377.3 782.3h4.8M377.3 776.6h4.8M377.3 774.3h4.8M377.3 770.9h4.8M377.3 764.8h4.8M377.3 762.8h4.8M377.3 745.4h4.8M377.3 730.2h4.8M377.3 715.2h4.8M377.3 704.0h4.8M377.3 695.8h4.8M377.3 682.6h4.8M377.3 671.3h4.8M377.3 659.7h4.8M377.3 655.2h4.8M377.3 644.3h4.8M377.3 638.9h4.8M377.3 633.7h4.8M377.3 625.2h4.8M377.3 618.3h4.8M377.3 615.0h4.8M382.1 789.9h4.8M382.1 785.1h4.8M382.1 780.2h4.8M382.1 776.2h4.8M382.1 773.5h4.8M382.1 768.5h4.8M382.1 764.4h4.8M382.1 755.7h4.8M382.1 739.3h4.8M382.1 724.6h4.8M382.1 716.3h4.8M382.1 708.2h4.8M382.1 704.5h4.8M382.1 695.4h4.8M382.1 689.3h4.8M382.1 682.8h4.8M382.1 674.7h4.8M382.1 668.3h4.8M382.1 657.0h4.8M382.1 648.7h4.8M382.1 636.2h4.8M382.1 624.0h4.8M386.9 785.5h4.8M386.9 783.7h4.8M386.9 779.5h4.8M386.9 775.3h4.8M386.9 772.0h4.8M386.9 768.9h4.8M386.9 765.1h4.8M386.9 757.6h4.8M386.9 749.0h4.8M386.9 738.2h4.8M386.9 728.6h4.8M386.9 723.5h4.8M386.9 718.8h4.8M386.9 703.6h4.8M386.9 695.3h4.8M386.9 681.9h4.8M386.9 675.5h4.8M386.9 666.7h4.8M386.9 658.8h4.8M386.9 646.9h4.8M386.9 630.0h4.8M386.9 618.9h4.8M391.7 805.8h4.8M391.7 802.2h4.8M391.7 794.1h4.8M391.7 791.3h4.8M391.7 783.2h4.8M391.7 776.9h4.8M391.7 774.4h4.8M391.7 761.1h4.8M391.7 756.4h4.8M391.7 746.8h4.8M391.7 741.9h4.8M391.7 727.8h4.8M391.7 721.1h4.8M391.7 708.6h4.8M391.7 704.5h4.8M391.7 694.2h4.8M391.7 689.4h4.8M391.7 685.0h4.8M391.7 674.3h4.8M391.7 658.6h4.8M391.7 642.8h4.8M391.7 624.3h4.8M396.5 805.1h4.8M396.5 802.8h4.8M396.5 798.0h4.8M396.5 795.2h4.8M396.5 790.4h4.8M396.5 786.6h4.8M396.5 781.9h4.8M396.5 775.5h4.8M396.5 763.0h4.8M396.5 754.0h4.8M396.5 744.1h4.8M396.5 739.1h4.8M396.5 731.2h4.8M396.5 722.5h4.8M396.5 709.8h4.8M396.5 701.1h4.8M396.5 695.8h4.8M396.5 688.7h4.8M396.5 681.2h4.8M396.5 669.6h4.8M396.5 649.0h4.8M396.5 627.8h4.8M401.3 803.3h4.8M401.3 797.7h4.8M401.3 791.7h4.8M401.3 790.1h4.8M401.3 786.2h4.8M401.3 781.9h4.8M401.3 777.1h4.8M401.3 770.0h4.8M401.3 762.9h4.8M401.3 753.4h4.8M401.3 750.3h4.8M401.3 743.9h4.8M401.3 730.3h4.8M401.3 726.5h4.8M401.3 721.8h4.8M401.3 709.2h4.8M401.3 701.3h4.8M401.3 699.1h4.8M401.3 696.8h4.8M401.3 689.7h4.8M401.3 659.4h4.8M401.3 634.1h4.8M406.2 801.0h4.8M406.2 793.3h4.8M406.2 791.1h4.8M406.2 788.4h4.8M406.2 780.9h4.8M406.2 772.1h4.8M406.2 764.2h4.8M406.2 759.3h4.8M406.2 754.9h4.8M406.2 750.3h4.8M406.2 748.0h4.8M406.2 740.7h4.8M406.2 733.5h4.8M406.2 722.4h4.8M406.2 712.0h4.8M406.2 703.9h4.8M406.2 693.8h4.8M406.2 686.0h4.8M406.2 680.3h4.8M406.2 668.1h4.8M406.2 648.4h4.8M406.2 629.7h4.8M411.0 768.3h4.8M411.0 758.8h4.8M411.0 753.1h4.8M411.0 748.2h4.8M411.0 739.8h4.8M411.0 734.7h4.8M411.0 727.4h4.8M411.0 723.9h4.8M411.0 716.7h4.8M411.0 713.6h4.8M411.0 710.2h4.8M411.0 706.4h4.8M411.0 699.2h4.8M411.0 687.7h4.8M411.0 676.8h4.8M411.0 664.6h4.8M411.0 652.5h4.8M411.0 646.8h4.8M411.0 631.5h4.8M411.0 623.5h4.8M411.0 620.0h4.8M411.0 615.3h4.8M415.8 774.9h4.8M415.8 769.1h4.8M415.8 758.6h4.8M415.8 747.5h4.8M415.8 741.4h4.8M415.8 737.5h4.8M415.8 728.1h4.8M415.8 718.4h4.8M415.8 712.6h4.8M415.8 702.8h4.8M415.8 696.7h4.8M415.8 691.3h4.8M415.8 683.8h4.8M415.8 675.1h4.8M415.8 668.6h4.8M415.8 659.3h4.8M415.8 653.8h4.8M415.8 640.8h4.8M415.8 629.7h4.8M415.8 623.5h4.8M415.8 614.4h4.8M415.8 610.9h4.8M420.6 767.3h4.8M420.6 759.7h4.8M420.6 752.3h4.8M420.6 748.3h4.8M420.6 740.9h4.8M420.6 738.1h4.8M420.6 732.0h4.8M420.6 720.3h4.8M420.6 715.6h4.8M420.6 711.3h4.8M420.6 702.1h4.8M420.6 691.0h4.8M420.6 679.3h4.8M420.6 665.1h4.8M420.6 656.4h4.8M420.6 648.7h4.8M420.6 644.5h4.8M420.6 638.9h4.8M420.6 627.2h4.8M420.6 623.5h4.8M420.6 618.1h4.8M420.6 611.0h4.8M425.4 773.3h4.8M425.4 768.3h4.8M425.4 763.9h4.8M425.4 755.7h4.8M425.4 747.3h4.8M425.4 738.6h4.8M425.4 728.1h4.8M425.4 718.4h4.8M425.4 704.0h4.8M425.4 699.4h4.8M425.4 693.1h4.8M425.4 688.5h4.8M425.4 683.4h4.8M425.4 674.6h4.8M425.4 664.6h4.8M425.4 657.9h4.8M425.4 651.6h4.8M425.4 643.1h4.8M425.4 631.5h4.8M425.4 623.5h4.8M425.4 617.7h4.8M425.4 611.0h4.8M430.2 772.8h4.8M430.2 765.0h4.8M430.2 759.7h4.8M430.2 756.2h4.8M430.2 747.7h4.8M430.2 739.0h4.8M430.2 736.6h4.8M430.2 718.2h4.8M430.2 705.8h4.8M430.2 699.4h4.8M430.2 691.0h4.8M430.2 682.5h4.8M430.2 672.9h4.8M430.2 668.0h4.8M430.2 664.8h4.8M430.2 659.8h4.8M430.2 648.8h4.8M430.2 640.7h4.8M430.2 631.2h4.8M430.2 623.5h4.8M430.2 617.8h4.8M430.2 614.0h4.8M435.0 787.9h4.8M435.0 781.8h4.8M435.0 772.0h4.8M435.0 764.7h4.8M435.0 756.4h4.8M435.0 746.5h4.8M435.0 739.8h4.8M435.0 732.3h4.8M435.0 719.0h4.8M435.0 709.1h4.8M435.0 700.9h4.8M435.0 691.4h4.8M435.0 683.0h4.8M435.0 675.9h4.8M435.0 662.7h4.8M435.0 656.7h4.8M435.0 646.6h4.8M435.0 637.1h4.8M435.0 627.4h4.8M435.0 623.5h4.8M435.0 618.5h4.8M435.0 610.7h4.8M439.8 781.5h4.8M439.8 771.2h4.8M439.8 765.7h4.8M439.8 756.8h4.8M439.8 752.1h4.8M439.8 739.7h4.8M439.8 733.7h4.8M439.8 728.0h4.8M439.8 714.3h4.8M439.8 705.2h4.8M439.8 693.3h4.8M439.8 682.1h4.8M439.8 672.3h4.8M439.8 665.6h4.8M439.8 660.1h4.8M439.8 657.4h4.8M439.8 648.9h4.8M439.8 642.7h4.8M439.8 633.4h4.8M439.8 623.5h4.8M439.8 617.1h4.8M439.8 613.7h4.8M444.6 774.0h4.8M444.6 766.7h4.8M444.6 757.1h4.8M444.6 752.5h4.8M444.6 746.7h4.8M444.6 743.6h4.8M444.6 735.2h4.8M444.6 729.2h4.8M444.6 716.7h4.8M444.6 704.6h4.8M444.6 698.3h4.8M444.6 685.0h4.8M444.6 679.9h4.8M444.6 675.3h4.8M444.6 669.9h4.8M444.6 662.0h4.8M444.6 652.8h4.8M444.6 643.6h4.8M444.6 636.6h4.8M444.6 623.5h4.8M444.6 616.7h4.8M444.6 611.3h4.8M449.4 807.4h4.8M449.4 800.4h4.8M449.4 793.5h4.8M449.4 785.6h4.8M449.4 778.1h4.8M449.4 772.0h4.8M449.4 765.2h4.8M449.4 756.2h4.8M449.4 746.3h4.8M449.4 736.6h4.8M449.4 732.2h4.8M449.4 722.3h4.8M449.4 713.0h4.8M449.4 704.6h4.8M449.4 686.4h4.8M449.4 681.2h4.8M449.4 673.9h4.8M449.4 668.1h4.8M449.4 658.3h4.8M449.4 650.2h4.8M449.4 634.8h4.8M449.4 619.1h4.8M454.2 808.6h4.8M454.2 802.1h4.8M454.2 799.3h4.8M454.2 790.8h4.8M454.2 783.0h4.8M454.2 778.8h4.8M454.2 775.5h4.8M454.2 770.5h4.8M454.2 765.3h4.8M454.2 759.0h4.8M454.2 754.4h4.8M454.2 752.2h4.8M454.2 738.8h4.8M454.2 733.9h4.8M454.2 718.8h4.8M454.2 704.9h4.8M454.2 697.4h4.8M454.2 689.2h4.8M454.2 683.1h4.8M454.2 674.5h4.8M454.2 648.4h4.8M454.2 626.3h4.8M459.0 800.3h4.8M459.0 796.3h4.8M459.0 790.7h4.8M459.0 778.0h4.8M459.0 771.6h4.8M459.0 760.5h4.8M459.0 748.0h4.8M459.0 734.3h4.8M459.0 722.9h4.8M459.0 714.3h4.8M459.0 706.2h4.8M459.0 699.2h4.8M459.0 693.4h4.8M459.0 687.4h4.8M459.0 679.8h4.8M459.0 675.9h4.8M459.0 670.6h4.8M459.0 665.4h4.8M459.0 662.7h4.8M459.0 657.3h4.8M459.0 643.0h4.8M459.0 623.6h4.8M463.8 802.9h4.8M463.8 797.3h4.8M463.8 789.4h4.8M463.8 781.9h4.8M463.8 778.5h4.8M463.8 767.5h4.8M463.8 759.5h4.8M463.8 751.3h4.8M463.8 740.3h4.8M463.8 734.4h4.8M463.8 729.0h4.8M463.8 719.7h4.8M463.8 709.5h4.8M463.8 697.8h4.8M463.8 690.7h4.8M463.8 683.8h4.8M463.8 679.2h4.8M463.8 673.5h4.8M463.8 664.9h4.8M463.8 658.4h4.8M463.8 639.7h4.8M463.8 621.2h4.8M468.7 802.1h4.8M468.7 791.5h4.8M468.7 787.8h4.8M468.7 781.5h4.8M468.7 773.1h4.8M468.7 764.2h4.8M468.7 756.9h4.8M468.7 745.5h4.8M468.7 730.6h4.8M468.7 716.1h4.8M468.7 709.3h4.8M468.7 699.1h4.8M468.7 681.8h4.8M468.7 670.6h4.8M468.7 663.8h4.8M468.7 649.6h4.8M468.7 645.2h4.8M468.7 639.9h4.8M468.7 630.1h4.8M468.7 623.5h4.8M468.7 617.2h4.8M468.7 610.9h4.8M473.5 797.1h4.8M473.5 788.4h4.8M473.5 779.2h4.8M473.5 772.2h4.8M473.5 765.4h4.8M473.5 761.5h4.8M473.5 754.3h4.8M473.5 736.2h4.8M473.5 719.0h4.8M473.5 713.5h4.8M473.5 707.8h4.8M473.5 699.4h4.8M473.5 682.3h4.8M473.5 669.5h4.8M473.5 661.8h4.8M473.5 649.2h4.8M473.5 642.9h4.8M473.5 635.4h4.8M473.5 630.3h4.8M473.5 623.5h4.8M473.5 616.3h4.8M473.5 609.7h4.8M478.3 800.4h4.8M478.3 797.0h4.8M478.3 794.1h4.8M478.3 788.2h4.8M478.3 785.6h4.8M478.3 782.6h4.8M478.3 777.3h4.8M478.3 766.5h4.8M478.3 760.5h4.8M478.3 743.1h4.8M478.3 727.1h4.8M478.3 716.1h4.8M478.3 705.7h4.8M478.3 698.4h4.8M478.3 683.7h4.8M478.3 678.6h4.8M478.3 673.1h4.8M478.3 668.4h4.8M478.3 658.1h4.8M478.3 650.9h4.8M478.3 638.8h4.8M478.3 626.9h4.8M483.1 803.1h4.8M483.1 791.6h4.8M483.1 781.0h4.8M483.1 773.0h4.8M483.1 765.9h4.8M483.1 758.0h4.8M483.1 750.0h4.8M483.1 741.4h4.8M483.1 728.7h4.8M483.1 718.9h4.8M483.1 710.4h4.8M483.1 695.7h4.8M483.1 689.7h4.8M483.1 683.5h4.8M483.1 674.3h4.8M483.1 668.2h4.8M483.1 661.0h4.8M483.1 648.4h4.8M483.1 634.9h4.8M483.1 623.5h4.8M483.1 619.2h4.8M483.1 613.3h4.8M487.9 802.4h4.8M487.9 791.7h4.8M487.9 778.6h4.8M487.9 768.5h4.8M487.9 758.3h4.8M487.9 750.5h4.8M487.9 740.4h4.8M487.9 737.0h4.8M487.9 730.4h4.8M487.9 725.1h4.8M487.9 717.2h4.8M487.9 713.2h4.8M487.9 703.2h4.8M487.9 699.8h4.8M487.9 692.6h4.8M487.9 682.1h4.8M487.9 673.9h4.8M487.9 660.8h4.8M487.9 653.1h4.8M487.9 642.9h4.8M487.9 627.6h4.8M487.9 621.4h4.8M492.7 807.5h4.8M492.7 799.8h4.8M492.7 790.2h4.8M492.7 780.5h4.8M492.7 774.4h4.8M492.7 766.7h4.8M492.7 758.0h4.8M492.7 746.5h4.8M492.7 735.1h4.8M492.7 725.5h4.8M492.7 719.4h4.8M492.7 708.4h4.8M492.7 702.5h4.8M492.7 696.6h4.8M492.7 687.7h4.8M492.7 684.6h4.8M492.7 674.7h4.8M492.7 668.8h4.8M492.7 659.4h4.8M492.7 647.9h4.8M492.7 637.4h4.8M492.7 621.9h4.8M497.5 801.7h4.8M497.5 797.6h4.8M497.5 789.7h4.8M497.5 779.5h4.8M497.5 771.2h4.8M497.5 766.1h4.8M497.5 756.7h4.8M497.5 748.7h4.8M497.5 743.7h4.8M497.5 733.8h4.8M497.5 725.5h4.8M497.5 716.4h4.8M497.5 707.2h4.8M497.5 700.9h4.8M497.5 691.9h4.8M497.5 687.1h4.8M497.5 667.8h4.8M497.5 660.5h4.8M497.5 649.3h4.8M497.5 631.2h4.8M497.5 622.6h4.8M497.5 613.0h4.8M502.3 803.3h4.8M502.3 796.6h4.8M502.3 788.1h4.8M502.3 784.6h4.8M502.3 777.8h4.8M502.3 768.1h4.8M502.3 763.5h4.8M502.3 757.9h4.8M502.3 747.4h4.8M502.3 736.5h4.8M502.3 731.4h4.8M502.3 727.0h4.8M502.3 722.3h4.8M502.3 718.0h4.8M502.3 706.4h4.8M502.3 695.3h4.8M502.3 686.4h4.8M502.3 674.0h4.8M502.3 658.6h4.8M502.3 653.2h4.8M502.3 634.8h4.8M502.3 615.7h4.8M507.1 803.7h4.8M507.1 798.2h4.8M507.1 794.5h4.8M507.1 788.0h4.8M507.1 785.0h4.8M507.1 780.7h4.8M507.1 777.2h4.8M507.1 771.2h4.8M507.1 762.4h4.8M507.1 755.5h4.8M507.1 748.2h4.8M507.1 738.1h4.8M507.1 731.0h4.8M507.1 723.8h4.8M507.1 711.6h4.8M507.1 705.4h4.8M507.1 696.7h4.8M507.1 692.1h4.8M507.1 686.9h4.8M507.1 681.8h4.8M507.1 656.4h4.8M507.1 629.1h4.8M511.9 807.3h4.8M511.9 802.8h4.8M511.9 795.8h4.8M511.9 792.2h4.8M511.9 784.1h4.8M511.9 776.1h4.8M511.9 772.4h4.8M511.9 762.3h4.8M511.9 754.2h4.8M511.9 739.0h4.8M511.9 733.5h4.8M511.9 718.7h4.8M511.9 713.4h4.8M511.9 697.9h4.8M511.9 686.3h4.8M511.9 674.2h4.8M511.9 668.6h4.8M511.9 663.7h4.8M511.9 654.8h4.8M511.9 637.7h4.8M511.9 626.4h4.8M511.9 611.8h4.8M516.7 806.4h4.8M516.7 803.2h4.8M516.7 793.8h4.8M516.7 789.2h4.8M516.7 783.7h4.8M516.7 774.7h4.8M516.7 765.3h4.8M516.7 754.7h4.8M516.7 741.7h4.8M516.7 731.6h4.8M516.7 717.1h4.8M516.7 705.9h4.8M516.7 696.0h4.8M516.7 687.6h4.8M516.7 678.6h4.8M516.7 670.1h4.8M516.7 666.1h4.8M516.7 658.7h4.8M516.7 648.2h4.8M516.7 641.3h4.8M516.7 635.0h4.8M516.7 618.3h4.8M521.5 802.1h4.8M521.5 797.0h4.8M521.5 787.4h4.8M521.5 778.9h4.8M521.5 771.4h4.8M521.5 763.6h4.8M521.5 755.5h4.8M521.5 742.4h4.8M521.5 730.8h4.8M521.5 719.4h4.8M521.5 706.3h4.8M521.5 693.8h4.8M521.5 689.1h4.8M521.5 684.3h4.8M521.5 678.2h4.8M521.5 671.5h4.8M521.5 657.5h4.8M521.5 648.6h4.8M521.5 632.6h4.8M521.5 623.5h4.8M521.5 616.6h4.8M521.5 610.8h4.8M526.3 806.0h4.8M526.3 796.5h4.8M526.3 787.2h4.8M526.3 779.1h4.8M526.3 771.0h4.8M526.3 762.4h4.8M526.3 756.2h4.8M526.3 751.7h4.8M526.3 746.4h4.8M526.3 739.0h4.8M526.3 731.0h4.8M526.3 723.4h4.8M526.3 709.8h4.8M526.3 705.0h4.8M526.3 698.2h4.8M526.3 683.0h4.8M526.3 675.7h4.8M526.3 668.6h4.8M526.3 663.3h4.8M526.3 653.3h4.8M526.3 638.0h4.8M526.3 614.3h4.8M531.2 795.5h4.8M531.2 792.7h4.8M531.2 788.7h4.8M531.2 782.9h4.8M531.2 775.0h4.8M531.2 771.4h4.8M531.2 764.1h4.8M531.2 754.9h4.8M531.2 749.3h4.8M531.2 741.3h4.8M531.2 734.6h4.8M531.2 727.9h4.8M531.2 724.0h4.8M531.2 717.9h4.8M531.2 708.4h4.8M531.2 700.6h4.8M531.2 694.9h4.8M531.2 686.8h4.8M531.2 677.7h4.8M531.2 670.8h4.8M531.2 644.7h4.8M531.2 617.1h4.8M536.0 803.5h4.8M536.0 793.2h4.8M536.0 787.5h4.8M536.0 783.3h4.8M536.0 771.9h4.8M536.0 765.0h4.8M536.0 751.6h4.8M536.0 747.9h4.8M536.0 746.1h4.8M536.0 742.1h4.8M536.0 739.7h4.8M536.0 735.0h4.8M536.0 724.5h4.8M536.0 713.7h4.8M536.0 709.8h4.8M536.0 706.1h4.8M536.0 696.7h4.8M536.0 692.7h4.8M536.0 688.2h4.8M536.0 685.2h4.8M536.0 670.2h4.8M536.0 645.9h4.8M540.8 806.2h4.8M540.8 802.5h4.8M540.8 795.2h4.8M540.8 792.0h4.8M540.8 786.0h4.8M540.8 780.1h4.8M540.8 772.2h4.8M540.8 768.4h4.8M540.8 759.6h4.8M540.8 752.5h4.8M540.8 741.0h4.8M540.8 735.2h4.8M540.8 726.2h4.8M540.8 721.7h4.8M540.8 714.5h4.8M540.8 703.3h4.8M540.8 697.8h4.8M540.8 691.9h4.8M540.8 679.9h4.8M540.8 670.2h4.8M540.8 653.3h4.8M540.8 631.2h4.8M545.6 805.5h4.8M545.6 796.9h4.8M545.6 789.4h4.8M545.6 779.9h4.8M545.6 772.6h4.8M545.6 765.6h4.8M545.6 760.4h4.8M545.6 746.4h4.8M545.6 735.3h4.8M545.6 730.0h4.8M545.6 719.0h4.8M545.6 709.3h4.8M545.6 700.1h4.8M545.6 696.1h4.8M545.6 692.2h4.8M545.6 678.2h4.8M545.6 671.4h4.8M545.6 664.9h4.8M545.6 660.2h4.8M545.6 651.2h4.8M545.6 629.9h4.8M545.6 621.2h4.8M550.4 799.3h4.8M550.4 788.2h4.8M550.4 779.1h4.8M550.4 773.3h4.8M550.4 768.1h4.8M550.4 757.4h4.8M550.4 753.3h4.8M550.4 741.6h4.8M550.4 738.0h4.8M550.4 732.9h4.8M550.4 725.1h4.8M550.4 713.6h4.8M550.4 707.9h4.8M550.4 701.4h4.8M550.4 694.8h4.8M550.4 688.5h4.8M550.4 683.4h4.8M550.4 668.0h4.8M550.4 661.6h4.8M550.4 655.0h4.8M550.4 645.8h4.8M550.4 636.9h4.8M555.2 803.6h4.8M555.2 800.2h4.8M555.2 797.2h4.8M555.2 787.7h4.8M555.2 780.2h4.8M555.2 770.2h4.8M555.2 767.3h4.8M555.2 759.0h4.8M555.2 747.4h4.8M555.2 737.7h4.8M555.2 729.4h4.8M555.2 719.4h4.8M555.2 709.2h4.8M555.2 704.0h4.8M555.2 698.7h4.8M555.2 689.6h4.8M555.2 681.7h4.8M555.2 676.3h4.8M555.2 666.2h4.8M555.2 656.9h4.8M555.2 638.0h4.8M555.2 616.8h4.8M560.0 806.6h4.8M560.0 804.4h4.8M560.0 801.7h4.8M560.0 800.3h4.8M560.0 795.4h4.8M560.0 791.7h4.8M560.0 788.7h4.8M560.0 778.7h4.8M560.0 764.1h4.8M560.0 758.8h4.8M560.0 750.5h4.8M560.0 738.6h4.8M560.0 727.6h4.8M560.0 711.4h4.8M560.0 692.1h4.8M560.0 686.3h4.8M560.0 680.8h4.8M560.0 675.3h4.8M560.0 665.7h4.8M560.0 655.9h4.8M560.0 637.9h4.8M560.0 616.0h4.8M564.8 808.4h4.8M564.8 804.0h4.8M564.8 799.9h4.8M564.8 798.3h4.8M564.8 793.4h4.8M564.8 789.4h4.8M564.8 785.0h4.8M564.8 776.8h4.8M564.8 765.7h4.8M564.8 750.5h4.8M564.8 736.0h4.8M564.8 725.2h4.8M564.8 716.2h4.8M564.8 706.3h4.8M564.8 697.6h4.8M564.8 690.3h4.8M564.8 673.9h4.8M564.8 667.8h4.8M564.8 658.5h4.8M564.8 647.1h4.8M564.8 637.7h4.8M564.8 615.0h4.8M569.6 802.3h4.8M569.6 798.2h4.8M569.6 793.8h4.8M569.6 787.5h4.8M569.6 784.0h4.8M569.6 778.7h4.8M569.6 770.7h4.8M569.6 757.5h4.8M569.6 751.6h4.8M569.6 744.6h4.8M569.6 734.3h4.8M569.6 729.1h4.8M569.6 716.9h4.8M569.6 711.4h4.8M569.6 702.3h4.8M569.6 695.3h4.8M569.6 685.9h4.8M569.6 676.5h4.8M569.6 667.0h4.8M569.6 648.4h4.8M569.6 639.7h4.8M569.6 620.8h4.8M574.4 807.9h4.8M574.4 800.0h4.8M574.4 795.7h4.8M574.4 789.6h4.8M574.4 781.6h4.8M574.4 772.6h4.8M574.4 763.1h4.8M574.4 756.0h4.8M574.4 749.9h4.8M574.4 743.1h4.8M574.4 737.1h4.8M574.4 727.0h4.8M574.4 716.7h4.8M574.4 703.5h4.8M574.4 697.2h4.8M574.4 682.7h4.8M574.4 666.6h4.8M574.4 660.0h4.8M574.4 648.3h4.8M574.4 642.2h4.8M574.4 634.2h4.8M574.4 618.1h4.8M579.2 795.0h4.8M579.2 785.5h4.8M579.2 775.0h4.8M579.2 761.4h4.8M579.2 757.4h4.8M579.2 752.9h4.8M579.2 749.0h4.8M579.2 743.5h4.8M579.2 735.4h4.8M579.2 728.3h4.8M579.2 722.2h4.8M579.2 713.9h4.8M579.2 701.3h4.8M579.2 693.4h4.8M579.2 676.1h4.8M579.2 669.7h4.8M579.2 660.3h4.8M579.2 654.2h4.8M579.2 646.0h4.8M579.2 639.4h4.8M579.2 627.0h4.8M579.2 620.4h4.8M584.0 802.7h4.8M584.0 799.1h4.8M584.0 796.6h4.8M584.0 791.2h4.8M584.0 785.5h4.8M584.0 779.0h4.8M584.0 774.2h4.8M584.0 762.6h4.8M584.0 747.5h4.8M584.0 734.7h4.8M584.0 718.2h4.8M584.0 710.4h4.8M584.0 695.1h4.8M584.0 681.8h4.8M584.0 670.8h4.8M584.0 666.0h4.8M584.0 659.5h4.8M584.0 654.6h4.8M584.0 647.1h4.8M584.0 640.3h4.8M584.0 623.8h4.8M584.0 616.1h4.8M588.8 803.8h4.8M588.8 797.9h4.8M588.8 790.1h4.8M588.8 783.4h4.8M588.8 779.8h4.8M588.8 775.1h4.8M588.8 770.2h4.8M588.8 754.4h4.8M588.8 744.3h4.8M588.8 726.8h4.8M588.8 715.5h4.8M588.8 705.3h4.8M588.8 693.9h4.8M588.8 684.2h4.8M588.8 665.4h4.8M588.8 660.1h4.8M588.8 650.1h4.8M588.8 644.5h4.8M588.8 630.7h4.8M588.8 624.1h4.8M588.8 620.3h4.8M588.8 614.4h4.8M593.7 797.7h4.8M593.7 791.0h4.8M593.7 785.6h4.8M593.7 779.6h4.8M593.7 769.1h4.8M593.7 764.5h4.8M593.7 761.5h4.8M593.7 746.6h4.8M593.7 736.7h4.8M593.7 731.0h4.8M593.7 725.3h4.8M593.7 710.4h4.8M593.7 702.9h4.8M593.7 700.1h4.8M593.7 693.1h4.8M593.7 689.3h4.8M593.7 676.1h4.8M593.7 660.1h4.8M593.7 653.5h4.8M593.7 632.0h4.8M593.7 624.6h4.8M593.7 619.3h4.8M598.5 807.2h4.8M598.5 804.4h4.8M598.5 796.8h4.8M598.5 790.6h4.8M598.5 781.0h4.8M598.5 772.4h4.8M598.5 768.2h4.8M598.5 763.4h4.8M598.5 751.4h4.8M598.5 741.2h4.8M598.5 733.1h4.8M598.5 717.1h4.8M598.5 713.2h4.8M598.5 706.0h4.8M598.5 703.0h4.8M598.5 693.8h4.8M598.5 681.1h4.8M598.5 671.6h4.8M598.5 665.1h4.8M598.5 654.6h4.8M598.5 633.1h4.8M598.5 613.5h4.8M603.3 809.3h4.8M603.3 808.1h4.8M603.3 805.8h4.8M603.3 802.5h4.8M603.3 799.4h4.8M603.3 798.0h4.8M603.3 795.7h4.8M603.3 787.6h4.8M603.3 781.3h4.8M603.3 767.9h4.8M603.3 754.3h4.8M603.3 745.9h4.8M603.3 739.2h4.8M603.3 730.0h4.8M603.3 720.5h4.8M603.3 713.4h4.8M603.3 707.9h4.8M603.3 702.7h4.8M603.3 696.5h4.8M603.3 682.5h4.8M603.3 657.5h4.8M603.3 628.0h4.8M608.1 804.6h4.8M608.1 801.0h4.8M608.1 791.6h4.8M608.1 784.8h4.8M608.1 781.5h4.8M608.1 774.0h4.8M608.1 767.3h4.8M608.1 758.7h4.8M608.1 748.6h4.8M608.1 740.0h4.8M608.1 728.9h4.8M608.1 717.0h4.8M608.1 708.0h4.8M608.1 696.0h4.8M608.1 687.4h4.8M608.1 678.4h4.8M608.1 671.7h4.8M608.1 662.3h4.8M608.1 655.8h4.8M608.1 649.2h4.8M608.1 634.2h4.8M608.1 619.8h4.8M612.9 791.7h4.8M612.9 783.7h4.8M612.9 772.8h4.8M612.9 766.3h4.8M612.9 759.0h4.8M612.9 754.2h4.8M612.9 741.6h4.8M612.9 725.3h4.8M612.9 717.1h4.8M612.9 707.8h4.8M612.9 702.0h4.8M612.9 695.8h4.8M612.9 681.5h4.8M612.9 663.4h4.8M612.9 657.3h4.8M612.9 648.6h4.8M612.9 640.9h4.8M612.9 636.9h4.8M612.9 628.3h4.8M612.9 623.5h4.8M612.9 616.7h4.8M612.9 612.2h4.8M617.7 799.8h4.8M617.7 793.3h4.8M617.7 782.1h4.8M617.7 778.2h4.8M617.7 767.9h4.8M617.7 755.8h4.8M617.7 748.8h4.8M617.7 742.3h4.8M617.7 736.6h4.8M617.7 731.5h4.8M617.7 717.5h4.8M617.7 705.8h4.8M617.7 700.3h4.8M617.7 688.0h4.8M617.7 673.3h4.8M617.7 663.1h4.8M617.7 660.1h4.8M617.7 654.1h4.8M617.7 648.5h4.8M617.7 638.0h4.8M617.7 631.2h4.8M617.7 618.8h4.8M622.5 801.7h4.8M622.5 798.2h4.8M622.5 789.6h4.8M622.5 786.4h4.8M622.5 779.6h4.8M622.5 776.4h4.8M622.5 773.1h4.8M622.5 768.2h4.8M622.5 764.9h4.8M622.5 756.0h4.8M622.5 749.9h4.8M622.5 741.6h4.8M622.5 730.7h4.8M622.5 721.5h4.8M622.5 713.2h4.8M622.5 706.4h4.8M622.5 696.2h4.8M622.5 687.1h4.8M622.5 682.6h4.8M622.5 674.7h4.8M622.5 655.6h4.8M622.5 633.8h4.8M627.3 802.5h4.8M627.3 796.9h4.8M627.3 789.9h4.8M627.3 782.6h4.8M627.3 780.0h4.8M627.3 777.0h4.8M627.3 774.6h4.8M627.3 770.3h4.8M627.3 758.9h4.8M627.3 753.3h4.8M627.3 746.5h4.8M627.3 739.4h4.8M627.3 729.8h4.8M627.3 723.2h4.8M627.3 711.2h4.8M627.3 704.1h4.8M627.3 688.1h4.8M627.3 672.7h4.8M627.3 668.2h4.8M627.3 656.2h4.8M627.3 646.0h4.8M627.3 616.7h4.8M632.1 805.6h4.8M632.1 797.6h4.8M632.1 790.8h4.8M632.1 783.4h4.8M632.1 778.0h4.8M632.1 771.7h4.8M632.1 767.8h4.8M632.1 752.7h4.8M632.1 741.5h4.8M632.1 722.4h4.8M632.1 714.0h4.8M632.1 705.1h4.8M632.1 698.4h4.8M632.1 687.5h4.8M632.1 676.0h4.8M632.1 671.8h4.8M632.1 657.4h4.8M632.1 644.7h4.8M632.1 636.9h4.8M632.1 631.6h4.8M632.1 622.0h4.8M632.1 611.2h4.8M636.9 793.5h4.8M636.9 780.7h4.8M636.9 766.7h4.8M636.9 760.7h4.8M636.9 755.7h4.8M636.9 750.2h4.8M636.9 744.0h4.8M636.9 728.8h4.8M636.9 713.5h4.8M636.9 703.5h4.8M636.9 697.9h4.8M636.9 689.4h4.8M636.9 684.1h4.8M636.9 675.0h4.8M636.9 665.3h4.8M636.9 655.0h4.8M636.9 647.1h4.8M636.9 638.9h4.8M636.9 630.7h4.8M636.9 623.5h4.8M636.9 618.9h4.8M636.9 613.0h4.8M641.7 798.9h4.8M641.7 787.1h4.8M641.7 780.9h4.8M641.7 775.9h4.8M641.7 766.5h4.8M641.7 757.5h4.8M641.7 752.7h4.8M641.7 747.4h4.8M641.7 737.6h4.8M641.7 721.2h4.8M641.7 706.1h4.8M641.7 701.4h4.8M641.7 690.5h4.8M641.7 678.8h4.8M641.7 668.0h4.8M641.7 660.1h4.8M641.7 654.0h4.8M641.7 646.2h4.8M641.7 641.5h4.8M641.7 638.1h4.8M641.7 630.9h4.8M641.7 625.1h4.8M646.5 804.8h4.8M646.5 795.6h4.8M646.5 785.9h4.8M646.5 782.2h4.8M646.5 777.7h4.8M646.5 772.0h4.8M646.5 762.4h4.8M646.5 750.1h4.8M646.5 742.7h4.8M646.5 733.7h4.8M646.5 725.7h4.8M646.5 716.4h4.8M646.5 707.1h4.8M646.5 702.2h4.8M646.5 692.8h4.8M646.5 682.5h4.8M646.5 674.5h4.8M646.5 663.4h4.8M646.5 652.4h4.8M646.5 648.1h4.8M646.5 629.9h4.8M646.5 622.6h4.8M651.3 805.1h4.8M651.3 798.4h4.8M651.3 790.2h4.8M651.3 777.9h4.8M651.3 767.3h4.8M651.3 761.6h4.8M651.3 748.7h4.8M651.3 733.2h4.8M651.3 722.2h4.8M651.3 717.2h4.8M651.3 709.2h4.8M651.3 701.1h4.8M651.3 696.0h4.8M651.3 687.4h4.8M651.3 681.2h4.8M651.3 673.4h4.8M651.3 668.1h4.8M651.3 660.4h4.8M651.3 646.4h4.8M651.3 637.4h4.8M651.3 624.7h4.8M651.3 615.7h4.8M656.2 798.1h4.8M656.2 787.3h4.8M656.2 778.3h4.8M656.2 767.2h4.8M656.2 759.6h4.8M656.2 755.3h4.8M656.2 742.9h4.8M656.2 732.1h4.8M656.2 718.8h4.8M656.2 707.4h4.8M656.2 697.6h4.8M656.2 691.4h4.8M656.2 683.7h4.8M656.2 676.0h4.8M656.2 670.5h4.8M656.2 666.1h4.8M656.2 659.1h4.8M656.2 656.1h4.8M656.2 645.8h4.8M656.2 639.9h4.8M656.2 627.1h4.8M656.2 612.9h4.8M661.0 803.0h4.8M661.0 787.5h4.8M661.0 775.1h4.8M661.0 763.6h4.8M661.0 754.2h4.8M661.0 739.1h4.8M661.0 727.5h4.8M661.0 719.4h4.8M661.0 711.1h4.8M661.0 702.3h4.8M661.0 694.7h4.8M661.0 687.5h4.8M661.0 678.2h4.8M661.0 668.0h4.8M661.0 657.2h4.8M661.0 647.1h4.8M661.0 640.0h4.8M661.0 632.6h4.8M661.0 630.2h4.8M661.0 623.5h4.8M661.0 618.5h4.8M661.0 613.5h4.8M665.8 805.4h4.8M665.8 795.8h4.8M665.8 787.4h4.8M665.8 772.2h4.8M665.8 766.3h4.8M665.8 755.6h4.8M665.8 750.0h4.8M665.8 739.4h4.8M665.8 731.4h4.8M665.8 721.0h4.8M665.8 714.8h4.8M665.8 703.0h4.8M665.8 698.0h4.8M665.8 689.7h4.8M665.8 673.8h4.8M665.8 655.8h4.8M665.8 644.5h4.8M665.8 638.3h4.8M665.8 634.1h4.8M665.8 623.5h4.8M665.8 617.0h4.8M665.8 614.7h4.8M670.6 800.3h4.8M670.6 797.0h4.8M670.6 789.6h4.8M670.6 783.6h4.8M670.6 779.6h4.8M670.6 768.6h4.8M670.6 757.2h4.8M670.6 750.6h4.8M670.6 739.5h4.8M670.6 730.7h4.8M670.6 716.3h4.8M670.6 710.0h4.8M670.6 700.0h4.8M670.6 688.9h4.8M670.6 676.8h4.8M670.6 665.3h4.8M670.6 657.1h4.8M670.6 645.7h4.8M670.6 634.5h4.8M670.6 623.5h4.8M670.6 615.1h4.8M670.6 611.1h4.8M675.4 799.0h4.8M675.4 788.4h4.8M675.4 778.3h4.8M675.4 770.9h4.8M675.4 756.5h4.8M675.4 749.6h4.8M675.4 745.7h4.8M675.4 741.4h4.8M675.4 735.7h4.8M675.4 724.7h4.8M675.4 712.5h4.8M675.4 708.6h4.8M675.4 701.6h4.8M675.4 694.5h4.8M675.4 680.6h4.8M675.4 665.4h4.8M675.4 658.5h4.8M675.4 653.5h4.8M675.4 638.5h4.8M675.4 623.5h4.8M675.4 617.6h4.8M675.4 613.1h4.8M680.2 796.2h4.8M680.2 788.3h4.8M680.2 782.7h4.8M680.2 774.7h4.8M680.2 765.3h4.8M680.2 759.2h4.8M680.2 750.1h4.8M680.2 746.0h4.8M680.2 734.8h4.8M680.2 730.1h4.8M680.2 725.3h4.8M680.2 714.2h4.8M680.2 702.3h4.8M680.2 690.6h4.8M680.2 679.7h4.8M680.2 668.7h4.8M680.2 655.2h4.8M680.2 644.7h4.8M680.2 640.0h4.8M680.2 627.6h4.8M680.2 618.7h4.8M680.2 609.9h4.8" stroke="#333" stroke-width="0.7" fill="none"/><path d="M57.5 577.8H686" stroke="#111" stroke-width="1.6"/><path d="M56.5 577.0h3.5M685 577.0h-3M56.5 535.8h3.5M685 535.8h-3M56.5 494.7h3.5M685 494.7h-3M56.5 453.5h3.5M685 453.5h-3M56.5 412.4h3.5M685 412.4h-3M56.5 371.2h3.5M685 371.2h-3" stroke="#333" stroke-width="1.2"/><g font-family="Liberation Sans, Arial, sans-serif" font-size="20.3" fill="#111" text-anchor="end"><text x="55.6" y="584.3">0</text><text x="55.6" y="543.1">0.2</text><text x="55.6" y="502.0">0.4</text><text x="55.6" y="460.8">0.6</text><text x="55.6" y="419.7">0.8</text><text x="55.6" y="378.5">1</text></g><g font-family="Liberation Sans, Arial, sans-serif" font-size="19.8" fill="#111" text-anchor="middle"><text x="153.8" y="596.5">20</text><text x="249.9" y="596.5">40</text><text x="346.1" y="596.5">60</text><text x="442.2" y="596.5">80</text><text x="538.4" y="596.5">100</text><text x="634.5" y="596.5">120</text></g><path d="M57.5 813.5H686" stroke="#111" stroke-width="1.6"/><path d="M56.5 812.7h3.5M685 812.7h-3M56.5 771.6h3.5M685 771.6h-3M56.5 730.4h3.5M685 730.4h-3M56.5 689.3h3.5M685 689.3h-3M56.5 648.1h3.5M685 648.1h-3M56.5 607.0h3.5M685 607.0h-3" stroke="#333" stroke-width="1.2"/><g font-family="Liberation Sans, Arial, sans-serif" font-size="20.3" fill="#111" text-anchor="end"><text x="55.6" y="820.0">0</text><text x="55.6" y="778.9">0.2</text><text x="55.6" y="737.7">0.4</text><text x="55.6" y="696.6">0.6</text><text x="55.6" y="655.4">0.8</text><text x="55.6" y="614.3">1</text></g><g font-family="Liberation Sans, Arial, sans-serif" font-size="19.8" fill="#111" text-anchor="middle"><text x="153.8" y="832.2">20</text><text x="249.9" y="832.2">40</text><text x="346.1" y="832.2">60</text><text x="442.2" y="832.2">80</text><text x="538.4" y="832.2">100</text><text x="634.5" y="832.2">120</text></g><text x="378.5" y="854" text-anchor="middle" font-family="Liberation Sans, Arial, sans-serif" font-size="24.7" fill="#111">Neuronal cell types</text><text x="4" y="340.5" font-family="Liberation Sans, Arial, sans-serif" font-weight="bold" font-size="41" fill="#111">c</text><rect x="698.6" y="338.6" width="164.2" height="501.3" fill="#fff" stroke="#9a9a9a" stroke-width="1.2"/><text x="700" y="364.6" font-family="Liberation Sans, Arial, sans-serif" font-size="24.5" fill="#111">Group Sample</text><rect x="709.3" y="379.4" width="43.7" height="134.6" fill="#9a9a9a"/><rect x="762" y="387.3" width="5.8" height="119.2" fill="#222"/><text x="731.2" y="455.4" text-anchor="middle" font-family="Liberation Sans, Arial, sans-serif" font-size="24.3" fill="#111">HC</text><rect x="709.3" y="520.0" width="43.7" height="95.2" fill="#36a8e0"/><rect x="762" y="527.5" width="5.8" height="79.0" fill="#222"/><text x="731.2" y="576.3" text-anchor="middle" font-family="Liberation Sans, Arial, sans-serif" font-size="24.3" fill="#111">2h</text><rect x="709.3" y="620.0" width="43.7" height="75.4" fill="#f5b04a"/><rect x="762" y="628.3" width="5.8" height="58.5" fill="#222"/><text x="731.2" y="666.4" text-anchor="middle" font-family="Liberation Sans, Arial, sans-serif" font-size="24.3" fill="#111">8h</text><rect x="709.3" y="700.4" width="43.7" height="75.2" fill="#f28e1e"/><rect x="762" y="707.8" width="5.8" height="59.2" fill="#222"/><text x="731.2" y="746.7" text-anchor="middle" font-family="Liberation Sans, Arial, sans-serif" font-size="24.3" fill="#111">24h</text><rect x="709.3" y="779.4" width="43.7" height="56.8" fill="#1e64b0"/><rect x="762" y="788.0" width="5.8" height="38.3" fill="#222"/><text x="731.2" y="808.7" text-anchor="middle" font-family="Liberation Sans, Arial, sans-serif" font-size="24.3" fill="#111">re-</text><text x="731.2" y="829.5" text-anchor="middle" font-family="Liberation Sans, Arial, sans-serif" font-size="24.3" fill="#111">call</text><rect x="776.6" y="379.4" width="30.7" height="14.2" fill="#2f2b8c" stroke="#333" stroke-width="0.9"/><text x="812.2" y="393.7" font-family="Liberation Sans, Arial, sans-serif" font-size="19.7" fill="#9a9a9a">08-1</text><rect x="776.6" y="399.5" width="30.7" height="14.2" fill="#33359a" stroke="#333" stroke-width="0.9"/><text x="812.2" y="413.8" font-family="Liberation Sans, Arial, sans-serif" font-size="19.7" fill="#9a9a9a">23-1</text><rect x="776.6" y="419.5" width="30.7" height="14.2" fill="#363ea0" stroke="#333" stroke-width="0.9"/><text x="812.2" y="433.8" font-family="Liberation Sans, Arial, sans-serif" font-size="19.7" fill="#9a9a9a">23-3</text><rect x="776.6" y="439.6" width="30.7" height="14.2" fill="#3846a6" stroke="#333" stroke-width="0.9"/><text x="812.2" y="453.9" font-family="Liberation Sans, Arial, sans-serif" font-size="19.7" fill="#9a9a9a">45-3</text><rect x="776.6" y="459.7" width="30.7" height="14.2" fill="#3a50ae" stroke="#333" stroke-width="0.9"/><text x="812.2" y="474.0" font-family="Liberation Sans, Arial, sans-serif" font-size="19.7" fill="#9a9a9a">46-3</text><rect x="776.6" y="479.8" width="30.7" height="14.2" fill="#3c5ab5" stroke="#333" stroke-width="0.9"/><text x="812.2" y="494.1" font-family="Liberation Sans, Arial, sans-serif" font-size="19.7" fill="#9a9a9a">74-1</text><rect x="776.6" y="499.8" width="30.7" height="14.2" fill="#4068bd" stroke="#333" stroke-width="0.9"/><text x="812.2" y="514.1" font-family="Liberation Sans, Arial, sans-serif" font-size="19.7" fill="#9a9a9a">74-2</text><rect x="776.6" y="519.9" width="30.7" height="14.2" fill="#3f74c4" stroke="#333" stroke-width="0.9"/><text x="812.2" y="534.2" font-family="Liberation Sans, Arial, sans-serif" font-size="19.7" fill="#3a8ccb">10-1</text><rect x="776.6" y="540.0" width="30.7" height="14.2" fill="#3a84d2" stroke="#333" stroke-width="0.9"/><text x="812.2" y="554.3" font-family="Liberation Sans, Arial, sans-serif" font-size="19.7" fill="#3a8ccb">18-1</text><rect x="776.6" y="560.0" width="30.7" height="14.2" fill="#2d98da" stroke="#333" stroke-width="0.9"/><text x="812.2" y="574.3" font-family="Liberation Sans, Arial, sans-serif" font-size="19.7" fill="#3a8ccb">19-1</text><rect x="776.6" y="580.1" width="30.7" height="14.2" fill="#18b0d0" stroke="#333" stroke-width="0.9"/><text x="812.2" y="594.4" font-family="Liberation Sans, Arial, sans-serif" font-size="19.7" fill="#3a8ccb">76-1</text><rect x="776.6" y="600.2" width="30.7" height="14.2" fill="#22b0b0" stroke="#333" stroke-width="0.9"/><text x="812.2" y="614.5" font-family="Liberation Sans, Arial, sans-serif" font-size="19.7" fill="#3a8ccb">76-2</text><rect x="776.6" y="620.2" width="30.7" height="14.2" fill="#38b498" stroke="#333" stroke-width="0.9"/><text x="812.2" y="634.5" font-family="Liberation Sans, Arial, sans-serif" font-size="19.7" fill="#e8a445">42-1</text><rect x="776.6" y="640.3" width="30.7" height="14.2" fill="#4cb488" stroke="#333" stroke-width="0.9"/><text x="812.2" y="654.6" font-family="Liberation Sans, Arial, sans-serif" font-size="19.7" fill="#e8a445">42-2</text><rect x="776.6" y="660.4" width="30.7" height="14.2" fill="#66b870" stroke="#333" stroke-width="0.9"/><text x="812.2" y="674.7" font-family="Liberation Sans, Arial, sans-serif" font-size="19.7" fill="#e8a445">46-1</text><rect x="776.6" y="680.4" width="30.7" height="14.2" fill="#82bc58" stroke="#333" stroke-width="0.9"/><text x="812.2" y="694.8" font-family="Liberation Sans, Arial, sans-serif" font-size="19.7" fill="#e8a445">46-2</text><rect x="776.6" y="700.5" width="30.7" height="14.2" fill="#a8be38" stroke="#333" stroke-width="0.9"/><text x="812.2" y="714.8" font-family="Liberation Sans, Arial, sans-serif" font-size="19.7" fill="#e8a445">41-1</text><rect x="776.6" y="720.6" width="30.7" height="14.2" fill="#d0b830" stroke="#333" stroke-width="0.9"/><text x="812.2" y="734.9" font-family="Liberation Sans, Arial, sans-serif" font-size="19.7" fill="#e8a445">41-2</text><rect x="776.6" y="740.7" width="30.7" height="14.2" fill="#f0b438" stroke="#333" stroke-width="0.9"/><text x="812.2" y="755.0" font-family="Liberation Sans, Arial, sans-serif" font-size="19.7" fill="#e8a445">45-1</text><rect x="776.6" y="760.7" width="30.7" height="14.2" fill="#f8c040" stroke="#333" stroke-width="0.9"/><text x="812.2" y="775.0" font-family="Liberation Sans, Arial, sans-serif" font-size="19.7" fill="#e8a445">45-2</text><rect x="776.6" y="780.8" width="30.7" height="14.2" fill="#f8d830" stroke="#333" stroke-width="0.9"/><text x="812.2" y="795.1" font-family="Liberation Sans, Arial, sans-serif" font-size="19.7" fill="#1f5fa8">75-1</text><rect x="776.6" y="800.9" width="30.7" height="14.2" fill="#f8e428" stroke="#333" stroke-width="0.9"/><text x="812.2" y="815.2" font-family="Liberation Sans, Arial, sans-serif" font-size="19.7" fill="#1f5fa8">75-2</text><rect x="776.6" y="820.9" width="30.7" height="14.2" fill="#f0ec20" stroke="#333" stroke-width="0.9"/><text x="812.2" y="835.2" font-family="Liberation Sans, Arial, sans-serif" font-size="19.7" fill="#1f5fa8">75-3</text>
<g transform="translate(1051.6 1098.7) scale(0.222) translate(-4 -918.8)" stroke-width="6" stroke-linejoin="round"><use href="#kc8_10" fill="#d9afaf" stroke="#d9afaf"/><use href="#kc16_17" fill="#d9afaf" stroke="#d9afaf"/><use href="#kc18_21" fill="#df8282" stroke="#df8282"/><use href="#kc22" fill="#df8282" stroke="#df8282"/><use href="#kc23" fill="#df8282" stroke="#df8282"/><use href="#kc6" fill="#df8282" stroke="#df8282"/><use href="#kc6t" fill="#df8282" stroke="#df8282"/><use href="#kc3_5" fill="#d9afaf" stroke="#d9afaf"/><use href="#kc7_15" fill="#d9afaf" stroke="#d9afaf"/><use href="#kc2" fill="#df8282" stroke="#df8282"/><use href="#kc1" fill="#d9afaf" stroke="#d9afaf"/><use href="#kv2_31" fill="#d1cdcd" stroke="#d1cdcd"/><use href="#kc32" fill="#d9afaf" stroke="#d9afaf"/><use href="#kc30_34" fill="#d9afaf" stroke="#d9afaf"/><use href="#kc24_29" fill="#df8282" stroke="#df8282"/><use href="#kc33" fill="#d9afaf" stroke="#d9afaf"/><use href="#kc37" fill="#d9afaf" stroke="#d9afaf"/><use href="#kc35_38" fill="#e63c3c" stroke="#e63c3c"/><use href="#kc42_43" fill="#df8282" stroke="#df8282"/><use href="#kc39_40" fill="#e63c3c" stroke="#e63c3c"/><use href="#kc25" fill="#df8282" stroke="#df8282"/><use href="#kc47_49" fill="#df8282" stroke="#df8282"/><use href="#kc28" fill="#df8282" stroke="#df8282"/><use href="#kv2_1_6" fill="#d1cdcd" stroke="#d1cdcd"/><use href="#kv2_7_19" fill="#d1cdcd" stroke="#d1cdcd"/><use href="#kv2_33_35" fill="#d1cdcd" stroke="#d1cdcd"/><use href="#kv2_20_29" fill="#d1cdcd" stroke="#d1cdcd"/><use href="#kv2_40_42" fill="#d1cdcd" stroke="#d1cdcd"/><use href="#kv2_22" fill="#d1cdcd" stroke="#d1cdcd"/><use href="#kv2_23" fill="#d1cdcd" stroke="#d1cdcd"/><use href="#kv2_36_39" fill="#d1cdcd" stroke="#d1cdcd"/><use href="#kv2_21" fill="#d1cdcd" stroke="#d1cdcd"/><use href="#kv1_1_27" fill="#d1cdcd" stroke="#d1cdcd"/><use href="#kv1_5_7" fill="#d1cdcd" stroke="#d1cdcd"/><use href="#kv1_16" fill="#d1cdcd" stroke="#d1cdcd"/><use href="#kv1_17" fill="#d1cdcd" stroke="#d1cdcd"/><use href="#kv1_21_24" fill="#d1cdcd" stroke="#d1cdcd"/><use href="#kv1_20a" fill="#d1cdcd" stroke="#d1cdcd"/><use href="#kv1_20b" fill="#d1cdcd" stroke="#d1cdcd"/><use href="#kv1_18_19" fill="#d1cdcd" stroke="#d1cdcd"/><use href="#kv1_12_15" fill="#d1cdcd" stroke="#d1cdcd"/><use href="#kv1_10_11" fill="#d1cdcd" stroke="#d1cdcd"/><use href="#kv1_25_26" fill="#d1cdcd" stroke="#d1cdcd"/><use href="#kv1_30_32" fill="#d1cdcd" stroke="#d1cdcd"/><use href="#kc52_56" fill="#df8282" stroke="#df8282"/><use href="#kc50_51" fill="#d9afaf" stroke="#d9afaf"/><use href="#kc46" fill="#df8282" stroke="#df8282"/><use href="#kc45" fill="#df8282" stroke="#df8282"/><use href="#kc44" fill="#df8282" stroke="#df8282"/><use href="#kv1_28_29" fill="#d1cdcd" stroke="#d1cdcd"/><use href="#kv1_2_4" fill="#d1cdcd" stroke="#d1cdcd"/><use href="#kv1_8" fill="#d1cdcd" stroke="#d1cdcd"/><use href="#kv1_7" fill="#d1cdcd" stroke="#d1cdcd"/></g><rect x="1047.6" y="1094.7" width="228.9" height="241.1" fill="url(#spkS)"/><g transform="translate(1050.8 1405.6) scale(0.222) translate(-4 -918.8)" stroke-width="6" stroke-linejoin="round"><use href="#kc8_10" fill="#d1cdcd" stroke="#d1cdcd"/><use href="#kc16_17" fill="#d1cdcd" stroke="#d1cdcd"/><use href="#kc18_21" fill="#d1cdcd" stroke="#d1cdcd"/><use href="#kc22" fill="#d1cdcd" stroke="#d1cdcd"/><use href="#kc23" fill="#d1cdcd" stroke="#d1cdcd"/><use href="#kc6" fill="#d1cdcd" stroke="#d1cdcd"/><use href="#kc6t" fill="#d1cdcd" stroke="#d1cdcd"/><use href="#kc3_5" fill="#d1cdcd" stroke="#d1cdcd"/><use href="#kc7_15" fill="#d1cdcd" stroke="#d1cdcd"/><use href="#kc2" fill="#d1cdcd" stroke="#d1cdcd"/><use href="#kc1" fill="#d1cdcd" stroke="#d1cdcd"/><use href="#kv2_31" fill="#df8282" stroke="#df8282"/><use href="#kc32" fill="#d1cdcd" stroke="#d1cdcd"/><use href="#kc30_34" fill="#d1cdcd" stroke="#d1cdcd"/><use href="#kc24_29" fill="#d1cdcd" stroke="#d1cdcd"/><use href="#kc33" fill="#d1cdcd" stroke="#d1cdcd"/><use href="#kc37" fill="#d1cdcd" stroke="#d1cdcd"/><use href="#kc35_38" fill="#d1cdcd" stroke="#d1cdcd"/><use href="#kc42_43" fill="#d9afaf" stroke="#d9afaf"/><use href="#kc39_40" fill="#d1cdcd" stroke="#d1cdcd"/><use href="#kc25" fill="#d1cdcd" stroke="#d1cdcd"/><use href="#kc47_49" fill="#d1cdcd" stroke="#d1cdcd"/><use href="#kc28" fill="#d1cdcd" stroke="#d1cdcd"/><use href="#kv2_1_6" fill="#e63c3c" stroke="#e63c3c"/><use href="#kv2_7_19" fill="#e63c3c" stroke="#e63c3c"/><use href="#kv2_33_35" fill="#df8282" stroke="#df8282"/><use href="#kv2_20_29" fill="#df8282" stroke="#df8282"/><use href="#kv2_40_42" fill="#df8282" stroke="#df8282"/><use href="#kv2_22" fill="#df8282" stroke="#df8282"/><use href="#kv2_23" fill="#d9afaf" stroke="#d9afaf"/><use href="#kv2_36_39" fill="#df8282" stroke="#df8282"/><use href="#kv2_21" fill="#df8282" stroke="#df8282"/><use href="#kv1_1_27" fill="#d1cdcd" stroke="#d1cdcd"/><use href="#kv1_5_7" fill="#d1cdcd" stroke="#d1cdcd"/><use href="#kv1_16" fill="#d1cdcd" stroke="#d1cdcd"/><use href="#kv1_17" fill="#d1cdcd" stroke="#d1cdcd"/><use href="#kv1_21_24" fill="#d1cdcd" stroke="#d1cdcd"/><use href="#kv1_20a" fill="#d1cdcd" stroke="#d1cdcd"/><use href="#kv1_20b" fill="#d1cdcd" stroke="#d1cdcd"/><use href="#kv1_18_19" fill="#d1cdcd" stroke="#d1cdcd"/><use href="#kv1_12_15" fill="#d1cdcd" stroke="#d1cdcd"/><use href="#kv1_10_11" fill="#d1cdcd" stroke="#d1cdcd"/><use href="#kv1_25_26" fill="#d1cdcd" stroke="#d1cdcd"/><use href="#kv1_30_32" fill="#d1cdcd" stroke="#d1cdcd"/><use href="#kc52_56" fill="#d9afaf" stroke="#d9afaf"/><use href="#kc50_51" fill="#d1cdcd" stroke="#d1cdcd"/><use href="#kc46" fill="#d1cdcd" stroke="#d1cdcd"/><use href="#kc45" fill="#d9afaf" stroke="#d9afaf"/><use href="#kc44" fill="#d1cdcd" stroke="#d1cdcd"/><use href="#kv1_28_29" fill="#d9afaf" stroke="#d9afaf"/><use href="#kv1_2_4" fill="#d1cdcd" stroke="#d1cdcd"/><use href="#kv1_8" fill="#d9afaf" stroke="#d9afaf"/><use href="#kv1_7" fill="#d1cdcd" stroke="#d1cdcd"/></g><rect x="1046.8" y="1401.6" width="228.9" height="241.1" fill="url(#spkS)"/><g transform="translate(1051.6 1709.4) scale(0.222) translate(-4 -918.8)" stroke-width="6" stroke-linejoin="round"><use href="#kc8_10" fill="#d1cdcd" stroke="#d1cdcd"/><use href="#kc16_17" fill="#d1cdcd" stroke="#d1cdcd"/><use href="#kc18_21" fill="#d1cdcd" stroke="#d1cdcd"/><use href="#kc22" fill="#d1cdcd" stroke="#d1cdcd"/><use href="#kc23" fill="#d1cdcd" stroke="#d1cdcd"/><use href="#kc6" fill="#d1cdcd" stroke="#d1cdcd"/><use href="#kc6t" fill="#d1cdcd" stroke="#d1cdcd"/><use href="#kc3_5" fill="#d1cdcd" stroke="#d1cdcd"/><use href="#kc7_15" fill="#d1cdcd" stroke="#d1cdcd"/><use href="#kc2" fill="#d1cdcd" stroke="#d1cdcd"/><use href="#kc1" fill="#d1cdcd" stroke="#d1cdcd"/><use href="#kv2_31" fill="#d1cdcd" stroke="#d1cdcd"/><use href="#kc32" fill="#d1cdcd" stroke="#d1cdcd"/><use href="#kc30_34" fill="#d1cdcd" stroke="#d1cdcd"/><use href="#kc24_29" fill="#d1cdcd" stroke="#d1cdcd"/><use href="#kc33" fill="#d1cdcd" stroke="#d1cdcd"/><use href="#kc37" fill="#d1cdcd" stroke="#d1cdcd"/><use href="#kc35_38" fill="#d1cdcd" stroke="#d1cdcd"/><use href="#kc42_43" fill="#d1cdcd" stroke="#d1cdcd"/><use href="#kc39_40" fill="#d1cdcd" stroke="#d1cdcd"/><use href="#kc25" fill="#d1cdcd" stroke="#d1cdcd"/><use href="#kc47_49" fill="#d1cdcd" stroke="#d1cdcd"/><use href="#kc28" fill="#d1cdcd" stroke="#d1cdcd"/><use href="#kv2_1_6" fill="#d1cdcd" stroke="#d1cdcd"/><use href="#kv2_7_19" fill="#d1cdcd" stroke="#d1cdcd"/><use href="#kv2_33_35" fill="#d1cdcd" stroke="#d1cdcd"/><use href="#kv2_20_29" fill="#d1cdcd" stroke="#d1cdcd"/><use href="#kv2_40_42" fill="#d1cdcd" stroke="#d1cdcd"/><use href="#kv2_22" fill="#d1cdcd" stroke="#d1cdcd"/><use href="#kv2_23" fill="#d1cdcd" stroke="#d1cdcd"/><use href="#kv2_36_39" fill="#d1cdcd" stroke="#d1cdcd"/><use href="#kv2_21" fill="#d1cdcd" stroke="#d1cdcd"/><use href="#kv1_1_27" fill="#d1cdcd" stroke="#d1cdcd"/><use href="#kv1_5_7" fill="#df8282" stroke="#df8282"/><use href="#kv1_16" fill="#d1cdcd" stroke="#d1cdcd"/><use href="#kv1_17" fill="#d9afaf" stroke="#d9afaf"/><use href="#kv1_21_24" fill="#d9afaf" stroke="#d9afaf"/><use href="#kv1_20a" fill="#d9afaf" stroke="#d9afaf"/><use href="#kv1_20b" fill="#d9afaf" stroke="#d9afaf"/><use href="#kv1_18_19" fill="#d9afaf" stroke="#d9afaf"/><use href="#kv1_12_15" fill="#d9afaf" stroke="#d9afaf"/><use href="#kv1_10_11" fill="#d9afaf" stroke="#d9afaf"/><use href="#kv1_25_26" fill="#d9afaf" stroke="#d9afaf"/><use href="#kv1_30_32" fill="#df8282" stroke="#df8282"/><use href="#kc52_56" fill="#d1cdcd" stroke="#d1cdcd"/><use href="#kc50_51" fill="#d1cdcd" stroke="#d1cdcd"/><use href="#kc46" fill="#d1cdcd" stroke="#d1cdcd"/><use href="#kc45" fill="#d1cdcd" stroke="#d1cdcd"/><use href="#kc44" fill="#d1cdcd" stroke="#d1cdcd"/><use href="#kv1_28_29" fill="#d9afaf" stroke="#d9afaf"/><use href="#kv1_2_4" fill="#df8282" stroke="#df8282"/><use href="#kv1_8" fill="#d9afaf" stroke="#d9afaf"/><use href="#kv1_7" fill="#d9afaf" stroke="#d9afaf"/></g><rect x="1047.6" y="1705.4" width="228.9" height="241.1" fill="url(#spkS)"/><g transform="translate(157.6 2005.0) scale(0.245) translate(-4 -918.8)" stroke-width="6" stroke-linejoin="round"><use href="#kc8_10" fill="#d9afaf" stroke="#d9afaf"/><use href="#kc16_17" fill="#df8282" stroke="#df8282"/><use href="#kc18_21" fill="#df8282" stroke="#df8282"/><use href="#kc22" fill="#d9afaf" stroke="#d9afaf"/><use href="#kc23" fill="#df8282" stroke="#df8282"/><use href="#kc6" fill="#df8282" stroke="#df8282"/><use href="#kc6t" fill="#df8282" stroke="#df8282"/><use href="#kc3_5" fill="#e63c3c" stroke="#e63c3c"/><use href="#kc7_15" fill="#df8282" stroke="#df8282"/><use href="#kc2" fill="#e63c3c" stroke="#e63c3c"/><use href="#kc1" fill="#df8282" stroke="#df8282"/><use href="#kv2_31" fill="#d1cdcd" stroke="#d1cdcd"/><use href="#kc32" fill="#d9afaf" stroke="#d9afaf"/><use href="#kc30_34" fill="#d1cdcd" stroke="#d1cdcd"/><use href="#kc24_29" fill="#d9afaf" stroke="#d9afaf"/><use href="#kc33" fill="#d1cdcd" stroke="#d1cdcd"/><use href="#kc37" fill="#d9afaf" stroke="#d9afaf"/><use href="#kc35_38" fill="#d9afaf" stroke="#d9afaf"/><use href="#kc42_43" fill="#d1cdcd" stroke="#d1cdcd"/><use href="#kc39_40" fill="#d9afaf" stroke="#d9afaf"/><use href="#kc25" fill="#d1cdcd" stroke="#d1cdcd"/><use href="#kc47_49" fill="#d9afaf" stroke="#d9afaf"/><use href="#kc28" fill="#d1cdcd" stroke="#d1cdcd"/><use href="#kv2_1_6" fill="#df8282" stroke="#df8282"/><use href="#kv2_7_19" fill="#df8282" stroke="#df8282"/><use href="#kv2_33_35" fill="#df8282" stroke="#df8282"/><use href="#kv2_20_29" fill="#d9afaf" stroke="#d9afaf"/><use href="#kv2_40_42" fill="#d1cdcd" stroke="#d1cdcd"/><use href="#kv2_22" fill="#d1cdcd" stroke="#d1cdcd"/><use href="#kv2_23" fill="#d1cdcd" stroke="#d1cdcd"/><use href="#kv2_36_39" fill="#df8282" stroke="#df8282"/><use href="#kv2_21" fill="#d1cdcd" stroke="#d1cdcd"/><use href="#kv1_1_27" fill="#d1cdcd" stroke="#d1cdcd"/><use href="#kv1_5_7" fill="#d1cdcd" stroke="#d1cdcd"/><use href="#kv1_16" fill="#d1cdcd" stroke="#d1cdcd"/><use href="#kv1_17" fill="#d1cdcd" stroke="#d1cdcd"/><use href="#kv1_21_24" fill="#d9afaf" stroke="#d9afaf"/><use href="#kv1_20a" fill="#d1cdcd" stroke="#d1cdcd"/><use href="#kv1_20b" fill="#d1cdcd" stroke="#d1cdcd"/><use href="#kv1_18_19" fill="#d1cdcd" stroke="#d1cdcd"/><use href="#kv1_12_15" fill="#d9afaf" stroke="#d9afaf"/><use href="#kv1_10_11" fill="#df8282" stroke="#df8282"/><use href="#kv1_25_26" fill="#d1cdcd" stroke="#d1cdcd"/><use href="#kv1_30_32" fill="#d9afaf" stroke="#d9afaf"/><use href="#kc52_56" fill="#d9afaf" stroke="#d9afaf"/><use href="#kc50_51" fill="#d1cdcd" stroke="#d1cdcd"/><use href="#kc46" fill="#d9afaf" stroke="#d9afaf"/><use href="#kc45" fill="#d1cdcd" stroke="#d1cdcd"/><use href="#kc44" fill="#d9afaf" stroke="#d9afaf"/><use href="#kv1_28_29" fill="#d1cdcd" stroke="#d1cdcd"/><use href="#kv1_2_4" fill="#d1cdcd" stroke="#d1cdcd"/><use href="#kv1_8" fill="#d1cdcd" stroke="#d1cdcd"/><use href="#kv1_7" fill="#d1cdcd" stroke="#d1cdcd"/></g><rect x="153.6" y="2001.0" width="251.8" height="265.2" fill="url(#spkS)"/><g transform="translate(450.2 2005.0) scale(0.245) translate(-4 -918.8)" stroke-width="6" stroke-linejoin="round"><use href="#kc8_10" fill="#d9afaf" stroke="#d9afaf"/><use href="#kc16_17" fill="#d1cdcd" stroke="#d1cdcd"/><use href="#kc18_21" fill="#df8282" stroke="#df8282"/><use href="#kc22" fill="#df8282" stroke="#df8282"/><use href="#kc23" fill="#df8282" stroke="#df8282"/><use href="#kc6" fill="#df8282" stroke="#df8282"/><use href="#kc6t" fill="#df8282" stroke="#df8282"/><use href="#kc3_5" fill="#df8282" stroke="#df8282"/><use href="#kc7_15" fill="#df8282" stroke="#df8282"/><use href="#kc2" fill="#e63c3c" stroke="#e63c3c"/><use href="#kc1" fill="#d1cdcd" stroke="#d1cdcd"/><use href="#kv2_31" fill="#d1cdcd" stroke="#d1cdcd"/><use href="#kc32" fill="#e1dfdf" stroke="#e1dfdf"/><use href="#kc30_34" fill="#e1dfdf" stroke="#e1dfdf"/><use href="#kc24_29" fill="#d9afaf" stroke="#d9afaf"/><use href="#kc33" fill="#e1dfdf" stroke="#e1dfdf"/><use href="#kc37" fill="#e1dfdf" stroke="#e1dfdf"/><use href="#kc35_38" fill="#e1dfdf" stroke="#e1dfdf"/><use href="#kc42_43" fill="#e1dfdf" stroke="#e1dfdf"/><use href="#kc39_40" fill="#e1dfdf" stroke="#e1dfdf"/><use href="#kc25" fill="#e1dfdf" stroke="#e1dfdf"/><use href="#kc47_49" fill="#e1dfdf" stroke="#e1dfdf"/><use href="#kc28" fill="#e1dfdf" stroke="#e1dfdf"/><use href="#kv2_1_6" fill="#e1dfdf" stroke="#e1dfdf"/><use href="#kv2_7_19" fill="#e1dfdf" stroke="#e1dfdf"/><use href="#kv2_33_35" fill="#e1dfdf" stroke="#e1dfdf"/><use href="#kv2_20_29" fill="#e1dfdf" stroke="#e1dfdf"/><use href="#kv2_40_42" fill="#e1dfdf" stroke="#e1dfdf"/><use href="#kv2_22" fill="#e1dfdf" stroke="#e1dfdf"/><use href="#kv2_23" fill="#e1dfdf" stroke="#e1dfdf"/><use href="#kv2_36_39" fill="#e1dfdf" stroke="#e1dfdf"/><use href="#kv2_21" fill="#e1dfdf" stroke="#e1dfdf"/><use href="#kv1_1_27" fill="#e1dfdf" stroke="#e1dfdf"/><use href="#kv1_5_7" fill="#e1dfdf" stroke="#e1dfdf"/><use href="#kv1_16" fill="#e1dfdf" stroke="#e1dfdf"/><use href="#kv1_17" fill="#e1dfdf" stroke="#e1dfdf"/><use href="#kv1_21_24" fill="#e1dfdf" stroke="#e1dfdf"/><use href="#kv1_20a" fill="#e1dfdf" stroke="#e1dfdf"/><use href="#kv1_20b" fill="#e1dfdf" stroke="#e1dfdf"/><use href="#kv1_18_19" fill="#e1dfdf" stroke="#e1dfdf"/><use href="#kv1_12_15" fill="#e1dfdf" stroke="#e1dfdf"/><use href="#kv1_10_11" fill="#e1dfdf" stroke="#e1dfdf"/><use href="#kv1_25_26" fill="#e1dfdf" stroke="#e1dfdf"/><use href="#kv1_30_32" fill="#e1dfdf" stroke="#e1dfdf"/><use href="#kc52_56" fill="#e1dfdf" stroke="#e1dfdf"/><use href="#kc50_51" fill="#e1dfdf" stroke="#e1dfdf"/><use href="#kc46" fill="#e1dfdf" stroke="#e1dfdf"/><use href="#kc45" fill="#e1dfdf" stroke="#e1dfdf"/><use href="#kc44" fill="#e1dfdf" stroke="#e1dfdf"/><use href="#kv1_28_29" fill="#e1dfdf" stroke="#e1dfdf"/><use href="#kv1_2_4" fill="#e1dfdf" stroke="#e1dfdf"/><use href="#kv1_8" fill="#e1dfdf" stroke="#e1dfdf"/><use href="#kv1_7" fill="#e1dfdf" stroke="#e1dfdf"/></g><rect x="446.2" y="2001.0" width="251.8" height="265.2" fill="url(#spkS)"/><g transform="translate(743.7 2005.0) scale(0.245) translate(-4 -918.8)" stroke-width="6" stroke-linejoin="round"><use href="#kc8_10" fill="#d1cdcd" stroke="#d1cdcd"/><use href="#kc16_17" fill="#df8282" stroke="#df8282"/><use href="#kc18_21" fill="#d9afaf" stroke="#d9afaf"/><use href="#kc22" fill="#d1cdcd" stroke="#d1cdcd"/><use href="#kc23" fill="#df8282" stroke="#df8282"/><use href="#kc6" fill="#df8282" stroke="#df8282"/><use href="#kc6t" fill="#df8282" stroke="#df8282"/><use href="#kc3_5" fill="#e63c3c" stroke="#e63c3c"/><use href="#kc7_15" fill="#d1cdcd" stroke="#d1cdcd"/><use href="#kc2" fill="#e63c3c" stroke="#e63c3c"/><use href="#kc1" fill="#d9afaf" stroke="#d9afaf"/><use href="#kv2_31" fill="#d1cdcd" stroke="#d1cdcd"/><use href="#kc32" fill="#d1cdcd" stroke="#d1cdcd"/><use href="#kc30_34" fill="#d1cdcd" stroke="#d1cdcd"/><use href="#kc24_29" fill="#d9afaf" stroke="#d9afaf"/><use href="#kc33" fill="#d1cdcd" stroke="#d1cdcd"/><use href="#kc37" fill="#d1cdcd" stroke="#d1cdcd"/><use href="#kc35_38" fill="#d1cdcd" stroke="#d1cdcd"/><use href="#kc42_43" fill="#d9afaf" stroke="#d9afaf"/><use href="#kc39_40" fill="#d9afaf" stroke="#d9afaf"/><use href="#kc25" fill="#df8282" stroke="#df8282"/><use href="#kc47_49" fill="#d1cdcd" stroke="#d1cdcd"/><use href="#kc28" fill="#d1cdcd" stroke="#d1cdcd"/><use href="#kv2_1_6" fill="#df8282" stroke="#df8282"/><use href="#kv2_7_19" fill="#df8282" stroke="#df8282"/><use href="#kv2_33_35" fill="#df8282" stroke="#df8282"/><use href="#kv2_20_29" fill="#d9afaf" stroke="#d9afaf"/><use href="#kv2_40_42" fill="#d9afaf" stroke="#d9afaf"/><use href="#kv2_22" fill="#d1cdcd" stroke="#d1cdcd"/><use href="#kv2_23" fill="#d1cdcd" stroke="#d1cdcd"/><use href="#kv2_36_39" fill="#df8282" stroke="#df8282"/><use href="#kv2_21" fill="#d1cdcd" stroke="#d1cdcd"/><use href="#kv1_1_27" fill="#d1cdcd" stroke="#d1cdcd"/><use href="#kv1_5_7" fill="#d1cdcd" stroke="#d1cdcd"/><use href="#kv1_16" fill="#d1cdcd" stroke="#d1cdcd"/><use href="#kv1_17" fill="#d1cdcd" stroke="#d1cdcd"/><use href="#kv1_21_24" fill="#d1cdcd" stroke="#d1cdcd"/><use href="#kv1_20a" fill="#d1cdcd" stroke="#d1cdcd"/><use href="#kv1_20b" fill="#d1cdcd" stroke="#d1cdcd"/><use href="#kv1_18_19" fill="#d1cdcd" stroke="#d1cdcd"/><use href="#kv1_12_15" fill="#d1cdcd" stroke="#d1cdcd"/><use href="#kv1_10_11" fill="#d1cdcd" stroke="#d1cdcd"/><use href="#kv1_25_26" fill="#d1cdcd" stroke="#d1cdcd"/><use href="#kv1_30_32" fill="#d1cdcd" stroke="#d1cdcd"/><use href="#kc52_56" fill="#d9afaf" stroke="#d9afaf"/><use href="#kc50_51" fill="#df8282" stroke="#df8282"/><use href="#kc46" fill="#d9afaf" stroke="#d9afaf"/><use href="#kc45" fill="#d1cdcd" stroke="#d1cdcd"/><use href="#kc44" fill="#d1cdcd" stroke="#d1cdcd"/><use href="#kv1_28_29" fill="#d1cdcd" stroke="#d1cdcd"/><use href="#kv1_2_4" fill="#d1cdcd" stroke="#d1cdcd"/><use href="#kv1_8" fill="#d1cdcd" stroke="#d1cdcd"/><use href="#kv1_7" fill="#d1cdcd" stroke="#d1cdcd"/></g><rect x="739.7" y="2001.0" width="251.8" height="265.2" fill="url(#spkS)"/><g transform="translate(1034.6 2005.0) scale(0.245) translate(-4 -918.8)" stroke-width="6" stroke-linejoin="round"><use href="#kc8_10" fill="#df8282" stroke="#df8282"/><use href="#kc16_17" fill="#df8282" stroke="#df8282"/><use href="#kc18_21" fill="#d9afaf" stroke="#d9afaf"/><use href="#kc22" fill="#d1cdcd" stroke="#d1cdcd"/><use href="#kc23" fill="#d9afaf" stroke="#d9afaf"/><use href="#kc6" fill="#d9afaf" stroke="#d9afaf"/><use href="#kc6t" fill="#d9afaf" stroke="#d9afaf"/><use href="#kc3_5" fill="#df8282" stroke="#df8282"/><use href="#kc7_15" fill="#df8282" stroke="#df8282"/><use href="#kc2" fill="#df8282" stroke="#df8282"/><use href="#kc1" fill="#d9afaf" stroke="#d9afaf"/><use href="#kv2_31" fill="#d1cdcd" stroke="#d1cdcd"/><use href="#kc32" fill="#d9afaf" stroke="#d9afaf"/><use href="#kc30_34" fill="#d9afaf" stroke="#d9afaf"/><use href="#kc24_29" fill="#d9afaf" stroke="#d9afaf"/><use href="#kc33" fill="#d9afaf" stroke="#d9afaf"/><use href="#kc37" fill="#d9afaf" stroke="#d9afaf"/><use href="#kc35_38" fill="#d9afaf" stroke="#d9afaf"/><use href="#kc42_43" fill="#d9afaf" stroke="#d9afaf"/><use href="#kc39_40" fill="#d9afaf" stroke="#d9afaf"/><use href="#kc25" fill="#d9afaf" stroke="#d9afaf"/><use href="#kc47_49" fill="#d9afaf" stroke="#d9afaf"/><use href="#kc28" fill="#d9afaf" stroke="#d9afaf"/><use href="#kv2_1_6" fill="#d9afaf" stroke="#d9afaf"/><use href="#kv2_7_19" fill="#d9afaf" stroke="#d9afaf"/><use href="#kv2_33_35" fill="#d9afaf" stroke="#d9afaf"/><use href="#kv2_20_29" fill="#d9afaf" stroke="#d9afaf"/><use href="#kv2_40_42" fill="#d9afaf" stroke="#d9afaf"/><use href="#kv2_22" fill="#d9afaf" stroke="#d9afaf"/><use href="#kv2_23" fill="#d9afaf" stroke="#d9afaf"/><use href="#kv2_36_39" fill="#d9afaf" stroke="#d9afaf"/><use href="#kv2_21" fill="#d9afaf" stroke="#d9afaf"/><use href="#kv1_1_27" fill="#d9afaf" stroke="#d9afaf"/><use href="#kv1_5_7" fill="#df8282" stroke="#df8282"/><use href="#kv1_16" fill="#d9afaf" stroke="#d9afaf"/><use href="#kv1_17" fill="#df8282" stroke="#df8282"/><use href="#kv1_21_24" fill="#df8282" stroke="#df8282"/><use href="#kv1_20a" fill="#df8282" stroke="#df8282"/><use href="#kv1_20b" fill="#df8282" stroke="#df8282"/><use href="#kv1_18_19" fill="#df8282" stroke="#df8282"/><use href="#kv1_12_15" fill="#df8282" stroke="#df8282"/><use href="#kv1_10_11" fill="#df8282" stroke="#df8282"/><use href="#kv1_25_26" fill="#df8282" stroke="#df8282"/><use href="#kv1_30_32" fill="#df8282" stroke="#df8282"/><use href="#kc52_56" fill="#d9afaf" stroke="#d9afaf"/><use href="#kc50_51" fill="#d9afaf" stroke="#d9afaf"/><use href="#kc46" fill="#d9afaf" stroke="#d9afaf"/><use href="#kc45" fill="#d9afaf" stroke="#d9afaf"/><use href="#kc44" fill="#d9afaf" stroke="#d9afaf"/><use href="#kv1_28_29" fill="#df8282" stroke="#df8282"/><use href="#kv1_2_4" fill="#df8282" stroke="#df8282"/><use href="#kv1_8" fill="#df8282" stroke="#df8282"/><use href="#kv1_7" fill="#df8282" stroke="#df8282"/></g><rect x="1030.6" y="2001.0" width="251.8" height="265.2" fill="url(#spkS)"/><g transform="translate(158.5 2287.5) scale(0.245) translate(-4 -918.8)" stroke-width="6" stroke-linejoin="round"><use href="#kc8_10" fill="#d9afaf" stroke="#d9afaf"/><use href="#kc16_17" fill="#e63c3c" stroke="#e63c3c"/><use href="#kc18_21" fill="#e63c3c" stroke="#e63c3c"/><use href="#kc22" fill="#d9afaf" stroke="#d9afaf"/><use href="#kc23" fill="#d9afaf" stroke="#d9afaf"/><use href="#kc6" fill="#d9afaf" stroke="#d9afaf"/><use href="#kc6t" fill="#d9afaf" stroke="#d9afaf"/><use href="#kc3_5" fill="#d9afaf" stroke="#d9afaf"/><use href="#kc7_15" fill="#d9afaf" stroke="#d9afaf"/><use href="#kc2" fill="#d9afaf" stroke="#d9afaf"/><use href="#kc1" fill="#d1cdcd" stroke="#d1cdcd"/><use href="#kv2_31" fill="#e63c3c" stroke="#e63c3c"/><use href="#kc32" fill="#d1cdcd" stroke="#d1cdcd"/><use href="#kc30_34" fill="#d1cdcd" stroke="#d1cdcd"/><use href="#kc24_29" fill="#d9afaf" stroke="#d9afaf"/><use href="#kc33" fill="#d9afaf" stroke="#d9afaf"/><use href="#kc37" fill="#d1cdcd" stroke="#d1cdcd"/><use href="#kc35_38" fill="#d1cdcd" stroke="#d1cdcd"/><use href="#kc42_43" fill="#d9afaf" stroke="#d9afaf"/><use href="#kc39_40" fill="#d1cdcd" stroke="#d1cdcd"/><use href="#kc25" fill="#d9afaf" stroke="#d9afaf"/><use href="#kc47_49" fill="#d1cdcd" stroke="#d1cdcd"/><use href="#kc28" fill="#d1cdcd" stroke="#d1cdcd"/><use href="#kv2_1_6" fill="#d9afaf" stroke="#d9afaf"/><use href="#kv2_7_19" fill="#d9afaf" stroke="#d9afaf"/><use href="#kv2_33_35" fill="#df8282" stroke="#df8282"/><use href="#kv2_20_29" fill="#d9afaf" stroke="#d9afaf"/><use href="#kv2_40_42" fill="#df8282" stroke="#df8282"/><use href="#kv2_22" fill="#d9afaf" stroke="#d9afaf"/><use href="#kv2_23" fill="#d1cdcd" stroke="#d1cdcd"/><use href="#kv2_36_39" fill="#d1cdcd" stroke="#d1cdcd"/><use href="#kv2_21" fill="#d1cdcd" stroke="#d1cdcd"/><use href="#kv1_1_27" fill="#d1cdcd" stroke="#d1cdcd"/><use href="#kv1_5_7" fill="#d1cdcd" stroke="#d1cdcd"/><use href="#kv1_16" fill="#d1cdcd" stroke="#d1cdcd"/><use href="#kv1_17" fill="#d1cdcd" stroke="#d1cdcd"/><use href="#kv1_21_24" fill="#d1cdcd" stroke="#d1cdcd"/><use href="#kv1_20a" fill="#d1cdcd" stroke="#d1cdcd"/><use href="#kv1_20b" fill="#d1cdcd" stroke="#d1cdcd"/><use href="#kv1_18_19" fill="#d1cdcd" stroke="#d1cdcd"/><use href="#kv1_12_15" fill="#d1cdcd" stroke="#d1cdcd"/><use href="#kv1_10_11" fill="#d9afaf" stroke="#d9afaf"/><use href="#kv1_25_26" fill="#d1cdcd" stroke="#d1cdcd"/><use href="#kv1_30_32" fill="#d1cdcd" stroke="#d1cdcd"/><use href="#kc52_56" fill="#d1cdcd" stroke="#d1cdcd"/><use href="#kc50_51" fill="#d1cdcd" stroke="#d1cdcd"/><use href="#kc46" fill="#d9afaf" stroke="#d9afaf"/><use href="#kc45" fill="#d1cdcd" stroke="#d1cdcd"/><use href="#kc44" fill="#d1cdcd" stroke="#d1cdcd"/><use href="#kv1_28_29" fill="#d1cdcd" stroke="#d1cdcd"/><use href="#kv1_2_4" fill="#d1cdcd" stroke="#d1cdcd"/><use href="#kv1_8" fill="#d1cdcd" stroke="#d1cdcd"/><use href="#kv1_7" fill="#d1cdcd" stroke="#d1cdcd"/></g><rect x="154.5" y="2283.5" width="251.8" height="265.2" fill="url(#spkS)"/><g transform="translate(451.0 2287.5) scale(0.245) translate(-4 -918.8)" stroke-width="6" stroke-linejoin="round"><use href="#kc8_10" fill="#d1cdcd" stroke="#d1cdcd"/><use href="#kc16_17" fill="#d9afaf" stroke="#d9afaf"/><use href="#kc18_21" fill="#d9afaf" stroke="#d9afaf"/><use href="#kc22" fill="#e1dfdf" stroke="#e1dfdf"/><use href="#kc23" fill="#d9afaf" stroke="#d9afaf"/><use href="#kc6" fill="#d9afaf" stroke="#d9afaf"/><use href="#kc6t" fill="#d9afaf" stroke="#d9afaf"/><use href="#kc3_5" fill="#d9afaf" stroke="#d9afaf"/><use href="#kc7_15" fill="#df8282" stroke="#df8282"/><use href="#kc2" fill="#d9afaf" stroke="#d9afaf"/><use href="#kc1" fill="#e1dfdf" stroke="#e1dfdf"/><use href="#kv2_31" fill="#e1dfdf" stroke="#e1dfdf"/><use href="#kc32" fill="#e1dfdf" stroke="#e1dfdf"/><use href="#kc30_34" fill="#e1dfdf" stroke="#e1dfdf"/><use href="#kc24_29" fill="#d9afaf" stroke="#d9afaf"/><use href="#kc33" fill="#e1dfdf" stroke="#e1dfdf"/><use href="#kc37" fill="#e1dfdf" stroke="#e1dfdf"/><use href="#kc35_38" fill="#e1dfdf" stroke="#e1dfdf"/><use href="#kc42_43" fill="#d1cdcd" stroke="#d1cdcd"/><use href="#kc39_40" fill="#e1dfdf" stroke="#e1dfdf"/><use href="#kc25" fill="#d9afaf" stroke="#d9afaf"/><use href="#kc47_49" fill="#e1dfdf" stroke="#e1dfdf"/><use href="#kc28" fill="#e1dfdf" stroke="#e1dfdf"/><use href="#kv2_1_6" fill="#df8282" stroke="#df8282"/><use href="#kv2_7_19" fill="#df8282" stroke="#df8282"/><use href="#kv2_33_35" fill="#df8282" stroke="#df8282"/><use href="#kv2_20_29" fill="#d1cdcd" stroke="#d1cdcd"/><use href="#kv2_40_42" fill="#d1cdcd" stroke="#d1cdcd"/><use href="#kv2_22" fill="#e1dfdf" stroke="#e1dfdf"/><use href="#kv2_23" fill="#e1dfdf" stroke="#e1dfdf"/><use href="#kv2_36_39" fill="#e1dfdf" stroke="#e1dfdf"/><use href="#kv2_21" fill="#e1dfdf" stroke="#e1dfdf"/><use href="#kv1_1_27" fill="#e1dfdf" stroke="#e1dfdf"/><use href="#kv1_5_7" fill="#e1dfdf" stroke="#e1dfdf"/><use href="#kv1_16" fill="#e1dfdf" stroke="#e1dfdf"/><use href="#kv1_17" fill="#e1dfdf" stroke="#e1dfdf"/><use href="#kv1_21_24" fill="#e1dfdf" stroke="#e1dfdf"/><use href="#kv1_20a" fill="#e1dfdf" stroke="#e1dfdf"/><use href="#kv1_20b" fill="#e1dfdf" stroke="#e1dfdf"/><use href="#kv1_18_19" fill="#e1dfdf" stroke="#e1dfdf"/><use href="#kv1_12_15" fill="#e1dfdf" stroke="#e1dfdf"/><use href="#kv1_10_11" fill="#e1dfdf" stroke="#e1dfdf"/><use href="#kv1_25_26" fill="#e1dfdf" stroke="#e1dfdf"/><use href="#kv1_30_32" fill="#e1dfdf" stroke="#e1dfdf"/><use href="#kc52_56" fill="#d9afaf" stroke="#d9afaf"/><use href="#kc50_51" fill="#d1cdcd" stroke="#d1cdcd"/><use href="#kc46" fill="#d9afaf" stroke="#d9afaf"/><use href="#kc45" fill="#e1dfdf" stroke="#e1dfdf"/><use href="#kc44" fill="#e1dfdf" stroke="#e1dfdf"/><use href="#kv1_28_29" fill="#e1dfdf" stroke="#e1dfdf"/><use href="#kv1_2_4" fill="#d1cdcd" stroke="#d1cdcd"/><use href="#kv1_8" fill="#e1dfdf" stroke="#e1dfdf"/><use href="#kv1_7" fill="#e1dfdf" stroke="#e1dfdf"/></g><rect x="447.0" y="2283.5" width="251.8" height="265.2" fill="url(#spkS)"/><g transform="translate(743.7 2287.5) scale(0.245) translate(-4 -918.8)" stroke-width="6" stroke-linejoin="round"><use href="#kc8_10" fill="#e1dfdf" stroke="#e1dfdf"/><use href="#kc16_17" fill="#e1dfdf" stroke="#e1dfdf"/><use href="#kc18_21" fill="#e1dfdf" stroke="#e1dfdf"/><use href="#kc22" fill="#e1dfdf" stroke="#e1dfdf"/><use href="#kc23" fill="#e1dfdf" stroke="#e1dfdf"/><use href="#kc6" fill="#e1dfdf" stroke="#e1dfdf"/><use href="#kc6t" fill="#e1dfdf" stroke="#e1dfdf"/><use href="#kc3_5" fill="#e1dfdf" stroke="#e1dfdf"/><use href="#kc7_15" fill="#d1cdcd" stroke="#d1cdcd"/><use href="#kc2" fill="#e1dfdf" stroke="#e1dfdf"/><use href="#kc1" fill="#e1dfdf" stroke="#e1dfdf"/><use href="#kv2_31" fill="#e1dfdf" stroke="#e1dfdf"/><use href="#kc32" fill="#e1dfdf" stroke="#e1dfdf"/><use href="#kc30_34" fill="#e1dfdf" stroke="#e1dfdf"/><use href="#kc24_29" fill="#e1dfdf" stroke="#e1dfdf"/><use href="#kc33" fill="#e1dfdf" stroke="#e1dfdf"/><use href="#kc37" fill="#e1dfdf" stroke="#e1dfdf"/><use href="#kc35_38" fill="#e1dfdf" stroke="#e1dfdf"/><use href="#kc42_43" fill="#e1dfdf" stroke="#e1dfdf"/><use href="#kc39_40" fill="#e1dfdf" stroke="#e1dfdf"/><use href="#kc25" fill="#e1dfdf" stroke="#e1dfdf"/><use href="#kc47_49" fill="#e1dfdf" stroke="#e1dfdf"/><use href="#kc28" fill="#e1dfdf" stroke="#e1dfdf"/><use href="#kv2_1_6" fill="#df8282" stroke="#df8282"/><use href="#kv2_7_19" fill="#df8282" stroke="#df8282"/><use href="#kv2_33_35" fill="#df8282" stroke="#df8282"/><use href="#kv2_20_29" fill="#d1cdcd" stroke="#d1cdcd"/><use href="#kv2_40_42" fill="#d9afaf" stroke="#d9afaf"/><use href="#kv2_22" fill="#e1dfdf" stroke="#e1dfdf"/><use href="#kv2_23" fill="#e1dfdf" stroke="#e1dfdf"/><use href="#kv2_36_39" fill="#df8282" stroke="#df8282"/><use href="#kv2_21" fill="#e1dfdf" stroke="#e1dfdf"/><use href="#kv1_1_27" fill="#e1dfdf" stroke="#e1dfdf"/><use href="#kv1_5_7" fill="#e1dfdf" stroke="#e1dfdf"/><use href="#kv1_16" fill="#e1dfdf" stroke="#e1dfdf"/><use href="#kv1_17" fill="#e1dfdf" stroke="#e1dfdf"/><use href="#kv1_21_24" fill="#e1dfdf" stroke="#e1dfdf"/><use href="#kv1_20a" fill="#e1dfdf" stroke="#e1dfdf"/><use href="#kv1_20b" fill="#e1dfdf" stroke="#e1dfdf"/><use href="#kv1_18_19" fill="#e1dfdf" stroke="#e1dfdf"/><use href="#kv1_12_15" fill="#e1dfdf" stroke="#e1dfdf"/><use href="#kv1_10_11" fill="#e1dfdf" stroke="#e1dfdf"/><use href="#kv1_25_26" fill="#e1dfdf" stroke="#e1dfdf"/><use href="#kv1_30_32" fill="#e1dfdf" stroke="#e1dfdf"/><use href="#kc52_56" fill="#e1dfdf" stroke="#e1dfdf"/><use href="#kc50_51" fill="#e1dfdf" stroke="#e1dfdf"/><use href="#kc46" fill="#e1dfdf" stroke="#e1dfdf"/><use href="#kc45" fill="#e1dfdf" stroke="#e1dfdf"/><use href="#kc44" fill="#e1dfdf" stroke="#e1dfdf"/><use href="#kv1_28_29" fill="#e1dfdf" stroke="#e1dfdf"/><use href="#kv1_2_4" fill="#e1dfdf" stroke="#e1dfdf"/><use href="#kv1_8" fill="#e1dfdf" stroke="#e1dfdf"/><use href="#kv1_7" fill="#e1dfdf" stroke="#e1dfdf"/></g><rect x="739.7" y="2283.5" width="251.8" height="265.2" fill="url(#spkS)"/><g transform="translate(1034.6 2287.5) scale(0.245) translate(-4 -918.8)" stroke-width="6" stroke-linejoin="round"><use href="#kc8_10" fill="#d1cdcd" stroke="#d1cdcd"/><use href="#kc16_17" fill="#d1cdcd" stroke="#d1cdcd"/><use href="#kc18_21" fill="#d1cdcd" stroke="#d1cdcd"/><use href="#kc22" fill="#d1cdcd" stroke="#d1cdcd"/><use href="#kc23" fill="#d1cdcd" stroke="#d1cdcd"/><use href="#kc6" fill="#d1cdcd" stroke="#d1cdcd"/><use href="#kc6t" fill="#d1cdcd" stroke="#d1cdcd"/><use href="#kc3_5" fill="#df8282" stroke="#df8282"/><use href="#kc7_15" fill="#d1cdcd" stroke="#d1cdcd"/><use href="#kc2" fill="#df8282" stroke="#df8282"/><use href="#kc1" fill="#d1cdcd" stroke="#d1cdcd"/><use href="#kv2_31" fill="#d9afaf" stroke="#d9afaf"/><use href="#kc32" fill="#d9afaf" stroke="#d9afaf"/><use href="#kc30_34" fill="#d1cdcd" stroke="#d1cdcd"/><use href="#kc24_29" fill="#d1cdcd" stroke="#d1cdcd"/><use href="#kc33" fill="#df8282" stroke="#df8282"/><use href="#kc37" fill="#df8282" stroke="#df8282"/><use href="#kc35_38" fill="#d9afaf" stroke="#d9afaf"/><use href="#kc42_43" fill="#d9afaf" stroke="#d9afaf"/><use href="#kc39_40" fill="#d9afaf" stroke="#d9afaf"/><use href="#kc25" fill="#d1cdcd" stroke="#d1cdcd"/><use href="#kc47_49" fill="#df8282" stroke="#df8282"/><use href="#kc28" fill="#df8282" stroke="#df8282"/><use href="#kv2_1_6" fill="#d1cdcd" stroke="#d1cdcd"/><use href="#kv2_7_19" fill="#d1cdcd" stroke="#d1cdcd"/><use href="#kv2_33_35" fill="#d1cdcd" stroke="#d1cdcd"/><use href="#kv2_20_29" fill="#d1cdcd" stroke="#d1cdcd"/><use href="#kv2_40_42" fill="#d1cdcd" stroke="#d1cdcd"/><use href="#kv2_22" fill="#d1cdcd" stroke="#d1cdcd"/><use href="#kv2_23" fill="#d1cdcd" stroke="#d1cdcd"/><use href="#kv2_36_39" fill="#d1cdcd" stroke="#d1cdcd"/><use href="#kv2_21" fill="#d1cdcd" stroke="#d1cdcd"/><use href="#kv1_1_27" fill="#d1cdcd" stroke="#d1cdcd"/><use href="#kv1_5_7" fill="#d9afaf" stroke="#d9afaf"/><use href="#kv1_16" fill="#d1cdcd" stroke="#d1cdcd"/><use href="#kv1_17" fill="#df8282" stroke="#df8282"/><use href="#kv1_21_24" fill="#e63c3c" stroke="#e63c3c"/><use href="#kv1_20a" fill="#e63c3c" stroke="#e63c3c"/><use href="#kv1_20b" fill="#e63c3c" stroke="#e63c3c"/><use href="#kv1_18_19" fill="#df8282" stroke="#df8282"/><use href="#kv1_12_15" fill="#df8282" stroke="#df8282"/><use href="#kv1_10_11" fill="#df8282" stroke="#df8282"/><use href="#kv1_25_26" fill="#df8282" stroke="#df8282"/><use href="#kv1_30_32" fill="#df8282" stroke="#df8282"/><use href="#kc52_56" fill="#df8282" stroke="#df8282"/><use href="#kc50_51" fill="#df8282" stroke="#df8282"/><use href="#kc46" fill="#e63c3c" stroke="#e63c3c"/><use href="#kc45" fill="#df8282" stroke="#df8282"/><use href="#kc44" fill="#d9afaf" stroke="#d9afaf"/><use href="#kv1_28_29" fill="#d1cdcd" stroke="#d1cdcd"/><use href="#kv1_2_4" fill="#d1cdcd" stroke="#d1cdcd"/><use href="#kv1_8" fill="#d1cdcd" stroke="#d1cdcd"/><use href="#kv1_7" fill="#d9afaf" stroke="#d9afaf"/></g><rect x="1030.6" y="2283.5" width="251.8" height="265.2" fill="url(#spkS)"/><g font-family="Liberation Sans, Arial, sans-serif" font-size="28.5" font-style="italic" fill="#111"><text x="1111.8" y="1084.8">Slc32a1</text><text x="1111.0" y="1389.7">Slc17a6</text><text x="1110.3" y="1694.8">Slc17a7</text><text x="143.8" y="2042.7">Meis2</text><text x="448.5" y="2042.7">Six3</text><text x="736.8" y="2042.7">Pbx3</text><text x="1025.9" y="2042.7">Ptk2b</text><text x="145.6" y="2325.2">Zfhx3</text><text x="437.3" y="2325.2">Meis1</text><text x="728.1" y="2325.2">Nxph4</text><text x="1038.0" y="2325.2">Nfib</text></g><text x="1041" y="1069" font-family="Liberation Sans, Arial, sans-serif" font-weight="bold" font-size="41" fill="#111">f</text>
<rect x="41.8" y="8.6" width="572.7" height="257.1" fill="none" stroke="#b4b4b4" stroke-width="1.3"/><text x="4" y="34" font-family="Liberation Sans, Arial, sans-serif" font-weight="bold" font-size="41" fill="#111">a</text><defs><radialGradient id="shd"><stop offset="0" stop-color="#dcdcdc"/><stop offset="1" stop-color="#fff" stop-opacity="0"/></radialGradient></defs><ellipse cx="438" cy="262" rx="72" ry="40" fill="url(#shd)"/><ellipse cx="200" cy="75" rx="40" ry="26" fill="url(#shd)" opacity="0.6"/><g transform="translate(138.2 57.0) scale(0.800)"><path d="M-7 14 C-40 14 -60 12 -68 18 C-74 24 -70 33 -60 33 C-40 34 -20 32 -5 30" fill="#fff" stroke="#b4b4b4" stroke-width="3"/><path d="M-38 18 C-44 -4 -30 -28 -4 -28 C20 -28 36 -18 46 -8 C54 -2 60 2 62 6 C58 12 50 14 44 16 C30 24 -20 26 -38 18Z" fill="#b4b4b4"/><ellipse cx="35" cy="-19" rx="7" ry="8" fill="#b4b4b4"/><path d="M52 10 l12 6 M52 12 l10 12" stroke="#b4b4b4" stroke-width="1"/></g><g transform="translate(101.4 179.4) scale(0.800)"><path d="M-7 14 C-40 14 -60 12 -68 18 C-74 24 -70 33 -60 33 C-40 34 -20 32 -5 30" fill="#fff" stroke="#cbcbcb" stroke-width="3"/><path d="M-38 18 C-44 -4 -30 -28 -4 -28 C20 -28 36 -18 46 -8 C54 -2 60 2 62 6 C58 12 50 14 44 16 C30 24 -20 26 -38 18Z" fill="#cbcbcb"/><ellipse cx="35" cy="-19" rx="7" ry="8" fill="#cbcbcb"/><path d="M52 10 l12 6 M52 12 l10 12" stroke="#cbcbcb" stroke-width="1"/></g><g transform="translate(362.5 233.2) scale(0.780)"><path d="M-7 14 C-40 14 -60 12 -68 18 C-74 24 -70 33 -60 33 C-40 34 -20 32 -5 30" fill="#fff" stroke="#c3c3c3" stroke-width="3"/><path d="M-38 18 C-44 -4 -30 -28 -4 -28 C20 -28 36 -18 46 -8 C54 -2 60 2 62 6 C58 12 50 14 44 16 C30 24 -20 26 -38 18Z" fill="#c3c3c3"/><ellipse cx="35" cy="-19" rx="7" ry="8" fill="#c3c3c3"/><path d="M52 10 l12 6 M52 12 l10 12" stroke="#c3c3c3" stroke-width="1"/></g><g transform="translate(86.0 28.0) scale(1.00)" fill="#575757" stroke="#575757"><path d="M-8 -12 L4 -8 C12 -6 16 2 12 10 C8 16 -2 16 -6 10 L-14 -2 Z" stroke="none"/><path d="M18 -4 L30 -6 M16 10 L27 17 M6 20 L10 31" stroke-width="4" fill="none"/></g><g transform="translate(310.0 199.0) scale(0.92)" fill="#575757" stroke="#575757"><path d="M-8 -12 L4 -8 C12 -6 16 2 12 10 C8 16 -2 16 -6 10 L-14 -2 Z" stroke="none"/><path d="M18 -4 L30 -6 M16 10 L27 17 M6 20 L10 31" stroke-width="4" fill="none"/></g><path d="M131 66 L160 69 L156 73 L190 89 L152 78 L156 75 Z" fill="#7a7a7a"/><text x="117.3" y="63" font-family="Liberation Sans, Arial, sans-serif" font-size="24.4" fill="#111">CFC</text><text x="344.7" y="236" font-family="Liberation Sans, Arial, sans-serif" font-size="24.4" fill="#111">recall</text><path d="M60.8 125.2H411V113.5L456 137.2L411 160.5V149.2H60.8Z" fill="#333"/><path d="M354.8 158.5H443.5V147L490 170L443.5 193.5V181.5H354.8Z" fill="#333"/><rect x="316.5" y="157.5" width="6.3" height="24" fill="#333"/><rect x="332.6" y="157.5" width="12" height="24" fill="#333"/><g font-family="Liberation Sans, Arial, sans-serif" font-size="24" fill="#e2e2e2"><text x="77.0" y="144.5">HC</text><text x="128.5" y="144.5">0</text><text x="153.5" y="144.5">2</text><text x="212.3" y="144.5">8</text><text x="264.0" y="144.5">hours</text><text x="369.0" y="144.5">24</text><text x="366" y="177.5">24</text><text x="424" y="177.5">26</text></g><path d="M83.6 88H104.3L93.9 127.0Z" fill="#9b9b9b"/><path d="M148.4 88H169.0L158.7 127.0Z" fill="#2ea2de"/><path d="M208.0 88H228.7L218.3 127.0Z" fill="#f6b233"/><path d="M369.0 88H390.0L379.5 125.0Z" fill="#f29a1e"/><path d="M427 219.7H447.5L437.2 183.5Z" fill="#1e6ab2"/><path d="M451 0H479.5L466.3 54Z" fill="#8c8c8c"/><path d="M134.5 85.5V112" stroke="#000" stroke-width="3"/><path d="M127.6 110H141.5L134.5 123.5Z" fill="#000"/><path d="M377.8 214V193" stroke="#000" stroke-width="3"/><path d="M371 196H384.6L377.8 183.5Z" fill="#000"/><path d="M613.5 31.8L603.1 27.6L589.3 30.4L575.5 34.6L561.7 41.5L547.8 51.2L536.8 62.2L528.5 76.0L523.6 89.9L522.9 105.1L525.7 120.3L531.2 132.7L539.5 145.2L549.2 154.8L557.5 161.8L567.2 159.0L578.2 152.1L586.5 145.2L592.1 149.3L603.1 154.8L613.5 156.2Z" fill="#acacac" stroke="#9a9a9a" stroke-width="1"/><path d="M560.3 77.4L564.4 71.9L572.7 67.7L586.5 65.0L599.0 66.4L613.5 65.0L613.5 156.2L603.1 153.5L592.1 146.5L583.8 136.9L574.1 124.4L564.4 110.6L561.7 96.8Z" fill="#949494"/><path d="M553.4 71.9L549.2 82.9L550.6 94.0L556.1 105.1L561.7 113.4" fill="none" stroke="#e8e8e8" stroke-width="4"/><path d="M542.3 120.3L550.6 114.7L561.7 113.4L571.3 121.7L579.6 130.0L583.8 139.6L578.2 147.9L570.0 152.1L558.9 156.2L553.4 152.1L549.2 142.4L545.1 132.7Z" fill="#dfe074"/><path d="M537.5 110.6L542.3 105.1L550.6 110.6L552.0 118.9L545.1 121.7L538.2 118.9Z" fill="#353535"/><path d="M546.5 132.7L552.0 128.6L557.5 136.9L556.1 143.8L549.2 142.4Z" fill="#353535"/><path d="M564.4 124.4L571.3 120.3L582.4 128.6L579.6 132.7L568.6 131.3Z" fill="#353535"/><path d="M568.6 146.5L578.2 141.0L585.2 143.8L579.6 150.7L571.3 152.1Z" fill="#353535"/><path d="M552.0 152.1L560.3 149.3L565.8 156.2L558.9 161.8L552.7 159.0Z" fill="#353535"/><text x="475.3" y="38" font-family="Liberation Sans, Arial, sans-serif" font-size="24.6" fill="#111">scRNA-seq</text><text x="465.6" y="60.1" font-family="Liberation Sans, Arial, sans-serif" font-size="24.6" fill="#111">full amygdala</text><rect x="502.2" y="168" width="165.6" height="108" fill="#fff" stroke="#8a8a8a" stroke-width="1.2"/><text x="505" y="192.2" font-family="Liberation Sans, Arial, sans-serif" font-size="24.4" fill="#111">Batch1</text><text x="590" y="192.2" font-family="Liberation Sans, Arial, sans-serif" font-size="24.4" fill="#111">Batch2</text><rect x="506.6" y="200.5" width="71.7" height="19.3" fill="#9a9a9a"/><rect x="591.8" y="200.5" width="71.9" height="19.3" fill="#9a9a9a"/><text x="542.5" y="218.8" text-anchor="middle" font-family="Liberation Sans, Arial, sans-serif" font-size="23.5" fill="#111">HC</text><text x="627.7" y="218.8" text-anchor="middle" font-family="Liberation Sans, Arial, sans-serif" font-size="23.5" fill="#111">HC</text><rect x="506.6" y="226.7" width="71.7" height="19.3" fill="#36a8e0"/><rect x="591.8" y="226.7" width="71.9" height="19.3" fill="#f5b04a"/><text x="542.5" y="245.0" text-anchor="middle" font-family="Liberation Sans, Arial, sans-serif" font-size="23.5" fill="#111">2h</text><text x="627.7" y="245.0" text-anchor="middle" font-family="Liberation Sans, Arial, sans-serif" font-size="23.5" fill="#111">8h</text><rect x="506.6" y="253.0" width="71.7" height="19.0" fill="#1e64b0"/><rect x="591.8" y="253.0" width="71.9" height="19.0" fill="#f29020"/><text x="542.5" y="271.0" text-anchor="middle" font-family="Liberation Sans, Arial, sans-serif" font-size="23.5" fill="#0d1a33">recall</text><text x="627.7" y="271.0" text-anchor="middle" font-family="Liberation Sans, Arial, sans-serif" font-size="23.5" fill="#111">24h</text>
<path d="M834.2 157.3L844.5 136.8L851.3 112.9L861.6 95.8L875.2 82.1L895.8 76.9L916.3 78.7L936.8 88.9L950.5 102.6L960.7 119.7L962.4 143.6L957.3 164.2L943.6 177.8L923.1 184.7L902.6 186.4L878.7 184.7L861.6 181.3L851.3 184.7L835.9 188.1Z" fill="#9c6331" stroke="#9c6331" stroke-width="3" stroke-linejoin="round"/><path d="M952.0 174.2h0M832.2 180.3h0M838.0 146.3h0M940.5 174.3h0M958.2 115.3h0M960.8 156.2h0M898.7 72.7h0M862.4 101.5h0M951.7 170.8h0M855.5 183.4h0M838.8 164.0h0M833.0 172.7h0M867.8 83.0h0M839.2 170.3h0" stroke="#9c6331" stroke-width="3" stroke-linecap="round"/><path d="M1036.0 47.9L1046.2 39.3L1063.3 37.6L1077.0 44.5L1087.3 58.1L1094.1 68.4L1090.7 73.5L1080.4 68.4L1066.8 63.3L1053.1 63.3L1039.4 59.8Z" fill="#8a8a8a" stroke="#8a8a8a" stroke-width="3" stroke-linejoin="round"/><path d="M1081.9 50.2h0M1043.1 41.4h0M1038.2 49.8h0M1075.3 47.9h0M1078.8 44.1h0M1045.5 46.2h0M1063.5 59.3h0M1057.9 64.1h0M1036.2 46.1h0M1038.0 54.2h0M1043.3 56.6h0M1082.5 48.6h0M1048.5 35.7h0M1047.7 60.6h0" stroke="#8a8a8a" stroke-width="3" stroke-linecap="round"/><path d="M1090.7 78.7L1101.0 73.5L1118.1 76.9L1131.7 88.9L1142.0 102.6L1143.7 116.3L1138.6 126.5L1128.3 133.4L1118.1 131.7L1107.8 121.4L1097.5 109.4L1092.4 95.8Z" fill="#262626" stroke="#262626" stroke-width="3" stroke-linejoin="round"/><path d="M1105.4 73.7h0M1091.4 92.9h0M1133.7 129.2h0M1120.2 77.5h0M1116.0 122.6h0M1096.1 70.5h0M1142.9 109.1h0M1098.4 107.5h0M1101.4 78.3h0M1136.6 121.7h0M1103.7 123.8h0M1100.3 113.9h0M1114.4 80.3h0M1147.7 119.4h0" stroke="#262626" stroke-width="3" stroke-linecap="round"/><path d="M1041.1 116.3L1046.2 111.1L1056.5 119.7L1063.3 130.0L1068.5 143.6L1063.3 148.8L1054.8 143.6L1046.2 133.4Z" fill="#a9a9a9" stroke="#a9a9a9" stroke-width="3" stroke-linejoin="round"/><path d="M1043.2 118.1h0M1052.7 138.6h0M1065.9 135.2h0M1036.9 118.7h0M1067.7 143.4h0M1062.5 122.3h0M1067.3 130.3h0M1051.4 144.0h0M1061.1 132.9h0M1071.4 141.5h0M1064.6 123.4h0M1063.3 147.1h0M1056.0 124.2h0M1043.6 133.9h0" stroke="#a9a9a9" stroke-width="3" stroke-linecap="round"/><path d="M976.1 212.0L981.3 191.5L994.9 177.8L1013.7 172.7L1036.0 177.8L1049.7 194.9L1053.1 215.5L1046.2 236.0L1029.1 247.9L1008.6 249.7L991.5 242.8L979.5 229.1Z" fill="#8fcfcb" stroke="#8fcfcb" stroke-width="3" stroke-linejoin="round"/><path d="M1039.1 177.4h0M996.9 245.8h0M986.6 241.7h0M976.4 222.8h0M992.0 175.2h0M1054.4 205.4h0M1019.9 248.3h0M1045.5 229.2h0M1044.8 241.3h0M1022.5 249.8h0M1047.3 197.7h0M1028.9 244.9h0M1051.3 204.5h0M989.6 184.0h0" stroke="#8fcfcb" stroke-width="3" stroke-linecap="round"/><path d="M923.1 242.8L933.4 236.0L950.5 232.6L960.7 236.0L957.3 241.1L936.8 244.5Z" fill="#cfe6ea" stroke="#cfe6ea" stroke-width="3" stroke-linejoin="round"/><path d="M936.5 234.1h0M952.4 230.6h0M941.1 238.9h0M953.4 233.9h0M933.1 240.9h0M926.9 243.3h0M959.2 239.5h0M927.0 239.4h0M937.8 241.7h0M931.4 234.4h0M926.0 248.0h0M950.1 237.0h0M929.2 236.1h0M931.2 234.3h0" stroke="#cfe6ea" stroke-width="3" stroke-linecap="round"/><path d="M1123.2 236.0L1135.2 218.9L1138.6 201.8L1145.4 193.2L1155.7 196.6L1162.5 212.0L1169.4 232.6L1179.6 249.7L1189.9 270.2L1183.0 273.6L1165.9 266.8L1145.4 256.5L1128.3 246.2Z" fill="#b48a9a" stroke="#b48a9a" stroke-width="3" stroke-linejoin="round"/><path d="M1163.3 218.6h0M1153.1 202.8h0M1123.1 245.7h0M1151.8 200.5h0M1167.9 226.3h0M1174.5 241.8h0M1138.9 213.3h0M1161.0 199.7h0M1126.5 234.7h0M1132.6 244.7h0M1154.9 196.9h0M1155.5 202.2h0M1189.5 273.1h0M1139.6 214.3h0" stroke="#b48a9a" stroke-width="3" stroke-linecap="round"/><path d="M1075.3 261.6L1083.9 256.5L1094.1 263.3L1090.7 273.6L1089.0 294.1L1085.6 295.8L1083.9 277.0L1077.0 270.2Z" fill="#1ea6aa" stroke="#1ea6aa" stroke-width="3" stroke-linejoin="round"/><path d="M1088.6 290.9h0M1087.8 290.5h0M1086.7 282.6h0M1095.0 265.3h0M1079.8 270.1h0M1082.8 279.7h0M1087.3 286.0h0M1077.9 269.6h0M1080.6 274.1h0M1083.0 274.7h0M1086.1 287.4h0M1088.5 279.0h0M1087.6 285.6h0M1090.8 271.8h0" stroke="#1ea6aa" stroke-width="3" stroke-linecap="round"/><path d="M906.0 297.5L923.1 297.5L943.6 304.4L964.2 309.5L991.5 318.1L1018.9 328.3L1039.4 338.6L1059.9 348.8L1061.6 359.1L1053.1 372.8L1032.6 383.0L1005.2 388.2L977.8 386.5L953.9 383.0L936.8 369.4L923.1 352.3L912.9 331.7L907.7 314.6Z" fill="#16737c" stroke="#16737c" stroke-width="3" stroke-linejoin="round"/><path d="M932.4 365.6h0M928.5 364.8h0M916.1 294.3h0M909.1 297.9h0M925.9 355.6h0M911.2 315.3h0M1015.0 331.6h0M1005.2 387.0h0M1000.7 389.1h0M1047.8 341.6h0M1019.7 388.8h0M957.1 309.1h0M1009.7 389.0h0M1045.0 342.7h0" stroke="#16737c" stroke-width="3" stroke-linecap="round"/><path d="M1224.1 150.5L1229.2 147.7L1233.7 152.2L1229.2 155.6Z" fill="#5a4a7a" stroke="#5a4a7a" stroke-width="3" stroke-linejoin="round"/><path d="M1226.2 146.4h0M1224.2 153.5h0M1228.3 149.8h0M1229.8 153.6h0M1229.9 147.1h0M1226.6 145.6h0M1227.3 152.0h0M1227.9 151.1h0M1227.4 151.5h0M1228.6 153.1h0M1225.5 150.3h0M1229.8 155.2h0M1222.6 153.0h0M1228.4 151.1h0" stroke="#5a4a7a" stroke-width="3" stroke-linecap="round"/><rect x="830" y="30" width="430" height="305" fill="url(#spkB)"/><rect x="866" y="335" width="394" height="65" fill="url(#spkB)"/><path d="M875.2 130.0L885.5 119.7L895.8 123.1L897.5 136.8L888.9 143.6L878.7 140.2Z" fill="#fff" opacity="0.85"/><path d="M902.6 143.6L930.0 136.8L950.5 147.1L953.9 171.0L930.0 181.3L902.6 177.8Z" fill="#6e4020" opacity="0.5"/><text x="1066.8" y="355.7" font-family="Liberation Sans, Arial, sans-serif" font-size="28.9" fill="#111">non-neuronal</text><text x="1080.4" y="379.6" font-family="Liberation Sans, Arial, sans-serif" font-size="25.1" fill="#111">(25,330 cells)</text><circle cx="1008.6" cy="412.0" r="5" fill="#e9cda9"/><text x="1020.6" y="420.5" font-family="Liberation Sans, Arial, sans-serif" font-size="24.9" fill="#111">Ependymal</text><circle cx="1008.6" cy="434.5" r="5" fill="#6a3a1e"/><text x="1020.6" y="443.0" font-family="Liberation Sans, Arial, sans-serif" font-size="24.9" fill="#111">Astrocyte (TELENC)</text><circle cx="1008.6" cy="457.0" r="5" fill="#9a5a30"/><text x="1020.6" y="465.5" font-family="Liberation Sans, Arial, sans-serif" font-size="24.9" fill="#111">Astrocyte (DIENC)</text><circle cx="1008.6" cy="479.8" r="5" fill="#b8845a"/><text x="1020.6" y="488.3" font-family="Liberation Sans, Arial, sans-serif" font-size="24.9" fill="#111">Astro-like RGL</text><circle cx="1016.5" cy="517.0" r="5" fill="#cfe6ea"/><text x="1028.5" y="525.5" font-family="Liberation Sans, Arial, sans-serif" font-size="24.9" fill="#111">OPC-cycling</text><circle cx="1016.5" cy="539.7" r="5" fill="#8fcfcb"/><text x="1028.5" y="548.2" font-family="Liberation Sans, Arial, sans-serif" font-size="24.9" fill="#111">OPC</text><circle cx="1016.5" cy="562.0" r="5" fill="#1a8a90"/><text x="1028.5" y="570.5" font-family="Liberation Sans, Arial, sans-serif" font-size="24.9" fill="#111">COP</text><circle cx="1016.5" cy="584.8" r="5" fill="#146a78"/><text x="1028.5" y="593.3" font-family="Liberation Sans, Arial, sans-serif" font-size="24.9" fill="#111">Oligodendrocyte</text><circle cx="1002.8" cy="617.0" r="5" fill="#222222"/><text x="1014.8" y="625.5" font-family="Liberation Sans, Arial, sans-serif" font-size="24.9" fill="#111">Endothelial</text><circle cx="1002.8" cy="639.5" r="5" fill="#777777"/><text x="1014.8" y="648.0" font-family="Liberation Sans, Arial, sans-serif" font-size="24.9" fill="#111">Pericyte</text><circle cx="1002.8" cy="662.0" r="5" fill="#c8c8c8"/><text x="1014.8" y="670.5" font-family="Liberation Sans, Arial, sans-serif" font-size="24.9" fill="#111">VLMC</text><circle cx="1002.8" cy="685.0" r="5" fill="#a0a0a0"/><text x="1014.8" y="693.5" font-family="Liberation Sans, Arial, sans-serif" font-size="24.9" fill="#111">VSM</text><circle cx="1137.9" cy="644.7" r="5" fill="#b08898"/><text x="1149.9" y="653.2" font-family="Liberation Sans, Arial, sans-serif" font-size="24.9" fill="#111">Microglia</text><circle cx="1137.9" cy="667.0" r="5" fill="#5a4a78"/><text x="1149.9" y="675.5" font-family="Liberation Sans, Arial, sans-serif" font-size="24.9" fill="#111">PVM</text><text x="819.5" y="33.5" font-family="Liberation Sans, Arial, sans-serif" font-weight="bold" font-size="41" fill="#111">b</text>
</svg></body></html>
